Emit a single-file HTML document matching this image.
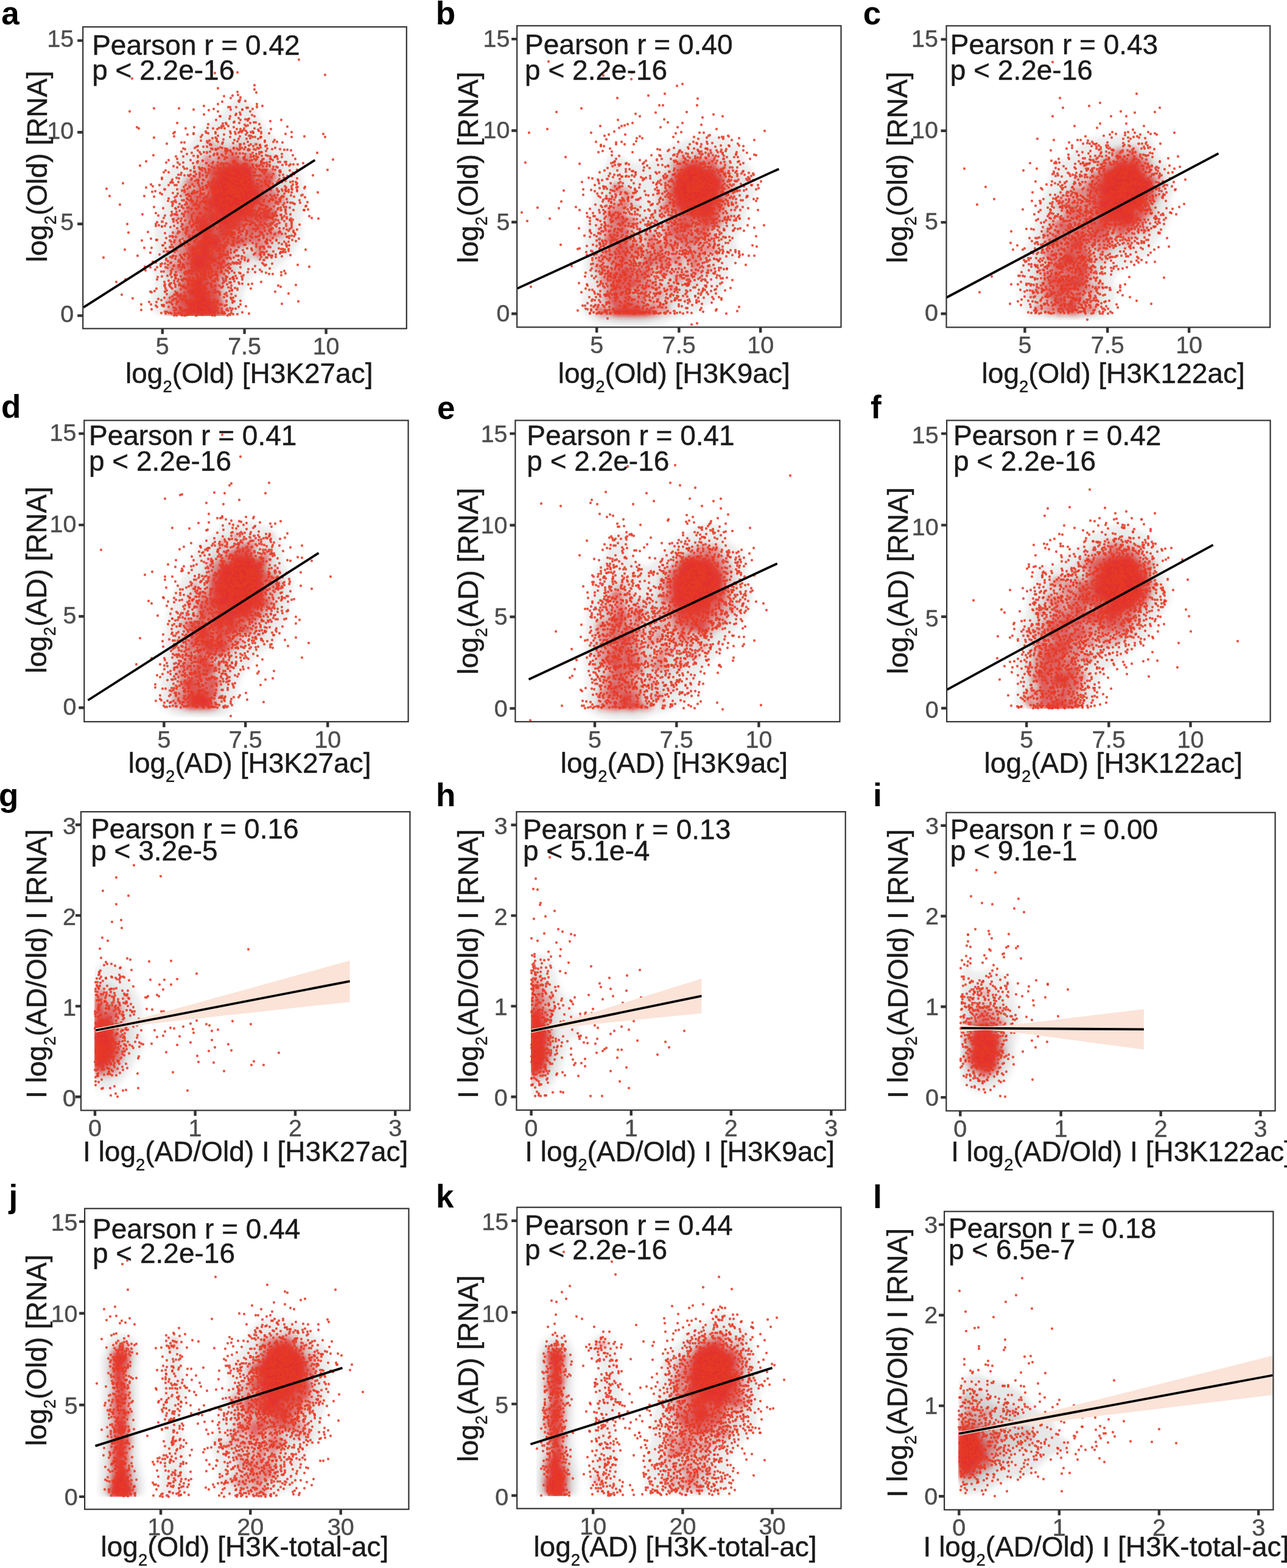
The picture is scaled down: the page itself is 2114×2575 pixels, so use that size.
<!DOCTYPE html><html><head><meta charset="utf-8"><title>Figure</title><style>html,body{margin:0;padding:0;background:#fff;}svg{display:block;}text{font-family:'Liberation Sans', Arial, Helvetica, sans-serif;stroke-width:0.45px;}</style></head><body>
<svg xmlns="http://www.w3.org/2000/svg" width="2114" height="2575" viewBox="0 0 2114 2575">
<rect width="2114" height="2575" fill="#fff"/>
<defs><filter id="bl2" x="-5%" y="-5%" width="110%" height="110%"><feGaussianBlur stdDeviation="2"/></filter><filter id="bl3" x="-10%" y="-10%" width="120%" height="120%"><feGaussianBlur stdDeviation="3.5"/></filter><filter id="bl4" x="-10%" y="-10%" width="120%" height="120%"><feGaussianBlur stdDeviation="4"/></filter></defs>
<g id="pa">
<clipPath id="ca"><rect x="136.2" y="44.2" width="531.6" height="495.4"/></clipPath>
<g clip-path="url(#ca)">
<g clip-path="url(#ga)"><g fill="#707070" fill-opacity="0.13" filter="url(#bl4)"><path d="M397 161l-12 0l-21 24l-41 35l-10 15l-28 30l-25 43l0 6l7 12l0 13l-13 27l1 52l-6 21l6 19l0 10l-7 25l1 11l10 14l135 0l5-9l1-27l14-27l8-5l14 0l14-6l29-24l13-23l4-18l-1-21l9-19l0-14l-13-52l-17-25l-31-30l-17-24l-6-17z"/><path d="M409 220l-5 0l-21 12l-31-2l-9 4l-48 67l-12 49l-1 23l-13 58l3 37l-6 33l8 17l104 0l5-9l1-33l9-31l7-13l10-7l15 4l17-3l27-26l7-11l3-10l0-74l-24-43l-34-34z"/><path d="M412 257l-19-5l-15 0l-22 9l-20 18l-26 40l-13 90l-6 23l1 33l-9 25l0 15l9 13l69 0l7-13l-4-39l20-52l20-16l28-4l12-11l7-13l5-16l0-15l-8-49l-13-18z"/><path d="M402 269l-23-2l-14 6l-9 8l-11 22l-8 46l-12 24l-2 22l-8 26l0 31l-12 41l0 12l10 9l22 2l14-7l2-7l-9-43l16-35l7-30l29-26l25-11l8-10l0-47l-9-19z"/><path d="M384 277l-14 6l-8 10l-5 13l-1 16l10 18l11 6l15 1l10-4l10-11l4-22l-8-23l-10-8z"/></g></g><g clip-path="url(#ga)"><g fill="#e8231f" fill-opacity="0.2" filter="url(#bl3)"><path d="M373 481l-1 5l5 1l1-5zM389 428l-1 5l5 1l1-5zM408 419l-4 0l-4 3l-1 4l2 3l4 1l4-2l2-5zM443 415l-1 5l5 1l1-5zM471 370l1 5l6 4l5-1l-1-5l-6-4zM472 356l-1 5l5 1l1-5zM475 310l-13 0l-1 5l13 0zM421 234l-4 3l0 4l5 3l4-3l0-4zM446 256l-4 0l-1 5l-5 4l-13-7l-7 2l-2-2l2-11l-5-1l-9 4l-1 7l-4 2l-2-4l1-6l7-5l0-5l-3-2l-10 3l-6-1l-11 7l-4-4l-9-4l-9 2l0-7l-3-4l-5 0l-4 4l0 5l3 3l7 1l-1 7l4 7l-3 3l-5-6l-5 0l-5 6l-2 6l-5-2l-4 3l0 5l3 4l-1 6l-3 2l-4-2l-5 1l2 7l-12 7l-2 11l-4 3l2 14l5 4l1 5l-5 6l0 7l-8 6l-6 1l-3 4l1 7l5 0l7-3l3 5l-4 5l1 6l-8 0l-8 13l2 4l-2 11l6 11l-10 7l-3 7l-1 11l4 11l4 0l4-5l11 5l1 4l-2 2l-9 1l0 4l6 3l1 6l-7 1l0 8l-10 6l-3 5l0 6l4 7l-5 4l-1 4l4 5l6 0l7 5l10-1l4 2l51 0l4-2l12 2l6-2l2-2l0-4l-6-8l3-6l0-6l-7-4l2-15l-3-3l6-8l4 1l4-3l0-4l-5-6l0-6l8-3l2-3l-7-12l8-4l1-10l8-8l10-1l6-5l4 0l2 7l-1 10l7 6l9 0l4-3l3-7l0-8l6-5l1-5l10-6l8 0l4-3l-1-8l-16-4l2-5l7 0l2-2l0-5l-4-5l1-12l-4-5l0-3l3-3l2 8l6 0l6-14l0-5l-5-4l-6 0l-3-7l-7-5l1-9l2-2l6 1l1-5l-4-4l-2-11l-7-5l-6-1l1-8l5-4zM362 459l5-2l3 5l-2 2l-4-1zM294 394l2-3l3 0l4 5l-4 3zM311 309l4-1l2 2l-5 1zM402 201l-1 5l5 1l1-5z"/><path d="M373 460l2 3l1-2zM284 423l-3 0l-2 3l4 0zM406 421l-4 3l1 3l5-2zM290 355l-4 2l0 4l5-2zM326 267l0 4l4 2l0-5zM400 241l-10 3l-7-2l-3 4l-6 3l-13-8l-9 2l-2 3l2 4l3 0l3-4l2 0l3 3l1 5l-9 2l-1 5l3 3l-5 4l-4 0l-2-2l-1-9l-5-2l-4 5l0 4l4 5l0 6l-3 3l-7 1l-6 8l4 6l4 1l7-9l3 7l-5 7l-6 4l-4-6l-9-4l-10 1l-3 3l0 9l10-1l8 1l2 2l-7 6l-6 0l-5-4l-7 2l2 9l9 2l3 3l-7 1l0 9l-5 4l1 15l-2 2l-2-1l-1 2l5 3l1 5l-6 4l2 10l-2 2l-8-2l-7 9l3 6l-3 10l1 3l7 6l0 4l-5 4l7-1l6 6l-6 6l-7-4l-3 7l-6-1l-2 2l0 5l3 3l6-1l9 5l6 0l1 5l-2 8l-4 4l1 10l-8 8l-10 5l-3 5l2 6l7 2l-1 3l-9 5l0 4l2 2l6-1l4 5l12 0l6 3l10-2l8 2l28 0l7-3l9 2l7-2l1-4l-9-10l5-3l1-5l-6-4l0-10l-5-8l1-4l6-5l-6-3l-1-5l4-4l8-2l-1-10l10-1l0-3l-6-7l2-7l2-2l5 0l-1-3l-5 1l0-12l3-3l8 3l9-6l7 1l3-3l9-3l2 2l1 10l-1 9l5 4l7 0l6-9l0-4l-3-5l6-1l5-10l11-5l7-1l3-3l-2-4l-6-2l-5 0l-3 2l-8-1l4-2l3-5l-1-5l-5 1l-2-2l2-2l10-2l3 5l3 0l-4-6l2-13l-4-5l-2-7l5-4l8 1l5-5l-1-4l-9-2l-3-7l-5-2l-3-4l1-10l6-10l-2-9l-5-4l-9 0l-2-5l-6-4l-2-5l-4 0l3 6l-2 2l-6-2l-8-9l0-10l-7 2l-1 8l-8 2l-3-16l2-2l4 0zM300 405l2 3l-1 4l-3-2zM429 390l3-2l5 3l1 3l-6 2l-3-3zM297 387l3 1l5 6l0 4l-5 5l-9-8zM404 380l-2 3l-6-1l5-4zM385 248l3 2l-1 3l-4-1zM421 237l-1 3l2 1l1-3zM346 231l-5 3l0 3l3 2l4-2l0-4z"/><path d="M439 397l-5 1l0 4l5 0zM292 385l-7 5l2 3l3 0l2-3zM306 298l0 4l2 2l19 0l1-2l-2-4l-7-1l-2-2l-8 0zM334 280l-4 1l-3 7l3 4l3-1l3-8zM357 257l0 2l4-1zM407 252l-2 3l1 3l3 0l1-5zM450 281l-12-1l-7-8l-8 1l-8-2l-2-2l1-3l-3-3l-10-1l-7 4l-3-12l-9 1l-2-6l-10 3l-6-7l1 4l4 2l1 4l8 7l-1 3l-5-3l-7 7l-2-5l-3 0l-4 4l-8 2l-4-3l0-9l-4-1l-2 2l0 5l5 4l-2 18l3 5l-6 8l-2 7l-7 1l-7 8l-9 1l-5-4l-6 1l3 7l7 1l5 5l-2 3l-7 1l2 7l-7 4l3 21l2 2l5 0l3 4l-3 6l-7-5l-6 1l2 9l-2 7l8 11l-5 5l2 14l-3 2l-4-3l-3-5l1-5l-6-6l-4 4l1 2l4 1l5 14l4 1l5-2l1 5l-14 13l-5-1l-4 3l-6-1l0 4l6-1l4 4l9 2l5-6l5 0l-4 5l-1 19l-5 2l2 10l-10 9l-8 4l-4 5l1 3l4 0l4-7l3 1l2 7l-4 5l3 6l-4 2l-5-4l-6 4l1 2l7-2l5 7l10 0l6 3l10-2l7 2l29 0l7-3l6 0l3 2l6-2l0-4l-11-9l3-4l3 0l1-3l-5-6l1-7l-5-8l1-13l-2-7l7-7l4-1l-2-6l7-6l-2-9l3-3l2-19l3-3l12 1l5-4l7 1l13-6l5 9l-1 14l7 3l4-3l4-7l-6-5l-1-12l-8-5l-2-5l3-1l4 6l9-5l8 7l7-1l13-6l-2-3l-5-2l-15 5l-2-2l0-5l8-5l-1-2l-6-1l-1-3l4-4l7-2l5-8l-2-7l-8-6l2-7l7-2l8 1l4-3l-1-2l-7-2l-4-8l-4 0l-8 5l-4-2l0-2l8-6l1-11l6-10zM425 408l4 1l0 8l-2 0l-4-5zM316 382l2 2l-1 5l-3-2zM406 378l-1 7l-9 1l-4-3l-8-1l3-3l10-1l5-3zM318 346l1 1l-4 3l-1-2zM341 315l3 1l0 5l-5-2zM334 310l2 6l-6 6l-5-3l4-2zM421 278l2 0l5 7l0 3l-5 7l-4-3l0-12zM346 233l-3 1l1 3l3-2z"/><path d="M422 415l-1 2l4 2zM458 383l-6-1l-2 2l-4 0l-4 3l0 2l6 1l9-4zM329 310l-3 1l0 4l4-1zM307 299l2 3l17 0l-1-3l-7 1l-5-4l-4 0zM340 259l0 4l2 0l1-3zM449 283l-8 1l-11-9l-3 0l3 13l-7 10l-3 0l-2-3l0-16l3-5l-7-1l-3-3l-1-5l-11-1l-6 4l-2-2l1-8l-2-3l-9 2l-3-5l-2 0l-2 3l6 7l0 4l-2 2l-6-3l-6 6l-6-4l-8 5l-8 0l-2 14l3 6l-6 8l1 4l-3 5l1 5l5-1l3 4l0 3l-3 3l-5-3l-11 3l-7-7l-5 0l-3 2l-5-5l-3 1l2 5l5-1l9 8l4 0l3 4l-3 4l-5 0l0-4l-7 1l-1 2l5 6l-3 2l-8 0l-1 2l3 14l3 2l1-1l3 5l6 3l-2 7l4 3l0 2l-3 3l1 8l-5 2l-4-6l4-5l-1-3l-9-7l-4 2l2 14l7 10l3-2l2 2l0 3l-2 2l-6-1l-3 2l0 7l6 8l-4 10l-9 6l-5 6l-6 1l0 2l5 3l4 0l7-7l6 0l2 3l-7 7l0 18l-5 3l1 3l5 2l-1 7l2 4l-3 1l-3-5l-4 0l-6 6l0 5l4 7l-5 4l3 8l-4 6l10 1l5 3l48 0l6-3l6 0l3 2l5-2l-1-4l-6-3l-4-5l0-2l6-5l-4-6l0-7l-4-6l0-17l-2-3l-6-1l-1-7l2-1l5 7l5-4l3-10l8-6l0-4l-3-5l3-2l3-7l0-17l2-2l14 2l4-3l10 0l2-2l-4-7l1-3l-3 3l-3 0l-6-6l-10-2l0-2l4-3l13-2l7-4l0-3l-7-4l1-2l10 4l-2 14l6 5l-4 4l3 4l6 1l4 8l3 1l1-6l-12-12l4-4l-2-7l2-2l4 2l2 10l3 2l0-7l2-2l6 0l5-5l-4-6l7-6l6-2l3-6l-2-7l-7-3l-4-4l4-2l2-9l6 0l2-2l0-5l-5-2l-5 4l-8-1l1-5l9-9l0-8l6-10zM340 471l2-1l2 2l-3 1zM348 437l1-3l4 2l-3 3zM348 410l2-1l1 2l-2 1zM365 391l3-1l2 3l-3 2zM355 380l1 3l-2 1l-1-2zM412 364l5-2l5 4l-5 1l-4-1zM318 342l3 5l-8 6l-2-4zM430 333l2 3l-4 7l-7 5l-2-4l4-4l0-3l4-4zM436 327l4 3l-2 3l-3-1zM431 313l1-3l2 2l-2 2z"/><path d="M308 387l-1 3l4 3l1-5zM456 384l-3-1l-8 5l4 0zM304 371l-2 3l3 7l6 1l2-3l-6-7zM412 368l-2 2l-2 10l2 3l5 0l0-10l2-3zM306 343l1 11l3 2l1-3l-2-4l3-5zM447 321l-2 3l5 2l2-4zM314 319l1 2l6 2l0-4l-2-2zM306 314l-1 2l3 1zM309 298l1 3l3-1l-1-3zM447 284l-5 2l-6-5l-7-2l1 6l9 8l-4 2l-4-4l-2 1l-3 9l-6-1l-3-6l-1-14l2-5l-6-2l-3-6l-10-1l-6 4l-3-3l0-11l-3 0l-6 4l0 7l-2 2l-8-1l-4 4l-12-1l-3 7l-4-6l-3 1l0 5l-3 5l5 8l-6 8l-1 11l5 3l2 7l-4 4l-8-3l-3 3l-5 1l1 8l-7 4l-1 4l2 7l-6 6l-1 7l5 2l3 4l-3 3l3 5l-3 10l6 3l2 5l-4 3l-2-4l-3-1l-3 3l2 6l-3 3l-10 0l0 6l6 7l0 4l-5 10l-8 4l-4 7l-5 1l5 1l3-4l7-3l5 0l2 2l0 6l-5 2l-2 3l-1 10l3 13l-2 9l3 6l-5 1l-6-6l-6 6l0 5l4 4l8 1l4 8l-2 2l-4-5l-10-1l0 4l4 2l-4 6l1 3l6 0l7 4l7-2l10 2l30-1l6-3l5 0l2 2l5-1l-1-4l-6-2l-4-6l0-3l5-4l-4-8l0-4l-3-3l0-21l-6-1l-3-3l0-8l4-2l3 6l3 0l2-2l0-8l10-7l1-3l-5-7l5-3l3-6l0-8l-6-6l6-6l18 2l4-3l9 0l-3-5l-6-1l-3-4l-6 0l-6-3l0-4l3-3l15-3l5-4l-7-7l2-3l12 3l4-4l8 2l6 5l-3 4l-2 0l2 8l9-4l1-3l-2-4l16-11l0-10l-2-2l-4 0l-9-7l-10 11l-4 0l-3-4l1-4l8-9l7-1l1-15l-3 1l-2-5l3-5l5 6l7-5l0-8l6-11zM340 458l4 2l-1 7l4 5l-2 3l-4 0l-2-2l-2-11zM313 455l4-2l3 2l-2 2zM350 432l4 3l-1 4l-3 2l-4-5zM348 408l5 2l-2 4l-5-2zM364 390l4-1l4 3l0 2l-2 2l-4 0l-2-2zM356 378l2 5l-5 3l-1-5zM357 367l1 1l-3 5l-5-3zM330 345l2 1l-1 5l-3-1zM333 333l3-1l3 5l-5 2z"/><path d="M291 503l0 2l4 0l-1-2zM345 462l0 5l3 2l3-3l4 0l0-2l-5 0l-3-3zM304 373l0 4l7 3l-3-6zM431 371l-2 0l-3 4l4 0l2-2zM412 370l-3 9l2 3l3 0l0-12zM431 281l0 3l11 9l-8 5l-4-4l-1 3l5 4l1 7l2 2l4 0l3-4l0-9l5-9l-1-2l-8 1l-4-5zM389 257l-6 2l0 8l-3 3l-7-1l-5 4l-11 0l-6 8l-4-3l-4 4l0 3l3 3l4 0l5 4l-2 3l-7-1l-4 5l5 22l-4 4l-8-3l-5 4l1 6l4-2l5 4l0 5l-7 4l1 6l-3 6l-5-4l4-17l-3 4l-5 2l2 8l-4 6l2 3l-1 4l3 5l-2 4l2 9l-3 3l0 3l6 1l2 7l-3 5l-3 0l-1-4l-3-2l-2 3l3 6l-6 4l-8-2l0 7l6 6l-4 16l4 1l1 9l-8 8l2 5l-2 7l3 5l0 7l-3 6l5 7l4 0l5 3l-6 2l-3-2l-9-1l-4-5l-3 0l-3 4l0 5l2 2l9 2l5 6l0 6l-2 2l-7-5l-6 7l1 3l10 4l10-2l6 2l31 0l10-5l4 3l4-1l-2-3l-4 0l-4-6l-1-6l4-3l-1-5l-3-3l-7 3l-3-4l2-3l6 0l0-15l-4-2l-2 4l-5 3l-6-3l-1-5l-3-3l6-11l5 3l0-7l4-4l4 1l2 5l2 0l1-5l-2-4l12-8l-6-7l0-2l6-4l0-3l-9 0l-1 4l-3-1l0-3l4-5l7 2l5-3l0-4l-8-4l-2-3l7-1l3-3l-1-2l-5 0l-2-2l0-6l2-2l5 2l4 4l0 3l6 3l10 1l4-3l6 1l2-1l-2-3l-4 0l-5-4l-10 4l-4-2l1-9l3-5l10-4l6 0l4-3l-6-7l2-4l7 0l6 3l4-4l4 0l17 6l13-9l-1-9l-4 1l-7-7l-3 0l-7 9l-4 1l-5-3l-1-7l10-10l6-2l-1-10l-3-2l2-11l-3-3l-7-1l-2-2l-3-24l-8-8l-6 0l-8 3l-4-4zM329 451l-1 4l-5-1l-4 4l-9 2l-2-3l4-5l11 0l2-2zM333 443l3 0l6 6l0 4l-2 2l-4-7l-4-3zM351 431l4 3l0 4l-6 5l-4-9zM323 411l3-1l2 3l-4 2zM347 407l5 0l3 4l0 4l-7 1l-4-5zM357 364l3 3l-2 5l1 11l-3 4l-4 1l-2-5l4-8l-6-5l0-2zM406 352l2 3l-4 3l-1-4zM429 351l2 4l-3 3l-1-4zM339 345l2-1l2 4l-2 1zM350 343l4 3l-1 3l-5-3z"/><path d="M351 473l-3 5l0 6l5 2l0-13zM364 400l3 1l2-2l-4-1zM393 395l-4-3l-8 4l5 3l4 0zM412 377l-1 3l2 1l1-1zM434 343l-4 4l2 4l-1 11l6 1l6-5l1-4l-5-9zM327 340l-4 1l2 5l3-3zM442 296l-6 2l-1 6l3 5l5-2zM447 287l-4 2l1 2l3-1zM345 281l-1 4l4 2l2-3l-2-3zM389 258l-3 0l-3 3l0 9l-10 1l-7 4l-1 4l-5-4l-6 4l-2 8l6 6l-4 3l-8 0l-3 3l5 21l-5 6l-5-3l-3 0l-3 3l0 3l5 1l4 4l1 7l4 6l-3 4l-2 0l-4-3l0-5l-2 0l-1 10l8 7l3 0l1 3l-9 1l-4-7l-10-4l0 10l3 5l-2 3l1 9l-3 4l2 1l3-2l3 3l0 7l-2 5l-5 2l-5 5l-12 0l1 5l6 5l-3 14l4 3l-1 13l-6 5l11 1l11-5l2 7l-3 3l-15 4l-1 3l5 5l-11 10l0 3l5 5l10 3l-2 3l-6 1l-7-3l-5 0l-4-5l-4 1l-2 4l2 4l9 2l6 7l0 7l-2 2l-9-3l-4 5l12 6l6-2l10 2l30-1l8-5l0-4l-3-5l3-10l-3-1l-5 2l-4-3l-2-5l-6-1l0-2l7-6l-7-3l-7-10l5-7l0-6l-3-5l-5-2l3-4l4 0l8 7l4-4l-6-13l1-2l10 1l4 4l-1 5l4 0l4-5l0-2l-10-8l-2-5l-7-4l-1-8l7-2l8 8l11-2l-12-10l4-4l0-10l3-3l10 6l2-3l0-5l4-6l9-4l7 0l2-3l-6-9l3-2l5 0l0-5l3-3l5 2l-3 7l2 2l7-5l6 1l4-4l-10-7l0-7l4-2l6-8l6-1l-1-7l-4-3l3-12l-2-3l-5 0l-2 6l-3-2l1-7l-4-24l-9-8l-8 3l-6-1l-3-3l2-7zM350 503l1 2l-3 2l-1-2zM326 408l3 6l-5 2l-2-5zM358 363l6 6l-4 3l0 12l-8 6l-3-3l0-5l4-6l-7-6l0-2zM346 345l4-3l3 1l6 10l-2 1l-9-5z"/><path d="M334 450l-2 0l0 3l-4 4l-14 4l5 8l-6 7l-6 2l0 3l4 4l10 2l2 2l-2 3l-8 2l-7-3l-6 0l-4-5l-4 3l1 4l8 1l8 10l0 6l-3 3l-3 0l-3-3l-5 2l1 3l7 4l9-2l7 2l31 0l8-5l0-5l-4-5l-4 4l-4-1l0-3l3-3l5 1l2-4l-7-1l-4-7l-7-2l0-4l5-5l-6-3l-6-10l5-7l0-6zM319 472l1-1l2 3l-2 1zM385 396l2 2l4-1l-1-3zM326 357l-2 2l0 4l3 4l-1 12l7 9l-3 9l-13 10l-10-2l1 5l7 7l-4 10l4 3l-1 20l6-2l-1-8l2-2l5 6l10-3l7 6l3-2l-1-7l-3-3l-4-10l1-2l2 0l5 7l7-1l5 3l0-2l-5-4l-1-4l-8-4l-1-10l2-2l8 0l6 7l8-1l-10-9l1-4l3-2l0-10l-10 4l-4-5l4-11l-6-4l0-6l-5 0l-3 2l-4-9zM325 407l2 0l3 4l0 4l-2 2l-5 0l-2-2l0-5zM334 401l2 2l-2 3zM338 384l3-4l5 3l-1 2zM434 345l-2 2l1 14l4 1l4-3l1-6l-4-7zM325 341l-1 2l2 1l1-2zM441 297l-5 4l2 7l3 0l2-3zM345 282l0 3l2 1l1-3zM406 271l-6 0l-3 2l-9-3l-9 3l-4-1l-11 10l-4-5l-3 0l-3 6l1 5l4 2l0 3l-7 5l-5-1l-3 2l3 6l0 8l2 4l-1 5l-4 5l-6-3l-3 0l-2 3l10 7l1 8l9 0l7 9l6 3l-1 2l-9 1l-6-7l-4 0l-2 2l-8-2l0 3l12 8l0 4l5 0l4-4l11 11l6 1l1 3l-6 6l-6-7l-3 3l1 6l6 0l5 5l3 0l2-8l4-5l8-4l8 0l0-3l-5-5l-4 3l-3-5l1-3l4-2l9 1l0-4l5-4l4 0l3 3l-3 8l2 0l3-5l7-1l-5-6l-3-10l7-2l6-8l5-1l-1-5l-5-4l4-13l-5-1l-2 6l-6-4l2-3l-2-21l-2-6zM379 364l2 3l-5 4l-2-3zM380 347l1 2l-4 4l-2-4zM351 300l5 5l-2 2l-6-2zM388 258l-4 3l1 4l4-4z"/><path d="M295 487l-2 4l4 2l1-3zM334 453l-6 5l-13 4l7 7l1 6l-2 2l-12 1l-1 3l5 4l10 2l1 4l-6 3l-8 0l-3-2l-5 1l8 11l0 5l-4 5l-9-3l-1 3l9 5l7-3l8 3l28 0l10-6l-3-7l-7 4l-3-2l0-5l4-4l3 0l-3 0l-6-9l-5 0l-2-3l2-6l3-2l-5-2l-6-11l0-3l5-4zM336 499l4-1l1 2l-3 1zM316 441l-2 6l3 2l1-6zM340 386l-3 1l-6 8l0 3l4 0l3 4l-4 6l-3 0l0 10l-8 0l-3-2l0-7l10-4l0-4l-8 3l-3 4l-6 0l-5-2l0 2l10 10l-6 8l5 3l0 7l6 1l4 5l7-2l10 5l0-7l-3-3l-5-12l7-3l3 9l4 0l2-4l-3-4l-6-1l-1-12l3-3l8 0l5 6l7 0l-9-7l0-4l4-4l0-6l-2-1l-6 4l-6-6zM363 377l-2 4l4 1l1-3zM382 371l-5 2l1 3l-6 4l-2 7l5 0l2-10l6-3zM392 366l-1 4l5 1l0-2zM325 360l0 3l4 5l-2 10l5 7l4 0l5-7l6 2l3-3l-6-5l-1-6l-4 2l-1 6l-4-1l-3-3l3-5l-1-5l-2-2l-4 0zM346 351l-3 5l6 4l0 4l2 1l3-3l-1-8l-3-3zM434 347l0 13l3 1l3-2l1-6l-5-6zM335 325l0 3l6 2l-2-5zM440 298l-3 3l1 6l4-1zM359 278l-3 2l0 3l4 0l1-2zM405 272l-7 2l-15-2l-5 4l-8 1l-7 7l-3 10l-6 4l3 8l-2 2l-7 1l1 11l-3 6l-1 14l13 4l2 5l8 5l-1 3l-8 1l0 3l12 11l2-5l5-5l14-7l5 2l0-3l5-4l8-1l2 5l4 1l1-2l-4-4l0-7l-6-5l0-2l3-1l4 3l4 0l5-8l6-1l0-3l-7-6l5-8l0-4l-3-1l-3 7l-6-4l1-13l-2-5l0-10l-3-4l-4-1zM381 346l0 5l-5 3l-2-6z"/><path d="M334 455l-6 4l-10 3l5 6l1 7l-3 3l-12 2l6 5l9 1l1 5l-3 3l-5 1l-13-2l7 12l-1 8l-8 2l2 3l4 0l4-3l3 0l6 4l29-1l7-5l0-4l-2-2l-7 4l-3-1l-2-8l3-3l-2-7l-7-1l-2-2l0-13l-7-12l6-5zM326 497l3 3l-1 3l-3-2zM334 499l3-3l3 0l3 5l-3 2l-4-1zM318 432l1 3l5 1l4 5l4-2l10 4l2-2l-9-17l-7 4l-6 0zM347 422l-2 2l1 3l3 1l1-5zM322 419l2 4l6-1l-1-2zM310 408l8 5l-1-3zM359 391l-8 3l-6-6l-5-1l-7 8l6 4l0 6l-6 5l0 4l4 6l4-1l1-3l-1-9l4-3l10 0l0-4l5-6zM376 380l-2 0l-3 4l1 3l2-1zM330 371l-3 3l1 5l4 5l3 0l3-7zM341 368l-1 3l2 1l1-3zM327 359l-1 4l5 4l2-6l-2-2zM347 352l-3 3l7 4l0 5l1-10zM436 350l-2 7l3 3l3-7zM336 326l1 2l3 0l-1-2zM426 307l-2 0l0 6l2-2zM439 300l-1 6l3 0l0-5zM403 273l-3 3l-8-3l-9 0l-5 5l-9 1l-6 7l-2 8l-6 4l3 9l-2 2l-7 1l1 9l-3 9l1 2l6 0l3 3l-2 2l-7 0l-2 4l13 3l1 5l10 8l-3 3l-7 1l1 4l8 6l2 0l10-12l5 0l7-5l19-5l0-5l-7-5l3-5l10 4l5-8l5-1l-1-3l-6-4l-1-6l-6-5l2-10l-3-10l0-8l-2-2l-5 0zM369 342l5 4l7-1l2 2l-4 9l-3 0l-4-8l-4-2l-1-2z"/><path d="M304 517l2 1l3-3l-4 0zM332 457l-5 4l-6 1l4 10l-1 5l-13 4l6 4l8 0l2 2l-1 6l-2 2l-17 1l5 9l0 7l6 5l30 1l8-4l1-3l-2-3l-10 4l-3-7l-4-2l-4 0l0 5l-5 3l-6-5l0-8l2-3l5 4l2 0l4-5l7 2l-1-4l-7 1l-2-2l1-16l-7-10l0-2l6-4zM337 509l2-1l3 3l-2 2zM320 431l1 3l3 0l4 4l14 3l-4-12l-3-3l-4 2l0 7l-4-2l-1-4zM338 407l-3 2l-1 5l3 4l3 0l1-9zM339 389l-2 5l6 2l-3 5l1 3l12 0l1-6l5-4l-2-2l-3 5l-3 1l-6-9zM329 373l-1 4l3 5l3 1l3-5l-5-5zM327 360l0 3l4 2l1-4zM346 354l1 2l4-1l-1-2zM436 352l-1 5l3 1l1-5zM411 280l-10 0l-8-6l-10 0l-4 5l-10 1l-6 8l-1 7l-6 4l4 7l-4 4l-6 1l1 7l-3 8l4 3l6-6l3 4l-5 9l-8 2l6 3l4 0l2-2l4 2l-3 4l1 3l9 6l-1 4l-9 2l5 6l4 1l5-5l-3-12l-6-5l1-3l4 0l4 3l6-1l2 2l-2 8l5 2l7-6l7 0l10-3l1-5l-7-6l2-4l5-2l4 5l2 0l2-5l6-4l0-2l-6-5l-1-6l-5-4l2-14z"/></g></g><g fill="none" stroke="#e63a26" stroke-opacity="0.85" stroke-width="4.3" stroke-linecap="round"><path d="M382 118h0m-3 43h0m-44 13h0m53 2h0m-37 3h0m64 0h0m-17 1h0m13 3h0m-17 2h0m-59 3h0m60 0h0m23 3h0m-9 4h0m-25 6h0m-93 1h0m80 0h0m55 2h0m-62 3h0m-139 2h0m203 1h0m-3 5h0m-71 2h0m43 0h0m15 0h0m67 0h0m-140 1h0m67 0h0m10 0h0m-131 1h0m33 0h0m61 0h0m-11 2h0m36 0h0m-46 2h0m51 0h0m-123 1h0m214 0h0m-122 1h0m-24 1h0m57 1h0m-44 2h0m-37 2h0m14 0h0m46 1h0m45 1h0m20 0h0m-157 1h0m5 0h0m38 0h0m-67 2h0m91 0h0m-18 2h0m80 0h0m-102 2h0m-24 4h0m46 0h0m37 0h0m-80 1h0m45 0h0m5 0h0m40 0h0m7 0h0m-76 2h0m153 0h0m-99 2h0m-44 1h0m5 0h0m0 1h0m42 1h0m6 0h0m11 0h0m-69 1h0m22 0h0m111 0h0m-106 1h0m-6 1h0m66 1h0m23 0h0m-95 1h0m67 1h0m-11 1h0m-42 1h0m-68 1h0m131 0h0m-17 2h0m9 0h0m34 0h0m-115 1h0m77 0h0m1 0h0m-171 1h0m145 0h0m44 0h0m41 1h0m-112 1h0m80 0h0m-36 2h0m-40 1h0m14 0h0m39 0h0m74 0h0m-98 1h0m84 1h0m-79 1h0m47 0h0m-142 1h0m66 0h0m82 0h0m5 0h0m-38 1h0m0 0h0m-73 3h0m31 1h0m59 0h0m5 0h0m14 0h0m-180 1h0m158 0h0m-33 1h0m62 0h0m-131 3h0m14 0h0m23 0h0m116 0h0m-117 1h0m13 1h0m9 0h0m-93 1h0m185 0h0m-169 1h0m24 0h0m85 0h0m-100 1h0m21 0h0m55 0h0m31 0h0m3 0h0m51 0h0m-140 2h0m-24 2h0m86 0h0m-40 1h0m64 1h0m11 1h0m-86 1h0m57 0h0m50 0h0m-175 1h0m60 1h0m53 0h0m2 0h0m38 0h0m8 0h0m13 0h0m30 0h0m-161 1h0m130 0h0m-123 1h0m75 1h0m41 0h0m33 1h0m6 0h0m-200 1h0m127 1h0m-67 1h0m32 0h0m28 0h0m13 0h0m-43 1h0m36 0h0m11 0h0m77 0h0m-193 3h0m39 0h0m132 0h0m-188 1h0m42 0h0m45 0h0m-75 1h0m61 0h0m22 0h0m15 0h0m7 0h0m66 0h0m-175 1h0m30 0h0m55 0h0m-129 1h0m98 0h0m22 0h0m82 1h0m-81 1h0m23 0h0m-82 1h0m73 0h0m43 0h0m-79 1h0m14 1h0m56 0h0m-113 2h0m167 0h0m-241 1h0m53 0h0m20 0h0m106 0h0m50 1h0m-49 1h0m-44 1h0m2 0h0m78 0h0m-118 1h0m31 1h0m-52 1h0m64 0h0m-54 1h0m83 0h0m53 0h0m-97 1h0m79 0h0m-110 1h0m6 0h0m95 0h0m-144 1h0m34 0h0m27 0h0m106 0h0m-49 1h0m20 2h0m-88 1h0m-16 1h0m74 0h0m20 0h0m12 0h0m-130 1h0m73 0h0m131 0h0m-94 4h0m48 0h0m-102 1h0m30 0h0m41 0h0m-112 1h0m24 0h0m106 0h0m17 1h0m1 0h0m37 0h0m-204 1h0m76 0h0m41 0h0m2 0h0m55 0h0m-99 1h0m53 0h0m-141 1h0m128 0h0m59 0h0m-47 1h0m-94 1h0m2 0h0m26 0h0m72 0h0m24 0h0m-153 1h0m149 0h0m22 0h0m-183 1h0m121 0h0m-71 1h0m66 0h0m59 0h0m-202 1h0m11 0h0m10 0h0m146 0h0m-125 1h0m206 0h0m-184 2h0m11 0h0m58 0h0m70 0h0m-84 2h0m92 0h0m52 0h0m-239 1h0m73 0h0m32 0h0m8 0h0m-46 2h0m22 0h0m94 1h0m-201 1h0m1 0h0m18 0h0m40 1h0m90 0h0m31 1h0m13 0h0m-121 2h0m67 0h0m38 0h0m-143 1h0m18 0h0m54 1h0m14 0h0m34 0h0m25 0h0m-179 2h0m86 0h0m10 0h0m39 0h0m-93 1h0m7 0h0m9 0h0m11 0h0m42 0h0m-37 1h0m3 0h0m50 0h0m86 0h0m-98 1h0m85 0h0m-50 1h0m-79 2h0m26 1h0m79 0h0m-149 1h0m106 0h0m-104 1h0m165 0h0m-249 1h0m121 0h0m44 0h0m6 0h0m11 0h0m12 0h0m25 0h0m-159 1h0m35 1h0m28 0h0m105 0h0m24 0h0m-117 1h0m28 0h0m111 0h0m-119 1h0m61 0h0m-75 1h0m-69 1h0m98 0h0m30 0h0m14 0h0m-107 1h0m5 0h0m148 0h0m-87 1h0m7 1h0m42 0h0m-185 1h0m9 2h0m182 0h0m-160 1h0m69 0h0m106 0h0m-123 1h0m10 0h0m20 0h0m22 0h0m103 0h0m-205 1h0m53 0h0m102 0h0m38 0h0m-84 1h0m-20 1h0m-62 1h0m-26 2h0m119 0h0m-98 1h0m60 0h0m20 0h0m-86 1h0m57 1h0m-20 2h0m33 0h0m46 1h0m-64 2h0m30 0h0m123 0h0m-172 1h0m7 0h0m77 0h0m-71 1h0m-69 1h0m81 0h0m30 1h0m76 0h0m8 0h0m-146 2h0m137 0h0m-142 1h0m-16 1h0m64 0h0m76 1h0m-78 1h0m28 0h0m-81 1h0m86 0h0m1 0h0m-118 1h0m62 1h0m18 0h0m0 0h0m17 0h0m-4 1h0m-27 2h0m81 0h0m-78 2h0m46 2h0m-139 1h0m69 0h0m-45 1h0m64 0h0m-73 1h0m90 0h0m0 0h0m-61 1h0m-24 1h0m19 0h0m6 0h0m51 0h0m85 0h0m-66 1h0m-77 2h0m42 0h0m-89 1h0m52 0h0m4 1h0m55 0h0m85 1h0m-28 1h0m-160 1h0m42 0h0m30 0h0m100 0h0m-98 1h0m-13 1h0m20 0h0m28 0h0m10 0h0m-25 1h0m58 1h0m-126 1h0m62 0h0m33 0h0m17 0h0m-63 1h0m16 0h0m-31 1h0m41 1h0m-66 1h0m52 0h0m-67 1h0m13 0h0m99 0h0m-121 1h0m31 0h0m40 0h0m34 0h0m26 0h0m1 2h0m-109 1h0m68 0h0m-55 1h0m26 1h0m23 2h0m-34 1h0m36 0h0m-83 1h0m159 0h0m-88 1h0m36 0h0m-91 1h0m34 1h0m-4 1h0m12 3h0m19 0h0m-10 1h0m124 0h0m-154 2h0m79 0h0m-103 1h0m107 0h0m-70 2h0m5 0h0m65 0h0m-136 2h0m-7 1h0m24 0h0m17 0h0m25 0h0m40 1h0m1 0h0m-64 1h0m13 0h0m-12 1h0m28 0h0m155 0h0m-94 1h0m-180 1h0m129 1h0m44 1h0m14 0h0m-104 1h0m43 2h0m-26 2h0m80 0h0m-52 1h0m-23 1h0m37 0h0m15 1h0m-36 1h0m64 0h0m-140 1h0m137 1h0m-32 2h0m-118 1h0m37 1h0m43 0h0m-45 1h0m88 0h0m49 1h0m-127 1h0m76 0h0m-16 1h0m-39 1h0m19 0h0m4 0h0m16 0h0m2 0h0m17 4h0m9 1h0m-35 1h0m8 1h0m-58 1h0m61 0h0m-32 1h0m5 0h0m53 0h0m42 0h0m-120 1h0m88 0h0m6 0h0m-51 1h0m46 0h0m-88 1h0"/><path d="M491 98h0m-101 21h0m-37 1h0m65 20h0m-60 5h0m63 7h0m-26 8h0m-37 11h0m64 0h0m-47 5h0m32 1h0m-154 1h0m41 0h0m85 2h0m-166 3h0m149 8h0m15 4h0m30 1h0m55 1h0m-18 2h0m-51 3h0m-27 1h0m36 2h0m-35 2h0m8 0h0m-25 4h0m51 0h0m44 1h0m-21 1h0m-20 2h0m-66 1h0m56 0h0m-76 4h0m69 0h0m-55 2h0m80 1h0m-82 2h0m99 0h0m-1 1h0m23 4h0m-95 1h0m79 0h0m-95 1h0m109 1h0m-48 3h0m-56 1h0m49 0h0m33 2h0m9 1h0m-42 1h0m34 1h0m-5 1h0m-65 1h0m81 0h0m-68 1h0m76 0h0m13 0h0m-105 1h0m65 0h0m-12 1h0m29 1h0m-64 1h0m42 2h0m-12 2h0m23 0h0m-44 1h0m-130 1h0m185 0h0m-119 1h0m48 0h0m50 1h0m-91 1h0m45 0h0m21 0h0m33 0h0m27 0h0m12 0h0m-90 1h0m27 0h0m1 1h0m17 1h0m38 0h0m29 0h0m-208 2h0m36 0h0m20 1h0m51 3h0m45 0h0m-112 1h0m70 0h0m-19 1h0m-73 1h0m144 0h0m-18 1h0m-64 1h0m65 1h0m10 0h0m-21 3h0m-83 1h0m42 1h0m9 1h0m-47 1h0m41 0h0m26 0h0m61 0h0m-140 2h0m141 0h0m-123 1h0m79 0h0m1 0h0m-64 1h0m3 0h0m25 0h0m17 1h0m-77 1h0m46 2h0m36 0h0m23 0h0m87 0h0m-203 1h0m60 0h0m47 0h0m20 2h0m8 0h0m-69 1h0m6 0h0m-117 2h0m17 1h0m41 0h0m11 1h0m87 0h0m-69 1h0m116 0h0m-84 1h0m12 0h0m1 0h0m31 0h0m-136 1h0m91 0h0m14 0h0m79 0h0m-103 2h0m24 2h0m-121 1h0m13 0h0m15 0h0m135 0h0m-113 1h0m11 0h0m-19 1h0m-7 1h0m28 0h0m-100 1h0m72 0h0m131 0h0m27 0h0m-141 1h0m22 0h0m6 0h0m143 0h0m-122 1h0m23 0h0m14 0h0m-81 1h0m30 0h0m39 0h0m77 0h0m-92 1h0m50 0h0m-119 1h0m57 0h0m-28 1h0m38 0h0m72 0h0m-208 1h0m67 0h0m26 1h0m10 0h0m-69 1h0m32 0h0m3 0h0m38 0h0m24 0h0m7 0h0m-96 1h0m43 0h0m-6 1h0m3 0h0m10 1h0m114 0h0m-5 1h0m0 0h0m-198 2h0m60 0h0m15 0h0m10 0h0m46 0h0m99 0h0m-159 1h0m69 0h0m9 1h0m-30 1h0m21 0h0m-85 1h0m137 0h0m26 0h0m-89 1h0m52 0h0m14 0h0m-149 1h0m15 0h0m90 1h0m10 0h0m19 0h0m-148 1h0m-3 1h0m33 0h0m64 0h0m-36 1h0m82 0h0m52 0h0m-105 1h0m27 0h0m68 0h0m-183 1h0m173 0h0m27 0h0m-180 1h0m49 1h0m56 0h0m24 0h0m32 0h0m-28 2h0m13 0h0m-123 1h0m-59 2h0m105 0h0m-84 1h0m156 0h0m11 1h0m50 0h0m-165 1h0m5 0h0m0 0h0m68 2h0m27 0h0m-49 1h0m-22 2h0m35 0h0m-29 1h0m-93 1h0m134 0h0m60 0h0m-186 1h0m24 0h0m146 0h0m-10 1h0m3 0h0m-33 1h0m27 0h0m19 0h0m-95 2h0m68 0h0m1 0h0m30 0h0m-147 1h0m104 0h0m-40 1h0m90 0h0m-163 1h0m25 0h0m23 0h0m41 0h0m49 1h0m28 0h0m-104 1h0m16 0h0m64 0h0m20 0h0m-150 1h0m81 0h0m-26 1h0m-124 1h0m34 1h0m27 0h0m44 0h0m-41 1h0m38 0h0m58 0h0m17 0h0m-226 1h0m142 2h0m48 0h0m32 0h0m-175 1h0m30 0h0m28 0h0m165 0h0m-157 1h0m27 0h0m-69 1h0m50 0h0m47 0h0m-45 1h0m127 1h0m-35 1h0m-34 1h0m56 0h0m25 0h0m17 0h0m-146 1h0m51 0h0m27 1h0m-42 1h0m81 0h0m-175 2h0m8 1h0m90 1h0m4 0h0m45 0h0m-50 1h0m-70 2h0m15 0h0m29 1h0m128 0h0m-194 1h0m22 0h0m10 0h0m99 0h0m71 3h0m-157 2h0m92 0h0m28 0h0m26 0h0m-161 1h0m125 0h0m-149 1h0m8 0h0m96 0h0m-71 1h0m20 0h0m25 0h0m20 0h0m-107 1h0m39 0h0m-54 1h0m77 0h0m27 0h0m62 0h0m-127 2h0m153 0h0m-83 1h0m23 0h0m-62 1h0m23 0h0m20 0h0m91 0h0m-177 1h0m135 1h0m38 0h0m-187 1h0m43 0h0m117 0h0m-75 1h0m-17 1h0m10 0h0m44 0h0m52 0h0m16 1h0m-269 1h0m112 0h0m151 0h0m-69 1h0m-32 1h0m-84 1h0m91 0h0m64 0h0m-106 1h0m133 0h0m-64 1h0m-93 1h0m-46 2h0m70 0h0m29 0h0m8 0h0m59 0h0m6 0h0m-60 1h0m103 0h0m-193 1h0m61 0h0m102 0h0m-106 2h0m112 0h0m-283 1h0m128 0h0m104 0h0m0 0h0m35 0h0m-93 2h0m10 0h0m38 2h0m10 0h0m-35 1h0m40 1h0m-126 2h0m15 0h0m52 0h0m34 0h0m9 1h0m40 0h0m-165 1h0m42 0h0m68 0h0m18 0h0m-20 1h0m-32 1h0m-56 1h0m32 1h0m-80 1h0m20 1h0m57 0h0m80 0h0m-50 1h0m18 1h0m45 1h0m-99 3h0m72 0h0m86 0h0m-198 1h0m36 0h0m125 0h0m-92 1h0m26 0h0m-61 1h0m65 2h0m-32 1h0m-49 1h0m49 0h0m21 1h0m-33 1h0m20 1h0m29 0h0m-62 1h0m36 0h0m-59 1h0m47 0h0m48 1h0m15 1h0m-80 1h0m40 0h0m-81 1h0m9 0h0m46 0h0m17 0h0m-31 1h0m67 0h0m-194 1h0m175 2h0m-21 1h0m69 0h0m-143 1h0m102 0h0m-19 2h0m-56 1h0m55 0h0m-52 2h0m64 0h0m-61 1h0m-47 1h0m155 0h0m-115 1h0m26 1h0m13 1h0m-26 1h0m23 1h0m26 0h0m-16 1h0m-23 1h0m52 0h0m-3 2h0m2 0h0m-74 1h0m64 0h0m-66 1h0m7 1h0m0 1h0m2 1h0m-25 1h0m100 0h0m4 0h0m-123 2h0m65 1h0m27 0h0m-69 1h0m1 0h0m34 0h0m54 1h0m10 0h0m-10 1h0m-115 1h0m35 0h0m-11 1h0m9 2h0m46 0h0m-26 1h0m51 0h0m3 0h0m8 1h0m-49 1h0m0 0h0m-28 2h0m39 0h0m-25 5h0m14 0h0m52 1h0m5 0h0m-106 2h0m13 2h0m72 0h0m5 0h0m16 0h0m-98 1h0m26 0h0m4 0h0m-26 3h0m13 0h0m4 0h0m2 0h0m17 0h0m52 0h0"/><path d="M348 110h0m186 13h0m-317 6h0m201 18h0m-28 4h0m-8 6h0m-14 1h0m26 6h0m9 2h0m-38 1h0m28 0h0m38 7h0m-113 6h0m80 0h0m-55 1h0m15 2h0m29 6h0m-26 2h0m17 0h0m14 3h0m11 2h0m-48 1h0m40 0h0m12 1h0m13 3h0m-9 1h0m-69 2h0m65 2h0m65 2h0m-153 1h0m65 0h0m-24 1h0m-132 1h0m129 1h0m43 2h0m-113 3h0m142 0h0m0 2h0m13 0h0m89 1h0m-223 1h0m107 4h0m4 0h0m9 0h0m51 0h0m55 0h0m-178 3h0m36 0h0m13 0h0m19 0h0m-39 2h0m22 3h0m57 1h0m-81 1h0m29 2h0m8 0h0m1 0h0m-5 3h0m-82 1h0m6 0h0m63 1h0m-83 1h0m77 0h0m55 0h0m-82 1h0m38 1h0m9 0h0m-25 1h0m15 0h0m60 0h0m5 0h0m-98 1h0m4 0h0m-80 2h0m128 1h0m4 0h0m91 1h0m-164 1h0m55 2h0m-87 2h0m105 0h0m-141 1h0m12 0h0m120 0h0m23 0h0m10 0h0m-54 3h0m-31 1h0m75 0h0m-13 1h0m116 0h0m-222 3h0m105 0h0m-91 3h0m10 0h0m84 0h0m-33 2h0m29 0h0m48 0h0m5 0h0m-115 1h0m76 0h0m-100 1h0m83 0h0m-141 1h0m137 0h0m16 0h0m63 0h0m-182 1h0m29 0h0m45 0h0m-102 1h0m165 0h0m-137 1h0m-12 1h0m74 0h0m44 0h0m-96 1h0m42 0h0m65 1h0m52 0h0m50 0h0m-62 1h0m-102 1h0m-55 1h0m60 0h0m-110 1h0m8 0h0m142 0h0m64 3h0m-170 1h0m15 0h0m137 0h0m-162 1h0m119 0h0m-62 2h0m14 1h0m-108 1h0m142 0h0m59 0h0m-88 1h0m92 0h0m-82 1h0m16 0h0m54 0h0m-145 1h0m19 0h0m66 0h0m-73 1h0m72 0h0m3 0h0m-80 1h0m58 0h0m84 0h0m18 1h0m-65 1h0m-214 2h0m165 0h0m24 0h0m-65 1h0m51 0h0m10 0h0m-71 1h0m37 0h0m84 0h0m-62 2h0m8 0h0m-36 1h0m-45 1h0m76 0h0m-7 1h0m23 0h0m93 0h0m-148 1h0m63 0h0m-227 1h0m280 0h0m-185 1h0m1 0h0m135 0h0m63 0h0m-24 1h0m10 0h0m-48 1h0m-43 1h0m10 0h0m15 0h0m3 0h0m78 0h0m18 0h0m-106 1h0m48 0h0m-45 1h0m94 0h0m-216 1h0m67 0h0m42 0h0m5 0h0m-25 1h0m41 0h0m-23 1h0m30 0h0m-94 1h0m82 0h0m56 0h0m53 0h0m-109 1h0m20 0h0m87 0h0m-315 1h0m117 0h0m97 0h0m0 0h0m44 0h0m-98 1h0m45 0h0m6 0h0m10 0h0m-40 1h0m101 0h0m39 0h0m-82 1h0m-142 1h0m184 0h0m-147 1h0m36 0h0m58 0h0m51 0h0m-87 1h0m42 0h0m34 0h0m-160 1h0m23 0h0m100 0h0m81 0h0m-143 1h0m104 1h0m7 0h0m-154 1h0m105 0h0m61 0h0m-143 1h0m69 0h0m82 0h0m13 0h0m-11 1h0m-187 1h0m26 0h0m108 0h0m-30 1h0m31 1h0m-147 1h0m102 0h0m-39 1h0m42 0h0m-95 1h0m100 0h0m21 0h0m25 0h0m28 0h0m-157 1h0m64 0h0m8 0h0m26 0h0m18 0h0m-138 1h0m13 0h0m35 0h0m5 0h0m42 0h0m17 0h0m-85 1h0m7 0h0m32 0h0m72 0h0m-70 1h0m78 0h0m35 0h0m0 1h0m31 0h0m-98 1h0m39 0h0m-96 1h0m93 0h0m15 1h0m-93 2h0m45 0h0m-171 2h0m156 0h0m-9 1h0m44 1h0m30 0h0m-99 1h0m57 0h0m-98 1h0m41 0h0m86 1h0m6 1h0m-28 1h0m-135 1h0m94 0h0m42 0h0m27 0h0m-82 1h0m-76 1h0m33 0h0m12 0h0m70 0h0m-108 1h0m15 1h0m11 0h0m127 0h0m-84 1h0m113 0h0m-122 1h0m-46 1h0m-55 1h0m214 0h0m9 0h0m-69 1h0m1 0h0m-150 1h0m160 0h0m-150 1h0m112 0h0m87 0h0m-204 1h0m32 0h0m8 3h0m66 0h0m73 0h0m3 0h0m-148 1h0m57 0h0m60 0h0m59 0h0m-175 1h0m142 0h0m-136 2h0m22 0h0m106 0h0m39 0h0m8 0h0m-239 2h0m201 0h0m-114 1h0m51 0h0m4 0h0m0 0h0m73 0h0m-122 1h0m148 0h0m-79 1h0m-35 1h0m-49 1h0m21 0h0m62 0h0m-52 1h0m19 0h0m8 0h0m54 0h0m-108 1h0m10 0h0m98 0h0m-149 1h0m27 0h0m161 0h0m-58 1h0m-141 1h0m94 0h0m2 0h0m15 0h0m20 1h0m-81 1h0m21 0h0m30 0h0m-78 1h0m101 0h0m-164 1h0m80 0h0m98 0h0m-63 1h0m90 0h0m-118 1h0m16 0h0m1 2h0m78 0h0m32 0h0m-138 1h0m74 0h0m56 0h0m-18 1h0m-110 1h0m-44 1h0m105 0h0m49 2h0m-141 1h0m112 0h0m-155 1h0m12 0h0m77 0h0m42 0h0m-39 1h0m30 0h0m-39 1h0m142 0h0m3 0h0m-104 2h0m113 1h0m-205 1h0m57 1h0m105 0h0m-52 1h0m55 0h0m-84 1h0m24 0h0m-49 2h0m102 0h0m14 0h0m0 0h0m-145 1h0m15 0h0m19 0h0m16 0h0m-61 1h0m103 0h0m2 0h0m-101 1h0m174 0h0m-165 1h0m131 0h0m10 1h0m-140 1h0m20 0h0m41 0h0m-72 1h0m14 1h0m-29 1h0m77 0h0m58 0h0m-89 1h0m29 1h0m-97 1h0m137 1h0m-2 1h0m-44 1h0m22 0h0m25 0h0m58 0h0m-183 1h0m50 0h0m65 0h0m54 0h0m-140 2h0m142 0h0m-171 1h0m21 0h0m17 0h0m41 0h0m33 1h0m132 0h0m-177 1h0m36 0h0m8 1h0m3 1h0m-95 1h0m-44 2h0m74 0h0m0 1h0m15 0h0m6 0h0m21 2h0m8 0h0m74 1h0m-129 1h0m87 0h0m-91 1h0m144 0h0m-161 1h0m45 0h0m68 1h0m-141 3h0m124 0h0m-58 1h0m-8 1h0m49 0h0m23 0h0m-87 1h0m3 0h0m34 0h0m15 0h0m17 0h0m-165 1h0m52 0h0m35 0h0m5 0h0m31 0h0m-16 1h0m58 1h0m-79 1h0m76 1h0m11 1h0m13 0h0m6 2h0m-119 1h0m61 0h0m68 0h0m-130 1h0m16 0h0m26 0h0m3 0h0m-53 1h0m39 0h0m71 0h0m77 0h0m-135 1h0m12 0h0m13 0h0m19 0h0m-95 1h0m17 0h0m48 1h0m12 0h0m0 0h0m15 0h0m12 0h0m-54 1h0m10 0h0m48 0h0m0 0h0m-107 1h0m109 3h0m-4 1h0m75 1h0m-161 2h0m70 0h0m-21 1h0m-50 1h0m-4 1h0m1 0h0m56 2h0m-125 4h0m68 1h0m3 0h0m33 1h0m-9 1h0m28 0h0m2 0h0m-2 1h0m54 0h0m-104 1h0m199 0h0m-183 1h0m45 0h0m-17 1h0m-87 3h0m35 0h0m46 0h0m-63 1h0m-10 1h0m113 0h0m-100 1h0m-11 1h0m72 0h0m15 0h0m47 0h0m-14 2h0m-62 1h0m66 0h0m5 0h0m-91 1h0m-64 1h0m57 0h0m-3 1h0m20 0h0m3 1h0m0 0h0m-38 1h0m63 0h0m-69 2h0m12 0h0m-5 1h0m97 0h0m-71 1h0m0 0h0m35 0h0m19 0h0m-3 2h0m4 0h0"/><path d="M391 156h0m1 10h0m30 9h0m-44 1h0m44 0h0m-17 1h0m-17 10h0m26 2h0m-29 11h0m32 1h0m-45 3h0m32 3h0m-63 3h0m23 0h0m-59 1h0m64 0h0m49 0h0m-29 1h0m6 0h0m2 3h0m-19 1h0m37 0h0m-29 1h0m6 1h0m24 0h0m-74 1h0m12 0h0m115 1h0m-75 4h0m-141 2h0m96 1h0m9 6h0m8 1h0m-21 3h0m50 0h0m14 2h0m29 0h0m-115 2h0m39 1h0m3 1h0m19 0h0m5 1h0m36 0h0m-52 1h0m37 1h0m-40 2h0m-25 1h0m-17 1h0m101 0h0m-114 1h0m56 1h0m23 0h0m-87 1h0m114 0h0m-57 1h0m117 1h0m-28 1h0m-51 1h0m53 0h0m-95 2h0m73 2h0m12 0h0m-43 1h0m18 1h0m-37 2h0m2 0h0m-61 1h0m26 0h0m93 0h0m14 0h0m3 0h0m8 0h0m-195 1h0m19 0h0m9 0h0m23 0h0m15 1h0m25 0h0m8 0h0m62 0h0m64 0h0m-109 2h0m16 0h0m65 0h0m-6 1h0m-234 1h0m175 0h0m10 0h0m-37 1h0m-51 2h0m5 1h0m20 0h0m6 0h0m4 0h0m-59 1h0m33 0h0m24 0h0m60 1h0m28 0h0m-111 1h0m90 0h0m-114 1h0m31 0h0m87 2h0m5 0h0m24 1h0m-162 1h0m85 0h0m3 0h0m-8 1h0m26 0h0m30 0h0m-30 1h0m45 0h0m-152 1h0m86 0h0m-43 1h0m119 0h0m13 1h0m-152 1h0m72 0h0m-64 1h0m-38 1h0m90 0h0m18 0h0m68 0h0m-172 1h0m57 0h0m31 0h0m106 0h0m-101 1h0m-61 3h0m69 0h0m41 0h0m-41 1h0m66 0h0m-92 1h0m2 0h0m38 0h0m54 0h0m-183 1h0m4 0h0m64 0h0m140 1h0m-145 1h0m80 0h0m-175 1h0m114 0h0m17 0h0m-117 1h0m139 0h0m-60 1h0m21 0h0m41 0h0m-152 1h0m60 0h0m38 0h0m26 0h0m5 0h0m50 0h0m11 0h0m27 0h0m11 0h0m-146 1h0m22 0h0m134 0h0m-99 1h0m5 0h0m-14 2h0m5 0h0m33 1h0m44 0h0m-81 1h0m14 0h0m13 0h0m79 0h0m-129 1h0m72 0h0m33 0h0m5 0h0m-112 1h0m40 0h0m-94 1h0m22 0h0m149 0h0m-152 1h0m50 0h0m16 0h0m134 0h0m-207 2h0m34 0h0m32 0h0m48 0h0m38 0h0m-201 1h0m43 0h0m82 2h0m73 1h0m-17 1h0m16 0h0m-176 1h0m86 0h0m41 0h0m8 0h0m-115 2h0m71 0h0m18 1h0m-35 1h0m-59 1h0m47 0h0m-73 1h0m41 0h0m18 1h0m107 0h0m63 1h0m-168 1h0m14 0h0m7 1h0m4 0h0m33 0h0m17 0h0m9 0h0m32 0h0m-146 1h0m12 0h0m-122 1h0m216 0h0m-95 1h0m9 0h0m40 0h0m135 2h0m-249 1h0m45 0h0m172 0h0m-162 1h0m28 0h0m23 0h0m78 0h0m24 0h0m15 0h0m-152 2h0m106 0h0m-17 2h0m12 0h0m57 0h0m-64 1h0m-128 2h0m14 0h0m5 0h0m49 1h0m76 0h0m-178 1h0m62 0h0m32 0h0m35 0h0m-56 1h0m-40 1h0m13 0h0m119 0h0m-68 1h0m56 0h0m-54 1h0m32 1h0m14 0h0m-67 1h0m69 0h0m-134 2h0m176 0h0m19 0h0m48 0h0m-219 1h0m5 0h0m90 0h0m75 1h0m-81 1h0m19 0h0m75 0h0m-172 1h0m43 0h0m14 0h0m63 0h0m-107 1h0m20 0h0m75 0h0m16 2h0m51 0h0m-123 1h0m58 0h0m-141 1h0m175 0h0m-149 1h0m40 0h0m73 0h0m43 0h0m-138 1h0m86 0h0m24 0h0m11 0h0m54 0h0m-40 1h0m-136 1h0m24 0h0m101 1h0m13 0h0m-93 1h0m63 0h0m-38 1h0m48 0h0m-143 1h0m110 1h0m20 0h0m-97 1h0m-5 1h0m26 1h0m53 0h0m7 0h0m-9 1h0m10 0h0m-88 1h0m109 0h0m55 0h0m-177 1h0m12 0h0m23 0h0m52 0h0m-12 1h0m26 0h0m39 0h0m-31 1h0m38 0h0m17 0h0m-87 1h0m14 0h0m55 0h0m-135 2h0m5 0h0m18 0h0m140 0h0m-200 1h0m113 0h0m83 0h0m-53 1h0m26 2h0m27 0h0m-175 1h0m46 1h0m92 0h0m-181 1h0m1 0h0m109 0h0m58 0h0m-138 1h0m64 0h0m-48 1h0m35 1h0m129 0h0m-163 1h0m-7 1h0m141 0h0m20 0h0m12 1h0m-129 1h0m-45 1h0m174 0h0m-202 1h0m100 0h0m103 0h0m-141 1h0m100 1h0m11 0h0m-162 1h0m37 0h0m9 0h0m3 0h0m17 0h0m82 0h0m-77 1h0m-78 1h0m162 0h0m-21 1h0m14 0h0m-106 1h0m-31 1h0m68 0h0m29 0h0m2 0h0m-112 2h0m70 0h0m102 0h0m16 0h0m-178 1h0m54 0h0m44 0h0m43 0h0m-181 1h0m83 0h0m131 0h0m-139 1h0m19 0h0m21 0h0m57 0h0m-115 1h0m12 1h0m101 0h0m36 0h0m-83 1h0m-144 1h0m78 0h0m141 0h0m-81 2h0m-81 1h0m78 0h0m23 0h0m62 0h0m-137 1h0m64 0h0m-100 1h0m106 0h0m18 0h0m-66 1h0m-37 1h0m40 0h0m99 0h0m1 0h0m-139 1h0m21 0h0m4 0h0m-44 1h0m17 0h0m60 0h0m-17 1h0m30 0h0m2 0h0m0 1h0m-50 1h0m40 0h0m26 0h0m0 1h0m105 2h0m-188 1h0m45 1h0m17 0h0m56 0h0m-147 2h0m52 0h0m-49 1h0m69 1h0m34 0h0m-31 1h0m-27 1h0m2 0h0m49 1h0m-90 1h0m-16 1h0m24 1h0m22 0h0m23 0h0m85 0h0m43 0h0m-77 1h0m84 1h0m-146 1h0m14 0h0m105 0h0m-162 1h0m74 0h0m-30 1h0m26 0h0m112 0h0m-115 2h0m-65 1h0m100 1h0m-53 1h0m16 0h0m33 1h0m6 0h0m-77 1h0m31 0h0m-30 1h0m1 0h0m58 0h0m-67 1h0m24 0h0m-14 2h0m-29 2h0m28 0h0m-30 1h0m16 0h0m52 0h0m46 0h0m-83 1h0m27 0h0m-49 1h0m8 0h0m18 0h0m172 0h0m-185 1h0m15 0h0m44 0h0m-81 1h0m24 0h0m-22 2h0m58 2h0m14 2h0m28 0h0m-107 1h0m-3 2h0m41 0h0m45 0h0m0 0h0m-108 1h0m94 1h0m-69 2h0m16 0h0m41 0h0m0 1h0m6 1h0m-45 1h0m13 0h0m-9 1h0m72 1h0m-98 1h0m52 2h0m0 0h0m-23 1h0m-34 1h0m48 2h0m-35 1h0m61 0h0m-65 1h0m83 0h0m-22 1h0m128 1h0m-68 1h0m-79 2h0m-31 3h0m3 1h0m9 0h0m61 0h0m-24 1h0m30 0h0m9 0h0m-124 1h0m54 1h0m37 0h0m32 0h0m-73 2h0m24 1h0m18 1h0m10 0h0m17 0h0m30 0h0m-106 1h0m3 0h0m46 0h0m5 0h0m-51 1h0m95 1h0m-82 1h0m15 1h0"/></g>
<line x1="137" y1="504.8" x2="517.3" y2="262.9" stroke="#000" stroke-width="3.8"/>
</g>
<rect x="136.2" y="44.2" width="531.6" height="495.4" fill="none" stroke="#333" stroke-width="2.2"/>
<path d="M127.2 518.4H136.2M127.2 367.8H136.2M127.2 217.2H136.2M127.2 66.6H136.2M266.8 539.6V548.6M401.6 539.6V548.6M535.6 539.6V548.6" stroke="#333" stroke-width="4.4" fill="none"/>
<text x="121.3" y="528.9" font-size="39.5" fill="#4d4d4d" stroke="#4d4d4d" text-anchor="end">0</text>
<text x="121.3" y="378.3" font-size="39.5" fill="#4d4d4d" stroke="#4d4d4d" text-anchor="end">5</text>
<text x="121.3" y="227.7" font-size="39.5" fill="#4d4d4d" stroke="#4d4d4d" text-anchor="end">10</text>
<text x="121.3" y="77.1" font-size="39.5" fill="#4d4d4d" stroke="#4d4d4d" text-anchor="end">15</text>
<text x="266.8" y="582.1" font-size="39.5" fill="#4d4d4d" stroke="#4d4d4d" text-anchor="middle">5</text>
<text x="401.6" y="582.1" font-size="39.5" fill="#4d4d4d" stroke="#4d4d4d" text-anchor="middle">7.5</text>
<text x="535.6" y="582.1" font-size="39.5" fill="#4d4d4d" stroke="#4d4d4d" text-anchor="middle">10</text>
<text x="151.2" y="89.5" font-size="46" fill="#1a1a1a" stroke="#1a1a1a">Pearson r = 0.42</text>
<text x="151.2" y="131.0" font-size="46" fill="#1a1a1a" stroke="#1a1a1a">p &lt; 2.2e-16</text>
<text x="2.3" y="40" font-size="53" font-weight="bold" fill="#000">a</text>
<text x="206.0" y="628.6" font-size="46" fill="#1a1a1a" stroke="#1a1a1a">log<tspan font-size="27.5" dy="15">2</tspan><tspan dy="-15">(Old) [H3K27ac]</tspan></text>
<text transform="translate(77.4,430.5) rotate(-90)" x="0" y="0" font-size="46" fill="#1a1a1a" stroke="#1a1a1a">log<tspan font-size="27.5" dy="15">2</tspan><tspan dy="-15">(Old) [RNA]</tspan></text>
</g>
<g id="pb">
<clipPath id="cb"><rect x="849.2" y="42.3" width="532.3" height="495.0"/></clipPath>
<g clip-path="url(#cb)">
<g clip-path="url(#gb)"><g fill="#707070" fill-opacity="0.13" filter="url(#bl4)"><path d="M1204 232l-13-7l-38-4l-42 15l-41 28l-15 4l-19-2l-24-14l-11 3l-10 25l-17 19l0 32l-10 23l-5 54l3 57l-6 33l0 11l7 11l19 12l104 0l61-22l35-22l12-28l5-24l17-17l-7-19l0-9l14-23l5-26l18-37l0-13l-18-23l-12-26z"/><path d="M1189 255l-13-8l-21-5l-32 6l-13 6l-8 8l-19 31l-8 49l-3 8l-8 7l-12-6l-9-34l-15-17l-7-4l-8 0l-13 10l-15 45l-12 75l1 19l6 23l0 12l-7 19l0 10l8 10l22 9l20 4l31 0l15-4l24-12l19-21l38-28l19-19l17-31l3-28l16-30l11-42l-1-27z"/><path d="M1013 350l-6 6l-1 13l-8 25l0 33l-4 15l4 28l-1 36l7 9l11 5l36 2l14-5l7-8l-1-8l-12-17l5-28l10-17l18-10l1-12l-7-7l-11 0l-10 4l-10-2l-19-21l-12-36l-6-5zM1165 262l-11-3l-30 3l-14 11l-12 20l-4 31l6 30l-2 40l6 9l30 3l15-6l25-26l12-19l10-29l-1-31l-11-20z"/><path d="M1136 270l-15 7l-10 12l-5 13l0 18l6 15l13 14l14 7l16 2l13-7l12-20l4-17l-1-14l-5-12l-10-10l-12-6z"/><path d="M1136 280l-10 5l-7 8l-4 9l0 12l5 11l9 9l22 5l12-6l7-9l3-22l-12-17l-12-5z"/></g></g><g clip-path="url(#gb)"><g fill="#e8231f" fill-opacity="0.2" filter="url(#bl3)"><path d="M1125 485l-3 2l0 6l5 2l3-2l0-6zM1152 475l-1 5l5 1l1-5zM1186 388l-1 5l5 1l1-5zM1072 365l1 5l8 0l3-2l-1-5l-8 0zM1072 350l-1 5l5 1l1-5zM1045 336l-4 2l0 5l5 3l4-3l0-4zM1224 293l-2 3l1 4l7 1l2-3l-1-4zM1018 289l-1 5l5 1l1-5zM1210 283l-2 2l0 6l2 2l4 0l2-2l0-6l-2-2zM1009 268l-2 2l0 4l3 3l4 0l2-2l0-4l-3-3zM1183 248l-1 5l5 1l1-5zM1193 264l-4 0l-2 5l-6 5l-2-2l2-7l-1-3l-11-7l2-7l-6-4l-5 1l-2 12l-2 2l-4-1l-5-5l2-2l-1-5l-5 1l2 7l-11 6l-7-2l-5-7l-5 0l-2 2l1 8l-3 3l-6-1l-4 3l0 15l-4 3l-1 5l-3 2l-3-4l-5 1l0 4l2 2l-1 5l5 12l-1 3l-3 2l-7-1l-2 2l0 4l3 3l5 0l4 4l-8 10l1 14l2 2l4 0l2-2l3 1l-1 10l-6 8l-1 16l3 5l-3 3l-6 1l-6-13l-3-2l-15-2l-3 13l5 3l-1 14l-8-7l1-9l-6-5l-6 0l-1-7l10-9l-5-16l-2-2l-8 0l-6-3l5-9l5-4l0-4l-4-5l1-5l4-5l7 2l1-5l-5-1l-3 2l-3-4l-15-6l-4-6l-8-1l-5 4l0 5l7 10l8 0l5 6l-6 7l-4 0l-7-3l-5-6l-5 1l0 4l4 4l2 6l-10 14l3 16l-3 4l-5 0l-7 10l1 5l4 0l5-3l2 4l-5 7l-3-2l-5 1l0 4l7 7l-3 13l-2 2l-6 0l-1 5l8 6l-9 1l-3 3l0 4l14 10l-2 13l7 6l-3 4l0 5l5 4l-5 4l0 4l7 7l2 8l-2 2l-6-5l-10 1l-3 3l0 5l5 7l8 3l14-1l8 2l24 1l45-2l8-2l3-3l4 3l4 0l3-4l0-7l-2-4l2-13l-4-3l-4 1l0 9l-2 2l-6 1l-6-3l11-8l6-11l6 3l6-1l3-3l0-5l-5-5l-8 0l-4 3l-1 5l-4 1l-2-2l0-6l-17-12l4-6l5-3l3 11l7-2l6 1l4-6l3-1l7 16l4 1l14-9l4 4l4 0l5-7l7 0l3-3l0-5l2-2l6 2l5-3l5 6l5-1l0-6l-3-4l-7-3l-12 2l2-6l10-6l0-7l2-2l6 4l5 0l5-6l0-5l-7-6l0-12l3-3l0-4l-6-1l-4-4l4-3l15-3l1-7l12-8l9 0l-1-5l-6 1l-5-6l-5-2l5-15l5 0l3 2l-1 5l3 4l4 0l3-3l-1-4l-6-4l0-5l-5-5l2-3l5-1l3-6l-5-6l-1-5l-7 1l-2-2l-2-11l6-4l0-4l-5-4l1-8zM1074 479l1 4l-4 6l-7-4l2-5zM1050 477l-6 5l-3-1l0-3l3-3zM1101 438l6-5l3 8l5 4l-11 0l-3-3zM1126 426l5 5l0 5l3 6l-2 2l-6 0l-3-2l-2-12zM1052 422l2 10l-6 3l-3-5l0-4zM1118 413l5 3l-1 4l-6-2zM998 402l1 5l-6 1l0-3z"/><path d="M1096 490l-1 4l3 0l0-3zM1126 488l-2 2l2 2l2-2zM1097 471l0 3l5 5l7-3l0-4l-4-3l-5 0zM1127 448l-8-2l0 3l4 3l-2 3l-12-6l-1 8l2 5l3 2l5-3l9-9zM1161 439l-4 0l-2 4l5 0zM989 376l-1 3l3 0zM1045 339l-1 3l2 1l1-3zM1207 337l0 3l2 0l0-3zM1084 318l-1 2l3 1zM1227 295l-2 2l2 2l2-2zM1011 271l-1 2l2 1l1-2zM1192 269l-2 0l-6 9l-7-5l0-10l-9-5l-6 0l-8 5l-6-6l-4 0l-5 5l-5 2l-13-4l-8 7l-7 0l0 10l5 5l-4 4l-6 1l3 5l0 6l-2 3l-4-6l-5 0l-2 3l5 13l-1 4l-4 4l4 10l-7 7l-2 5l0 6l2 3l5-2l4 0l2 2l-1 14l-6 7l-1 16l2 2l0 6l-12 6l-4-5l0-7l-3-5l-7-1l-3 2l2 6l-4 9l2 9l-4 7l-4 3l1 13l-5 4l-2 5l-5-4l-6-13l10-4l5-6l1-4l-7-9l1-7l-3-3l-4 1l0 5l-2 2l-5-2l-2-4l4-7l0-4l-8-6l1-3l6-5l8 1l1-6l-3-5l-9-1l-11-6l8-7l0-3l4-5l-2-4l0-8l4-7l-2-3l-5 0l-9-4l-5-7l-8 0l-1 6l6 8l10 0l5 8l-10 11l-5-3l-7 0l2 7l-5 3l-6 8l3 13l-3 14l-2 2l3 7l-4 4l-1 4l10 8l0 4l-3 3l-11 2l0 10l-5 2l0 2l7 5l3 0l2-2l0-5l3-1l2 2l0 7l7 6l1 4l-2 2l-10-2l-7-8l-15 2l16 13l-1 6l-4 5l10 9l-5 4l0 2l6 1l3 5l-2 5l-6 0l-1 2l10 11l4 1l3 5l-6 3l-8 0l-7-5l-6 1l-3 4l6 8l5 2l14-1l10 3l50 0l18-3l2-2l-2-4l2-3l9 2l3 5l4-1l0-7l-7-5l-12 0l-5-5l-4 1l-1 8l-5 0l-7-4l0-4l5-7l4 3l2-1l-2-3l-3 0l-2-4l4-9l5 0l3-3l3 1l4 5l0 3l-4 4l2 5l8-3l3-8l-7-3l0-8l-7-8l-10-1l-1-5l12-12l-1-2l-7-1l-2-2l12-5l5 3l-1 7l2 2l0 8l4-2l6 2l5-9l-2-5l8-10l8 4l0 6l6 1l2-4l-2-3l-3 0l-1-3l7-7l-11-6l3-6l-3-4l0-6l6-4l4 4l-2 7l5 2l2 4l5 3l-1 8l4 4l0 8l6 4l1 7l5 3l2-2l-1-15l7-10l5 1l2-2l-1-5l2-5l5-2l6 6l5-4l0-3l-6-5l-2-19l-4-2l-3-5l8-6l12-2l1-8l13-7l-2-5l-2 0l-2 4l-6 4l-5-5l2-5l6-2l4-16l8-5l-3-6l-5 0l-5-5l3-1l8 3l9-4l0-2l-5 2l-2-1l-10-14l2-6zM1052 475l1 5l-8 6l-8-1l0-6l6-6l6 0zM999 465l3 2l-2 5l-4-2zM1143 419l10-1l2 2l-1 4l-2 1zM1037 417l2-1l1 3l-1 1zM1087 412l2-2l12 1l4 4l-1 6l-2 2l-6 0l-2-6l-7-1zM1069 409l2 0l4 5l-2 5l-5 0l-2-2zM1144 399l3 4l-4 4l-1 6l-3 1l-2-2l0-8l3-5zM1149 403l2-10l2-2l3 0l3 6l7-4l3 2l-1 5l-4 4l-4-4l-2 0l-5 6zM1104 390l5 3l0 8l-2 0l-5-6zM1142 374l4 4l-1 4l-5-2zM1143 367l3-1l1 3l-3 2zM1101 342l3-1l3 3l-2 1zM1118 254l2 3l1-3z"/><path d="M1101 470l-2 2l1 4l6 1l2-2l-1-3zM988 459l6 4l-2-5zM1112 453l-1 7l4 1l2-4zM1116 436l-1 2l3 1l1-2zM985 436l0 6l3 3l5 0l-1-7zM990 425l-1 2l3 1zM1111 421l-4 5l1 3l4 2l3-2l1-5zM1146 406l-2 7l3 3l3 0l0-9zM1168 403l-2 5l5 3l0-5zM1159 403l-3 2l2 11l3-4zM1025 316l4 6l5-2l-1-5zM1008 304l-1 4l4 6l6 1l2-2l-3-7l-4-3zM1095 297l-1 3l2 1l1-3zM1175 264l-6-4l-8 0l-7 8l-5-9l-4-1l-9 8l-5 0l-3-3l-7-1l-8 9l-4 0l0 6l5 3l-8 11l-1 14l-4 3l-4-2l3 5l-6 8l1 2l2-3l3 0l5 8l-8 1l-2 8l-7 5l-1 5l1 2l11-1l-1-5l2-3l7 2l5 7l0 9l-4 2l-5-10l-3 5l0 12l3 4l-8 8l-2 5l0 5l4 10l-1 3l-7-1l-6 5l-3 0l-7-9l2-3l0-5l-4-3l-5 2l3 6l-5 5l0 6l2 3l12 2l-1 10l-3 3l-15 2l-1 12l-9 10l-2-1l-5-11l-13 3l-3-3l9-4l1-2l-2-6l0-7l6-4l5 10l8-7l0-4l-8-9l-3 3l-5-1l-3 3l-2-1l1-7l-3-5l5-5l0-5l-6-3l-2-5l9-8l6 1l1-4l-4-4l-8 0l-11-6l0-5l8-5l3-7l-2-8l-6 3l-5 7l-5-3l-4 0l0 3l2 2l5 0l2 4l-5 3l-9-3l-7 8l0 3l3 3l7 1l-6 5l-2 8l1 3l6-1l1 4l-8 6l-1 4l-4 4l0 3l10 8l-1 8l-7 0l-7 4l3 5l8 1l3-3l-1-6l4-1l3-6l3 1l-6 11l2 6l-6 2l1 4l5 1l2 12l-4 4l-5-3l-4 1l-2 7l4 11l5 3l0 4l-4 8l4 6l-6 5l0 3l3 6l7 5l0 4l-6 3l-10 0l-5-4l-4 0l-2 5l3 5l4 2l11-2l12 4l51 0l17-3l0-4l-2-2l2-4l14 2l-4-5l-11 1l-4-5l-2 0l0 5l-2 3l-13-1l-2-2l-1-7l6-8l3-15l5-5l8 0l0-2l-5-4l-5 5l-11 2l-5-3l0-3l3-3l8 2l1-4l-2-2l12-10l0-3l-8-3l-1-2l3-4l4 0l4-4l5 2l7-5l4 3l-2 11l5 2l9-12l1-4l-2-2l-4 0l-5-6l-7-2l-1-8l12-9l4 7l7 3l1-7l-10-9l1-6l6-7l8 14l5 0l4 4l2 7l9 8l1 4l-2 7l6 3l-2 8l7 3l-1 6l3 3l2-6l-3-4l1-6l4-4l0-3l-9-6l0-3l-5-4l1-13l3-2l9 1l1-6l4-5l9 2l5-1l-6-5l1-6l9-6l9-1l2-2l0-7l-4-10l2-3l5-1l3-3l2-8l-1-6l2-3l4 0l2-2l-1-2l-6 1l-6-8l4-5l4 2l4-1l-8-12l2-7l-1-9l-6-1l-1-5l-6-6zM1044 494l2-1l2 4l-2 1zM1053 473l2 7l-6 8l-4 1l-10-2l-1-7l5-6l10-3zM1047 446l1 2l-3 7l-4 3l-1-3zM1021 387l4-1l3 4l-4 1zM1119 381l4-1l3 4l-3 1zM1006 369l3 2l-1 4l-4-4zM1013 364l5 4l-2 5l-2 0l-3-5zM1147 364l2 2l-3 7l2 9l-2 2l-6-1l-2 6l-4 3l-4-9l7-1l4-11l-2-8l2-1zM1163 267l4 1l0 4l-2 2l-3 0l-2-3z"/><path d="M1061 472l-4 0l-2 2l1 11l-1 3l-6 4l2 4l7-7zM1101 472l1 4l4 0l-1-4zM988 437l-2 1l0 3l4 3l1-5zM1110 423l-1 5l4 1l2-4zM1073 423l-4-1l-9 4l-1 8l2 4l10-7zM1136 418l-3 6l7 4l1 4l-3 5l4 0l1-6l3-4l-5-2l-3-7zM1079 413l0 6l-4 5l2 5l3 1l3-4l8 2l2 5l-3 7l2 1l9-12l-7-2l-5-6l-6 1l0-9zM994 413l-2 5l7 2l3-4l-3-4zM1045 406l-2 3l0 5l4 3l5-4l0-4zM1100 401l0 4l5 2l0-3zM1066 396l-1 4l3 5l8-1l-2-5l-4-3zM1020 392l-2 3l2 8l-6 4l-5 8l0 4l4 7l-3 7l2 10l-5 4l-7-3l-3 3l0 6l4 5l4-3l11 0l-10 10l-2 6l0 6l5 7l-2 5l-5 4l0 3l8 7l0 2l-8 5l-10 0l-7-4l-2 2l0 4l5 4l12-2l10 4l23 1l43-3l2-2l-4-12l-3 6l-16-1l-1-5l-3-3l-5 1l-5-5l2-3l-1-2l-5 1l-5-6l1-8l10-6l5-1l0-7l22-17l-8-4l-4 4l-5-2l-6 8l-1 5l-6 3l-2-5l7-10l-4-10l-10 3l-8-3l-3 2l0 6l-2 2l-3-1l1-5l-3-3l1-2l5-1l3-4l5 1l7-3l-3-6l0-7l8-7l0-2l-2 0l-5 5l-2-2l1-12zM1038 494l1 2l-2 4l-3 1l0-4zM1020 483l5 6l0 4l-7 2l-2-2l0-4zM1022 461l1-3l3 2l-2 2zM1016 420l3 3l0 5l-5-2l0-4zM1068 387l2 4l4 0l-2-5zM1144 386l-3-1l-1 4l-4 4l1 4l11-2zM1012 380l-9 2l-8 10l0 3l12 9l6-2l0-7l6-8l0-2zM1033 361l0 4l8-1l-3-4zM1003 346l-5 7l1 3l10 0l2 2l-7 8l5 0l1-3l4-2l6 8l-3 7l1 3l4 1l5 6l5 2l2-3l-1-3l-8-4l3-7l-1-7l2-5l-4-3l-5 0l-3-8l-4 1l-2 3zM1097 340l-7 0l-1 5l6 0zM1028 332l-5 1l-3 10l2 1l3-2l4-6zM1028 317l1 3l4-1l-1-3zM1010 304l-2 4l5 6l2 0l0-7zM1168 261l-6 0l-3 3l1 3l4-2l5 1l-2 10l-13-3l-3-3l-4-11l-13 9l-14-4l-3 6l2 4l-12 18l0 12l-6 7l0 6l3 3l3 9l-3 1l-5-2l-2 6l15 9l2 10l3 5l-11 5l6 5l-12 11l-4 1l-2 5l4 3l3-3l0-5l3-1l4 4l3 8l9 5l7 9l2-4l-3-5l5-7l-2-3l-5 2l-8-6l1-4l2-1l6 3l10 0l4-9l-3-10l4-1l8 3l3 4l-3 6l2 5l-1 10l9-3l2-3l0-8l7 0l5-5l7 0l1-7l-3-11l11-9l0-5l-4-4l3-10l-4-5l0-3l6-5l3 1l-5-9l2-12l-2-2l-5 1l-2-2l1-7l-6-6l0-8l-5-2zM1128 357l3 0l2 3l-4 2z"/><path d="M984 510l4 5l5 0l4-3l-3 0l-6-4l-3 0zM1058 474l-1 4l2 1l1-3zM999 446l-1 7l2 2l10-1l6-4l3 7l-1 2l-5 1l-8 11l0 4l6 6l0 3l-7 12l7 6l0 4l-12 6l13 6l11-1l14 2l25-1l14-4l-3-6l-19 0l-3-2l1-4l-5 0l-5-4l-3 1l-1 6l-3 0l-3-3l2-12l-3-3l0-10l3-3l13-5l0-7l8-8l4-1l8-7l-5-1l-3 5l-6-4l-6 12l-5 3l-3 0l-3-3l3-9l5-6l-4-6l-6 2l3-1l2 2l-3 10l-12-13l-2 1l0 6l-6 5l-4-2l-8 1zM1029 465l3 2l-2 5l-7 3l0 8l4 9l-5 11l-4 3l-3-8l0-12l2-6l-5-3l0-3l2-3l9 2l1-5zM1019 458l8-1l1 4l-3 4l-6-5zM1111 424l-1 3l2 1l1-3zM1071 424l-10 3l0 6l8-1l2-3zM1086 423l0 2l4 0l-1-2zM1025 413l-4 3l-1 7l2 4l5 1l3-2l-1-10zM995 413l-2 4l2 2l4 0l2-3l-1-2zM1045 408l0 7l5-1l1-4l-2-2zM1067 398l1 5l4 1l2-2l-4-4zM1029 396l-8-2l0 10l-9 8l0 7l3-1l6-8l5 1l2-2l2-9zM1145 392l-4-2l-4 3l0 2l8 0zM1028 382l1 3l3 0zM1100 382l-4 0l0 4l2 0zM1010 381l-6 2l-8 10l11 9l4-1l-3-5l9-8l0-3zM1025 357l-8 3l5 9l-3 7l1 1l3-1l3-6l-1-5l2-6zM1005 348l-5 2l0 5l3 1l4-2l0-4zM1091 343l3 0l1-2l-3 0zM1027 334l-2 0l-1 3zM1010 305l-1 3l5 3l0-4zM1172 266l-3 11l-4 1l-8-4l-4 0l-4-5l-1-7l-3-1l-6 6l-9 3l-5 5l-4 0l-13 17l1 10l-7 12l7 16l-2 3l-4 0l-3-3l-1 2l14 11l3 8l3 2l0 10l-1 1l-4-3l-2 1l4 4l0 6l-8 1l-3 3l1 4l6 7l1 5l9 3l2-3l-5-6l-5-2l3-9l8 4l11-2l1-9l-4-4l-5 0l-2-2l0-5l-5-5l4-4l9 10l15 4l2 2l0 21l7-3l0-3l-3-3l2-3l11-1l1-5l-3-3l1-4l3 0l4 7l4 0l1-2l-3-15l4-4l7-3l0-5l-5-4l3-9l-3-10l6-7l-2-5l2-11l-1-2l-11-1l4-8l-6-7zM1176 338l2 2l-1 3l-2-1z"/><path d="M986 510l3 4l4-1zM1013 484l-8 11l5 5l2-1l2-6zM1002 512l8 5l49 1l15-4l-2-5l-23-1l-6-8l-2 0l2 5l-2 2l-8-1l-2-4l2-11l-6-9l-1 3l2 7l-4 11l-4 4l-7-2zM1018 461l-4 0l-2 5l-6 5l1 5l3 0l4-7l7 2l2-4zM1053 449l-3 4l0 4l2-1zM999 452l2 2l4-3l4 2l3-4l-3-1l-5 3l-3-3zM1020 447l0 8l9 1l1 7l4 2l-2 8l14-5l-1-7l-5 2l-6-4l-1-9l-3-5l-6-1zM1042 443l-3 2l2 1zM1070 425l-8 3l0 3l6 0l2-2zM1024 416l-3 6l2 3l3 0l1-8zM994 415l1 3l4 0l1-2l-1-2zM1045 410l1 4l4-1l-1-4zM1024 396l-2 11l5 1l2-10zM1139 393l1 2l3-1l-1-2zM1115 387l-1 4l6 2l0-5zM1016 385l-3-2l-8 1l-3 4l1 9l3-1l1-9l6 3l3-2zM1156 381l-3-1l-1 3zM1109 374l-3 4l6 6l3-7l-1-2zM1118 369l0 4l7 5l6 0l3-3l-3-9l-8-1zM1026 359l-5 0l-2 4l4 2l3-3zM1121 356l0 4l2 2l2-3zM1004 349l-4 3l2 3l4-2zM1145 262l-7 7l-8 2l-3 4l-6 2l-5 5l-2 5l-5 5l1 10l-7 11l7 15l-2 8l9 11l10 0l3 6l5 4l16 4l4 10l11 1l2-4l-3-3l0-4l3-3l7 7l2-1l-3-12l2-6l-3-3l0-5l6-4l1 10l6-1l0-4l-7-5l4-6l0-5l-3-5l6-10l-1-9l2-7l-12-2l0-3l4-6l-7-7l-4 6l-12-5l-5 0zM1153 360l2-2l3 1l-1 3z"/><path d="M1004 511l1 3l6 3l12-1l20 2l19-1l11-3l-1-4l-40-3l-2-6l2-7l-1-3l-2 0l-7 16l-10 0zM1013 488l-2 0l-4 6l0 3l4 1zM1010 469l-3 3l1 2l3-2zM1045 464l-8 0l-2 7l9-3zM1015 463l-1 2l6 5l1-4l-3-3zM1021 449l1 6l9-1l-1-7l-6-1zM1069 426l-5 3l4 1zM998 414l-3 1l0 2l2 1l2-2zM1027 399l-2 0l-2 4l1 4l3-2zM1116 388l-1 2l4 2l0-3zM1011 385l1 3l3-1l-1-2zM1109 375l-2 4l3 3l3 0l1-5zM1121 368l-2 4l5 5l4 1l4-3l-2-8l-4-1zM1021 362l1 1l3-3l-3 0zM1004 350l-3 2l1 2l3-2zM1182 338l-1 3l3 2l1-4zM1144 265l-6 6l-8 1l-20 19l0 13l-6 8l7 16l-1 9l8 9l9 0l4 7l12 6l6 0l8-3l3 4l-5 8l3 3l7 0l2-2l-3-4l1-6l3-3l5 4l2-1l-4-20l11-11l-3-10l4-7l3-19l-10 0l-2-2l0-4l4-4l-4-6l-4 2l-2 5l-4-4l-15-3l-2-3l0-5zM1148 347l1 3l-5 3l-1-4z"/><path d="M1005 512l7 5l18-1l8 2l13-2l10 1l11-4l0-2l-9-2l-12 1l-5-2l-34 0zM1029 496l-3 4l1 6l3-2zM1044 465l-6 1l-1 3l6-2zM1030 450l-4-3l-4 3l0 3l5 1zM1109 376l-1 3l3 3l2-5zM1121 371l1 3l7 3l2-3l-1-5l-3-2zM1143 267l-4 5l-9 1l-20 19l1 12l-6 8l3 3l0 6l5 7l-2 9l7 7l9 1l8 10l8 3l16-3l2 7l-4 6l2 2l5 0l1-2l-3-5l3-5l-1-6l3-3l5 9l2-1l-6-9l3-12l4-5l6-3l-4-9l4-5l-1-7l6-13l-2-2l-8 1l-3-3l0-4l4-4l-3-5l-3 1l-3 7l-4-5l-17-3l-2-3l1-6zM1152 347l-5 7l-6-1l1-5l3-3zM1120 335l3 1l0 4l-2 2l-4-3z"/><path d="M1006 512l5 4l12-1l11 2l29-1l8-3l-1-2l-9-2l-36 1l-9-2zM1027 500l1 4l1-3zM1028 450l-2-1l-3 3l4 1zM1110 376l-1 4l2 1l2-3zM1127 368l-3 2l0 4l5 2l1-3zM1163 367l-2-2l-2 4l4 0zM1131 273l-8 8l-2 6l-10 5l1 11l-5 7l0 3l3 3l0 8l7 4l-6 7l2 3l3 0l3-4l3 0l2 2l-1 7l6 1l3 7l4 3l3-1l4-10l12 3l-5 6l0 3l10-1l3 5l-1-5l6-9l0-7l3-4l-1-4l2-2l8 0l-5-9l5-5l-1-8l6-12l-10 0l-2-2l-2-6l5-5l-2-3l-3 2l0 5l-3 1l-6-6l-12 0l-9-6zM1158 343l3 1l-2 3l-3-2z"/><path d="M1008 512l4 4l17-1l6 2l27-1l7-3l-6-3l-12 1l-6-2l-12 0l-4 2l-17-2zM1110 377l-1 2l2 1l1-2zM1126 370l-1 3l3 2l0-5zM1162 347l-8 2l-2 5l9-1zM1174 279l-2 1l1 3l2-2zM1133 273l-8 7l-2 7l-4 4l-5-1l-3 3l2 9l-5 8l0 3l4 4l-1 7l7 3l0 3l-4 1l-2 5l4 1l3-4l3 0l3 3l1 7l4-3l2 1l-1 6l5 5l3-3l1-6l8-4l5 5l9-2l2 4l2-1l2-14l4-4l6 1l-5-9l7-6l-3-6l2-7l5-4l0-2l-3-1l-5 3l-4-4l-1-4l-9-7l-11 1l-10-7z"/><path d="M1009 512l3 4l13-2l12 3l13-2l11 1l4-3l-3-3l-14 1l-5-2l-11 1l-3 2l-16-3zM1161 349l-5 0l-2 4l7-1zM1114 332l-1 4l3 0l1-4zM1183 294l-2 0l-1 3l2 0zM1132 274l-7 8l-1 5l-5 6l-4-2l-3 2l2 7l-5 13l4 4l-1 6l7 4l1 5l6 4l0 4l7 0l-1 6l3 2l8-9l7-1l4 5l10-3l3-4l0-5l7-6l-2-7l6-3l1-3l-3-4l1-8l-5-4l0-4l-4-5l-7-5l-10 1l-14-9z"/></g></g><g fill="none" stroke="#e63a26" stroke-opacity="0.85" stroke-width="4.3" stroke-linecap="round"><path d="M901 101h0m136 29h0m75 11h0m-29 32h0m-32 18h0m-20 13h0m-45 3h0m127 2h0m143 6h0m-107 3h0m-9 7h0m46 0h0m2 0h0m-133 2h0m59 6h0m47 0h0m-17 2h0m-132 2h0m14 0h0m15 0h0m173 2h0m-227 1h0m5 0h0m206 0h0m-68 2h0m10 2h0m81 3h0m-29 1h0m-40 1h0m-22 4h0m79 0h0m-101 1h0m-25 1h0m159 0h0m-112 2h0m76 1h0m-60 1h0m-59 2h0m39 1h0m4 2h0m48 0h0m-66 2h0m12 0h0m13 0h0m-12 1h0m-96 1h0m122 0h0m70 0h0m-108 1h0m45 0h0m-30 1h0m-118 1h0m83 3h0m48 0h0m24 1h0m-27 1h0m15 0h0m-26 2h0m-134 2h0m21 0h0m196 1h0m-182 1h0m71 0h0m38 1h0m20 1h0m-34 1h0m16 0h0m50 0h0m29 0h0m-53 1h0m-58 1h0m44 0h0m87 0h0m-223 1h0m142 0h0m-44 1h0m-71 1h0m48 0h0m112 1h0m-146 2h0m12 0h0m58 0h0m47 0h0m58 0h0m-213 1h0m111 0h0m-73 2h0m94 0h0m87 0h0m-254 1h0m121 0h0m20 0h0m64 0h0m-83 1h0m34 0h0m56 0h0m3 0h0m52 0h0m-294 1h0m117 1h0m79 0h0m-136 1h0m118 0h0m22 0h0m-39 1h0m38 0h0m3 0h0m32 0h0m-46 1h0m-24 1h0m10 0h0m19 0h0m5 1h0m-136 1h0m95 0h0m18 0h0m23 0h0m-162 1h0m26 0h0m112 0h0m2 0h0m29 0h0m-125 1h0m14 0h0m29 0h0m50 0h0m81 1h0m-213 1h0m46 0h0m-30 1h0m229 0h0m-271 1h0m149 0h0m-194 1h0m169 0h0m35 0h0m16 0h0m76 0h0m-213 1h0m124 1h0m19 0h0m33 0h0m-165 1h0m7 0h0m92 0h0m-117 1h0m40 0h0m151 0h0m-19 1h0m-155 1h0m166 0h0m-112 1h0m31 0h0m25 0h0m-124 2h0m161 0h0m62 0h0m-135 1h0m40 0h0m-35 1h0m37 0h0m28 0h0m-131 1h0m118 0h0m6 0h0m4 0h0m-165 1h0m145 0h0m-12 1h0m-23 1h0m115 1h0m-220 1h0m173 0h0m-183 1h0m111 2h0m48 0h0m60 0h0m-67 1h0m-105 1h0m76 0h0m10 0h0m11 1h0m11 0h0m35 0h0m-184 2h0m42 0h0m58 0h0m101 0h0m-203 1h0m58 1h0m115 1h0m-167 1h0m1 0h0m24 0h0m66 0h0m36 0h0m23 0h0m3 0h0m19 0h0m-203 1h0m79 2h0m11 1h0m17 0h0m8 0h0m51 1h0m57 0h0m-198 1h0m7 0h0m92 1h0m-65 1h0m144 1h0m7 0h0m-132 1h0m87 0h0m31 0h0m-161 2h0m47 0h0m104 0h0m59 0h0m-130 1h0m122 0h0m-96 1h0m86 0h0m-181 1h0m125 1h0m-128 1h0m203 0h0m15 0h0m-189 1h0m5 0h0m72 1h0m30 1h0m24 0h0m-203 1h0m132 0h0m81 0h0m-117 1h0m-61 1h0m67 1h0m26 0h0m1 0h0m-104 1h0m39 0h0m87 0h0m18 0h0m-97 1h0m23 0h0m44 0h0m53 0h0m-101 1h0m21 1h0m123 0h0m24 0h0m27 0h0m-223 1h0m142 0h0m20 0h0m-201 1h0m178 0h0m-73 1h0m83 0h0m-230 2h0m43 0h0m179 0h0m-163 1h0m5 0h0m7 0h0m25 0h0m109 0h0m-139 1h0m81 0h0m-129 1h0m50 0h0m49 0h0m111 0h0m11 0h0m15 0h0m-87 1h0m7 0h0m22 0h0m75 0h0m-234 1h0m134 0h0m-10 1h0m40 0h0m-138 1h0m-43 1h0m166 0h0m20 0h0m-54 2h0m19 1h0m-162 1h0m114 0h0m54 0h0m-88 1h0m70 1h0m78 0h0m-97 1h0m33 0h0m67 0h0m-140 1h0m-26 2h0m35 0h0m11 0h0m114 0h0m-172 1h0m66 0h0m79 0h0m6 0h0m-184 1h0m201 0h0m-96 1h0m-71 1h0m12 0h0m118 0h0m-116 2h0m101 0h0m22 0h0m-160 1h0m12 1h0m138 0h0m-28 2h0m66 0h0m-215 1h0m16 0h0m24 0h0m-17 1h0m200 0h0m-151 1h0m57 0h0m38 0h0m41 0h0m-151 1h0m65 0h0m47 0h0m-79 1h0m52 0h0m42 0h0m39 2h0m-64 1h0m29 0h0m-151 1h0m30 0h0m23 1h0m40 1h0m4 0h0m97 0h0m-37 1h0m-59 1h0m88 0h0m-77 1h0m16 0h0m23 0h0m-147 1h0m52 0h0m44 0h0m-93 1h0m23 0h0m41 0h0m134 0h0m-78 2h0m-131 1h0m22 0h0m-32 1h0m27 0h0m57 0h0m59 0h0m-148 1h0m23 0h0m21 0h0m73 0h0m-19 1h0m-53 1h0m153 0h0m-44 1h0m-99 1h0m1 0h0m95 0h0m33 1h0m-120 1h0m67 0h0m0 0h0m51 0h0m-4 1h0m-131 1h0m2 0h0m24 0h0m26 0h0m-140 1h0m113 1h0m18 0h0m61 0h0m-141 1h0m30 0h0m26 1h0m-33 1h0m29 0h0m44 2h0m2 0h0m38 1h0m56 0h0m3 0h0m-167 1h0m12 0h0m7 0h0m43 0h0m36 0h0m-73 1h0m29 0h0m39 0h0m79 0h0m-199 1h0m76 0h0m38 0h0m-134 1h0m211 0h0m-157 1h0m23 0h0m16 0h0m33 0h0m-112 1h0m15 0h0m130 0h0m-106 1h0m3 0h0m33 1h0m104 0h0m-150 1h0m-27 1h0m2 0h0m72 0h0m-21 1h0m8 0h0m8 0h0m62 1h0m61 0h0m-48 1h0m6 0h0m25 0h0m-200 1h0m130 0h0m47 1h0m-121 1h0m75 0h0m58 0h0m-174 1h0m34 0h0m37 0h0m12 0h0m125 0h0m3 0h0m-103 3h0m16 0h0m-87 1h0m38 1h0m83 0h0m52 2h0m-235 1h0m36 0h0m3 1h0m95 0h0m29 0h0m12 0h0m3 0h0m3 0h0m51 0h0m-179 2h0m73 0h0m10 0h0m34 0h0m57 2h0m-131 3h0m-37 1h0m69 0h0m-2 1h0m-104 1h0m60 0h0m115 0h0m7 0h0m-111 1h0m5 0h0m85 0h0m-40 1h0m-118 1h0m52 0h0m-73 1h0m65 1h0m2 0h0m12 0h0m6 0h0m112 0h0m-100 1h0m75 0h0m-118 1h0m117 0h0m-141 1h0m8 0h0m12 0h0m96 1h0m-101 1h0m61 0h0m61 0h0m7 1h0m-116 1h0m1 0h0m-12 1h0m154 0h0m-144 1h0m2 0h0m171 0h0m-212 2h0m159 0h0m-17 1h0m15 0h0m-61 1h0m-51 1h0m61 0h0m46 0h0m8 0h0m15 0h0m-18 3h0m-99 1h0m122 0h0m-115 1h0m25 0h0m26 0h0m-5 1h0m-23 1h0m-69 1h0m55 0h0m-65 1h0m11 0h0m92 0h0m129 0h0m-151 3h0m-83 1h0m-31 2h0m62 2h0m51 0h0m15 0h0m-24 1h0m41 0h0m-82 1h0m18 0h0m19 0h0m9 0h0m9 0h0m11 0h0m7 0h0m-105 1h0m94 0h0m8 0h0m11 0h0m29 0h0m14 18h0"/><path d="M991 124h0m137 60h0m-51 1h0m-33 2h0m128 1h0m-18 5h0m-139 4h0m70 12h0m92 3h0m-168 4h0m110 1h0m47 5h0m-173 1h0m171 0h0m24 5h0m-167 5h0m149 2h0m42 1h0m-15 3h0m-22 2h0m-68 2h0m24 1h0m28 0h0m3 1h0m31 0h0m-109 1h0m33 1h0m50 0h0m-20 1h0m-142 1h0m182 2h0m40 0h0m-100 1h0m-14 1h0m41 0h0m85 1h0m-68 1h0m-86 1h0m79 0h0m-52 1h0m68 0h0m-6 2h0m-162 2h0m176 0h0m-78 3h0m60 1h0m29 0h0m-43 1h0m34 0h0m-327 1h0m260 0h0m77 0h0m-36 1h0m1 0h0m-109 1h0m41 3h0m71 2h0m-110 1h0m73 0h0m2 0h0m66 0h0m4 0h0m8 0h0m-61 3h0m16 1h0m-109 1h0m50 0h0m-67 1h0m103 0h0m2 0h0m17 0h0m20 0h0m3 1h0m-200 1h0m177 0h0m-16 1h0m34 0h0m50 0h0m-151 1h0m75 0h0m37 0h0m7 0h0m39 0h0m-144 1h0m-84 1h0m214 0h0m-185 1h0m-38 1h0m199 0h0m-178 1h0m7 0h0m5 0h0m77 0h0m15 1h0m-31 1h0m78 0h0m-199 1h0m118 0h0m54 0h0m17 0h0m-104 1h0m45 0h0m23 0h0m-144 1h0m231 0h0m-224 1h0m96 0h0m38 0h0m44 0h0m61 0h0m-128 1h0m107 0h0m4 0h0m-130 1h0m18 0h0m-16 2h0m29 0h0m-89 1h0m70 0h0m21 1h0m103 0h0m-139 1h0m64 0h0m38 0h0m-203 1h0m170 0h0m-54 1h0m59 0h0m-142 1h0m23 0h0m115 0h0m-48 1h0m15 0h0m29 0h0m0 0h0m2 0h0m23 0h0m-152 1h0m180 0h0m-86 1h0m38 0h0m18 0h0m15 0h0m-224 2h0m118 0h0m66 0h0m-139 1h0m40 0h0m-37 1h0m74 0h0m67 0h0m40 0h0m-210 1h0m164 0h0m62 0h0m8 0h0m-119 1h0m115 0h0m-98 1h0m58 0h0m-178 1h0m93 0h0m28 0h0m67 0h0m10 0h0m-86 2h0m58 0h0m-98 1h0m103 0h0m29 1h0m-210 1h0m125 1h0m-102 1h0m26 0h0m6 0h0m-16 1h0m63 0h0m-81 2h0m45 0h0m97 0h0m92 0h0m-229 1h0m147 0h0m17 0h0m19 0h0m-174 1h0m135 1h0m25 0h0m2 0h0m15 0h0m-273 1h0m219 0h0m2 0h0m24 0h0m21 0h0m-184 1h0m79 0h0m17 1h0m35 1h0m19 1h0m27 0h0m15 1h0m6 0h0m1 0h0m-134 1h0m39 1h0m-106 1h0m92 0h0m-148 1h0m43 0h0m194 0h0m37 0h0m-337 1h0m125 0h0m19 0h0m110 0h0m-219 1h0m169 0h0m142 0h0m-132 1h0m26 0h0m2 0h0m9 0h0m54 0h0m-58 1h0m-178 1h0m39 0h0m105 0h0m105 0h0m6 0h0m38 0h0m-178 1h0m74 0h0m-147 2h0m39 0h0m-176 1h0m128 0h0m40 0h0m130 0h0m-154 1h0m109 0h0m84 0h0m-175 1h0m68 0h0m24 0h0m51 0h0m14 0h0m-133 1h0m86 0h0m19 0h0m-140 1h0m90 0h0m24 0h0m-32 1h0m12 0h0m57 0h0m-68 1h0m-69 1h0m51 1h0m14 0h0m-118 1h0m92 0h0m135 0h0m-92 1h0m86 0h0m-160 1h0m145 0h0m20 0h0m-213 1h0m74 0h0m99 0h0m16 0h0m28 0h0m-142 1h0m79 0h0m-150 1h0m19 1h0m105 1h0m-1 1h0m-86 1h0m46 0h0m6 0h0m12 0h0m-118 1h0m70 0h0m28 1h0m61 0h0m18 0h0m-127 1h0m49 0h0m-5 1h0m25 0h0m43 0h0m47 0h0m-141 1h0m82 2h0m120 0h0m-159 1h0m33 0h0m76 1h0m23 0h0m-103 1h0m15 0h0m39 0h0m7 0h0m-111 1h0m30 0h0m2 0h0m72 0h0m-112 1h0m91 0h0m-142 1h0m38 0h0m23 0h0m7 0h0m77 1h0m37 0h0m-82 1h0m-117 1h0m96 0h0m52 0h0m54 0h0m-139 1h0m15 0h0m105 0h0m-117 1h0m50 0h0m77 0h0m6 0h0m-173 1h0m77 0h0m51 0h0m-56 1h0m82 0h0m-133 1h0m-61 1h0m35 0h0m138 1h0m35 0h0m3 0h0m-174 1h0m25 0h0m5 0h0m76 0h0m32 0h0m-17 1h0m46 0h0m-163 1h0m25 0h0m18 0h0m39 0h0m26 0h0m-110 1h0m34 0h0m25 0h0m-73 1h0m36 1h0m14 0h0m-54 1h0m14 0h0m78 0h0m61 1h0m-34 2h0m4 0h0m-128 1h0m24 0h0m8 0h0m148 0h0m-191 1h0m0 0h0m72 0h0m9 0h0m119 0h0m7 0h0m-26 1h0m11 0h0m70 0h0m-245 1h0m66 0h0m8 0h0m89 0h0m19 0h0m-69 1h0m-31 2h0m39 0h0m-127 1h0m44 0h0m-80 1h0m52 0h0m133 2h0m-80 1h0m-30 1h0m33 0h0m83 0h0m74 0h0m-204 1h0m58 0h0m44 0h0m-78 1h0m147 0h0m-57 1h0m2 0h0m-147 1h0m1 0h0m31 0h0m1 0h0m126 3h0m92 0h0m9 0h0m-247 2h0m29 0h0m26 1h0m91 0h0m-53 1h0m29 0h0m46 0h0m13 1h0m-72 1h0m-28 1h0m88 0h0m-120 1h0m53 0h0m87 0h0m-174 2h0m55 0h0m-12 2h0m8 0h0m4 0h0m8 0h0m-65 1h0m36 0h0m95 0h0m-49 1h0m29 0h0m-135 1h0m34 0h0m19 0h0m67 0h0m45 0h0m26 0h0m-7 1h0m-100 1h0m100 0h0m-167 1h0m56 0h0m26 0h0m-83 1h0m14 0h0m139 0h0m-62 1h0m-22 1h0m108 0h0m-169 1h0m85 0h0m104 0h0m-177 1h0m130 1h0m21 0h0m-82 1h0m68 0h0m-27 1h0m-26 1h0m-139 1h0m27 0h0m89 0h0m1 0h0m82 0h0m-158 1h0m100 0h0m39 0h0m30 0h0m-178 1h0m148 0h0m-72 1h0m24 0h0m42 0h0m-134 1h0m24 0h0m38 1h0m48 0h0m41 0h0m-74 1h0m32 0h0m-90 1h0m15 0h0m54 0h0m-9 1h0m96 0h0m17 0h0m-165 1h0m92 0h0m3 0h0m-98 2h0m75 0h0m67 0h0m-165 1h0m24 1h0m8 0h0m-48 1h0m-6 1h0m33 0h0m3 0h0m60 0h0m54 0h0m-58 1h0m34 0h0m-100 1h0m-11 1h0m89 1h0m40 0h0m-160 2h0m163 0h0m-130 1h0m102 0h0m-228 1h0m141 1h0m5 0h0m53 0h0m-52 1h0m54 0h0m127 0h0m-168 1h0m25 0h0m2 0h0m32 0h0m-80 1h0m18 0h0m73 0h0m10 0h0m-144 1h0m36 1h0m42 1h0m108 0h0m14 0h0m-39 1h0m-94 1h0m26 0h0m7 0h0m17 0h0m-44 1h0m40 0h0m-3 1h0m-96 1h0m47 0h0m66 0h0m68 0h0m-143 1h0m46 0h0m-71 2h0m68 0h0m-14 1h0m52 0h0m-133 1h0m42 1h0m25 0h0m59 0h0m3 1h0m15 0h0m-70 2h0m-65 1h0m61 0h0m22 0h0m48 0h0m-81 2h0m-41 1h0m14 0h0m48 0h0m-28 1h0m64 0h0m11 0h0m-130 1h0m31 2h0m40 0h0m54 0h0m25 0h0m-137 1h0m5 0h0m82 0h0m-108 1h0m14 0h0m47 0h0m8 0h0m-25 2h0m42 1h0m6 0h0m21 1h0m82 0h0m-145 1h0m170 1h0m-206 2h0m96 0h0m30 1h0m-104 1h0m3 0h0m35 0h0m42 0h0m82 0h0m-145 1h0m119 0h0m-140 1h0m36 0h0m12 0h0m22 0h0m77 0h0m-167 1h0m33 0h0m0 0h0m191 0h0"/><path d="M1076 110h0m16 44h0m-137 24h0m136 18h0m6 5h0m-58 1h0m-13 4h0m-5 1h0m-4 3h0m-148 8h0m102 0h0m225 5h0m1 1h0m-91 1h0m55 1h0m20 0h0m33 1h0m-67 1h0m-151 1h0m-17 4h0m160 0h0m-127 1h0m133 2h0m17 0h0m-160 8h0m78 1h0m19 1h0m47 0h0m39 0h0m-88 2h0m19 0h0m33 1h0m-29 1h0m59 0h0m8 3h0m22 1h0m-87 2h0m54 0h0m-34 1h0m9 1h0m61 0h0m-89 1h0m36 0h0m-34 1h0m17 0h0m8 0h0m39 1h0m43 0h0m-153 1h0m-28 1h0m28 0h0m28 1h0m31 0h0m-128 1h0m134 0h0m68 1h0m-205 1h0m51 0h0m126 0h0m-180 1h0m172 0h0m8 0h0m-232 1h0m163 0h0m2 0h0m36 0h0m-137 1h0m17 0h0m158 1h0m-174 1h0m-11 1h0m92 0h0m37 0h0m23 0h0m-1 1h0m-159 2h0m152 0h0m-42 1h0m79 0h0m-153 1h0m150 0h0m-63 1h0m57 0h0m-65 1h0m31 1h0m27 0h0m16 0h0m10 0h0m24 0h0m-177 2h0m33 0h0m58 0h0m73 0h0m-81 3h0m84 0h0m-193 1h0m50 2h0m143 0h0m-189 1h0m73 0h0m26 0h0m29 0h0m-97 1h0m63 0h0m113 0h0m-168 1h0m86 1h0m6 1h0m14 0h0m59 0h0m-189 2h0m164 0h0m-53 2h0m1 1h0m-5 1h0m12 0h0m22 0h0m-194 1h0m95 0h0m84 0h0m-8 2h0m10 0h0m40 0h0m-108 1h0m66 0h0m71 0h0m11 0h0m-75 1h0m17 0h0m-196 1h0m31 0h0m79 1h0m39 0h0m-1 1h0m15 0h0m31 0h0m-92 1h0m39 0h0m14 0h0m41 0h0m-47 1h0m16 0h0m-112 6h0m87 0h0m-33 1h0m106 0h0m-124 1h0m8 0h0m-77 1h0m108 0h0m-23 1h0m33 0h0m67 0h0m-57 1h0m-143 1h0m126 0h0m17 0h0m13 0h0m75 0h0m-188 1h0m62 0h0m126 0h0m-241 1h0m240 0h0m-174 1h0m68 0h0m49 0h0m10 0h0m-182 1h0m116 0h0m131 0h0m-243 1h0m23 0h0m7 0h0m178 0h0m-218 1h0m54 0h0m82 0h0m56 2h0m59 0h0m-177 1h0m44 0h0m20 2h0m73 0h0m-64 1h0m38 0h0m-96 1h0m26 0h0m85 0h0m12 0h0m-186 1h0m54 0h0m133 0h0m-188 1h0m116 0h0m-145 1h0m17 1h0m102 0h0m105 0h0m-125 1h0m123 1h0m-170 1h0m144 0h0m-63 1h0m23 0h0m30 0h0m-126 1h0m18 0h0m81 0h0m24 0h0m-186 1h0m124 0h0m108 0h0m-110 1h0m3 0h0m1 0h0m58 0h0m-125 2h0m55 0h0m42 0h0m-125 1h0m89 0h0m56 0h0m10 0h0m-206 1h0m224 0h0m-196 1h0m156 0h0m2 0h0m1 0h0m-113 1h0m34 0h0m12 1h0m-109 2h0m135 0h0m71 0h0m20 0h0m-236 1h0m201 0h0m46 0h0m-207 1h0m11 0h0m131 0h0m44 0h0m-123 1h0m43 0h0m-118 1h0m31 0h0m154 0h0m31 0h0m-180 1h0m96 0h0m43 0h0m-165 1h0m112 0h0m76 0h0m3 1h0m12 0h0m-340 1h0m141 0h0m88 2h0m9 1h0m68 0h0m21 0h0m-20 1h0m-66 1h0m-119 1h0m78 0h0m52 0h0m-139 1h0m20 1h0m104 0h0m29 0h0m-96 1h0m10 0h0m37 0h0m59 0h0m-55 1h0m-100 1h0m229 1h0m-165 2h0m93 1h0m-142 1h0m7 0h0m67 0h0m128 0h0m-213 1h0m30 0h0m62 3h0m65 1h0m-85 1h0m-69 1h0m8 0h0m93 0h0m79 0h0m-160 1h0m148 0h0m-87 1h0m83 0h0m18 0h0m-155 1h0m7 0h0m55 0h0m11 0h0m58 1h0m6 1h0m45 0h0m-89 1h0m34 0h0m-72 1h0m18 0h0m53 1h0m-94 1h0m49 0h0m0 0h0m97 0h0m-203 2h0m113 0h0m25 0h0m3 0h0m-54 1h0m26 0h0m0 1h0m48 0h0m35 0h0m4 0h0m-131 1h0m-79 1h0m33 0h0m-98 1h0m227 0h0m-40 1h0m-105 1h0m67 0h0m-51 1h0m19 0h0m47 0h0m78 1h0m-92 1h0m48 0h0m-70 1h0m132 0h0m-196 1h0m68 0h0m-15 1h0m24 1h0m26 0h0m18 0h0m77 0h0m17 0h0m8 0h0m-91 1h0m-144 1h0m155 0h0m7 0h0m53 0h0m-225 1h0m27 0h0m55 0h0m2 0h0m85 0h0m44 0h0m-112 1h0m58 0h0m20 0h0m55 0h0m-179 1h0m160 0h0m-90 1h0m28 0h0m7 0h0m27 0h0m8 0h0m-156 1h0m168 0h0m-200 1h0m6 0h0m62 0h0m11 0h0m35 0h0m-44 2h0m109 0h0m-108 1h0m12 0h0m35 0h0m126 0h0m-224 3h0m7 0h0m80 0h0m22 0h0m74 0h0m-183 1h0m11 0h0m40 0h0m26 0h0m-44 1h0m108 0h0m35 0h0m13 0h0m-195 1h0m16 0h0m-13 1h0m99 0h0m44 0h0m-122 1h0m13 0h0m16 1h0m25 0h0m48 0h0m-60 1h0m104 0h0m32 0h0m-212 1h0m38 0h0m45 1h0m61 0h0m30 0h0m-132 1h0m-77 2h0m47 0h0m63 0h0m88 0h0m26 0h0m-170 1h0m101 1h0m-105 1h0m15 0h0m94 0h0m96 1h0m-144 1h0m54 0h0m16 1h0m-127 1h0m-14 1h0m94 2h0m9 0h0m38 0h0m-75 1h0m40 0h0m-87 1h0m14 0h0m13 0h0m149 0h0m-161 1h0m78 0h0m-82 2h0m79 0h0m2 0h0m29 0h0m-117 1h0m45 0h0m80 0h0m55 0h0m-183 1h0m11 0h0m65 0h0m-82 1h0m0 0h0m66 1h0m-51 1h0m-10 1h0m79 0h0m52 1h0m-112 1h0m84 0h0m27 0h0m75 0h0m-135 1h0m43 0h0m48 0h0m-151 1h0m16 3h0m48 0h0m40 0h0m-80 1h0m-68 1h0m165 0h0m-144 1h0m146 0h0m-123 1h0m48 0h0m102 0h0m2 0h0m-169 1h0m74 0h0m-72 2h0m62 0h0m28 0h0m59 0h0m-180 2h0m193 0h0m21 1h0m-133 1h0m35 0h0m80 0h0m16 0h0m-47 1h0m-35 1h0m-69 2h0m21 0h0m69 0h0m48 0h0m-108 1h0m-21 1h0m42 0h0m10 0h0m-88 1h0m17 0h0m46 0h0m17 0h0m2 0h0m73 1h0m-157 1h0m112 0h0m-30 1h0m36 0h0m-126 1h0m47 0h0m109 0h0m28 1h0m11 0h0m-153 1h0m44 0h0m75 0h0m-38 1h0m63 1h0m-140 1h0m48 0h0m1 0h0m104 0h0m-201 1h0m83 0h0m42 0h0m-137 1h0m121 0h0m-19 2h0m-78 1h0m148 0h0m-143 1h0m84 1h0m52 2h0m-161 2h0m81 0h0m58 0h0m-140 1h0m99 1h0m-50 1h0m32 0h0m71 0h0m23 3h0m-118 1h0m144 0h0m-69 1h0m1 0h0m103 0h0m-216 1h0m20 0h0m11 0h0m13 0h0m36 0h0m-100 1h0m79 0h0m12 0h0m-97 1h0m14 0h0m93 0h0m25 0h0m-104 1h0m44 0h0m0 0h0m67 0h0m-110 8h0m147 8h0"/><path d="M996 116h0m42 3h0m83 19h0m-56 19h0m-51 4h0m132 1h0m-57 11h0m56 0h0m-231 11h0m273 7h0m-66 11h0m31 3h0m-253 7h0m257 6h0m-46 1h0m-110 2h0m27 0h0m24 3h0m-5 3h0m156 3h0m37 0h0m-194 2h0m88 5h0m19 0h0m-165 1h0m197 1h0m37 1h0m-70 1h0m10 3h0m16 3h0m-187 1h0m194 1h0m-201 1h0m56 0h0m76 0h0m95 0h0m-73 1h0m22 0h0m9 0h0m-19 1h0m15 1h0m-12 1h0m-147 1h0m65 0h0m36 0h0m-89 1h0m172 0h0m-260 2h0m265 0h0m-61 1h0m27 1h0m-58 1h0m71 1h0m-112 2h0m153 1h0m-205 1h0m99 0h0m-80 3h0m127 0h0m-136 1h0m131 0h0m66 0h0m-135 1h0m7 0h0m-25 1h0m87 1h0m12 1h0m28 1h0m-123 1h0m122 0h0m-161 2h0m90 1h0m86 1h0m-166 1h0m100 0h0m-38 1h0m120 0h0m-137 1h0m-39 1h0m72 0h0m1 0h0m20 0h0m59 0h0m-194 1h0m107 0h0m6 1h0m-71 1h0m61 0h0m85 0h0m68 0h0m-139 1h0m28 0h0m36 0h0m8 0h0m-162 1h0m61 0h0m6 0h0m138 0h0m-105 1h0m45 0h0m18 0h0m6 0h0m-191 1h0m133 0h0m4 0h0m-177 1h0m153 0h0m-1 1h0m8 0h0m-130 1h0m1 0h0m144 0h0m55 1h0m34 0h0m0 0h0m-54 2h0m-73 1h0m54 0h0m51 0h0m-190 1h0m111 0h0m10 0h0m-1 1h0m-136 1h0m38 0h0m66 1h0m48 0h0m17 0h0m-121 1h0m35 0h0m51 0h0m62 0h0m-32 1h0m68 0h0m-97 1h0m56 0h0m8 0h0m-50 1h0m70 0h0m-227 1h0m154 0h0m24 0h0m-188 2h0m124 0h0m137 0h0m-254 1h0m22 0h0m176 0h0m-58 1h0m5 0h0m71 0h0m18 0h0m-95 1h0m13 0h0m57 0h0m-119 1h0m57 0h0m38 0h0m29 0h0m5 0h0m4 0h0m-169 1h0m13 0h0m75 1h0m2 0h0m24 0h0m-6 1h0m34 0h0m-160 1h0m12 0h0m-59 1h0m49 0h0m136 0h0m22 1h0m8 0h0m-238 1h0m54 1h0m53 0h0m150 0h0m-14 2h0m5 0h0m-195 1h0m21 1h0m128 0h0m39 0h0m-114 1h0m119 0h0m-103 1h0m23 0h0m1 0h0m46 0h0m-123 1h0m35 0h0m6 0h0m65 0h0m-132 1h0m163 0h0m32 0h0m-192 1h0m7 0h0m88 0h0m52 0h0m15 1h0m-167 1h0m47 0h0m0 0h0m39 0h0m-102 1h0m118 0h0m74 0h0m-52 1h0m-135 1h0m12 0h0m51 0h0m-94 1h0m207 1h0m-5 2h0m-144 2h0m7 1h0m97 0h0m-109 2h0m6 0h0m67 0h0m47 1h0m5 1h0m11 0h0m15 0h0m-171 3h0m65 0h0m-102 1h0m167 0h0m-106 1h0m89 0h0m-116 1h0m136 0h0m-143 1h0m15 0h0m54 0h0m67 0h0m12 0h0m-79 1h0m47 0h0m-140 1h0m128 0h0m35 0h0m-145 1h0m28 1h0m-120 2h0m201 0h0m111 0h0m-235 1h0m181 1h0m-85 1h0m32 0h0m101 0h0m-182 1h0m131 0h0m29 0h0m-108 1h0m72 0h0m-158 1h0m30 0h0m29 0h0m87 0h0m18 0h0m-14 1h0m2 0h0m24 0h0m8 0h0m-130 1h0m-32 1h0m3 0h0m26 0h0m99 0h0m6 0h0m-36 1h0m-118 1h0m32 1h0m109 0h0m-143 1h0m11 0h0m36 0h0m85 0h0m-44 1h0m39 0h0m-79 1h0m166 1h0m-223 1h0m67 0h0m95 0h0m-151 2h0m67 0h0m127 0h0m-112 1h0m58 0h0m-166 1h0m62 0h0m-1 2h0m20 0h0m-66 1h0m57 0h0m8 0h0m45 0h0m-108 1h0m170 0h0m4 0h0m-25 1h0m-159 1h0m47 0h0m14 0h0m15 1h0m-72 1h0m262 0h0m-44 1h0m-145 1h0m139 0h0m-151 1h0m-56 1h0m51 0h0m16 0h0m96 0h0m7 0h0m14 0h0m-185 1h0m108 0h0m-103 2h0m15 0h0m123 0h0m39 0h0m-147 1h0m21 0h0m55 0h0m78 0h0m-121 1h0m68 0h0m41 1h0m-176 1h0m95 0h0m12 0h0m58 0h0m-54 1h0m78 0h0m-179 1h0m45 0h0m34 0h0m27 1h0m-7 1h0m9 0h0m24 0h0m-135 1h0m48 0h0m-2 1h0m205 0h0m-226 1h0m35 0h0m21 0h0m79 1h0m20 0h0m-220 1h0m153 0h0m-92 1h0m62 2h0m51 0h0m-155 1h0m45 0h0m105 0h0m-126 1h0m1 0h0m89 0h0m92 0h0m-182 1h0m35 0h0m14 0h0m11 0h0m140 0h0m13 0h0m-180 1h0m47 0h0m83 0h0m23 0h0m-154 1h0m21 0h0m28 0h0m5 0h0m12 0h0m43 0h0m19 0h0m12 0h0m47 0h0m-110 1h0m2 0h0m24 0h0m-59 1h0m10 0h0m39 0h0m100 0h0m-256 1h0m92 0h0m159 0h0m-227 1h0m176 0h0m-73 1h0m56 0h0m46 0h0m-156 1h0m8 0h0m33 0h0m38 1h0m-143 1h0m74 0h0m12 0h0m1 0h0m-49 1h0m140 0h0m32 0h0m-32 1h0m-178 1h0m111 0h0m-65 1h0m3 1h0m121 0h0m37 0h0m-159 2h0m78 0h0m12 0h0m-120 1h0m39 0h0m178 0h0m-163 1h0m-74 1h0m125 0h0m21 0h0m-104 1h0m9 0h0m15 0h0m188 0h0m-209 1h0m71 0h0m12 0h0m-119 1h0m173 0h0m-132 1h0m-23 1h0m64 0h0m93 0h0m-183 2h0m38 1h0m133 1h0m-112 1h0m105 0h0m27 0h0m-164 1h0m40 1h0m13 0h0m55 0h0m68 0h0m-186 1h0m124 0h0m39 0h0m-164 1h0m151 0h0m-112 3h0m96 0h0m-104 1h0m-47 1h0m7 1h0m32 0h0m24 0h0m28 0h0m3 0h0m52 0h0m22 0h0m-136 1h0m107 3h0m36 0h0m-15 1h0m22 0h0m4 0h0m-70 1h0m53 0h0m-142 1h0m20 0h0m25 0h0m20 0h0m88 0h0m-104 1h0m114 2h0m-100 1h0m36 0h0m16 1h0m-81 1h0m18 1h0m94 0h0m-131 1h0m47 0h0m69 0h0m-148 1h0m23 0h0m30 0h0m31 0h0m37 0h0m66 0h0m-160 1h0m18 0h0m21 0h0m112 0h0m-99 1h0m50 0h0m28 0h0m-132 3h0m102 0h0m-74 1h0m61 0h0m15 0h0m5 0h0m75 1h0m-205 1h0m12 1h0m110 0h0m-106 2h0m53 0h0m-78 1h0m34 0h0m37 0h0m35 0h0m64 0h0m29 0h0m-176 1h0m103 0h0m-93 1h0m2 0h0m-16 1h0m1 0h0m145 1h0m-28 1h0m-135 1h0m70 0h0m18 0h0m-9 1h0m-19 3h0m79 1h0m26 0h0m-133 1h0m69 1h0m23 0h0m41 0h0m-89 1h0m-57 1h0m171 0h0m-111 1h0m36 0h0m-63 1h0m3 1h0m-44 1h0m42 0h0m-71 1h0m64 1h0m95 0h0m-74 1h0m35 0h0m-53 1h0m60 0h0m6 0h0m35 1h0m-167 1h0m3 1h0m6 0h0m23 1h0m7 0h0m7 0h0m-11 1h0m49 0h0m-62 3h0m32 0h0m4 0h0m97 0h0m-114 1h0m27 0h0m3 0h0m20 0h0m3 0h0m35 0h0m21 0h0m-125 1h0m30 0h0m26 0h0"/></g>
<line x1="849.5" y1="473.8" x2="1279.4" y2="277.4" stroke="#000" stroke-width="3.8"/>
</g>
<rect x="849.2" y="42.3" width="532.3" height="495.0" fill="none" stroke="#333" stroke-width="2.2"/>
<path d="M840.2 515.2H849.2M840.2 364.8H849.2M840.2 214.5H849.2M840.2 64.1H849.2M980.2 537.3V546.3M1115.3 537.3V546.3M1249.2 537.3V546.3" stroke="#333" stroke-width="4.4" fill="none"/>
<text x="837.4" y="527.9" font-size="39.5" fill="#4d4d4d" stroke="#4d4d4d" text-anchor="end">0</text>
<text x="837.4" y="377.5" font-size="39.5" fill="#4d4d4d" stroke="#4d4d4d" text-anchor="end">5</text>
<text x="837.4" y="227.2" font-size="39.5" fill="#4d4d4d" stroke="#4d4d4d" text-anchor="end">10</text>
<text x="837.4" y="76.8" font-size="39.5" fill="#4d4d4d" stroke="#4d4d4d" text-anchor="end">15</text>
<text x="980.2" y="579.8" font-size="39.5" fill="#4d4d4d" stroke="#4d4d4d" text-anchor="middle">5</text>
<text x="1115.3" y="579.8" font-size="39.5" fill="#4d4d4d" stroke="#4d4d4d" text-anchor="middle">7.5</text>
<text x="1249.2" y="579.8" font-size="39.5" fill="#4d4d4d" stroke="#4d4d4d" text-anchor="middle">10</text>
<text x="862.1" y="88.7" font-size="46" fill="#1a1a1a" stroke="#1a1a1a">Pearson r = 0.40</text>
<text x="862.1" y="131.0" font-size="46" fill="#1a1a1a" stroke="#1a1a1a">p &lt; 2.2e-16</text>
<text x="715.7" y="40" font-size="53" font-weight="bold" fill="#000">b</text>
<text x="916.8" y="628.6" font-size="46" fill="#1a1a1a" stroke="#1a1a1a">log<tspan font-size="27.5" dy="15">2</tspan><tspan dy="-15">(Old) [H3K9ac]</tspan></text>
<text transform="translate(784.9,432) rotate(-90)" x="0" y="0" font-size="46" fill="#1a1a1a" stroke="#1a1a1a">log<tspan font-size="27.5" dy="15">2</tspan><tspan dy="-15">(Old) [RNA]</tspan></text>
</g>
<g id="pc">
<clipPath id="cc"><rect x="1554.5" y="42.4" width="531.7" height="495.1"/></clipPath>
<g clip-path="url(#cc)">
<g clip-path="url(#gc)"><g fill="#707070" fill-opacity="0.13" filter="url(#bl4)"><path d="M1883 220l-26-6l-26 9l-44 4l-9 5l-26 28l-17 4l-6 6l-9 40l-16 28l-4 29l-20 53l-7 38l3 35l8 19l9 10l118 2l7-3l9-8l6-34l-4-16l2-11l18-15l25-9l14-14l26-37l9-23l-1-22l7-20l0-15l-6-20l-19-23l-12-26z"/><path d="M1876 242l-24-6l-32 6l-15 6l-26 20l-11 19l-35 36l-26 70l-8 38l-1 24l-6 18l3 25l8 14l34 10l27 2l25-5l16-8l5-8l-1-54l5-14l20-20l21-8l19-12l26-29l6-31l8-19l1-14l-9-24l-18-25z"/><path d="M1864 254l-25-1l-26 14l-13 14l-24 39l-22 19l-5 20l-22 41l-11 69l3 20l14 17l22 7l23-7l6-9l11-88l39-22l30-8l12-11l10-15l15-36l0-19l-22-34z"/><path d="M1855 266l-13 0l-17 8l-13 14l-7 17l0 38l5 12l14 10l25 2l11-5l22-27l8-19l1-9l-5-14l-16-19z"/><path d="M1844 277l-11 4l-9 8l-7 22l3 18l7 12l10 7l11 1l22-16l8-13l2-13l-6-13l-11-11l-9-5z"/></g></g><g clip-path="url(#gc)"><g fill="#e8231f" fill-opacity="0.2" filter="url(#bl3)"><path d="M1705 431l-1 5l5 1l1-5zM1898 353l-1 5l5 1l1-5zM1775 263l-1 5l6 7l4 0l1-5l-6-7zM1796 262l-1 5l5 1l1-5zM1864 240l-4 0l-4 5l-4 1l-8-6l-6 3l-7 0l-4 7l3 8l-2 2l-6-3l-15 2l-1 6l2 6l-4 10l-2 1l-5-5l-4 1l-5 8l0 8l-10 3l-3-7l-6 0l-3 3l1 5l7 2l3 5l-1 3l-7-5l-6 1l-1 6l-8 8l-1 9l-5-2l-3-7l-5 1l-5 16l3 6l6 5l2 7l-5 6l-6 1l-7-9l-5 1l0 4l4 5l-3 7l1 6l-2 2l-5-1l-5 5l3 18l7 6l0 2l-9 0l-3 3l0 9l8 10l-2 10l-11 7l0 5l6 7l-5 5l-3 10l-6 2l-2 5l-6 5l0 4l2 2l8 1l10-9l1 7l-4 4l0 6l-9 4l-2 3l2 9l4 0l8-4l4 0l6 7l12-3l6 4l7 0l4-2l8 2l15 0l3-2l11 1l3-2l10-1l4-4l0-5l-5-5l2-8l-2-13l3-5l8 0l3-3l0-3l-5-6l-3 0l-5 4l-7-2l3-6l-1-4l6-6l1-7l-3-3l-7-2l-1-3l5-4l8 1l5-2l6 2l3-2l0-4l-6-5l6-6l7-1l7-11l1-7l-5-6l1-6l5 9l5 1l7-2l3 6l1 8l9 3l3-2l0-4l-7-6l1-5l8 1l3-4l0-5l3-3l13 5l7-4l0-4l-9-6l0-4l7-10l8-5l2-11l-9-6l8-1l10-10l0-4l-6-5l0-3l10 0l3-6l-6-18l-17-3l4-3l1-6l-4-5l-2-9l-20-11l0-6zM1773 502l2-2l3 1l-2 2zM1786 482l2 1l3 10l-3 3l-5-3zM1797 408l8 6l-1 9l-2 2l-4 0l-7-13z"/><path d="M1779 506l4 9l14-2l4-3l0-3l-10-7l-5 0zM1713 493l-3 1l0 3l3 0zM1706 478l-5-2l-7 11l6 1l6-7zM1803 466l-1 5l5 2l2-2l-1-5zM1851 401l1 3l5 0l-2-4zM1882 376l-2 1l0 3l3 2l3-4zM1875 372l-4 2l2 3l3-2zM1908 303l-3 3l1 3l3-1zM1864 244l-5 3l-7 1l-1 4l3 4l-6 3l-5-7l1-3l4-1l-3-5l-2 0l-3 4l-8-1l-3 5l3 6l-1 6l-3 1l-8-3l-2 3l-8-2l0 12l-5 11l-4 2l-5-7l-3 1l-2 4l1 10l-9 4l-1 7l-3 4l-7 1l-3-5l-4 0l-1 8l-6 5l1 6l-2 6l-5 5l-7-10l-2-1l-4 3l-1 6l4 8l11-1l-6 6l2 7l-7 7l-9 5l-6 1l0 4l7 2l2 4l-20 2l3 18l6 5l1 5l-3 3l-9-1l-1 4l3 8l8 8l-4 6l0 7l7-2l2 5l-5 6l-8-1l-3-5l-3 1l-1 2l6 6l2 10l-1 1l-5-3l-4 5l0 4l9 7l-3 8l1 4l11 0l3 3l0 3l-2 3l-10 4l-13 0l-3 2l0 6l14-3l7 7l12-2l5 4l6 0l6-3l7 3l15-1l1-5l-3-11l10-5l1-12l2-3l5-2l3 4l2 9l2 2l2-2l-2-10l3-10l-3-2l-5 1l-4-5l0-3l6-3l-2-8l6-1l3-5l-2-4l-7-1l-2-2l0-5l6-6l0-4l-7-14l2-2l5 0l7-10l7 0l2 2l-8 5l0 4l7 6l4 0l3-3l6 0l7-11l-1-5l-5-5l0-4l-3-3l2-4l8 1l3 3l0 5l3 2l12-3l14 2l1-2l-11-10l6-1l6 2l4-5l-1-3l2-2l6 2l10-16l9-6l0-7l-7-2l-2-2l0-4l2-3l9 2l7-9l-6-6l0-12l5-9l-6-6l-8-2l-3-3l2-7l3 2l2-1l-3-4l-2 3l-2-2l3-4l-1-8l-2-2l-5 0l-6-6l-5-1l-2-2l0-6zM1743 414l1 2l-3 2l-1-2zM1814 402l3-1l2 3l-3 1zM1747 384l2-1l1 2l-2 1zM1727 380l4 3l0 2l-4 5l-3 0l-1-5zM1785 348l2-1l2 3l-2 1zM1781 319l2 5l-3 2l-1 4l-2 2l-5 0l-3-7l3-3zM1761 319l2-1l3 5l-2 1z"/><path d="M1702 507l1 2l5 0l4-3l-2-2l-5 0zM1782 506l3 6l14-2l0-3l-9-4l-5 0zM1795 472l-5 3l2 3l3-2zM1805 467l-1 3l3 1l0-3zM1710 466l-1 3l3 1l0-3zM1805 403l-2 4l4 4l5 1l2-3l-1-5l-2-2zM1826 398l-4 1l1 5l4-3zM1719 379l-2 4l3 2l2-3zM1744 336l-2 2l1 2l3 0l2-2zM1742 329l-1 2l2 1l1-2zM1767 318l1 2l4 1l5-2l4-5l-12-1zM1864 247l-10 2l-1 2l5 7l-2 2l-8 1l-10-12l-6-1l-1 5l3 4l-1 9l-4 4l-6-7l-2 1l-2 6l-6-4l-2 2l1 8l-4 4l-2 7l-2 2l-4 0l-4-4l-2 1l0 9l5 4l0 2l-9 1l-4-2l0 13l-2 3l1 9l-2 3l0 6l4 4l5 12l-1 4l-5-1l-3-3l0-6l-3-3l0-7l-15-1l-4-5l-5 9l8 5l8-2l7 3l-3 3l-6-1l-7 4l-4-1l-2-3l-7 2l-1 2l8 7l0 7l-3 4l-4-2l3-6l-5-2l-13 10l-6 1l0 2l5 1l6 5l-5 4l-7 12l-5 0l-2 2l8 12l-1 4l-5 2l-8 0l6 13l7 2l4-3l2 2l0 5l-2 2l-9 1l1 3l3 0l4 4l0 4l-6 7l-8 0l0 6l3 7l-5 8l3 4l-3 11l9 0l6 6l-1 8l-5 1l-3 3l1 7l12-2l5 5l4 0l6-4l9 4l8 0l5-2l-2-15l8-4l2-13l9-8l-4-8l0-8l3-2l0-8l2-2l7 2l1-2l-2-4l-6 0l-3-3l0-6l6-7l0-4l-11-18l2-3l5 0l2-6l5 2l-4 6l1 1l4-2l0-3l3-3l12 0l4 3l5-1l1-4l-3-12l3-4l12 1l1 7l2 2l19-3l-5-9l2-2l12 1l2-8l10 0l2-2l0-6l9-9l5-2l1-5l-3-2l-5 0l-2-2l0-5l2-3l-1-7l2-2l4 1l-1 5l3 3l3 0l3-3l1-5l-6-3l3-5l1-20l-3-4l-10-4l-1-14l3-3l0-5l-7-1l-6-7l-5 0zM1728 503l5-2l2 2l0 4l-2 1zM1752 487l5 2l-3 8l-2-1l-2-6zM1762 474l4 1l0 7l-4-3zM1743 446l5 5l-1 4l-6-5zM1745 411l1 5l-3 6l-4 2l-2-2l0-8zM1729 411l3-1l2 3l-3 2zM1734 402l1 3l-2 2l-1-4zM1752 394l3 4l-5 4l-2-5zM1747 380l6 3l-4 6l-4-2l0-5zM1786 379l5 1l1 4l-2 2l-4 0l-2-2zM1754 372l9 0l1 3l-8 0zM1777 362l4 0l2 2l-4 6l-4-5zM1768 362l1 3l-3 3l-2-3z"/><path d="M1789 505l-4 0l-1 3l3 2zM1725 505l-2 5l6 1l2-2zM1708 505l-3 2l2 1l2-2zM1720 417l0 3l4 5l3 0l4-5l5 0l-1-3l-6 2l-3-5l-4 0zM1805 404l-1 3l2 2l6 0l0-4l-2-2zM1740 402l-4 5l1 4l4 0l3-4l0-2zM1742 380l-6 2l0 4l-8 9l-4 0l4 6l11-1l9-6l1-3l-6-3zM1738 388l3 2l-1 3l-4-2zM1773 366l-5 4l1 2l5-3zM1760 363l-3 5l4 2l1-4zM1737 366l-1 5l10 7l6 1l3 3l5-1l-1-4l-7-2l0-5l-4-4l2-8zM1765 338l2 1l4-2l7 2l1-3l-4-1l-5 2l-3-2zM1892 324l-1 5l4 1l2-5zM1777 315l-6 0l-1 4l6-1zM1823 265l-1 3l3 1l0-3zM1863 250l-7 0l-1 1l4 4l0 4l-6 4l-7-1l-4-7l-5-5l-4-1l-1 4l3 4l-1 10l-10 8l-5-1l-3-5l-3-1l-1 4l4 5l-8 5l-1 5l3 4l-3 1l-3-2l-8 0l0 5l5 4l0 2l-5 3l-9 1l2 11l-2 2l-1 16l6 10l5 14l4 4l-1 2l-3 0l-3-3l-6 1l-1-2l2-3l-9-8l0-2l-11 0l-5 3l-9-2l5 11l4-3l6-1l6 5l9 0l2 2l-3 4l2 7l-2 1l-2-2l-4 0l-6 5l-5 0l0 6l-7 6l-6-3l-3 3l0 3l5 4l-1 9l-6 4l-1 7l-6 10l-5 0l-1 5l-6 4l3 10l-7 8l-8 1l0 3l4 5l0 10l-2 2l1 4l-5 8l2 2l7-1l5 4l2 6l5 5l-1 9l3 4l5-1l2-4l5 0l7 5l10-1l1-10l-2-5l9-5l0-11l9-9l-3-5l1-13l3-4l-1-20l5-7l0-3l-10-16l-1-5l2-2l5 0l4-6l7 2l14-1l3 3l3 0l2-2l-3-6l2-10l4-3l11 0l2-5l2 2l-1 13l8-1l5-3l-1-6l3-3l12 1l1-9l11 1l2-2l-1-7l15-11l-1-3l-6 0l-4-7l4-5l-1-7l10-6l2-4l1-17l-4-6l-7-1l-3-4l1-5l-4-11l4-1l1-3l-16 0l-2-2l0-6zM1749 486l8 0l2 2l-1 5l-5 7l-3-1l0-7l-2-3zM1724 474l5-1l3 3l0 5l-2 1zM1761 472l5 1l3 3l1 6l-2 3l-6 0l-3-10zM1779 470l2 2l-1 4l-5 2l-2-4zM1758 446l3 1l0 4l-2 2l-4-2zM1739 441l6 0l6 13l-1 4l-4 0l-8-8l-2-6zM1761 433l3 1l-2 6l-5-4zM1768 412l3 4l-5 3l-3-4zM1804 386l4-2l3 2l1 4l-1 1zM1785 376l6 0l2 2l1 8l-2 2l-8 0l-2-2l0-5zM1800 339l3 2l-2 3l-3-2zM1791 329l4 0l2 2l0 4l-2 2l-6-6zM1805 320l0 5l-5 2l-1-1z"/><path d="M1739 505l-1 8l3 1l1-8zM1773 485l-11 3l-8 13l-7 0l-2 6l7 2l6 5l9-1l1-9l-3-5l10-6zM1724 417l-1 4l2 1zM1740 405l-2 4l3 0zM1807 404l-2 2l1 2l4 1l1-4zM1814 393l-1 1l3 2l1-2zM1730 397l5 2l3-3l-5-3zM1739 382l-1 3l3 1l1-3zM1756 378l-1 2l2 1l1-2zM1781 374l-3 0l-3 5l-6 4l-4 5l1 4l-2 2l-4-1l-4-5l-3 0l0 3l5 6l-1 6l3 7l-3 1l-2-2l-4 0l-7 19l-2 2l-4-1l-6 8l2 4l13-4l6 20l-2 2l-7 0l-3 2l-1-2l2-3l-8-8l-2 0l-6 7l-6 0l0 2l6 3l4 5l7 0l1 3l-4 5l1 2l4-2l4 4l-2 2l-5-1l-6 8l-4-6l-3-1l-5 4l0 3l10 0l3 3l1 5l7 8l10-6l0-4l-9-5l4-6l5 3l10 1l2-4l-5-8l1-2l14 2l7-4l4-5l0-9l2-3l-1-20l4-13l-9-11l0-9l3-3l4 1l7-7l4 3l12 0l0-3l-2-1l-20 0l-4 2l-2-3l2-10zM1770 451l2 2l0 4l-3 2l-1-5zM1772 427l2 2l0 4l-7 1l-2 2l-1 4l2 7l-5 7l-6 0l-2-2l1-5l5-4l-3-8zM1761 414l2-2l9-1l7 9l1 4l-6 1l-2-6l-6 1l-5-4zM1738 367l0 4l5 1l3 4l4 0l0-4l-5-7l-5 0zM1760 353l7 1l5-2l6 7l7-1l-2-5l-11-4zM1895 325l-3 1l0 3l3-1zM1862 252l-3 0l2 6l-9 9l-10-6l0-4l-5-6l-4 0l3 5l0 9l-2 4l-7 7l-9 0l-3 5l-4 0l-3 4l3 4l-2 5l-6-3l-6 2l6 6l-4 6l-11 1l0 5l5 6l-5 5l1 5l7 0l8-10l3 2l0 5l-9 7l0 4l6 5l0 4l-5 2l-4-3l0-3l-2 0l1 8l9 16l-2 2l-12-2l-3 3l4 5l6 0l0 12l13-2l5 3l2-5l5-5l9-1l5-6l4 3l-1 12l2 0l6-4l1-5l3-2l12 1l-1-7l3-3l4 2l7-1l-3-10l-9-6l1-4l8 7l8 1l6-6l-6-4l-2-6l5-5l0-9l8-4l3-4l0-19l-2-3l-8-1l-5-6l1-4l-1 2l-2-2l-3-8l1-5l-10-3zM1827 364l0 6l-5 1l-2-2z"/><path d="M1772 489l-7-1l-4 2l-7 13l-6-1l-2 3l1 2l6 1l5 5l8-1l2-5l-5-9l10-4zM1736 481l-3 6l0 6l5 7l3 0l7-5l0-3l-3-2l-6 1l-2-4l3-6zM1725 482l-2-1l-4 4l4 0zM1732 450l-4 10l4 4l3 0l2-3l0-5zM1756 439l-4 0l-2 2l2 4l5-3zM1782 437l-6 1l-5-3l-4 0l-2 3l3 8l6 6l0 5l-2 3l-4 1l-2-7l-11 1l-4 5l-8 2l-4 8l5 4l6 9l8 1l2-2l-1-4l-6-6l1-3l2-1l5 3l9 1l9-5l2-4zM1776 427l0 4l4 1l1-3zM1778 414l1 5l3 4l2 0l0-7l-2-2zM1769 422l-5-2l-12-10l-2 2l1 6l-5 5l-1 8l-6 0l-5 5l0 3l6 0l5-4l8 1l13-7l3-3zM1808 405l-1 2l2 1l1-2zM1801 391l1 2l5 0l-1-3zM1778 385l-8 0l-2 3l0 5l-2 2l-7 1l0 8l4 7l11-2l3-3l0-8l3-3zM1779 375l-2 2l1 2l2-1zM1743 367l-2-1l-2 3l3 0zM1778 355l2 3l4-2l-2-2zM1798 320l-7 1l-2 3l1 2l5 0zM1862 259l-6 5l1 5l-2 2l-9-6l-6 0l1-6l-5-6l2 5l-1 9l-11 11l-6 0l-3 4l-7 1l2 10l-3 3l-8-3l4 7l-6 7l-10 0l0 4l3 3l5 0l3 3l6-1l3 4l-2 6l-8 6l0 2l6 5l0 5l-4 5l-4-1l8 17l-3 3l-4 0l-5-3l-5 2l2 3l6-1l2 2l-2 7l1 5l8-3l8 2l8-9l-3-5l7-6l3 0l4 6l6-3l3 4l0 8l8-6l10 2l2-1l-1-7l3-3l9 0l-3-8l-7-5l0-5l3-1l8 6l5-4l-1-10l5-4l0-8l11-8l0-21l-11-3l-7-9l-3-13l-6-2z"/><path d="M1734 491l4 8l3 0l6-4l0-3l-2-1l-6 3l-4-4zM1772 491l-3-2l-6 1l-6 11l-3 3l-6-1l0 3l6 0l5 6l5 0l2-2l0-6l-5-7l2-2l8-1zM1732 457l-2 3l4 2l1-4zM1780 439l-5 1l-5-4l-4 2l2 6l7 7l0 8l-2 2l-6 1l-4-6l-6 0l-4 4l-9 3l-2 6l4 8l5 5l7 1l1-2l-9-11l7-8l2 1l0 6l5 2l6 0l8-5l2-4l0-7l-2-4l2-3zM1743 434l-3-2l-5 5l2 2l3-1zM1780 416l3 5l0-4zM1754 412l-2 0l0 2l3 1l1 3l-8 3l-2 4l0 7l2 2l6 0l11-6l2-3l-1-3l-9-5zM1773 387l-3 1l0 4l4 3l-2 2l-12 0l0 7l3 5l11-2l2-2l-1-7l3-3l0-3zM1807 376l-2-2l-5 2l-2 5l3 0zM1792 322l-1 3l3 0l1-2zM1862 261l-4 2l2 6l-3 3l-3 0l-7-5l-9 1l-12 11l-5 1l-3 3l-6 0l-1 3l2 7l-2 4l2 3l-4 4l-5 0l-4 5l-10-2l1 5l7 0l3 3l5-1l4 5l-2 7l-8 7l6 5l-3 19l4 7l0 4l5 3l1 7l6-5l-11-13l1-2l5 3l2 5l6-1l5-5l5 5l7-2l4 8l16 1l1-9l2-2l7 1l-1-7l-8-6l1-6l3-2l6 5l4 1l3-5l-1-7l6-6l-1-6l11-8l0-21l-8 0l-8-8l-6-11l0-5l-7-4zM1818 345l3 2l-4 4l-3-3zM1815 327l2-2l3 1l-1 3l-3 0z"/><path d="M1760 499l-4 4l0 4l2 3l5 1l2-2l0-4zM1763 492l7 1l-1-2zM1747 471l-1 3l2 4l5 4l4 0l0-3zM1754 461l-7 1l-2 5l7 0l2-2zM1778 455l-2 6l-4 2l-5 0l-7-6l-4 2l4 3l0 6l2 2l8 0l6-3l3-7zM1768 437l1 7l3 3l5 1l-3-7zM1738 434l-1 3l3 0l1-3zM1764 421l-3-2l-11 2l-3 3l1 9l3 1l12-6l2-3zM1761 398l1 7l13 0l0-4l-3-3zM1816 371l-2 0l1 5l2-2zM1791 308l1 3l3 0l0-3zM1868 269l-4-1l-8 6l-6-5l-12 0l-5 3l-4 6l-10 6l-6 1l0 11l2 4l-6 7l-8 3l0 3l5-1l5 7l-1 5l-8 8l0 2l5 4l-1 7l2 8l7 6l2 6l4 0l5-6l6 5l7-3l7 0l2 4l-3 4l13 2l1-8l3-3l5 0l1-2l-9-8l2-9l3-1l9 6l3-5l-1-6l6-5l0-8l10-7l1-19l-1-2l-7 2l-10-11l-1-4l-5-3zM1822 343l2 2l-3 5l1 4l-5 2l-6-7l4-5zM1819 324l2 4l-5 3l-2-5z"/><path d="M1759 501l-2 2l1 6l4 1l1-7zM1748 473l0 3l6 4l-2-5zM1753 463l-2-1l-4 3l4 1zM1761 459l1 10l8 0l5-3l-1-2l-8 0zM1769 439l2 6l3 1l-1-4zM1764 423l-3-3l-4 2l-7 0l-3 7l3 4l5-1l6-4zM1762 399l1 4l3-1l4 3l4-1l0-3l-3-2zM1824 357l-6 0l-2 2l0 4l3 2l2-1zM1838 270l-4 2l-5 7l-14 7l-1 8l2 7l-4 3l-3 7l4 11l-9 11l4 4l0 9l3 0l3-3l8-1l3 2l-2 8l10 11l7-4l4 0l6 4l-2 4l1 2l8 1l1-7l4-4l4-1l0-2l-8-6l2-9l3-2l9 6l2-2l0-8l6-5l0-8l10-7l2-11l-1-8l-4-1l-1 3l-3 1l-3-7l-6-5l-2-5l-5 3l-1-1l1-14l-4 0l-6 5l-7-5zM1813 324l5-1l4 3l0 2l-7 4l-2-2z"/><path d="M1759 502l-1 5l3 1l1-5zM1762 464l0 4l2 1l8-2l0-2zM1750 423l-2 7l5 2l4-4l-4-5zM1759 422l0 4l2 0l1-4zM1770 400l-1 2l4 2zM1822 358l-5 1l1 5l4-2zM1837 271l-4 3l-2 5l-8 3l-8 8l2 11l-4 3l-2 9l4 7l7 5l0 4l-3 3l-5 1l-4-6l-4 6l4 4l-2 4l1 4l4-3l11 0l2 2l-1 6l6 11l2 1l10-5l8 6l-1 5l4 1l2-1l2-7l6-4l-7-7l3-11l3-1l6 5l4 0l0-8l6-6l0-6l11-10l1-11l-2-6l-5 5l-5-9l-4-2l-4-6l-3 3l-3-1l0-15l-8 5l-2 0l-4-5z"/><path d="M1759 503l1 4l1-3zM1763 465l1 3l3-1zM1750 424l-1 6l4 1l1-4zM1822 360l-3-1l-1 4zM1839 271l-5 3l-2 7l-6 0l-9 7l-1 4l2 8l-5 5l-1 6l4 5l1 5l6 4l0 3l-8 7l-2 0l-3-5l-2 1l0 2l4 2l-3 8l4-3l13 2l1 9l6 10l10-5l9 6l1 5l7-11l-4-6l3-11l4-2l6 5l4-1l-1-7l6-5l0-5l3-5l8-6l1-10l-1-2l-6 1l-4-8l-8-6l-6 0l-2-14l-7 4l-7-7zM1836 347l3 3l-2 3l-3-2z"/></g></g><g fill="none" stroke="#e63a26" stroke-opacity="0.85" stroke-width="4.3" stroke-linecap="round"><path d="M1729 102h0m138 52h0m-26 29h0m9 8h0m-85 16h0m114 0h0m7 10h0m-22 1h0m36 3h0m-52 1h0m33 5h0m-106 3h0m79 2h0m-64 4h0m11 0h0m-40 3h0m40 2h0m0 3h0m74 0h0m5 0h0m-52 2h0m32 0h0m-91 3h0m120 2h0m-35 4h0m-48 1h0m11 0h0m17 1h0m-13 3h0m1 0h0m14 0h0m83 0h0m-102 2h0m4 0h0m23 0h0m18 0h0m21 0h0m-23 3h0m-63 1h0m7 0h0m-64 1h0m83 0h0m24 0h0m-68 1h0m11 0h0m26 0h0m-50 1h0m9 0h0m51 1h0m32 0h0m-77 2h0m94 0h0m46 0h0m-174 1h0m145 0h0m-36 1h0m82 0h0m-130 1h0m34 0h0m-7 1h0m63 0h0m-195 1h0m84 0h0m52 0h0m39 1h0m21 1h0m-114 1h0m61 0h0m-33 1h0m-82 1h0m45 0h0m58 0h0m9 1h0m39 0h0m5 0h0m-54 1h0m18 1h0m1 0h0m18 0h0m-55 2h0m32 0h0m48 0h0m13 1h0m-131 1h0m49 0h0m78 0h0m1 0h0m-119 2h0m30 2h0m1 0h0m28 0h0m27 0h0m-101 2h0m34 1h0m-104 2h0m128 0h0m-64 1h0m18 0h0m116 0h0m29 0h0m-179 1h0m0 1h0m98 0h0m13 0h0m15 0h0m-100 2h0m-1 1h0m75 0h0m64 0h0m-62 1h0m-12 1h0m53 1h0m7 0h0m-138 1h0m-17 1h0m160 0h0m-62 1h0m57 0h0m1 0h0m14 0h0m-202 1h0m52 0h0m85 0h0m1 0h0m22 0h0m27 0h0m-97 1h0m24 1h0m-67 1h0m33 0h0m50 0h0m35 0h0m-42 1h0m11 0h0m0 0h0m31 0h0m-37 1h0m19 0h0m-68 1h0m49 1h0m-80 1h0m65 0h0m1 0h0m85 0h0m-186 1h0m8 0h0m138 0h0m-112 1h0m28 0h0m106 0h0m-123 1h0m52 0h0m88 0h0m-141 2h0m65 0h0m5 0h0m15 0h0m35 0h0m-146 1h0m-13 1h0m99 0h0m55 0h0m-113 2h0m3 0h0m12 1h0m50 0h0m-128 1h0m69 0h0m12 0h0m88 0h0m13 0h0m-181 1h0m37 0h0m107 0h0m23 1h0m7 0h0m-143 1h0m4 0h0m101 1h0m26 0h0m-119 1h0m56 0h0m42 0h0m95 0h0m-113 2h0m27 0h0m24 0h0m-182 1h0m44 0h0m4 0h0m37 0h0m-58 1h0m17 1h0m30 0h0m10 0h0m152 0h0m-206 1h0m26 0h0m39 0h0m3 0h0m5 0h0m62 0h0m-121 1h0m17 0h0m12 1h0m56 0h0m-150 1h0m203 1h0m7 0h0m-146 1h0m20 0h0m7 0h0m31 0h0m-12 2h0m64 0h0m0 0h0m20 0h0m-149 1h0m31 0h0m28 0h0m8 0h0m130 0h0m-195 1h0m60 0h0m105 0h0m-53 1h0m-101 1h0m84 0h0m-43 1h0m128 0h0m-87 1h0m3 1h0m-33 1h0m33 0h0m76 1h0m-175 1h0m174 2h0m-113 1h0m53 0h0m14 0h0m-60 1h0m32 0h0m15 0h0m-91 1h0m3 0h0m81 1h0m-117 1h0m65 0h0m5 0h0m81 0h0m32 0h0m0 0h0m-188 1h0m108 0h0m23 1h0m21 0h0m-31 1h0m11 0h0m-99 2h0m23 0h0m65 0h0m-77 1h0m93 0h0m-88 1h0m108 0h0m11 1h0m18 0h0m-118 2h0m0 0h0m81 0h0m32 0h0m-167 1h0m115 0h0m-9 1h0m-1 1h0m46 0h0m-21 1h0m-133 1h0m18 0h0m90 1h0m41 1h0m9 0h0m-154 1h0m41 0h0m94 0h0m-69 1h0m72 0h0m-22 1h0m-29 2h0m-78 1h0m59 1h0m14 0h0m-100 1h0m127 0h0m31 0h0m-103 1h0m92 0h0m-88 1h0m26 0h0m-68 2h0m35 0h0m28 0h0m11 0h0m23 0h0m-16 1h0m16 0h0m-126 1h0m118 0h0m-77 1h0m63 0h0m-95 1h0m-44 1h0m208 0h0m-147 1h0m75 0h0m-91 1h0m93 0h0m-61 1h0m38 1h0m-46 1h0m8 0h0m24 0h0m126 0h0m33 1h0m-199 1h0m33 0h0m149 0h0m-129 1h0m-74 1h0m89 0h0m27 0h0m2 0h0m30 0h0m-88 5h0m106 1h0m-151 1h0m54 0h0m28 0h0m-100 1h0m46 1h0m0 1h0m65 0h0m3 0h0m46 0h0m29 1h0m-135 1h0m84 0h0m-63 1h0m17 0h0m9 0h0m18 0h0m37 0h0m-72 2h0m26 0h0m0 0h0m-105 1h0m20 0h0m20 1h0m28 0h0m30 1h0m-110 1h0m97 0h0m88 0h0m-163 1h0m28 0h0m27 1h0m23 0h0m-106 1h0m74 0h0m25 0h0m-66 1h0m153 0h0m-147 1h0m48 0h0m58 0h0m-135 2h0m49 0h0m42 1h0m78 0h0m-182 1h0m42 0h0m18 1h0m-47 1h0m24 0h0m3 0h0m25 0h0m63 0h0m-66 1h0m43 0h0m-48 1h0m1 0h0m32 0h0m19 1h0m39 0h0m-73 3h0m11 1h0m-63 1h0m17 1h0m21 0h0m68 0h0m-13 1h0m-42 5h0m-126 1h0m54 0h0m65 0h0m36 0h0m-88 1h0m55 0h0m4 0h0m100 0h0m-134 1h0m49 1h0m30 1h0m-100 1h0m16 0h0m7 1h0m22 0h0m-6 1h0m8 0h0m-17 1h0m12 0h0m65 1h0m-69 1h0m44 0h0m-68 1h0m-24 1h0m87 0h0m-83 1h0m9 0h0m56 0h0m20 0h0m-93 1h0m66 0h0m3 0h0m-18 1h0m7 0h0m72 3h0m-4 1h0m-69 1h0m14 0h0m7 1h0m-62 1h0m42 0h0m27 0h0m-57 1h0m66 1h0m-53 1h0m19 0h0m46 0h0m-81 1h0m125 0h0m-139 1h0m8 0h0m23 0h0m25 2h0m46 3h0m-116 1h0m17 0h0m156 1h0m-97 1h0m3 0h0m12 1h0m11 2h0m-52 2h0m134 0h0m-86 1h0m-46 1h0m2 1h0m46 0h0m-26 2h0m134 0h0m-57 1h0m-57 1h0m24 0h0m-35 2h0m-17 1h0m51 0h0m-9 1h0m-80 2h0m33 0h0m36 0h0m-50 1h0m9 0h0m26 0h0m2 1h0m31 0h0m-36 1h0m-45 2h0m25 1h0m29 0h0m-70 1h0m23 0h0m24 0h0m79 0h0m-7 1h0"/><path d="M1741 161h0m164 16h0m-8 7h0m-72 7h0m36 22h0m-8 4h0m76 1h0m-96 2h0m40 1h0m-47 5h0m-95 4h0m25 4h0m127 0h0m-1 2h0m-77 3h0m15 0h0m59 2h0m-61 1h0m71 0h0m-27 2h0m34 1h0m-91 1h0m-79 1h0m118 0h0m-27 2h0m24 0h0m3 0h0m-4 2h0m-52 1h0m20 0h0m19 0h0m-72 2h0m72 1h0m56 1h0m-92 1h0m47 1h0m-17 1h0m55 1h0m-120 1h0m95 0h0m-61 1h0m-18 3h0m78 1h0m-37 1h0m44 2h0m28 0h0m-75 1h0m14 0h0m12 0h0m-52 1h0m108 1h0m-78 1h0m-49 2h0m80 1h0m58 0h0m-119 1h0m26 0h0m119 0h0m-38 2h0m-210 1h0m155 0h0m-30 1h0m40 0h0m-41 1h0m-51 2h0m1 0h0m-24 1h0m6 0h0m69 0h0m91 0h0m3 0h0m-171 1h0m28 0h0m136 0h0m-131 1h0m20 0h0m110 0h0m-73 1h0m8 0h0m-69 1h0m36 0h0m69 0h0m-119 1h0m24 0h0m36 0h0m46 0h0m8 0h0m-92 2h0m35 0h0m121 1h0m-98 3h0m-29 1h0m-67 1h0m182 0h0m-169 1h0m37 0h0m86 0h0m39 1h0m-137 1h0m70 0h0m8 0h0m2 0h0m45 0h0m-64 1h0m20 0h0m4 0h0m-113 1h0m52 0h0m55 0h0m12 0h0m13 0h0m-143 1h0m93 0h0m26 0h0m71 0h0m-41 1h0m-134 1h0m51 1h0m52 0h0m9 1h0m-108 1h0m51 0h0m37 0h0m26 0h0m38 0h0m-153 2h0m101 0h0m85 0h0m-70 2h0m-69 1h0m34 0h0m22 0h0m60 0h0m-100 4h0m34 1h0m35 0h0m27 0h0m-152 2h0m23 0h0m23 1h0m-60 1h0m40 0h0m30 0h0m-45 1h0m57 0h0m58 0h0m-67 1h0m-178 2h0m81 0h0m20 0h0m22 0h0m43 0h0m94 0h0m-142 1h0m33 0h0m70 1h0m25 0h0m15 0h0m-199 1h0m41 0h0m4 0h0m175 0h0m-130 1h0m13 0h0m-69 1h0m36 0h0m11 1h0m-67 1h0m16 0h0m155 0h0m6 0h0m-158 1h0m165 0h0m-123 3h0m13 0h0m45 0h0m39 1h0m15 0h0m-131 1h0m48 1h0m78 0h0m-70 2h0m7 0h0m46 0h0m10 0h0m56 0h0m-201 1h0m92 0h0m11 0h0m20 0h0m28 0h0m10 0h0m-133 2h0m30 1h0m63 1h0m-45 1h0m102 0h0m-13 1h0m34 0h0m-166 1h0m124 0h0m28 0h0m-66 1h0m24 0h0m64 0h0m-99 1h0m28 1h0m-90 1h0m127 0h0m-144 1h0m19 0h0m19 0h0m47 0h0m-47 1h0m36 0h0m-59 2h0m26 0h0m-52 1h0m47 0h0m35 0h0m79 0h0m-37 1h0m13 0h0m-133 2h0m8 0h0m61 0h0m-32 1h0m78 0h0m41 0h0m-138 2h0m1 1h0m32 0h0m23 1h0m16 0h0m75 0h0m-153 1h0m18 0h0m38 0h0m46 1h0m-74 1h0m27 0h0m-88 1h0m9 0h0m160 0h0m3 0h0m-185 1h0m13 0h0m1 1h0m51 0h0m86 0h0m-109 1h0m38 0h0m30 0h0m-102 1h0m143 0h0m-166 1h0m35 1h0m154 0h0m-100 1h0m83 0h0m-159 1h0m43 0h0m41 0h0m74 0h0m-80 1h0m-19 1h0m29 1h0m28 0h0m23 0h0m-57 2h0m27 0h0m68 1h0m-107 1h0m16 0h0m-36 1h0m3 2h0m-73 1h0m64 1h0m19 0h0m52 0h0m22 1h0m-117 2h0m109 0h0m-36 1h0m60 0h0m11 0h0m-158 1h0m12 0h0m91 0h0m59 0h0m-163 1h0m36 0h0m-9 1h0m42 0h0m-55 1h0m-17 1h0m85 1h0m-77 1h0m106 0h0m30 0h0m-24 1h0m-38 1h0m28 0h0m33 0h0m-126 1h0m37 1h0m-84 1h0m65 1h0m-35 1h0m33 0h0m-34 1h0m27 0h0m65 0h0m-83 1h0m28 0h0m25 2h0m116 1h0m-187 2h0m30 0h0m90 0h0m-80 1h0m49 0h0m-60 1h0m2 0h0m86 0h0m30 2h0m-115 2h0m45 0h0m43 0h0m-130 1h0m29 1h0m3 0h0m68 1h0m8 0h0m9 0h0m-83 1h0m49 1h0m91 0h0m-181 1h0m22 1h0m85 0h0m104 0h0m-148 3h0m16 0h0m-52 2h0m-9 1h0m75 0h0m17 1h0m-80 2h0m99 0h0m-57 1h0m33 0h0m34 0h0m-105 1h0m89 0h0m2 0h0m-38 1h0m10 0h0m10 1h0m-78 1h0m13 0h0m-3 1h0m-20 1h0m70 0h0m25 0h0m-96 1h0m57 0h0m23 0h0m-49 1h0m-14 1h0m19 0h0m67 0h0m4 1h0m-33 1h0m-23 2h0m-11 1h0m53 2h0m115 0h0m-202 1h0m50 2h0m-4 2h0m30 1h0m-46 1h0m-27 2h0m92 0h0m6 1h0m-139 1h0m176 0h0m-150 1h0m-5 1h0m80 0h0m-7 1h0m18 2h0m27 0h0m-105 1h0m58 0h0m59 0h0m-112 1h0m36 0h0m52 0h0m3 1h0m-87 1h0m27 0h0m81 0h0m1 0h0m16 1h0m-144 1h0m59 0h0m-52 1h0m42 2h0m44 0h0m14 0h0m-76 2h0m16 0h0m72 1h0m-89 1h0m-2 1h0m11 0h0m54 0h0m-96 2h0m19 1h0m22 2h0m14 0h0m15 0h0m-85 1h0m32 0h0m76 1h0m-66 1h0m53 0h0m20 0h0m-121 1h0m88 0h0m44 0h0m-13 1h0m-19 2h0m-113 1h0m89 0h0m27 1h0m-98 1h0m45 0h0m33 0h0m28 0h0m21 0h0m-75 1h0m55 1h0m-91 1h0m116 0h0m-37 1h0m64 0h0m-135 1h0m40 1h0m39 0h0m2 0h0m29 0h0m2 0h0m7 0h0m-5 2h0m-19 1h0m-57 1h0m16 1h0m-53 1h0m20 0h0m60 0h0m-88 1h0m16 0h0m21 0h0m-24 1h0m20 0h0m66 0h0m14 0h0"/><path d="M1789 174h0m-43 3h0m-17 14h0m78 12h0m43 0h0m-48 7h0m88 10h0m-67 1h0m-40 3h0m85 0h0m-6 1h0m-17 3h0m12 0h0m-70 3h0m-8 5h0m17 0h0m80 0h0m30 0h0m-21 3h0m-40 1h0m11 0h0m-48 2h0m78 1h0m-134 1h0m56 1h0m-17 3h0m18 2h0m52 0h0m4 0h0m-5 2h0m33 0h0m-20 2h0m5 0h0m-106 1h0m91 2h0m10 0h0m-26 1h0m46 0h0m-92 3h0m62 0h0m3 0h0m-74 2h0m4 0h0m-69 1h0m69 0h0m18 0h0m32 0h0m59 1h0m-171 1h0m45 1h0m52 0h0m36 0h0m-175 1h0m40 0h0m149 0h0m-94 1h0m2 0h0m41 1h0m36 1h0m20 0h0m-24 1h0m-8 1h0m24 0h0m-67 1h0m89 0h0m-16 1h0m-150 1h0m98 0h0m52 0h0m-300 1h0m167 0h0m16 0h0m89 0h0m-42 1h0m99 0h0m-121 2h0m2 0h0m37 2h0m36 0h0m22 0h0m-7 1h0m44 0h0m-7 1h0m-145 3h0m57 0h0m29 0h0m6 0h0m-128 1h0m132 0h0m-74 2h0m26 0h0m46 0h0m-86 1h0m61 0h0m0 0h0m2 1h0m0 0h0m1 0h0m3 0h0m55 0h0m-18 1h0m-61 1h0m122 1h0m-153 3h0m74 1h0m-95 2h0m77 0h0m13 0h0m-99 1h0m108 0h0m18 0h0m-171 1h0m161 0h0m-87 1h0m72 0h0m-60 1h0m49 0h0m1 0h0m-39 1h0m78 0h0m17 0h0m-161 1h0m-40 2h0m181 2h0m-34 1h0m73 0h0m-81 2h0m44 0h0m-140 1h0m85 0h0m-96 1h0m13 0h0m161 0h0m-164 1h0m14 0h0m2 2h0m55 0h0m23 1h0m-77 1h0m-15 1h0m87 0h0m-16 1h0m7 0h0m15 0h0m47 0h0m15 1h0m-174 1h0m56 0h0m4 0h0m25 0h0m26 0h0m18 0h0m5 0h0m-88 1h0m67 1h0m27 0h0m-17 1h0m-102 1h0m61 0h0m-52 1h0m102 0h0m-42 2h0m-55 1h0m99 0h0m-69 1h0m-3 1h0m84 2h0m-59 1h0m65 0h0m-65 1h0m36 0h0m8 0h0m-124 1h0m1 0h0m105 0h0m-127 1h0m41 1h0m51 0h0m9 0h0m94 0h0m-132 1h0m69 0h0m7 0h0m-68 1h0m81 1h0m-104 1h0m17 0h0m8 0h0m52 0h0m38 0h0m-131 1h0m7 0h0m3 1h0m94 0h0m-66 1h0m59 0h0m-75 2h0m37 0h0m2 0h0m-91 1h0m107 2h0m-93 1h0m6 0h0m-10 1h0m-1 2h0m28 0h0m136 0h0m19 0h0m-169 1h0m23 0h0m23 0h0m108 0h0m-195 1h0m78 0h0m3 0h0m26 0h0m17 1h0m83 0h0m-194 1h0m40 0h0m102 0h0m-51 2h0m-18 1h0m91 0h0m-84 1h0m46 0h0m26 1h0m19 0h0m12 1h0m-130 1h0m55 0h0m14 0h0m-66 2h0m58 1h0m41 0h0m-102 1h0m11 1h0m35 0h0m-123 2h0m57 2h0m53 0h0m-2 1h0m1 1h0m17 0h0m-82 2h0m63 0h0m102 0h0m-126 1h0m42 0h0m9 0h0m77 0h0m-121 2h0m-28 1h0m15 0h0m46 0h0m-101 1h0m64 0h0m8 0h0m11 0h0m-1 1h0m40 0h0m-3 1h0m-84 1h0m-50 1h0m3 0h0m114 0h0m6 0h0m35 0h0m58 0h0m-155 1h0m-13 2h0m31 0h0m3 0h0m103 0h0m-152 3h0m41 1h0m-20 1h0m-11 1h0m79 0h0m30 0h0m-122 1h0m19 0h0m4 0h0m60 1h0m25 0h0m-115 1h0m95 0h0m-37 2h0m73 0h0m-73 1h0m31 1h0m16 0h0m45 0h0m-150 1h0m19 0h0m-24 1h0m158 0h0m-213 1h0m16 0h0m104 1h0m7 1h0m-63 1h0m112 0h0m6 0h0m-35 1h0m-106 1h0m66 0h0m18 0h0m-54 2h0m-7 2h0m49 1h0m-28 1h0m6 1h0m73 0h0m40 0h0m-92 1h0m-62 1h0m103 0h0m-108 1h0m36 0h0m12 0h0m33 0h0m29 0h0m-87 1h0m48 0h0m-98 1h0m107 0h0m36 1h0m33 2h0m25 1h0m-160 1h0m51 0h0m0 0h0m-40 1h0m24 0h0m23 0h0m-91 1h0m60 0h0m-50 1h0m32 0h0m31 0h0m-42 1h0m49 0h0m12 1h0m52 0h0m-132 1h0m56 2h0m-16 1h0m25 1h0m70 0h0m-129 2h0m118 1h0m-148 2h0m67 0h0m47 0h0m-83 2h0m7 0h0m11 0h0m12 2h0m86 0h0m-109 1h0m8 2h0m42 1h0m-4 1h0m16 2h0m14 0h0m-8 3h0m16 0h0m7 0h0m-146 6h0m53 0h0m-4 2h0m16 0h0m63 0h0m51 0h0m-122 2h0m77 0h0m5 1h0m5 0h0m35 0h0m-110 2h0m20 1h0m-74 1h0m36 0h0m0 2h0m-103 2h0m89 0h0m34 0h0m6 0h0m22 1h0m22 0h0m-51 1h0m-11 1h0m49 0h0m37 0h0m1 0h0m-67 1h0m23 0h0m27 0h0m22 1h0m-95 2h0m38 0h0m1 0h0m-58 1h0m23 0h0m33 0h0m37 1h0m-48 3h0m23 1h0m-77 1h0m20 0h0m64 0h0m27 0h0m16 1h0m-112 2h0m82 0h0m-66 1h0m-5 1h0m2 0h0m-25 1h0m41 0h0m17 0h0m52 0h0m-13 1h0m2 1h0m-80 1h0m106 0h0m-39 2h0m-9 4h0m-70 1h0m57 1h0m24 0h0m-19 1h0m13 0h0m32 0h0m6 0h0m12 0h0m-135 1h0m107 1h0m-10 11h0"/><path d="M1807 169h0m57 16h0m-37 32h0m21 1h0m49 1h0m-84 4h0m40 3h0m18 0h0m-167 2h0m66 2h0m24 3h0m25 1h0m-33 1h0m59 0h0m25 1h0m1 0h0m-72 1h0m48 1h0m-30 1h0m37 0h0m-61 1h0m-32 3h0m62 0h0m-2 1h0m5 2h0m1 1h0m2 0h0m23 0h0m4 2h0m-78 1h0m44 1h0m30 4h0m29 0h0m5 0h0m-87 1h0m37 0h0m-26 1h0m37 0h0m88 0h0m-95 1h0m-85 1h0m48 0h0m-24 1h0m3 0h0m-43 1h0m131 2h0m-41 2h0m-29 1h0m34 0h0m38 0h0m33 0h0m-170 2h0m133 0h0m-83 1h0m-2 1h0m25 0h0m-5 1h0m50 3h0m35 0h0m-24 1h0m24 0h0m-91 1h0m-3 1h0m12 0h0m-67 1h0m48 0h0m15 0h0m48 1h0m3 0h0m36 0h0m13 2h0m-108 1h0m73 0h0m-16 1h0m-83 1h0m74 0h0m-14 1h0m77 0h0m-58 1h0m-63 1h0m56 0h0m39 0h0m-113 1h0m43 0h0m-75 1h0m40 1h0m116 0h0m-52 1h0m-47 1h0m66 2h0m20 3h0m-125 1h0m105 0h0m7 0h0m24 0h0m-42 1h0m65 0h0m-117 1h0m48 0h0m-109 1h0m68 0h0m40 0h0m29 1h0m20 0h0m-92 1h0m-53 1h0m65 0h0m17 0h0m98 2h0m-306 1h0m143 0h0m81 1h0m-63 1h0m0 0h0m-2 2h0m62 0h0m-53 1h0m67 1h0m50 0h0m-104 1h0m38 0h0m-6 1h0m-136 1h0m66 0h0m66 0h0m30 1h0m-89 1h0m33 0h0m71 0h0m7 0h0m-16 1h0m-17 1h0m66 0h0m-167 1h0m1 0h0m43 0h0m26 0h0m22 0h0m46 0h0m15 0h0m-51 1h0m7 0h0m-50 1h0m4 0h0m-30 1h0m36 0h0m32 0h0m63 1h0m-35 2h0m-4 1h0m11 0h0m-52 1h0m58 0h0m-109 2h0m11 0h0m5 0h0m101 0h0m-141 1h0m7 1h0m64 0h0m48 0h0m-135 1h0m152 0h0m-101 1h0m33 0h0m-218 1h0m270 0h0m-119 2h0m-2 1h0m-13 1h0m59 0h0m-49 1h0m16 0h0m131 0h0m-138 1h0m128 0h0m-78 1h0m38 0h0m-139 2h0m17 0h0m33 0h0m17 0h0m104 0h0m-63 1h0m11 0h0m33 0h0m-155 2h0m67 0h0m9 0h0m34 0h0m-63 1h0m49 0h0m58 0h0m-57 1h0m-73 1h0m161 0h0m-192 1h0m95 0h0m1 0h0m116 1h0m-127 1h0m53 0h0m-116 1h0m13 0h0m7 2h0m27 0h0m101 1h0m-143 1h0m37 0h0m61 0h0m26 0h0m-108 1h0m129 0h0m-33 1h0m17 0h0m31 0h0m-184 1h0m72 0h0m19 0h0m80 0h0m-143 1h0m118 0h0m7 0h0m-58 3h0m80 0h0m28 0h0m-132 1h0m-16 1h0m24 0h0m12 0h0m-69 1h0m6 0h0m85 0h0m7 0h0m11 0h0m36 0h0m8 0h0m-119 4h0m4 1h0m122 0h0m-95 1h0m64 0h0m-167 1h0m173 0h0m11 0h0m-112 1h0m9 0h0m85 0h0m5 0h0m50 0h0m-96 1h0m68 0h0m7 0h0m-5 1h0m-220 1h0m76 0h0m117 0h0m-107 2h0m32 0h0m-10 1h0m134 0h0m-174 2h0m-15 1h0m16 0h0m87 0h0m-96 1h0m92 0h0m-36 2h0m64 0h0m-127 1h0m131 0h0m35 0h0m-130 1h0m-15 1h0m12 0h0m121 0h0m-130 1h0m79 0h0m15 0h0m12 1h0m39 0h0m-116 1h0m67 0h0m17 0h0m4 0h0m-66 2h0m38 0h0m-125 1h0m134 1h0m10 0h0m13 0h0m16 0h0m4 0h0m-179 1h0m144 0h0m26 0h0m-93 1h0m-67 1h0m18 0h0m8 0h0m70 0h0m26 0h0m0 0h0m-161 1h0m123 0h0m93 0h0m-56 1h0m31 3h0m-56 1h0m51 0h0m-82 1h0m24 0h0m-39 1h0m1 0h0m135 0h0m-184 1h0m-18 3h0m17 1h0m85 1h0m-55 1h0m108 0h0m-118 2h0m111 1h0m-65 1h0m56 0h0m-8 1h0m7 0h0m-111 1h0m26 0h0m26 0h0m9 0h0m-93 1h0m181 0h0m-148 1h0m57 1h0m21 0h0m-40 1h0m-54 1h0m142 1h0m-95 1h0m8 0h0m1 0h0m36 0h0m17 1h0m-88 1h0m14 1h0m-31 3h0m27 0h0m14 0h0m44 0h0m-94 1h0m35 1h0m10 0h0m18 0h0m29 0h0m4 0h0m33 0h0m-31 1h0m52 0h0m-146 1h0m56 1h0m83 0h0m-90 1h0m-41 1h0m32 0h0m-55 1h0m76 4h0m-32 1h0m67 0h0m14 0h0m-38 1h0m-42 1h0m53 0h0m-15 1h0m-100 1h0m2 0h0m5 0h0m46 0h0m-33 2h0m42 1h0m8 0h0m43 0h0m16 0h0m-102 1h0m16 0h0m-12 1h0m42 0h0m45 0h0m-51 1h0m12 0h0m-18 2h0m-57 2h0m49 0h0m-2 2h0m-38 1h0m68 2h0m0 1h0m30 0h0m-81 2h0m27 0h0m14 0h0m22 0h0m52 1h0m-58 2h0m10 0h0m-51 1h0m48 0h0m-43 1h0m-37 1h0m5 0h0m109 1h0m-118 1h0m91 3h0m-1 1h0m6 1h0m65 1h0m-125 1h0m72 0h0m-42 2h0m51 1h0m-36 1h0m33 0h0m-63 1h0m34 0h0m6 0h0m-5 1h0m20 0h0m8 1h0m5 0h0m-53 1h0m73 0h0m-126 1h0m63 0h0m-58 1h0m113 0h0m-87 1h0m53 0h0m0 0h0m29 1h0m-49 1h0m-44 1h0m15 0h0m13 1h0m-34 1h0m32 0h0m34 3h0m-75 2h0m52 1h0m-52 1h0m2 1h0m43 0h0m0 1h0m36 0h0m-6 1h0m-59 1h0m38 1h0m28 1h0m28 0h0"/></g>
<line x1="1554.5" y1="488.7" x2="2001.5" y2="252.0" stroke="#000" stroke-width="3.8"/>
</g>
<rect x="1554.5" y="42.4" width="531.7" height="495.1" fill="none" stroke="#333" stroke-width="2.2"/>
<path d="M1545.5 515.3H1554.5M1545.5 365.1H1554.5M1545.5 214.8H1554.5M1545.5 64.6H1554.5M1683.4 537.5V546.5M1819.2 537.5V546.5M1953.1 537.5V546.5" stroke="#333" stroke-width="4.4" fill="none"/>
<text x="1541.0" y="527.4" font-size="39.5" fill="#4d4d4d" stroke="#4d4d4d" text-anchor="end">0</text>
<text x="1541.0" y="377.2" font-size="39.5" fill="#4d4d4d" stroke="#4d4d4d" text-anchor="end">5</text>
<text x="1541.0" y="226.9" font-size="39.5" fill="#4d4d4d" stroke="#4d4d4d" text-anchor="end">10</text>
<text x="1541.0" y="76.7" font-size="39.5" fill="#4d4d4d" stroke="#4d4d4d" text-anchor="end">15</text>
<text x="1683.4" y="580.0" font-size="39.5" fill="#4d4d4d" stroke="#4d4d4d" text-anchor="middle">5</text>
<text x="1819.2" y="580.0" font-size="39.5" fill="#4d4d4d" stroke="#4d4d4d" text-anchor="middle">7.5</text>
<text x="1953.1" y="580.0" font-size="39.5" fill="#4d4d4d" stroke="#4d4d4d" text-anchor="middle">10</text>
<text x="1560.8" y="88.7" font-size="46" fill="#1a1a1a" stroke="#1a1a1a">Pearson r = 0.43</text>
<text x="1560.8" y="131.0" font-size="46" fill="#1a1a1a" stroke="#1a1a1a">p &lt; 2.2e-16</text>
<text x="1417.8" y="40" font-size="53" font-weight="bold" fill="#000">c</text>
<text x="1612.6" y="628.6" font-size="46" fill="#1a1a1a" stroke="#1a1a1a">log<tspan font-size="27.5" dy="15">2</tspan><tspan dy="-15">(Old) [H3K122ac]</tspan></text>
<text transform="translate(1490,432) rotate(-90)" x="0" y="0" font-size="46" fill="#1a1a1a" stroke="#1a1a1a">log<tspan font-size="27.5" dy="15">2</tspan><tspan dy="-15">(Old) [RNA]</tspan></text>
</g>
<g id="pd">
<clipPath id="cd"><rect x="138.3" y="690.4" width="532.3" height="494.8"/></clipPath>
<g clip-path="url(#cd)">
<g clip-path="url(#gd)"><g fill="#707070" fill-opacity="0.13" filter="url(#bl4)"><path d="M446 868l-38-13l-32 0l-7 3l-11 13l-33 26l-9 26l-31 50l-11 41l-13 135l4 11l10 9l17 7l73 0l10-5l12-15l4-29l8-21l26-32l21-13l8-9l21-45l7-46l-3-13l-13-26l-7-38z"/><path d="M419 880l-28-5l-32 17l-18 22l-12 31l-20 28l-8 29l-11 24l-12 114l4 17l20 13l35 5l15-4l12-8l6-11l1-20l19-52l15-17l28-21l22-37l11-36l0-15l-13-26l-8-29l-9-10z"/><path d="M405 896l-10 0l-15 6l-26 23l-24 60l-5 21l-15 22l-1 48l-11 46l-1 24l10 14l12 5l20 0l12-8l3-8l-1-44l5-19l27-33l48-45l9-16l6-39l-13-35l-9-9z"/><path d="M412 916l-8-3l-16 1l-15 9l-14 18l-5 24l0 22l4 17l-1 15l6 8l10-1l31-16l20-17l5-9l5-20l-1-21l-8-17z"/><path d="M400 925l-21 7l-8 9l-5 17l5 20l8 8l12 5l10-1l9-5l9-10l6-17l-5-22l-6-6z"/></g></g><g clip-path="url(#gd)"><g fill="#e8231f" fill-opacity="0.2" filter="url(#bl3)"><path d="M371 1117l-1 5l5 1l1-5zM368 1084l0 4l2 2l5 1l3-2l0-4l-2-2l-6-1zM428 1039l-1 5l5 1l1-5zM426 887l-4 0l-2 2l-8-1l-6 3l-8-2l-6 6l-6 1l-6 6l-4-2l-6 2l-1-4l4-9l-3-5l-6 0l-6 14l3 5l7-1l1 6l-4 3l-6 1l-2 5l-4 3l-7-1l-5 4l2 15l-4 9l1 20l-4 4l-9-2l-1-6l-5-7l-3-1l-4 2l-1 8l5 6l0 6l8 6l0 3l-4 2l-8-9l-4 0l0 9l-5 4l0 4l5 1l8-3l3 4l2 9l-3 4l1 6l-4 1l-7-2l-4-9l-3-3l-4 0l-1 5l7 9l-6 6l-3-4l-5 1l0 4l7 0l2 7l7 4l1 3l-3 3l-8 0l0 7l-3 4l0 6l-4 5l0 4l-5 4l1 5l12 3l0 7l-8 11l-1 11l5 7l0 7l-3 7l-12 1l0 5l7 6l-4 7l0 12l2 2l10-2l5 4l10 2l38 0l12-2l2-13l-6-1l-1-2l6-8l-1-14l6-5l1-3l-13-12l4-4l6-1l10 2l1-5l-5-2l-10-9l-6 1l-3-5l16-3l4-4l7-3l13-13l9 2l1-5l-4-3l0-10l3-2l12 1l6-2l10-12l0-4l-3-5l4-4l15-7l1-4l-5-5l3-3l5 1l5-3l0-6l-2-2l2-6l-1-4l7-9l5-2l-2-15l-7-19l-4 0l-5 8l-5-7l0-6l4-8l-1-10l3-3l0-4l-10 0l-10 10l-7-4l-1-8l9-9zM318 1071l1 3l-4 3l-1-1zM442 972l1 4l-2 2l-2-3zM448 877l-5-1l-6 5l0 4l5 1l6-5zM392 872l-6 1l-5 5l0 5l3 3l6 1l3-2l1-9z"/><path d="M302 1051l-5 2l1 5l4-2zM447 978l-1 3l2 1zM451 967l-4 3l1 4l5-2zM317 958l-2 2l0 4l6 4l2-5l-4-5zM415 891l-5 0l-3 2l-9-1l-5 6l-6 1l-8 8l-5-4l-2 2l-1 7l-10 2l-2 7l-8 3l-5-2l-3 3l3 8l0 5l-4 7l0 15l2 6l-6 9l-5-3l-4 0l-3 3l3 7l0 5l-6 6l3 10l-2 8l2 9l-4 2l-6-3l-8 0l-6 6l0 6l7 3l3 4l-4 5l2 7l-2 3l-1 10l-8 9l5 5l-4 5l0 7l-6 8l-3 12l6 6l-3 15l2 2l6-1l3 5l-5 2l-7-4l-10 0l7 9l-5 7l0 9l10-1l3 4l15 4l34-1l8-2l2-2l-6-8l0-4l6-9l0-14l5-5l0-3l-5-6l-9 1l-2-2l10-10l9-2l0-3l-6-5l-7 0l-5-5l0-4l7-3l2-3l5 3l4 0l4-4l6-2l3-5l7-5l-1-7l2-1l4 2l4-5l0-4l-6-4l2-4l13 2l12-2l0-5l-3-6l-7-4l4-1l4 3l7-4l5-7l7-5l0-10l9-5l9-1l0-4l-9-7l-5-9l7-10l6-1l3-4l5 5l3 0l-3-6l0-11l-5-7l-2 0l-3 4l-3 0l-7-11l1-8l3-5l-1-15l-3 0l-10 9l-7-1l-4-7l0-9l3-4zM295 1151l3-1l2 3l-3 2zM308 1103l1 6l-6 6l-3 0l0-3zM320 1065l3 5l-1 4l-7 9l-4-5l0-4zM380 1044l5-1l1 4l-4 2zM353 931l2-1l1 2l-2 1zM369 886l-4 0l-4 9l0 4l2 2l4-3l3-6zM385 877l-2 3l1 3l6 1l1-6l-2-2z"/><path d="M289 1149l-1 6l5 1l0-5zM291 1136l-2 2l1 2l4 1l0-4zM388 1048l0 4l3 1l1-4zM318 960l-1 4l3 1l1-1zM346 926l0 3l3 3l0-3zM413 892l-8 3l-7-1l-3 6l-6 0l-7 8l-6 1l-1 4l4 5l-3 5l-2 0l-7-8l-4 0l-4 17l-4 5l-1 9l-4 1l-3-5l-4 6l3 19l-4 3l-1 6l3 4l-2 2l-4 0l-5-8l-4 1l0 4l4 7l-8 7l0 5l4 4l-3 5l2 13l-4 4l-5-3l-9-1l-7 6l0 4l8 3l2 3l-2 7l2 7l-3 6l0 5l-7 11l3 2l6-2l8-9l4 4l0 5l-5 9l0 6l4 4l-6 4l-4-4l-1-8l-4-6l-6 6l1 6l-10 16l0 6l5 1l4-10l3-2l12-1l-3 7l1 4l-13 7l-3 0l-2 3l-1 9l6 0l5 3l-1 5l-8 6l0 5l5 4l-4 5l1 4l17 4l30-1l7-4l-5-8l0-3l6-9l0-13l5-6l0-3l-5-5l-9 2l-2-3l1-3l11-10l6 0l1-3l-4-3l-6 1l-7-7l-2-6l7-3l5-5l8 4l3-3l7-2l3-5l6-4l0-3l-5-6l2-4l-2-5l1-2l11-5l15 3l8-2l-2-7l-6-4l-3-5l2-2l10 1l5-2l5-4l6-16l5-1l5-4l7 0l2-2l-8-6l-6-9l2-15l2-2l7 2l3-2l1-4l-2-8l-7-5l-6-9l4-15l-1-9l-4 0l-5 5l-11-1l-4-11l1-11zM337 1071l3 1l-1 8l-5-4zM342 1017l2 2l-1 6l-5-3l-1-2zM393 1016l3-1l2 3l-4 1zM346 1012l2-2l2 1l-1 2zM367 887l-4 11l6-8zM386 879l-1 2l3 2l1-3z"/><path d="M296 1104l-2 2l1 5l3-1zM309 1088l-7 6l-2 6l5-2l6 1l2-2l0-3zM332 975l-2 2l3 4l1-4zM413 894l-6 1l-3 6l-5-6l-2 7l-6-1l-6 7l-7 2l-1 3l3 4l0 4l-3 4l-11-6l-3 3l-3 11l-4 5l-1 9l-4 3l-4-3l-2 1l3 18l-6 8l5 5l-1 2l-20 13l0 3l4 4l-3 6l3 10l-1 4l-5 5l-5-4l-11 0l-4 5l2 4l5 0l3 4l1 4l-2 4l3 4l0 3l-4 5l-1 7l-5 8l5 1l10-13l5 4l-1 11l-5 8l0 4l7 7l-8 5l-3 9l2 4l-1 3l-7 0l-12 7l0 7l11 4l-2 7l-8 6l0 3l7 5l-5 5l0 3l11 4l32 0l8-4l-6-11l8-10l1-7l-2-5l5-5l1-4l-4-4l-14 4l-4-1l-2-3l3-4l5 1l12-14l6 0l-2-2l-6 2l-11-14l-9-5l0-6l7-3l3 8l7 0l5-5l17 0l8-11l-4-4l-3 1l-3-3l-2-6l1-3l8 5l0-7l12-7l9 0l7 3l6-2l-1-5l-7-4l-3-6l-7-3l-2-3l3-3l3 0l4 6l12 0l3-4l4 1l4-3l-1-12l2-2l22-7l-12-11l-1-4l2-7l-1-10l2-2l5 2l6-1l-1-10l-5-2l-3-6l-7-6l4-7l-1-9l2-5l-3-1l-4 3l-13 0l-3-6zM340 1129l4-1l2 4l-3 2zM330 1116l5 3l3 5l-1 2l-5 0l-4-7zM348 1043l4-2l5 6l-7 0zM367 1034l2-1l1 2l-2 1zM350 1008l2 4l-7 4l0 10l-3 1l-9-8l2-2l7-1l2-5l3-3zM416 1003l2 2l-3 4l-3-3zM338 994l4 2l-3 5l-4-3z"/><path d="M358 1118l-4-3l-7 4l-9 1l5 3l1 4l4 1l6-3zM305 1095l2 2l4 0l-2-4zM421 1006l-5 5l3 4l4-2l0-5zM443 950l-3 3l0 5l6 2l1-8zM412 895l-5 2l1 5l-2 2l-4-2l-5 2l-7-1l-5 7l-5 1l-1 2l2 7l-3 6l-4 0l-4-4l-4-1l-3 3l0 5l-6 10l0 7l-6 6l-4-1l2 16l-5 7l4 4l0 3l-4 4l-17 9l0 3l5 4l-4 6l0 3l4 6l8 0l4-8l7-2l0-6l2-2l4 2l-1 4l-3 2l0 7l-7 5l0 11l-2 1l-12-9l-2 0l-5 6l-9-5l-8 1l-3 4l2 3l6 0l3 7l0 6l3 3l-1 4l-5 6l-1 7l-4 4l0 3l5-2l6-12l8 3l4-1l2 2l0 2l-7 5l0 6l-5 8l1 5l5 2l2 3l-1 4l-4 0l-4 3l-3 8l5 7l-11 1l-12 6l1 7l9 1l2 3l-3 7l-8 6l2 4l6 3l0 3l-4 4l7 5l34 0l5-3l0-4l-6-9l8-7l2-5l-1-3l-4-1l-5 4l-3 0l-4-7l-7 1l0-6l-2-2l-3 0l-3 4l-3-2l3-5l10-4l4-6l6 1l8-8l-2-9l-7-8l-9-5l-1-9l9-2l6 8l9-5l7 0l4-5l6 4l4-9l-6-4l-4-9l1-3l4 0l5 4l0-5l4-4l9-4l10-1l6 4l5-2l-3-5l-3-1l-3 2l-2-2l-1-8l-7-2l-1-5l3-3l5 0l4 6l8 0l4-6l-3-5l0-3l3-3l7-3l12-1l10-6l-4-5l-5-2l-1-6l2-10l-5-16l9-4l0-5l-9-6l5-9l0-6l-3-5l-13 1l-5-4zM331 1096l3 2l-1 11l-4-2zM321 1044l2-2l3 3l-3 1zM347 1031l8 1l-3 7l7 8l-2 4l-3 0l-7-5zM371 1030l1 4l-4 5l-3-4l4-5zM336 993l5 0l2 2l0 3l-4 5l0 6l-4-2l1-6l-2-2l0-4z"/><path d="M352 1133l-4 0l-3 4l4 3l2-1zM357 1118l-3-2l-9 9l4 1l6-3zM300 1120l-1 4l2 2l9 1l2 2l0 5l-5 7l-6 4l3 3l7 0l0 4l-3 5l2 5l6 1l11-2l6 2l13-1l3-2l-1-6l-5-5l-1-11l-5-8l-13 3l-3 6l-4-2l0-4l5-2l2-3l3 0l2-5l-2-1l-4 4l-4 0l0-10l-8-1zM331 1137l3-1l2 2l-3 1zM322 1097l-4 9l6 5l1 3l3 0l2-3l-2-2l-1-11zM328 1073l-6 10l8 7l2 4l4 2l-1 8l3 3l4 0l6-5l-1-9l-8-9l-8-4l0-4zM403 1035l3 3l2-1l-1-3zM420 1009l-1 3l2 1l1-3zM332 1004l-3 3l1 5l5 0l2 3l3 0l1-4l-5 1l-2-2l0-5zM330 993l-2 3l4 1l1-3zM444 952l-3 4l2 3l3 0l0-5zM410 904l-4 2l-5-3l-4 3l-6-2l-5 7l-5 1l0 12l-4 3l-4 0l-3-4l-4-1l-2 2l0 6l-6 9l0 7l-5 7l-5 3l3 10l-5 8l4 5l-12 12l3 0l6 4l-6 8l2 4l6-2l0-5l2-3l5 0l2 2l0 6l-4 3l0 6l-7 4l0 10l2 2l7 0l-2 10l7 8l-7 6l1 9l-2 1l-3-3l2-8l-6-5l-1-14l-7-9l-6-3l-3 1l0 9l-13-9l-7 1l-2 2l0 2l8 0l0 6l3 3l0 4l5-1l4 3l0 5l-7 0l-2 6l9 3l1-2l-2-5l3 0l6 9l-3 8l8 0l6 7l3 0l5-4l8 0l3-5l8 1l0-4l-9-15l3-4l7 2l3-4l10-4l3-3l6-1l1-9l-2-2l-7-1l0-4l4-4l6-1l4 6l5 0l5-5l-2-8l4-4l7-4l12 0l7-5l-2-4l-5 1l-2-2l3-18l-5-18l9-5l-3-4l-6-2l0-5l6-9l-4-7l-10 3l-6-4zM336 1047l2-1l1 2l-2 1zM372 1026l4 4l-3 3l-1 5l-4 3l-4-7l5-7zM387 1023l5 7l-2 2l-5-4zM367 998l2 1l-1 4l-2-1zM356 977l3 2l-2 2l-3-2zM411 896l-3 2l2 3z"/><path d="M309 1138l-1 5l5 3l0 6l-4 6l1 3l8 1l7-2l5 2l15 0l3-2l0-5l-6-6l0-5l-3-5l-8 1l-3-5l-3 0l-1 4l-3 2l-7-5zM350 1134l-3 1l0 2l2 1l2-2zM335 1131l-2 1l1 2l2 0zM356 1119l-2-2l-2 1l-3 5l5-1zM320 1129l-4-2l2-7l-1-4l-4-1l-13 7l3 4l9 0zM323 1098l-4 8l8 5l0-8zM345 1093l-9 8l0 2l4 3l6-4zM328 1075l-4 6l0 3l3 1l6 8l7 0l1-6l-5-4l-7 0l-1-3l2-3zM323 1049l-3 2l1 2l3-1zM316 1025l0 8l12 10l1 5l5 3l-1 3l4 6l-2 6l7 1l5 6l6-5l6 2l5-6l6-1l-2-10l-5-4l-7 5l-1 3l2 6l-4 5l-5-10l1-5l-5-4l1-11l-6-11l-4-3l-5 0l-1 2l2 6l-4 2l-4-4l-3 0l-2-5zM342 1047l-3 4l-6-1l4-6zM392 1023l-1 3l3 1l1-4zM331 1006l-1 4l2 1l1-4zM347 999l-4 3l0 3l5-1zM410 907l-5 1l-3-3l-2 1l5 4l-2 5l-10-1l-1-6l-5 4l-3 0l-2 2l0 9l-3 4l-7 0l-6-4l0 6l-7 9l0 9l-4 4l-1 4l-4 1l-1 2l6 8l-7 5l0 4l3 2l7-1l3 4l-2 2l-7-2l-7 7l0 3l12 6l3 4l0 6l-6 4l1 4l-8 5l0 5l2 5l8 0l-2 10l7 7l3-4l-2-8l5-7l-3-5l2-3l3 0l2 5l6 5l-5 6l-1 6l3 1l13-7l-4-6l0-6l5-9l7-3l4 1l3 5l4 0l3-3l-2-7l5-7l6-4l15 0l4-4l-1-3l-6 1l-2-2l3-11l0-11l-4-12l3-10l-4-6l7-12l-2-4l-4-2l-8 7l-1-5l-6-5zM371 995l0 6l-5 4l-2-2l0-4z"/><path d="M310 1138l0 4l5 3l0 7l-5 6l1 3l4 1l6-3l11 3l5-2l10 0l1-3l-7-8l-1-7l-11-1l-3-2l-3 3l-5 0l-5-5zM317 1118l-4-2l-10 4l-2 3l5 3l8-2zM324 1100l-3 2l1 5l3-1zM344 1098l-4 0l-2 5l4 1l2-2zM330 1085l4 7l5 0l1-5l-7-4zM366 1051l-4 0l-6 5l2 6l-1 6l2 1l4-6l6-1zM336 1052l-1 4l4 3l-2 6l5 1l5 5l2-1l1-5l-6-13zM331 1025l1 8l-7 3l5 11l2 1l5-6l6 3l1-6l-7-13zM409 912l-6 5l-18-4l-2 2l-1 10l-4 3l-8 1l-1-4l-2-1l-1 2l3 3l-9 9l0 10l-4 3l0 5l-5 3l6 8l-2 2l-4 0l-2 5l9 1l5 5l-3 3l-10 0l-3 5l4 1l10 10l8-6l4 1l-2 9l-3 3l-12 3l0 6l-8 4l1 9l7-1l2 2l-1 11l5 4l0-10l5-7l-2-4l-6-4l1-2l5 2l5-3l2 2l1 6l6 5l-6 8l1 3l3 0l9-4l1-2l-4-5l0-17l7 1l3-2l9 0l1 5l3 0l3-3l-3-5l8-10l6-4l9 2l7-4l-5 0l-3-3l0-5l3-6l0-14l-4-11l2-9l-3-6l2-6l5-6l-4-4l-7 6l-4 0l0-6zM382 992l3-1l1 3l-3 2zM416 982l4-1l1 3l-4 2zM358 957l4-1l1 4l-3 1z"/><path d="M311 1158l0 2l5 1l6-5l8 5l15 0l2-5l-6-5l-1-7l-2-2l-12 0l-9 2l-1 9zM316 1118l-3-1l-4 3l-6 1l-1 2l5 2l7-3zM343 1100l-1-1l-3 3l3 0zM333 1084l-2 3l6 5l2-5zM343 1058l-4 5l8 6l2-5l-2-4zM336 1054l1 2l5 0l-1-3zM366 1052l-4 0l-5 4l2 11l2-4l7-2zM340 1039l3 4l0-3zM335 1026l-2 1l1 6l-7 4l1 4l4 4l4-4l-2-6l5-2l0-3zM350 1018l-2 2l1 6l5 1l3-2l3 10l6-7l-1-4l-6-1l-2-5zM356 1010l2 5l4 0l2 2l3-1l-5-6zM409 914l-5 4l-10 0l-5-4l-3 0l-3 3l0 7l-2 3l-9 2l-8 5l-4 6l2 8l-5 4l0 2l5 0l2 2l0 5l-2 2l-5-2l2 6l-9 5l10 3l7 5l-7 4l-8 0l-3 3l4 1l2 4l5 3l6-1l4-3l4 2l0 6l-6 8l0 3l6 3l-1 9l8 7l0 2l-7 5l1 3l8-2l3-3l-5-5l2-12l-2-2l1-4l2-1l6 2l3-2l10-1l15-16l12 0l-4-4l0-7l4-4l1-6l-4-17l1-11l-3-6l2-8l4-4l-4-1l-4 4l-9-2l3-5zM379 1004l1 4l-4 3l0-4zM383 989l4 2l-3 7l-3-1l-1-5zM417 980l3 0l3 3l-3 4l-5-2z"/><path d="M346 1155l-7-5l0-5l-2-2l-7-1l-13 4l0 8l-4 2l-1 3l5 1l1-4l3-2l11 7l4-2l7 2l3-2zM331 1151l2-3l5 1l-3 3zM304 1122l0 2l5-1l0-2zM334 1085l-2 2l3 4l2 0l1-4zM344 1060l-2 4l5 3l1-3zM365 1053l-7 3l2 6l7-2zM328 1037l1 4l5 0l-1-5zM384 1033l-1-1l-7 3l-1 3l8-2zM335 1028l0 4l2 0l0-3zM363 1024l-4 2l1 7l5-5zM354 1018l-5 2l0 5l2 2l6-4l0-3zM377 1013l-3 3l0 7l7 3l1-9l-3-4zM357 1011l0 2l4 0l-2-3zM378 991l-3 0l0 8l-6 9l1 2l4-1l6-12l0-4zM424 986l-3 3l3 0zM409 915l-5 5l-3-2l-7 2l-4-4l-4-1l-3 5l0 5l-5 4l-6 1l-11 10l4 22l-9 10l15 7l1 2l-17 4l-1 2l3 4l7 2l10-4l1-6l7 6l4-1l2 2l-1 7l-5 4l0 8l6 2l6-3l5 1l5-2l5-5l1-4l9-8l-5-5l0-3l3-3l9 1l4-5l-1-14l-3-8l1-9l-3-5l2-6l-3-3l-12-2l5-4l0-2zM385 1006l1-3l4 2l-2 2zM401 989l1-1l5 5l-3 1z"/><path d="M316 1156l-3 2l1 2l3-2zM317 1148l2 5l5 1l6 6l6-2l8 2l2-2l0-2l-6-4l-9 1l-2-2l3-4l5-1l0-2l-7-1zM334 1086l0 3l3 1l0-3zM364 1053l-5 3l2 5l5-1l0-5zM329 1037l1 3l3-1l-1-2zM363 1025l-3 1l0 5l4-2zM351 1019l-2 4l4 3l3-3l0-3zM378 1014l-3 2l-1 5l2 3l4 1l2-6zM375 1002l-4 7l2-1zM377 992l-1 5l3-1zM372 985l-7-2l-4 3l-4 0l0 2l3 0l5 4l6-3zM386 916l-2 2l0 6l-4 5l-7 1l-5 7l-4 0l-2 2l5 28l-2 3l-4-1l-3 3l14 6l10 10l5-1l0 14l5 4l10 2l6-5l1-5l-6-2l-4-7l3-2l6 6l7 1l2-2l-4-6l2-6l10 0l4-3l-1-16l-2-4l1-10l-4-7l1-7l-4-2l-9 0l-3-3l1-3l6-1l-5-6l-3 2l2 5l-3 1l-4-5l-3 0l-4 4l-3-2l-2-5z"/></g></g><g fill="none" stroke="#e63a26" stroke-opacity="0.85" stroke-width="4.3" stroke-linecap="round"><path d="M380 794h0m-109 25h0m68 7h0m26 22h0m-3 3h0m31 5h0m-16 4h0m75 0h0m-169 7h0m99 0h0m-71 1h0m28 3h0m18 4h0m23 0h0m92 1h0m-61 1h0m32 2h0m-26 1h0m1 0h0m50 3h0m-23 2h0m-58 1h0m9 2h0m49 2h0m-72 1h0m35 2h0m40 2h0m-100 1h0m5 0h0m85 1h0m-136 1h0m112 0h0m-1 1h0m-73 2h0m59 0h0m-41 2h0m88 0h0m-105 1h0m68 0h0m-36 1h0m17 0h0m28 0h0m24 0h0m23 0h0m-138 1h0m7 1h0m53 0h0m46 0h0m13 0h0m-42 3h0m26 0h0m17 0h0m-118 3h0m83 0h0m-54 1h0m71 1h0m-52 1h0m5 1h0m-27 1h0m40 0h0m-1 1h0m78 1h0m-109 1h0m114 0h0m-60 1h0m15 0h0m6 0h0m-89 2h0m30 0h0m10 1h0m70 0h0m-94 1h0m50 0h0m-139 1h0m47 0h0m104 0h0m-66 1h0m19 0h0m-62 1h0m48 0h0m18 1h0m-34 1h0m78 1h0m28 1h0m-53 1h0m-15 1h0m1 0h0m22 0h0m1 1h0m-6 1h0m-46 1h0m81 1h0m-131 2h0m43 0h0m62 0h0m56 0h0m-76 1h0m2 2h0m26 0h0m-44 1h0m-24 1h0m19 0h0m33 0h0m-136 1h0m12 0h0m53 0h0m69 0h0m41 0h0m-48 1h0m2 0h0m1 0h0m40 0h0m-26 1h0m9 0h0m23 0h0m2 0h0m-107 1h0m25 0h0m46 0h0m-142 2h0m51 0h0m90 0h0m-36 1h0m-34 1h0m22 1h0m45 0h0m67 0h0m-163 1h0m163 0h0m-136 1h0m15 0h0m51 0h0m8 0h0m15 0h0m-114 1h0m109 0h0m18 1h0m33 0h0m-18 1h0m-62 1h0m2 0h0m0 0h0m20 0h0m2 0h0m19 0h0m-47 1h0m10 0h0m-91 1h0m11 1h0m-15 1h0m71 0h0m5 0h0m-56 1h0m46 0h0m63 0h0m-106 1h0m8 0h0m9 0h0m3 0h0m8 0h0m-1 1h0m101 0h0m-72 1h0m33 0h0m-20 1h0m33 0h0m-42 2h0m40 0h0m-100 1h0m107 0h0m27 0h0m-174 1h0m93 0h0m12 1h0m53 2h0m-84 1h0m68 0h0m-122 1h0m14 1h0m10 0h0m-65 1h0m180 0h0m10 1h0m-58 1h0m83 1h0m-194 1h0m27 0h0m64 0h0m28 0h0m25 0h0m-14 1h0m-96 1h0m2 1h0m56 0h0m-95 1h0m46 0h0m27 0h0m35 0h0m-54 2h0m49 0h0m39 0h0m-67 1h0m16 0h0m38 0h0m-52 1h0m64 1h0m-18 1h0m11 1h0m-89 1h0m93 1h0m-142 2h0m86 0h0m-52 1h0m61 1h0m53 0h0m-49 1h0m-91 2h0m66 0h0m7 0h0m93 0h0m-138 2h0m42 0h0m35 1h0m25 1h0m-87 1h0m79 0h0m10 0h0m-103 1h0m96 0h0m10 0h0m-47 2h0m11 0h0m4 0h0m-59 2h0m115 0h0m-166 1h0m60 0h0m72 0h0m55 0h0m-62 1h0m48 0h0m-101 1h0m22 0h0m-99 2h0m96 0h0m26 0h0m-68 1h0m-9 1h0m70 0h0m17 0h0m-73 2h0m26 0h0m17 0h0m40 0h0m6 0h0m-140 1h0m124 0h0m-69 1h0m-58 1h0m91 0h0m0 0h0m14 0h0m-92 1h0m33 2h0m6 1h0m12 0h0m65 1h0m-130 1h0m93 0h0m39 0h0m-102 1h0m4 1h0m10 0h0m104 0h0m23 0h0m-130 1h0m98 0h0m14 0h0m-133 1h0m152 0h0m-145 1h0m-26 1h0m91 0h0m-84 1h0m142 0h0m27 0h0m-96 2h0m-1 1h0m27 0h0m60 0h0m-164 1h0m50 0h0m51 0h0m-38 1h0m-21 1h0m36 0h0m21 0h0m-7 1h0m-19 1h0m25 0h0m-81 1h0m119 0h0m-115 1h0m16 0h0m-30 2h0m4 0h0m35 0h0m19 0h0m89 1h0m-137 2h0m20 0h0m93 1h0m-92 2h0m9 0h0m17 1h0m38 0h0m-25 2h0m111 0h0m-205 1h0m37 1h0m94 0h0m45 0h0m-151 1h0m17 2h0m-29 3h0m17 0h0m28 0h0m29 1h0m32 2h0m15 1h0m-118 1h0m111 0h0m-105 1h0m3 0h0m1 0h0m-7 1h0m83 0h0m28 0h0m25 1h0m-94 1h0m8 0h0m-23 2h0m34 0h0m29 0h0m-128 1h0m63 1h0m55 0h0m-33 1h0m-63 1h0m82 0h0m23 0h0m-16 3h0m11 0h0m-42 1h0m-55 1h0m87 0h0m20 0h0m-87 1h0m-31 1h0m97 1h0m11 0h0m7 1h0m9 0h0m35 0h0m-109 1h0m12 0h0m-12 1h0m-25 1h0m3 0h0m63 1h0m30 0h0m-58 1h0m34 1h0m-46 1h0m26 2h0m12 0h0m-32 1h0m-1 3h0m-30 1h0m46 0h0m35 0h0m-31 1h0m-53 3h0m42 0h0m19 2h0m-59 2h0m58 0h0m20 0h0m-21 1h0m-70 1h0m102 1h0m-80 2h0m75 0h0m0 0h0m-74 3h0m65 1h0m12 0h0m-86 2h0m39 2h0m-43 5h0m89 0h0m-92 2h0m45 1h0m10 1h0m17 1h0m-60 1h0m22 1h0m36 1h0m-89 1h0m40 1h0m29 1h0m-22 1h0m38 1h0m15 0h0m-70 1h0m9 0h0m78 1h0m26 1h0m-141 1h0m28 0h0m48 0h0m28 1h0m10 1h0m-79 1h0m16 0h0m-37 1h0m100 1h0m-25 1h0m-55 1h0m18 0h0m-7 1h0m-41 1h0m49 0h0m15 0h0m-54 1h0m10 0h0m13 0h0m6 0h0m-37 1h0m51 0h0m31 0h0m14 0h0m-24 1h0m36 14h0"/><path d="M442 793h0m-65 4h0m16 24h0m-50 23h0m118 12h0m-65 1h0m9 2h0m39 1h0m-61 2h0m17 0h0m12 12h0m12 5h0m-44 1h0m-14 1h0m76 0h0m-5 2h0m-17 1h0m-39 1h0m23 0h0m-4 1h0m25 1h0m-86 1h0m74 0h0m-52 2h0m34 0h0m13 2h0m-58 1h0m35 0h0m8 0h0m-6 1h0m-22 1h0m27 0h0m30 1h0m37 0h0m-130 1h0m44 1h0m18 1h0m-49 1h0m19 0h0m43 0h0m-67 3h0m57 0h0m5 2h0m-42 1h0m82 0h0m-79 4h0m-24 2h0m43 0h0m2 0h0m67 1h0m41 2h0m-62 1h0m69 0h0m-120 1h0m56 0h0m24 0h0m-40 2h0m28 0h0m-30 1h0m-67 1h0m2 0h0m163 0h0m-144 1h0m16 4h0m8 0h0m34 2h0m-54 2h0m-34 3h0m75 1h0m29 0h0m-33 2h0m-109 1h0m94 1h0m14 0h0m0 0h0m6 0h0m-9 1h0m54 0h0m-98 1h0m50 0h0m-3 2h0m6 0h0m29 0h0m-46 1h0m15 0h0m-15 2h0m-77 1h0m101 0h0m21 0h0m-14 1h0m115 0h0m-79 1h0m-50 1h0m3 0h0m37 0h0m-102 1h0m23 0h0m2 0h0m17 0h0m-75 2h0m32 1h0m87 0h0m-64 1h0m2 0h0m10 0h0m58 1h0m-115 1h0m54 0h0m47 0h0m-15 1h0m-79 1h0m51 0h0m-51 2h0m30 0h0m25 0h0m1 0h0m-21 1h0m-79 1h0m109 0h0m57 0h0m-57 1h0m62 0h0m-48 1h0m-89 1h0m14 0h0m55 0h0m39 0h0m23 1h0m-137 1h0m36 0h0m49 1h0m-13 2h0m57 0h0m2 2h0m-55 1h0m-50 1h0m63 0h0m52 0h0m-25 1h0m-44 1h0m45 0h0m-135 1h0m43 0h0m18 0h0m-7 1h0m33 0h0m82 1h0m-134 1h0m25 0h0m101 0h0m-64 1h0m-59 2h0m90 0h0m-131 2h0m76 0h0m-80 1h0m21 0h0m24 0h0m19 0h0m45 0h0m34 0h0m-194 1h0m104 0h0m44 0h0m1 1h0m61 0h0m-74 1h0m28 0h0m-159 2h0m76 0h0m121 0h0m-134 1h0m63 0h0m43 0h0m10 0h0m-67 1h0m71 0h0m-47 1h0m16 1h0m-81 1h0m-9 1h0m47 1h0m44 0h0m17 0h0m29 0h0m-103 1h0m106 0h0m-148 1h0m57 0h0m5 0h0m80 0h0m-71 1h0m36 0h0m-62 1h0m37 0h0m16 0h0m72 0h0m-27 1h0m27 0h0m-164 1h0m82 0h0m24 0h0m-16 1h0m-37 1h0m48 0h0m-103 1h0m37 0h0m120 0h0m-133 1h0m114 0h0m-128 1h0m120 0h0m1 0h0m14 1h0m-102 2h0m44 0h0m-31 1h0m65 0h0m58 0h0m-193 1h0m43 0h0m-32 2h0m25 0h0m24 0h0m14 1h0m-75 1h0m138 0h0m-142 1h0m152 0h0m-76 1h0m69 0h0m-109 1h0m3 0h0m18 1h0m-30 1h0m11 1h0m8 0h0m4 0h0m32 0h0m116 0h0m-167 1h0m109 2h0m-133 1h0m7 0h0m46 0h0m68 0h0m-126 1h0m174 0h0m-143 1h0m28 0h0m15 0h0m71 0h0m8 0h0m-47 1h0m11 0h0m-100 3h0m44 0h0m15 2h0m60 0h0m-133 2h0m63 1h0m-9 1h0m-25 1h0m72 0h0m9 1h0m23 0h0m-115 1h0m30 0h0m-25 1h0m79 0h0m9 0h0m-72 1h0m42 1h0m-80 1h0m21 0h0m18 0h0m1 0h0m152 0h0m-256 1h0m94 0h0m33 1h0m-57 1h0m78 0h0m-91 2h0m59 0h0m9 0h0m9 0h0m11 0h0m-51 1h0m8 0h0m55 1h0m-86 1h0m36 0h0m5 0h0m-27 1h0m32 0h0m43 0h0m0 1h0m-52 1h0m-11 1h0m-37 1h0m113 1h0m-103 1h0m87 2h0m-103 2h0m46 1h0m5 0h0m86 0h0m-127 1h0m35 0h0m36 0h0m3 1h0m-49 2h0m22 0h0m35 1h0m-22 2h0m62 0h0m-54 2h0m2 0h0m13 2h0m11 1h0m-88 1h0m196 0h0m-175 1h0m26 0h0m1 0h0m-44 2h0m35 0h0m92 0h0m-134 3h0m33 0h0m37 0h0m-49 1h0m3 0h0m4 0h0m24 0h0m39 0h0m-20 1h0m-65 1h0m70 0h0m15 0h0m-102 1h0m73 0h0m-15 3h0m5 0h0m33 3h0m-74 2h0m45 0h0m-50 2h0m52 1h0m12 1h0m11 0h0m72 0h0m-149 1h0m-25 1h0m51 0h0m-23 2h0m-14 1h0m22 0h0m3 1h0m14 0h0m-71 1h0m49 0h0m66 1h0m-25 1h0m15 0h0m11 2h0m-59 1h0m28 0h0m13 0h0m92 0h0m-119 1h0m-47 1h0m154 0h0m-106 1h0m-17 1h0m14 4h0m59 0h0m-31 1h0m-69 7h0m25 0h0m63 0h0m-19 3h0m9 0h0m-38 1h0m-24 1h0m14 2h0m-27 1h0m-9 3h0m45 0h0m0 1h0m2 0h0m5 0h0m-54 1h0m11 0h0m73 1h0m8 0h0m-107 4h0m53 0h0m26 0h0m-37 1h0m41 2h0m-17 4h0m-45 4h0m40 2h0m-27 1h0m71 0h0"/><path d="M395 750h0m-43 59h0m-53 3h0m105 37h0m-39 1h0m6 3h0m9 2h0m47 3h0m-101 1h0m40 4h0m25 1h0m27 1h0m28 0h0m-30 2h0m-28 1h0m37 5h0m-29 1h0m1 1h0m5 0h0m-8 1h0m4 1h0m3 5h0m9 0h0m1 1h0m22 1h0m-56 2h0m52 0h0m-40 1h0m55 0h0m-74 2h0m41 0h0m18 1h0m-31 1h0m-7 1h0m35 1h0m-35 1h0m39 0h0m4 1h0m-105 2h0m55 0h0m-2 1h0m-3 1h0m98 0h0m-182 3h0m132 0h0m-261 1h0m192 0h0m74 0h0m10 0h0m-43 1h0m-41 2h0m10 0h0m25 0h0m-23 1h0m35 0h0m13 0h0m-46 1h0m55 1h0m8 0h0m9 1h0m-65 1h0m9 0h0m-24 1h0m41 0h0m-33 1h0m11 0h0m-18 4h0m-23 1h0m88 0h0m-26 1h0m39 0h0m-154 1h0m110 1h0m-50 1h0m-1 1h0m1 2h0m77 0h0m-60 2h0m36 0h0m28 0h0m-84 1h0m97 0h0m-97 1h0m0 0h0m-44 1h0m12 0h0m27 1h0m40 1h0m-39 1h0m24 0h0m31 0h0m-98 1h0m103 0h0m-23 2h0m-9 1h0m36 0h0m13 1h0m32 0h0m-201 1h0m136 2h0m32 0h0m-91 3h0m28 0h0m9 0h0m52 0h0m-65 1h0m16 0h0m28 0h0m-63 1h0m48 1h0m76 0h0m-113 1h0m22 0h0m35 0h0m-33 1h0m30 0h0m4 0h0m6 0h0m-23 1h0m25 0h0m10 0h0m-5 1h0m61 0h0m-99 1h0m-11 1h0m-34 1h0m105 0h0m-97 1h0m63 1h0m2 0h0m63 0h0m-78 1h0m12 1h0m1 0h0m4 0h0m-27 2h0m53 0h0m-41 1h0m11 0h0m65 0h0m-73 1h0m22 0h0m-4 1h0m43 0h0m-32 1h0m-150 1h0m95 0h0m3 0h0m39 0h0m54 0h0m-9 1h0m6 0h0m-28 1h0m-133 1h0m59 1h0m81 0h0m-116 1h0m22 0h0m70 0h0m-40 1h0m-43 1h0m56 1h0m16 0h0m-109 1h0m27 0h0m-10 1h0m13 0h0m86 0h0m8 0h0m-124 2h0m85 0h0m39 0h0m-41 1h0m-68 3h0m51 0h0m-93 1h0m17 0h0m91 0h0m65 0h0m22 0h0m4 0h0m-89 1h0m18 0h0m25 0h0m-71 2h0m4 0h0m37 0h0m87 0h0m-17 1h0m-35 1h0m-33 1h0m27 0h0m-16 2h0m-31 1h0m76 1h0m-140 1h0m-6 1h0m26 0h0m33 0h0m-89 1h0m156 1h0m-107 1h0m14 0h0m16 0h0m40 0h0m46 0h0m-120 1h0m0 0h0m41 1h0m81 0h0m-31 1h0m-69 1h0m37 0h0m-6 3h0m17 0h0m82 0h0m-59 1h0m-60 1h0m20 0h0m30 0h0m-110 1h0m6 0h0m2 0h0m30 0h0m94 0h0m-76 1h0m18 0h0m-56 1h0m117 0h0m18 0h0m-149 1h0m11 0h0m93 0h0m-69 2h0m31 1h0m78 0h0m-140 1h0m10 2h0m56 1h0m53 0h0m-77 1h0m56 0h0m12 0h0m82 0h0m-98 1h0m36 1h0m-110 1h0m94 0h0m32 0h0m-133 1h0m53 0h0m48 0h0m23 1h0m-141 2h0m1 0h0m68 2h0m38 1h0m-77 1h0m102 1h0m10 1h0m-38 1h0m54 0h0m-120 2h0m37 2h0m23 0h0m4 0h0m22 1h0m15 0h0m-113 1h0m66 0h0m-53 1h0m48 0h0m64 0h0m-97 1h0m21 1h0m20 0h0m-62 1h0m121 1h0m-41 1h0m-94 1h0m44 0h0m24 0h0m16 0h0m-70 1h0m91 0h0m-70 1h0m59 3h0m21 0h0m38 1h0m-158 1h0m69 1h0m53 0h0m-127 1h0m29 0h0m6 0h0m18 1h0m5 1h0m56 0h0m-133 2h0m55 0h0m41 0h0m64 0h0m-90 1h0m88 0h0m-91 1h0m0 0h0m-55 1h0m20 0h0m-30 2h0m132 0h0m-39 1h0m67 0h0m-57 1h0m-85 2h0m19 1h0m4 0h0m-7 1h0m0 0h0m-19 1h0m104 0h0m-101 4h0m9 2h0m47 0h0m18 1h0m23 0h0m-107 1h0m24 0h0m50 0h0m-28 1h0m-59 1h0m66 0h0m46 0h0m10 0h0m-135 1h0m49 0h0m-5 3h0m-20 1h0m1 1h0m20 3h0m-14 1h0m-77 1h0m69 0h0m94 0h0m-117 2h0m101 0h0m-96 1h0m16 1h0m108 0h0m-71 1h0m-42 1h0m88 1h0m1 0h0m-105 1h0m130 0h0m-65 2h0m-55 1h0m15 1h0m20 2h0m51 1h0m57 0h0m-156 1h0m13 0h0m54 0h0m5 0h0m32 0h0m-72 2h0m5 2h0m86 0h0m-27 1h0m14 0h0m-24 3h0m19 0h0m-68 3h0m21 0h0m-33 1h0m11 0h0m59 0h0m13 0h0m-65 2h0m-25 2h0m40 0h0m-70 1h0m66 0h0m-26 2h0m39 0h0m49 0h0m-73 1h0m-19 1h0m-9 2h0m27 0h0m30 0h0m-5 3h0m32 0h0m-87 1h0m50 0h0m2 1h0m10 3h0m63 0h0m-115 3h0m23 1h0m41 0h0m41 0h0m-10 3h0m-19 1h0m-13 1h0m-27 2h0m43 0h0m-23 2h0m-50 1h0m69 0h0m-83 1h0m21 0h0m131 0h0m-163 1h0m26 0h0m58 0h0m-66 1h0m45 0h0m14 0h0m34 3h0m-39 1h0m28 0h0m-80 1h0m15 0h0m63 0h0m6 0h0m-100 1h0m72 0h0m4 0h0m22 0h0m1 0h0m-16 1h0"/><path d="M365 714h0m4 96h0m67 0h0m-140 3h0m71 15h0m50 21h0m-60 2h0m59 0h0m-73 7h0m76 6h0m-14 5h0m-64 1h0m26 0h0m15 4h0m8 3h0m47 0h0m6 0h0m-49 3h0m32 2h0m-74 2h0m87 0h0m-63 1h0m84 0h0m-91 1h0m47 2h0m-63 2h0m97 1h0m-136 1h0m46 1h0m13 1h0m47 0h0m-59 1h0m135 1h0m-126 1h0m36 1h0m41 0h0m-117 1h0m14 1h0m46 0h0m46 3h0m-61 1h0m32 0h0m-75 4h0m92 0h0m-11 1h0m33 0h0m4 0h0m-106 2h0m107 1h0m-74 1h0m43 0h0m-105 1h0m47 0h0m44 0h0m-9 1h0m-8 2h0m-42 1h0m68 0h0m-34 1h0m26 0h0m-89 1h0m13 1h0m34 1h0m21 0h0m30 0h0m-81 1h0m62 1h0m-58 1h0m59 1h0m16 0h0m-25 1h0m17 0h0m5 1h0m-39 1h0m80 0h0m-164 2h0m76 0h0m0 0h0m10 0h0m53 0h0m-31 2h0m50 0h0m-65 2h0m6 0h0m-72 1h0m79 0h0m-46 1h0m29 0h0m39 0h0m36 0h0m-154 1h0m62 0h0m71 0h0m-88 1h0m40 0h0m70 0h0m-113 1h0m79 0h0m23 0h0m52 0h0m-112 1h0m70 0h0m8 0h0m-103 1h0m39 0h0m11 0h0m34 1h0m-203 1h0m126 0h0m-25 2h0m90 0h0m-34 1h0m0 0h0m-68 1h0m-1 1h0m62 0h0m-54 2h0m62 1h0m11 0h0m-119 3h0m42 0h0m125 0h0m-40 2h0m-60 1h0m63 0h0m40 0h0m7 0h0m-11 1h0m-140 2h0m72 0h0m11 0h0m-37 1h0m27 0h0m15 0h0m92 0h0m-130 1h0m18 0h0m67 1h0m-82 1h0m28 1h0m20 0h0m-97 1h0m45 0h0m80 0h0m10 0h0m59 0h0m-216 1h0m80 0h0m2 0h0m2 1h0m58 0h0m-58 1h0m-59 1h0m156 0h0m-93 1h0m15 0h0m-64 1h0m33 0h0m-31 1h0m23 0h0m19 0h0m37 1h0m28 0h0m-116 1h0m72 0h0m29 0h0m-46 1h0m33 0h0m-47 1h0m41 1h0m63 0h0m-152 1h0m6 0h0m88 0h0m-19 1h0m-84 1h0m34 1h0m47 0h0m-75 1h0m131 0h0m14 0h0m-136 2h0m24 0h0m-40 1h0m104 0h0m-139 1h0m62 0h0m135 0h0m-165 1h0m15 0h0m101 0h0m-67 1h0m22 0h0m-31 1h0m77 0h0m-115 1h0m57 1h0m-17 2h0m100 0h0m-149 1h0m122 0h0m-46 1h0m86 0h0m-132 1h0m44 0h0m67 0h0m0 1h0m-19 1h0m6 0h0m27 0h0m-18 2h0m-53 1h0m78 0h0m-129 1h0m-5 1h0m36 1h0m7 0h0m23 0h0m24 1h0m5 0h0m-144 1h0m-21 3h0m59 0h0m132 0h0m-126 1h0m81 0h0m1 0h0m20 0h0m7 0h0m-72 1h0m-66 1h0m-12 2h0m31 0h0m54 0h0m85 1h0m14 0h0m-109 1h0m36 0h0m3 0h0m33 0h0m14 0h0m-98 1h0m11 0h0m40 0h0m-36 2h0m80 0h0m-51 1h0m-84 1h0m21 1h0m-51 1h0m95 0h0m-25 1h0m34 0h0m-27 1h0m-37 1h0m87 0h0m18 2h0m-117 1h0m40 0h0m76 0h0m-60 1h0m-16 1h0m-12 1h0m62 1h0m-85 1h0m76 0h0m52 1h0m-1 1h0m-25 2h0m7 0h0m-136 1h0m121 0h0m-135 1h0m32 0h0m6 0h0m118 0h0m-109 1h0m-27 1h0m16 0h0m42 1h0m16 0h0m-56 1h0m109 1h0m4 1h0m-37 1h0m47 0h0m-151 1h0m71 0h0m46 0h0m34 1h0m18 0h0m-163 1h0m42 0h0m82 0h0m6 0h0m3 0h0m-150 1h0m132 0h0m-39 2h0m10 0h0m21 0h0m11 0h0m105 1h0m-136 1h0m-65 1h0m14 0h0m114 0h0m-25 1h0m-119 1h0m93 0h0m13 2h0m28 0h0m-78 1h0m44 0h0m22 0h0m-126 1h0m38 0h0m77 0h0m-45 1h0m54 0h0m-75 1h0m40 0h0m-49 5h0m-12 1h0m25 1h0m5 0h0m3 1h0m18 0h0m-13 1h0m23 0h0m-83 1h0m8 0h0m5 0h0m38 0h0m17 0h0m-51 1h0m2 0h0m4 1h0m47 0h0m-71 1h0m64 2h0m46 0h0m-64 1h0m71 0h0m-104 1h0m29 0h0m-2 1h0m65 1h0m-31 1h0m-1 1h0m17 1h0m-92 1h0m46 3h0m2 1h0m10 0h0m26 0h0m-76 1h0m4 0h0m9 0h0m9 0h0m55 0h0m-72 1h0m77 0h0m29 2h0m-122 3h0m109 0h0m-25 2h0m55 1h0m-65 1h0m-48 1h0m9 0h0m43 2h0m28 0h0m-90 2h0m84 0h0m-63 2h0m-60 1h0m30 0h0m59 0h0m-42 1h0m40 0h0m-11 2h0m-55 1h0m56 0h0m2 0h0m-11 2h0m36 1h0m-29 3h0m-32 1h0m20 0h0m56 0h0m-56 2h0m6 0h0m96 0h0m-72 1h0m-8 1h0m-93 2h0m129 0h0m-83 1h0m-34 1h0m5 0h0m18 0h0m14 1h0m5 3h0m-6 1h0m1 0h0m10 0h0m-27 2h0m52 0h0m-12 1h0m38 4h0m-34 1h0m-13 1h0m74 0h0m-32 1h0m9 0h0m-60 1h0m37 0h0m-90 4h0m19 0h0m10 0h0m40 0h0m-16 2h0m47 4h0m4 1h0m-36 2h0m10 0h0m14 0h0m-14 2h0"/></g>
<line x1="144.4" y1="1150.0" x2="523.4" y2="908.1" stroke="#000" stroke-width="3.8"/>
</g>
<rect x="138.3" y="690.4" width="532.3" height="494.8" fill="none" stroke="#333" stroke-width="2.2"/>
<path d="M129.3 1162.2H138.3M129.3 1012.2H138.3M129.3 862.1H138.3M129.3 712.1H138.3M269.4 1185.2V1194.2M403.2 1185.2V1194.2M538.3 1185.2V1194.2" stroke="#333" stroke-width="4.4" fill="none"/>
<text x="125.5" y="1173.8" font-size="39.5" fill="#4d4d4d" stroke="#4d4d4d" text-anchor="end">0</text>
<text x="125.5" y="1023.8" font-size="39.5" fill="#4d4d4d" stroke="#4d4d4d" text-anchor="end">5</text>
<text x="125.5" y="873.7" font-size="39.5" fill="#4d4d4d" stroke="#4d4d4d" text-anchor="end">10</text>
<text x="125.5" y="723.7" font-size="39.5" fill="#4d4d4d" stroke="#4d4d4d" text-anchor="end">15</text>
<text x="269.4" y="1227.7" font-size="39.5" fill="#4d4d4d" stroke="#4d4d4d" text-anchor="middle">5</text>
<text x="403.2" y="1227.7" font-size="39.5" fill="#4d4d4d" stroke="#4d4d4d" text-anchor="middle">7.5</text>
<text x="538.3" y="1227.7" font-size="39.5" fill="#4d4d4d" stroke="#4d4d4d" text-anchor="middle">10</text>
<text x="146.0" y="730.7" font-size="46" fill="#1a1a1a" stroke="#1a1a1a">Pearson r = 0.41</text>
<text x="146.0" y="773.0" font-size="46" fill="#1a1a1a" stroke="#1a1a1a">p &lt; 2.2e-16</text>
<text x="2" y="686.4" font-size="53" font-weight="bold" fill="#000">d</text>
<text x="210.7" y="1269" font-size="46" fill="#1a1a1a" stroke="#1a1a1a">log<tspan font-size="27.5" dy="15">2</tspan><tspan dy="-15">(AD) [H3K27ac]</tspan></text>
<text transform="translate(76,1105.7) rotate(-90)" x="0" y="0" font-size="46" fill="#1a1a1a" stroke="#1a1a1a">log<tspan font-size="27.5" dy="15">2</tspan><tspan dy="-15">(AD) [RNA]</tspan></text>
</g>
<g id="pe">
<clipPath id="ce"><rect x="846.4" y="690.4" width="533.0" height="494.8"/></clipPath>
<g clip-path="url(#ce)">
<g clip-path="url(#ge)"><g fill="#707070" fill-opacity="0.13" filter="url(#bl4)"><path d="M1179 862l-19-4l-18 6l-11 11l-25 14l-40 40l-10-1l-17-10l-5-12l0-24l-4-6l-16-1l-13 11l-3 19l-25 41l-3 32l-7 21l-3 93l4 20l0 24l-4 21l7 11l15 8l22 6l47 0l28-11l20-4l40-22l5-14l2-24l36-34l13-22l32-40l9-23l-1-20l-8-21l0-30l-10-13l-23-17l-7-16z"/><path d="M1181 897l-15-7l-15-1l-37 14l-29 35l-9 40l-6 9l-11 0l-13-5l-7-8l-5-14l-9-5l-19 2l-9 8l-11 24l-11 58l0 43l5 20l-1 43l6 10l27 9l27 1l16-4l23-14l11-11l7-25l66-57l13-19l17-16l16-21l6-14l0-19l-7-41l-7-17z"/><path d="M1014 1007l-10 14l-5 25l-2 39l9 22l-5 22l0 15l3 6l11 8l20 2l10-8l-8-31l0-11l8-18l-4-46l-16-36zM1157 906l-24 2l-13 6l-13 15l-12 25l-1 30l4 17l15 26l10 9l11 3l15 0l9-4l28-35l8-20l1-24l-5-21l-14-21z"/><path d="M1152 918l-14 0l-15 7l-15 28l-1 19l3 14l12 17l14 7l8 0l16-8l15-16l8-18l0-17l-6-16l-10-11z"/><path d="M1140 928l-11 5l-7 9l-4 12l0 16l11 18l8 4l9 0l12-6l11-12l4-10l0-14l-11-17l-8-4z"/></g></g><g clip-path="url(#ge)"><g fill="#e8231f" fill-opacity="0.2" filter="url(#bl3)"><path d="M1074 1139l-3 4l1 5l4 2l6-2l6 4l-2 10l5 1l3-3l0-6l-3-3l0-7l-3-6l-3-2l-5 0zM1114 1119l-3-2l-7 1l-1 5l2 3l-5 2l-9-1l-1 5l15 4l3-1l1-5l-3-3l7-3zM1067 1110l-3 3l0 16l2 2l13 0l2-4l-1-7l-7-1l0-8zM975 1089l-2 3l1 4l3 2l5 0l3-7l-3-3zM1120 1083l-4 1l-4 7l1 6l4 3l5-4l1-11zM1149 1075l-2-3l-5-1l-11 5l-1 5l11 3l7-5zM1145 1056l1 6l8 6l4 1l5-4l-1-7l-6 0l-4-4l-5 0zM1219 990l-1 5l5 1l1-5zM1053 985l1 5l4 0l2-2l4 3l5-1l-1-5l-4 0l-2 2l-4-3zM1222 974l-1 5l5 1l1-5zM1203 956l-1 6l4 4l4 0l1-6l-4-4zM1039 953l-7 3l1 6l3 1l5-3l0-5zM1006 953l-1 5l5 1l1-5zM1039 943l-1 5l5 1l1-5zM1176 893l-4 0l-3 5l-18-5l-4 1l-19 17l-13 5l-12 14l-13 5l0 4l5 4l1 4l-3 3l-4-4l-5 1l2 15l3 7l-5 5l-1 8l5 14l-9 7l-2 5l-11 1l0 4l7 6l10 0l0 4l-5 7l-5-3l-7 1l0 4l4 8l5 3l-2 4l-5-2l-7 1l-1-9l-7-5l0-3l5-5l-1-12l3-4l-2-11l-7-1l-5-5l-4 0l-4 5l1 5l-3 3l-5-2l-1-10l-6-8l14-3l1-5l-5-1l-6 2l-3-2l-2-8l3-13l-5-1l-2 8l-6 6l-5 0l-5 3l-3 13l-5 2l-6 8l3 11l5 5l0 6l-3 2l-7 0l-5 4l-5 8l3 8l-5 3l0 4l5 1l8 8l0 3l-3 2l-5-2l-6 1l1 9l4 5l-2 9l9 6l1 6l9 8l-8 15l2 15l-10 9l3 10l6 3l-2 2l-6 0l-4 3l0 4l7 6l26 2l14-2l18 2l6-3l12 2l10-2l4-3l0-4l-2-2l-14-3l-3-6l3-11l5-6l-2-2l-6 0l0-9l-7-2l4-10l7-7l-4-12l4-4l6 1l7 16l8 2l8-2l5 3l5 0l1-7l-4-6l-1-16l2-2l8 1l4-4l-5-8l-7-1l-3-4l-5-1l-3 4l0 5l-6 9l-6 3l-5-2l-10 2l-5-3l6-5l0-4l-5-4l1-5l-7-6l0-5l12 0l1 16l2 2l5 0l9-8l12-2l3-6l-3-11l5-4l3 7l9-1l5 2l-8 5l0 4l3 4l0 6l6 1l4-3l1-4l3-1l8 7l-4 4l0 4l7 3l3-2l-2-8l7-5l0-5l-5-4l-2-4l1-2l5 0l13 7l5 0l5-5l6 2l3-2l1-8l13-1l5-9l5-4l1-5l-5-5l7-5l7 1l4-3l0-5l-4-6l-1-7l-5-5l1-11l-6-6l0-3l6-6l-2-7l5-6l0-7l-6-9l-1-10l-8-1l-2-2l1-7zM1091 1021l3-1l2 3l-2 1zM1035 1017l2-1l2 3l-3 1zM1091 1013l1-2l3 1l-2 2zM1194 988l2 4l-3 5l-1-7zM1008 988l2 3l-9 6l-2-2l1-6l2-2z"/><path d="M1088 1143l-2-4l-5-1l-6 3l-2 4l1 2l13-1zM978 1090l-2 4l4 2l2-4zM1120 1087l-4 2l0 7l3-1zM1065 1078l-3 4l4 2l3-3zM1145 1074l-4 0l-3 3l0 3l6 0l2-2zM1103 1066l-9-1l-4-5l-2 2l1 4l-4 4l0 3l-7 6l4 6l0 3l-8 1l-3 3l2 7l7 2l6-3l7 4l3-1l0-4l-4-4l-1-17l4-5l9 1l1-3zM1148 1058l7 7l3 1l2-2l0-3l-7 0l-3-4zM1115 1044l-3 1l-3 13l5-2l-1-6l4-4zM1086 1039l-4 1l-8 12l-9-4l-2 12l3 2l4-2l5-7l12-1l2-4zM1070 1031l3 5l3 1l0-2zM1082 1031l4 3l8-6l-9-2zM1074 1011l-2 2l1 3l5 1l1-4zM1199 993l-3 5l1 4l8 2l1-3l-5-8zM1007 970l-2 2l-2 12l8 2l3 3l0 3l-7 4l-6 7l-5-5l-1-6l-3 2l3 8l6 3l-1 13l-14 2l-6 8l0 4l4 4l7-3l2 1l-1 4l-8 6l1 4l7 6l0 2l-6 5l-8-1l0 6l4 2l7-3l3 4l1 8l-3 1l-4-5l-4 0l-3 3l0 3l9 4l0 4l4 6l7 4l3-1l4 4l-1 4l-8 1l0 5l-7 5l0 7l4 7l-6 6l-3 8l1 2l6 1l2 2l0 4l-5 5l-7 0l-2 2l5 6l8-1l4 2l19 1l3-2l24 2l5-3l9 2l11-2l3-2l-1-3l-12-2l-3-3l-2-5l2-11l-5-5l0-5l-6-5l0-9l-5-2l1-6l7 4l10-10l-6-8l6-11l-8-4l1-4l5-5l-7-4l4-6l-8-9l2-6l11 2l2-3l-1-5l-8-3l0-5l5-6l-1-10l3-8l-3-5l-11-6l0 9l-5 5l-8-1l-2-2l1-5l-2-8l-7-7l2-8l-1-6l-2-2l-5 2zM1042 1060l1 1l-6 8l-5-2l3-5zM1000 1022l4 3l-2 5l-4-2zM1041 1014l2 7l-2 5l-5-2l-5 0l-3 2l-3-1l6-5l1-5l3-3l4 0zM1177 899l-7 4l-9-5l-13-2l-2 3l2 5l-1 2l-4 0l-3 3l-7 0l-10 7l-7 2l-12 17l-5-1l-3 3l3 12l-11 10l1 4l8 7l-3 4l-7 0l-1 12l5 6l6-4l3 3l1 5l-4 4l-9 0l-6 5l0 2l4 5l5-5l8 2l4-2l3 2l-1 3l-7 2l-1 4l5 0l3 2l1 4l-3 3l2 6l6 0l7 10l3 8l9 6l5-1l1-3l-4-4l-5-10l2-3l12 2l10 7l4 0l6-9l2 5l4 1l-1-8l7-10l0-3l-4-3l1-5l11 4l4 5l-5 2l-4 7l7 0l2-3l-1-5l8-4l-2-5l-4 0l-4-4l-2-7l2-2l6 5l6-1l0-2l-6-5l2-11l5-4l2-9l-1-5l-6-6l1-4l5-4l0-4l-5-5l2-3l5 0l2-6l-5-7l-7-1l0-3l4-3l0-4l-6 0l-3-2l0-12zM1190 932l4 3l-2 4l-4-2zM1155 906l3 2l-2 2l-3-2z"/><path d="M1085 1141l-5-1l-4 2l-1 3l3 1l7-2zM1088 1093l0 4l5 2l0-2zM1075 1091l-1 6l5 2l2-2l0-4l-2-2zM986 1075l-3-1l-2 5l5 0zM1093 1068l-3 0l-3 3l0 4l-6 4l3 7l4 4l2-2l0-9l-2-3l5-5zM1098 1067l1 3l3 0l-1-3zM1069 1056l-4 3l2 1zM1078 1047l0 4l8-1l0-2l-4-3zM1051 1038l-1 3l6 3l2-3l-1-3zM989 1021l-7 8l2 5l6-3l-1-6l2-3zM1185 1017l5 2l0-3zM1199 996l-1 4l5 2l-1-5zM1019 991l-6 5l-5 1l-3 4l4 3l4-4l3 2l-5 5l1 6l-9 6l3 10l-11 9l1 2l6 0l-2 8l-3 1l-5-8l-6 2l0 4l11 8l0 2l-5 2l-2 3l6 12l0 4l-7 6l3 7l12 4l5 9l-2 2l-5-1l-3 2l3 9l-1 2l-2 0l-3-4l-3 0l-2 3l0 3l4 5l7-1l1 2l-14 11l0 6l5 2l4 7l-8 7l-5 1l0 3l2 1l5-2l6 3l18 1l4-3l12 3l11 0l5-3l10 2l7-4l-11-6l-3-6l2-10l-2-2l-9 1l-5-6l1-5l4 0l3 5l3-2l-5-2l-2-4l-3 0l-6-8l4-5l0-5l-2-2l2-4l9 6l4 0l5-3l1-6l-6-4l0-3l6-6l0-3l-8 0l-2-2l5-9l-4-5l-4 0l-3 7l-8-4l0-4l8-6l8 0l-5-9l2-6l-2-8l6-3l1-6l4-3l0-13l2-4l-4-5l-4 0l-2 2l-2 15l3 7l-3 3l-19 1l-3 3l0 3l-5 3l-2-7l16-14l2-7l-5-2l-2-15zM999 1153l3-1l6 5l-2 2l-4 0l-3-3zM1015 1144l2 4l-3 4l-2 0l0-6zM996 1135l1-1l2 3l-1 1zM1014 1117l4 2l-2 3l-4-2zM1026 1091l2-3l5 2l-3 3zM1019 1073l4-1l2 5l-4 1zM1010 1056l3 4l-9 8l-4 1l-1-8zM1009 972l-5 9l1 2l12 3l4-11l-1-2zM1198 937l-2 0l0 4l2-1zM1176 902l-2 4l6 3l1-4zM1153 897l-3 0l-2 4l3 3l8 0l-1 8l-4 1l-8-5l-3 0l-3 3l-6 0l-12 7l-5 1l-4 8l-5 4l0 5l-2 2l-7 0l0 5l6 8l0 3l-2 1l-2-3l-4 0l-7 6l1 4l8 5l0 4l-6 8l-4-2l-2 5l1 5l4 3l6-4l5 8l-6 9l-5-2l-2 3l3 2l11-1l4 3l-2 11l3 4l1 6l6 5l0 4l4 4l3 9l3 2l5 0l0-6l-6-8l4-6l5 3l13-2l2 2l-1 5l2 2l5 0l3-9l7-4l4-6l-2-2l0-9l4-3l6 5l5-1l-6-9l0-3l10-4l2-4l0-7l5-5l0-6l2-2l0-3l-6-6l0-5l5-5l0-3l-5-4l1-6l-4-5l-1-11l2-4l-7-6l-6 1l-3-4l-1-7l-3-3z"/><path d="M991 1137l-1 4l6 3l1-4l-3-3zM994 1116l-1 5l3 1l1-2zM1033 1106l-1 4l3-2zM1076 1093l-1 2l2 2l2-1l0-2zM1044 1066l-2 1l1 7l2 1l3-6zM993 1061l-1 2l3 4l2-5zM1039 1053l1 2l4 1l-1-4zM987 1044l2 4l4 0l-2-5zM1053 1039l0 3l4-1l-1-2zM1121 1038l2 11l5 3l2-4zM984 1029l0 3l2 0l1-3zM1048 1003l0 7l-4 4l2 7l4 2l2-2l0-15zM1017 995l-1 3l5 3l-7 6l1 6l-9 7l2 8l-4 7l4 7l-1 5l-7 5l0 5l3 1l5-4l4 2l7 0l1 2l-11 6l-6 7l-3 1l-2 7l-7 5l0 3l2 3l8-1l7 8l3 9l-2 2l-7-1l0 5l6 1l1 3l4-1l9 2l4 9l-4 2l-3-4l-6-1l-5-5l-3 9l-5 5l1 11l3 4l-1 3l3 3l3-1l1-12l3-4l4 1l2 11l-3 5l-10 8l-4 0l-6-5l-4 3l4 4l11 0l3 2l6 0l4-3l19 4l10-4l11 1l1-2l-5-2l-9-11l5-7l-1-2l-8 2l-8-5l-8 3l-5-1l3-5l8-2l2-3l-2-8l-9-4l3-3l-3-10l2-2l7 0l6-6l2 5l7 5l6-4l0-3l-10-8l2-5l4 1l3-4l-6 2l-5-1l-4-9l-8-6l0-5l7-6l-3-7l2-2l4 0l2-3l-3-13l-10-3l-5 2l-1 4l5 1l3 4l-12 1l-3 6l-5-6l2-4l0-8l11-7l4-5l-3-11l1-5l-4-2l-2-4zM1038 1148l7-2l2 3l-7 2zM1017 1090l3 1l0 5l4 5l-2 2l-7-8zM1024 1089l7-3l4 5l-7 4zM1020 1069l6 4l1 5l-3 2l-5-1l-2-3l0-4zM1009 975l-3 6l2 2l8 1l2-2l1-8zM1165 904l-4 1l-2 8l-8 4l-3-1l-2-6l-3 0l-4 3l-10 1l-13 8l-4 15l-3 3l-8 0l0 4l6 6l-1 6l-4 1l-2-3l-4 0l-4 3l0 4l9 5l-1 8l4 4l-2 2l-4-1l-8 2l-2 3l2 4l3 0l4-4l3 1l5 10l-4 7l5 2l3 4l-1 11l4 4l-1 4l6 4l3-4l7 3l3-3l5 8l6-2l9 1l1 7l3 0l2-6l8-7l-2-6l4-4l0-6l6-4l4 5l3 0l-1-4l-4-3l0-4l12-7l1-9l4-4l-1-6l3-3l-6-9l4-11l-3-5l1-5l-4-6l-2-11l-5 2l-2-2l0-5l-2 1l-5-3l1-5zM1114 1019l4 1l0 6l-6-3zM1133 1015l3-1l1 2l-2 2zM1168 992l3-1l1 2l-3 3zM1150 899l1 3l4-1l-1-2z"/><path d="M994 1159l1 2l4 1l-3-4zM1008 1161l5 4l5-2l2-3l5 3l12 2l14-4l7 1l-9-10l-10 1l-5-2l-1-3l7-5l-7-5l-11 3l-5 14zM1010 1122l-3 2l-1 5l-4 4l0 8l4 6l0 3l3-11l5-5l7 0l2-2l-7-7zM1027 1119l-1 4l2 5l4 1l0-7zM1023 1105l-5 6l-5-1l-1 3l8 2l4-6zM1043 1094l1 7l2 2l6-1l0-4zM1022 1092l0 3l6 5l4 0l3-3l-1-3l-8 2zM1124 1044l0 5l3 2l2-3zM1011 1044l-2 1l-2 6l-5 2l0 3l4-4l5 2l4-1zM1032 1031l-5 0l-2 2l12 8l-2 2l-15 0l-2 9l4 4l0 5l-2 2l-8 0l-5 7l6 6l-5 4l-2-2l-5 0l-9 7l1 3l4 0l2-3l3 0l2 2l0 5l5 4l1 5l3 2l3 0l1-2l-4-7l5-6l9-3l4 0l4 3l6 0l-5-15l-7-4l0-7l5-4l-4-5l5-8l4 1l2-3l-3-4l0-4zM1019 1067l8 5l3 7l-2 2l-8 0l-6-6zM1048 1012l-2 2l0 4l3 2l1-7zM1023 1004l-7 3l-1 9l-8 5l2 8l-3 6l2 2l3 0l0-8l4-6l5 0l6-5l0-7zM1095 982l-4 0l-1 4l4 0zM1011 976l-2 5l7 2l2-7zM1164 906l-2 1l0 6l-10 5l-4 0l-2-2l0-4l-2-1l-4 3l-11 1l-7 6l-3 0l-2 2l-5 18l-10 1l6 8l-1 6l-3 3l-2 0l-3-4l-3 0l-3 3l1 3l5 1l3 3l0 8l4 4l0 2l-5 4l0 4l8 10l-5 4l6 6l0 11l7-3l4 10l2 2l8-2l5 9l13-2l5 4l8-8l0-2l-5-3l-2-6l2-1l3 3l4-1l0-5l8-8l0-4l3-3l10-3l0-8l5-6l-3-4l3-6l-4-6l3-10l-2-6l1-6l-4-5l-1-7l-6 0l-3-7l-12-8l4-3l0-5zM1131 1014l6-2l2 5l-2 2l-4 0zM1172 989l3 3l-5 6l-2 0l-2-6zM1181 988l1 1l-3 2l-1-1zM1183 972l2 4l-4 3l-1-5z"/><path d="M1018 1158l-6 1l-2 4l5 1l3-3zM1022 1143l-2 14l5 5l17 2l11-4l-3-6l-15 0l-4-3l1-4l4-3l-3-5zM1013 1125l-3-1l-6 9l-1 8l2 3l5-8l7-5zM1046 1099l1 3l4-1l0-2zM1033 1096l-2 0l-1 3l3-1zM1000 1081l2 3l4-1l-1-3zM1014 1079l-2 1l-1 5l-6 5l0 2l6 4l0 4l2 1l2-1l-4-5l9-10l0-2zM1017 1064l-5 0l-2 2l0 4l4 1zM1024 1043l-3 2l0 7l3 3l-2 13l7 3l-1 3l4 5l-1 5l7 2l-3-13l-7-3l0-9l2-4l-3-4l5-4l1-5zM1029 1033l3 3l3 0l-1-3zM1010 1020l-1 5l3 0l1-4zM1019 1007l-2 2l-1 10l2 2l4 0l3-3l0-5l-2-6zM1184 993l-7 0l-3 3l7 0zM1012 977l-2 3l5 2l1-5zM1094 958l2 3l5-1l-2-4zM1143 913l-3 2l-12 1l-4 6l-4 0l-3 4l-3 16l-10 1l5 6l-2 9l-5 4l2 11l4 5l-6 5l0 5l10 9l-2 5l1 10l2 2l7 1l0 5l3 5l2 1l6-4l5 11l14-2l4 3l5-5l-4-9l-6 1l-6-6l2-2l4 3l5-2l2-3l8 0l6-7l0-3l-5-5l0-5l2-2l9-1l3-3l4 1l5-4l-1-3l-2 0l-5 5l-3-1l2-10l2-2l6 0l-2-4l2-8l0-16l-5-5l-4 1l-2-2l-2-11l-14-10l-13 3zM1129 1018l0-4l4-3l4 0l5 4l-5 6l-6 0z"/><path d="M1017 1160l-5 0l0 3l3 0zM1023 1143l-2 11l5 8l15 2l11-5l-3-4l-10 0l-5 2l-4-4l0-4l4-5l-1-4zM1011 1126l-6 9l0 6l9-10l0-3zM1016 1082l-2 0l-1 3l-7 5l2 3l3 0l6-7zM1030 1073l0 3l5 3l-2 4l3 2l-1-10zM1016 1066l-3-1l-2 3l3 1zM1026 1062l-3 3l1 3l3-1zM1032 1045l-3-2l-5 1l-2 2l1 5l7-1zM1152 1021l-1 9l3 3l3-3l-2-8zM1145 1019l-4 0l1 6l-2 2l-4-1l1 6l11-3l1-4zM1122 1017l0 5l3 2l2-5zM1149 1009l-2 3l4 2l2-3zM1020 1009l-3 9l5 2l2-2l-1-8zM1096 957l-1 1l3 2l1-2zM1130 916l-4 3l-2 5l-5 0l-1 8l-3 4l0 7l-3 2l-5-1l3 4l0 4l-3 8l-3 2l1 11l4 6l-6 4l0 5l11 10l-2 5l0 8l3 2l6 0l3-2l4 1l7-3l7 3l1-5l10-4l2-4l4 2l-2 3l1 5l5 1l2-2l-1-19l9-1l3-2l-1-5l3-7l6-6l0-5l2-3l0-16l-2-3l-5 0l-7-8l1-6l-6-6l-9-4l-6 3l-5 0l-4-4z"/><path d="M1023 1146l0 9l3 6l16 2l9-5l-12-2l-6 3l-4-5l0-5l4-5l-1-3l-6 1zM1012 1089l-4 0l-1 2l3 1zM1024 1045l-1 2l2 3l4 0l2-2l-1-4zM1156 1029l-2-1l-1 3zM1144 1021l0 7l2 0l1-2zM1020 1012l-2 6l4 1l1-5zM1159 1006l2 3l2-1l-1-3zM1167 922l-8-3l-10 2l-5-1l-3-3l-9-1l-5 3l0 4l-2 2l-3-1l-3 2l0 7l-3 3l1 6l-6 4l-3 14l-3 3l1 9l4 4l0 3l-7 6l1 4l7 4l8 8l-5 10l5 1l5-3l8 0l1-4l-5-3l1-2l3 0l8 5l8-1l6-6l4 0l5 3l1-7l-2-6l12-2l0-5l11-21l0-16l-7-2l-9-10l3-5zM1120 986l2 2l-1 6l-2-1z"/><path d="M1039 1157l-3 4l5 2l4-4zM1031 1141l-5 2l-2 3l0 8l3 6l4 0l-4-8l5-8zM1026 1045l-1 3l4 1l1-4zM1020 1014l-1 4l3 0l0-3zM1127 1006l1 2l3-1zM1123 1006l-4-1l-3 5l4 0zM1131 917l-3 2l0 4l-2 2l-6 1l1 7l-4 4l1 6l-6 4l-3 13l-3 4l0 5l5 6l0 4l-7 5l0 3l3 4l10 4l0-7l4-3l3 6l-2 7l10 1l9 5l7-1l5-6l5 0l4 3l1-7l-2-5l2-2l10-1l4-13l7-11l0-5l-2-2l2-10l-6-1l-5-7l-6-4l2-6l-3-4l-8-2l-8 2l-7-1l-7-4zM1112 968l2-2l2 1l-1 2zM1180 954l0 3l-3 2l-2-3z"/><path d="M1039 1158l-1 4l3 0l2-3zM1030 1142l-4 3l1 3l3-3zM1027 1045l-1 3l3 0zM1130 918l-1 6l-8 3l1 7l-3 3l0 6l-7 6l-4 20l6-5l4 4l-6 4l0 6l-7 6l0 4l3 3l7 2l2-7l4-2l5 8l-1 5l7 1l8 5l6 0l3-5l4-2l9 2l-2-11l2-2l10-1l11-23l0-4l-6 3l-3-4l8-5l2-4l-1-2l-5-1l-5-7l-6-3l-1-11l-24-1l-3-3z"/><path d="M1131 919l-1 5l-8 4l-2 16l-7 4l0 5l-3 9l2 2l3-1l4 6l-6 4l0 5l-8 8l3 4l6 2l3-8l4-1l3 3l4 11l4 0l11 6l3-1l3-6l10-1l2 2l-2-7l1-4l3-2l6 1l11-21l0-2l-5-2l-2-4l10-9l-4-1l-7-9l-6-3l0-9l-2-2l-21 1l-7-5z"/></g></g><g fill="none" stroke="#e63a26" stroke-opacity="0.85" stroke-width="4.3" stroke-linecap="round"><path d="M1062 810h0m12 13h0m-153 8h0m232 0h0m-26 26h0m40 2h0m-38 1h0m-77 2h0m111 2h0m-12 3h0m81 0h0m-86 8h0m-109 2h0m123 0h0m-10 1h0m8 5h0m-8 2h0m-35 2h0m4 3h0m30 0h0m-62 2h0m13 1h0m76 1h0m-173 1h0m152 0h0m37 1h0m-70 2h0m10 2h0m-4 1h0m19 0h0m-33 2h0m104 0h0m-126 1h0m39 0h0m6 0h0m76 2h0m-98 2h0m25 0h0m11 0h0m80 1h0m-119 1h0m62 1h0m-222 1h0m59 0h0m95 3h0m39 0h0m54 0h0m23 1h0m-220 1h0m-26 1h0m160 0h0m-126 2h0m96 0h0m16 0h0m66 0h0m-41 2h0m40 0h0m-143 1h0m41 0h0m51 0h0m76 0h0m5 0h0m-43 1h0m14 0h0m-47 1h0m-144 1h0m25 0h0m157 2h0m-69 1h0m101 0h0m-115 2h0m-88 1h0m206 0h0m-98 1h0m-118 1h0m51 0h0m92 0h0m33 0h0m-171 1h0m51 0h0m88 0h0m-24 1h0m39 1h0m-170 1h0m82 0h0m85 0h0m-54 1h0m54 0h0m25 0h0m22 0h0m-205 2h0m94 0h0m4 0h0m62 0h0m-169 1h0m66 0h0m76 1h0m-7 1h0m32 0h0m30 0h0m-141 2h0m97 0h0m-148 1h0m15 0h0m18 2h0m152 0h0m-182 1h0m138 0h0m-109 1h0m76 0h0m45 0h0m10 0h0m-169 1h0m44 1h0m9 0h0m62 0h0m23 0h0m36 0h0m-13 1h0m-137 1h0m93 0h0m70 0h0m-48 1h0m12 0h0m-125 1h0m78 0h0m43 0h0m74 0h0m-63 1h0m26 0h0m-57 1h0m56 0h0m40 0h0m-124 1h0m131 0h0m-94 1h0m25 0h0m0 0h0m77 0h0m-179 1h0m4 0h0m96 0h0m-187 1h0m213 0h0m20 0h0m11 0h0m-198 1h0m135 0h0m4 0h0m74 0h0m-56 1h0m-141 1h0m124 0h0m30 0h0m15 0h0m45 0h0m-211 1h0m2 0h0m58 0h0m38 0h0m19 0h0m-19 1h0m38 0h0m-144 1h0m110 0h0m-1 1h0m26 0h0m-116 1h0m144 1h0m-213 1h0m12 0h0m151 0h0m11 0h0m-95 2h0m19 0h0m161 0h0m-205 1h0m7 1h0m58 0h0m11 0h0m18 0h0m21 0h0m65 0h0m12 0h0m14 1h0m-104 1h0m34 0h0m-46 1h0m-73 1h0m126 0h0m1 0h0m-34 1h0m27 0h0m-151 1h0m140 0h0m-153 1h0m58 0h0m55 0h0m64 0h0m-174 1h0m3 0h0m218 0h0m-213 2h0m20 0h0m34 0h0m-20 1h0m20 0h0m48 0h0m109 0h0m-224 1h0m9 0h0m79 0h0m23 0h0m24 0h0m7 0h0m16 0h0m-175 1h0m10 0h0m46 0h0m61 1h0m2 0h0m-97 1h0m67 0h0m128 0h0m-27 1h0m-64 1h0m19 0h0m11 1h0m-134 2h0m66 0h0m28 0h0m38 0h0m-121 1h0m120 0h0m-130 1h0m42 0h0m41 0h0m102 0h0m19 0h0m-239 1h0m18 0h0m221 0h0m11 0h0m-191 1h0m80 0h0m-103 1h0m58 0h0m116 0h0m13 0h0m-146 2h0m15 0h0m-30 1h0m51 0h0m85 0h0m11 0h0m-107 1h0m1 0h0m-59 1h0m11 0h0m160 0h0m-115 1h0m15 0h0m57 0h0m42 0h0m-119 1h0m106 0h0m-61 1h0m34 0h0m14 0h0m47 1h0m14 0h0m-222 1h0m96 0h0m32 0h0m-146 1h0m88 0h0m30 1h0m13 0h0m26 0h0m27 0h0m-127 1h0m26 0h0m73 0h0m37 0h0m15 0h0m-34 1h0m-132 1h0m15 0h0m89 0h0m66 0h0m35 0h0m-167 1h0m80 0h0m-125 1h0m6 0h0m140 0h0m-65 1h0m36 1h0m42 0h0m-109 1h0m62 0h0m26 0h0m25 0h0m-178 1h0m85 0h0m-57 1h0m52 0h0m48 0h0m76 0h0m-66 1h0m-31 1h0m-83 1h0m86 0h0m45 0h0m25 0h0m-177 1h0m100 0h0m131 1h0m-254 1h0m60 0h0m49 1h0m4 1h0m81 0h0m7 0h0m20 0h0m-165 1h0m111 0h0m-144 1h0m48 0h0m54 0h0m14 1h0m39 0h0m-14 1h0m15 0h0m-58 1h0m-83 1h0m0 0h0m14 0h0m24 0h0m21 0h0m131 0h0m-229 1h0m34 0h0m70 0h0m-91 1h0m142 0h0m24 0h0m10 0h0m-152 1h0m100 0h0m62 0h0m-177 2h0m81 0h0m-31 1h0m6 0h0m47 0h0m57 0h0m-63 1h0m-104 1h0m85 0h0m99 0h0m1 0h0m53 0h0m-183 1h0m-16 1h0m108 0h0m-73 1h0m49 0h0m31 1h0m9 0h0m-3 1h0m20 0h0m-203 1h0m66 0h0m22 0h0m51 0h0m-101 2h0m72 0h0m50 0h0m6 0h0m-113 1h0m46 0h0m47 0h0m45 0h0m-181 1h0m30 0h0m3 0h0m125 0h0m-99 1h0m43 0h0m20 0h0m7 0h0m-64 1h0m17 0h0m41 0h0m26 0h0m30 0h0m-152 1h0m-29 1h0m143 0h0m-136 1h0m82 1h0m-35 1h0m41 0h0m88 1h0m-140 1h0m96 0h0m-128 1h0m202 0h0m-107 1h0m108 0h0m-139 1h0m93 0h0m5 0h0m-121 1h0m17 0h0m78 0h0m30 0h0m-59 1h0m40 1h0m4 0h0m-148 1h0m18 1h0m53 0h0m21 0h0m10 0h0m27 0h0m-142 1h0m51 0h0m95 0h0m33 2h0m-44 1h0m28 0h0m-136 3h0m16 0h0m20 0h0m45 0h0m64 0h0m-133 1h0m109 0h0m-69 1h0m77 0h0m-106 1h0m90 0h0m51 2h0m-169 1h0m103 0h0m-125 1h0m116 0h0m-93 1h0m71 1h0m79 0h0m-154 1h0m12 0h0m126 0h0m-159 1h0m74 0h0m4 0h0m64 0h0m19 0h0m-103 1h0m72 0h0m5 0h0m22 0h0m57 0h0m-162 1h0m108 0h0m-137 1h0m19 0h0m19 0h0m14 0h0m51 0h0m-83 2h0m-33 2h0m57 0h0m13 0h0m-53 1h0m-11 3h0m18 0h0m91 0h0m-60 2h0m6 0h0m-10 1h0m4 0h0m0 2h0m21 0h0m-85 2h0m39 1h0m-18 1h0m11 1h0m42 0h0m28 0h0m-99 3h0m45 0h0m37 2h0m0 2h0m-63 2h0m12 0h0m107 1h0m24 0h0m-115 4h0m46 0h0m-65 1h0m54 0h0m-68 1h0m26 0h0m23 0h0m6 0h0m30 0h0m-109 2h0m78 1h0m31 1h0m-44 2h0m-71 1h0m179 0h0m-18 2h0m2 1h0m10 1h0m-79 2h0m8 0h0m-57 2h0m14 0h0m121 0h0m-101 1h0m26 2h0m-54 1h0m56 0h0m7 0h0m-72 3h0m37 0h0m56 0h0m27 0h0m-28 1h0m-127 1h0m23 0h0m14 0h0m9 2h0m137 2h0m-15 2h0m-208 1h0m69 0h0m97 0h0m3 0h0m-109 2h0m29 0h0m35 0h0m-12 1h0m19 0h0m34 1h0m35 0h0"/><path d="M1109 764h0m-78 2h0m70 27h0m41 8h0m-170 20h0m-83 6h0m295 8h0m-46 14h0m-40 4h0m70 3h0m-28 2h0m-126 2h0m189 12h0m-169 6h0m4 1h0m3 1h0m-37 1h0m149 1h0m-84 1h0m-49 2h0m-13 2h0m2 0h0m-45 1h0m168 0h0m-6 1h0m61 1h0m-45 1h0m-38 1h0m21 1h0m-97 1h0m-17 2h0m135 0h0m-38 1h0m7 1h0m48 1h0m14 0h0m-180 1h0m33 0h0m142 0h0m-40 1h0m35 1h0m-177 1h0m156 0h0m40 0h0m-51 3h0m59 0h0m-84 2h0m9 0h0m-7 4h0m48 0h0m-8 1h0m10 0h0m34 0h0m-64 1h0m48 0h0m-153 1h0m95 0h0m48 0h0m39 1h0m-133 1h0m44 0h0m18 0h0m55 0h0m-187 1h0m152 0h0m50 1h0m7 0h0m-86 1h0m-42 1h0m-70 1h0m117 0h0m61 1h0m-54 1h0m67 0h0m-112 1h0m66 0h0m-73 3h0m-76 2h0m13 2h0m124 0h0m-147 1h0m48 2h0m84 0h0m33 1h0m-56 1h0m35 0h0m-57 1h0m121 0h0m-60 1h0m-77 1h0m54 0h0m20 0h0m-78 1h0m-30 1h0m40 0h0m131 0h0m-118 1h0m66 1h0m-148 1h0m99 0h0m48 1h0m-183 1h0m56 0h0m17 0h0m78 0h0m5 0h0m9 0h0m10 0h0m-120 1h0m91 0h0m69 0h0m-199 1h0m117 1h0m71 0h0m-173 1h0m81 0h0m64 0h0m-5 2h0m48 0h0m0 0h0m-135 1h0m133 0h0m-161 1h0m20 0h0m66 0h0m17 0h0m13 0h0m-125 1h0m88 1h0m30 0h0m35 0h0m-135 1h0m108 0h0m5 0h0m38 1h0m-202 2h0m59 0h0m123 0h0m-19 1h0m28 0h0m-179 1h0m130 0h0m-48 1h0m3 0h0m10 0h0m-47 1h0m28 0h0m24 0h0m-36 1h0m24 0h0m26 0h0m4 0h0m9 0h0m13 0h0m14 0h0m12 0h0m43 0h0m-159 1h0m113 0h0m-76 1h0m85 1h0m-191 1h0m22 0h0m154 0h0m78 0h0m-64 1h0m53 0h0m-226 1h0m132 1h0m55 0h0m-193 1h0m108 0h0m22 0h0m66 0h0m-80 1h0m108 0h0m-153 1h0m118 0h0m-38 1h0m40 0h0m-96 1h0m-6 1h0m8 0h0m-97 1h0m8 0h0m50 0h0m145 0h0m-190 1h0m106 0h0m-74 1h0m160 0h0m-189 1h0m168 0h0m-108 1h0m131 0h0m-180 1h0m136 0h0m-170 1h0m37 0h0m-10 3h0m146 0h0m-139 2h0m178 0h0m-44 1h0m66 0h0m-232 1h0m53 0h0m3 1h0m64 0h0m16 0h0m52 0h0m27 0h0m17 0h0m-249 2h0m86 0h0m15 0h0m-81 1h0m58 0h0m113 0h0m45 0h0m-229 1h0m173 0h0m-57 1h0m44 0h0m8 1h0m83 0h0m-253 1h0m42 0h0m-34 1h0m60 1h0m158 0h0m-82 1h0m13 0h0m82 0h0m-229 1h0m65 0h0m79 0h0m55 0h0m8 0h0m-39 1h0m-156 2h0m52 0h0m-68 1h0m4 0h0m17 0h0m40 0h0m89 0h0m52 0h0m-212 1h0m49 0h0m113 0h0m36 0h0m6 0h0m-28 1h0m-157 1h0m41 1h0m18 0h0m76 0h0m68 0h0m-217 1h0m162 0h0m-134 1h0m172 0h0m-171 1h0m131 0h0m-136 1h0m91 0h0m117 0h0m-125 1h0m61 0h0m36 0h0m6 0h0m-142 1h0m45 0h0m50 0h0m-160 1h0m149 0h0m10 0h0m16 1h0m-11 1h0m24 1h0m24 0h0m7 0h0m-208 1h0m197 0h0m-189 1h0m37 0h0m7 0h0m128 0h0m-158 1h0m-19 1h0m25 0h0m125 0h0m-157 1h0m23 2h0m67 0h0m99 0h0m-159 1h0m158 0h0m-137 1h0m-40 1h0m156 1h0m-145 1h0m-38 1h0m45 0h0m140 0h0m-99 2h0m63 0h0m-81 1h0m93 0h0m28 0h0m-63 1h0m-38 1h0m1 0h0m8 0h0m38 0h0m13 1h0m36 0h0m3 1h0m-185 1h0m81 1h0m35 0h0m8 0h0m20 0h0m25 0h0m19 0h0m-26 1h0m24 0h0m-43 2h0m44 0h0m-72 1h0m50 0h0m-120 1h0m62 0h0m44 0h0m66 0h0m-182 1h0m136 1h0m-60 1h0m20 0h0m77 1h0m-157 1h0m-44 1h0m9 0h0m121 0h0m-130 1h0m42 0h0m12 0h0m61 0h0m85 0h0m-193 1h0m129 0h0m71 0h0m35 0h0m-71 1h0m10 0h0m-147 1h0m51 0h0m63 0h0m92 1h0m-174 1h0m24 2h0m-75 1h0m56 0h0m45 1h0m71 0h0m-65 1h0m47 0h0m-132 1h0m15 1h0m-45 1h0m12 0h0m124 1h0m-132 1h0m8 0h0m30 0h0m129 0h0m-39 1h0m-72 1h0m52 1h0m-58 1h0m-65 1h0m7 0h0m76 0h0m-42 1h0m43 0h0m1 0h0m76 0h0m-127 1h0m-46 1h0m241 0h0m-156 1h0m63 0h0m-20 1h0m-60 1h0m62 0h0m-147 1h0m43 1h0m58 0h0m23 0h0m-66 1h0m28 0h0m4 0h0m49 0h0m32 0h0m-58 1h0m51 0h0m19 1h0m-144 1h0m131 0h0m-148 1h0m68 0h0m-60 1h0m56 0h0m-46 1h0m64 0h0m46 0h0m67 0h0m-61 1h0m-86 1h0m29 0h0m-27 1h0m79 0h0m34 0h0m21 0h0m31 0h0m-200 1h0m134 0h0m-108 3h0m71 0h0m-89 4h0m94 0h0m-94 1h0m-14 1h0m201 0h0m-79 2h0m35 1h0m-42 1h0m-153 1h0m106 0h0m-58 1h0m76 0h0m-35 1h0m40 0h0m19 0h0m11 0h0m-163 1h0m149 0h0m-62 1h0m26 0h0m90 0h0m-120 1h0m2 1h0m96 0h0m-141 1h0m50 0h0m86 0h0m-33 2h0m36 1h0m-142 1h0m72 0h0m58 0h0m-125 2h0m26 0h0m39 0h0m0 0h0m-21 1h0m49 0h0m-14 1h0m49 0h0m5 0h0m-108 1h0m62 0h0m27 0h0m-49 1h0m-49 1h0m62 0h0m-29 1h0m18 0h0m-5 1h0m26 0h0m-94 1h0m4 1h0m114 1h0m-38 1h0m11 1h0m79 0h0m-83 1h0m-51 1h0m-11 1h0m17 0h0m117 0h0m-151 2h0m136 0h0m-102 1h0m111 0h0m-116 1h0m36 0h0m32 0h0m-87 1h0m94 0h0m-38 1h0m52 0h0m-113 1h0m34 0h0m41 0h0m3 0h0m-50 2h0m13 1h0m55 0h0m-97 3h0m89 0h0m-7 1h0m-69 3h0m15 0h0m15 1h0m82 0h0m-136 1h0m101 0h0m-115 2h0m96 0h0m-72 1h0m8 0h0m32 0h0m112 0h0m-165 1h0m36 0h0m4 0h0m-22 1h0m13 0h0m16 0h0m7 0h0m66 1h0m97 2h0"/><path d="M1298 781h0m-114 38h0m-214 7h0m11 2h0m198 23h0m-155 2h0m108 2h0m60 5h0m-167 4h0m-10 1h0m2 0h0m136 1h0m0 4h0m18 3h0m21 0h0m-163 1h0m93 1h0m0 4h0m22 0h0m-128 1h0m140 2h0m-128 1h0m163 1h0m-180 1h0m154 3h0m-150 4h0m98 0h0m24 6h0m-115 1h0m216 1h0m-236 1h0m22 1h0m141 0h0m5 1h0m5 0h0m-130 1h0m-23 1h0m29 0h0m104 0h0m55 3h0m-88 1h0m59 2h0m-86 1h0m51 2h0m2 0h0m32 0h0m34 0h0m-14 1h0m-133 1h0m-38 1h0m98 1h0m-114 1h0m159 0h0m44 0h0m19 1h0m-105 1h0m-124 1h0m113 0h0m73 0h0m-81 2h0m33 0h0m7 0h0m11 0h0m-39 1h0m4 0h0m98 1h0m-73 3h0m63 0h0m-214 1h0m36 0h0m68 0h0m94 0h0m-189 1h0m73 0h0m96 0h0m-14 1h0m6 0h0m20 0h0m-99 1h0m-74 1h0m133 0h0m-127 1h0m110 0h0m-140 1h0m90 0h0m33 0h0m59 0h0m-16 1h0m-73 1h0m127 0h0m-140 1h0m57 0h0m-131 1h0m201 0h0m-160 1h0m106 0h0m4 0h0m66 0h0m-191 1h0m115 0h0m7 0h0m5 0h0m5 0h0m37 0h0m-212 1h0m174 0h0m-26 1h0m108 1h0m-217 1h0m18 0h0m26 0h0m32 0h0m36 0h0m-152 1h0m131 0h0m36 0h0m18 0h0m34 0h0m22 0h0m-59 1h0m-51 1h0m16 0h0m14 1h0m15 0h0m-61 1h0m102 1h0m-113 1h0m4 0h0m69 0h0m18 0h0m0 0h0m12 1h0m-151 1h0m104 0h0m8 0h0m-177 1h0m124 0h0m41 0h0m-11 1h0m79 1h0m-216 1h0m17 0h0m-33 1h0m255 0h0m-250 1h0m152 0h0m20 0h0m-112 1h0m82 0h0m-101 1h0m54 0h0m73 1h0m58 0h0m-211 1h0m88 0h0m66 0h0m28 0h0m-140 1h0m160 0h0m-159 1h0m-26 1h0m99 0h0m34 0h0m-117 1h0m109 0h0m69 0h0m-137 1h0m33 2h0m30 0h0m11 0h0m55 0h0m19 0h0m-14 1h0m-171 1h0m103 0h0m6 1h0m-106 1h0m37 1h0m-94 1h0m119 1h0m-83 1h0m195 0h0m12 1h0m-156 1h0m61 0h0m3 0h0m47 0h0m-140 1h0m94 0h0m33 0h0m-151 1h0m119 1h0m38 0h0m-133 1h0m113 0h0m33 0h0m5 0h0m-198 1h0m9 0h0m147 0h0m7 0h0m49 0h0m29 0h0m-221 1h0m129 0h0m105 0h0m-228 1h0m178 0h0m-60 1h0m5 0h0m21 0h0m-111 1h0m152 1h0m-188 1h0m154 0h0m16 0h0m-176 2h0m28 0h0m133 0h0m-65 2h0m25 0h0m21 0h0m34 0h0m45 0h0m-240 1h0m155 0h0m-69 1h0m14 0h0m-121 1h0m56 0h0m14 0h0m56 0h0m-46 1h0m-56 1h0m166 0h0m62 0h0m-184 1h0m18 0h0m24 0h0m31 0h0m9 0h0m72 0h0m38 0h0m-69 1h0m-109 1h0m35 0h0m-82 1h0m22 0h0m75 0h0m67 0h0m-192 1h0m101 0h0m7 0h0m12 0h0m13 0h0m-72 1h0m158 1h0m16 0h0m-197 1h0m11 1h0m15 1h0m40 0h0m-67 1h0m63 1h0m-85 1h0m63 0h0m86 0h0m-76 1h0m-54 1h0m-25 1h0m28 0h0m65 0h0m84 0h0m18 0h0m-58 1h0m-108 1h0m67 0h0m92 0h0m50 0h0m-141 1h0m33 0h0m-114 1h0m23 1h0m161 0h0m-144 1h0m22 0h0m78 0h0m-135 1h0m204 0h0m-251 1h0m45 0h0m67 0h0m52 0h0m-129 1h0m16 0h0m22 0h0m20 0h0m-60 1h0m194 0h0m-100 2h0m12 0h0m54 1h0m-77 1h0m3 0h0m76 0h0m27 0h0m-195 1h0m-2 1h0m29 0h0m48 0h0m40 0h0m25 0h0m0 0h0m48 0h0m-120 1h0m39 0h0m17 1h0m54 0h0m-69 1h0m62 1h0m-170 1h0m39 0h0m6 0h0m74 0h0m20 0h0m9 2h0m-133 1h0m90 0h0m17 0h0m-127 1h0m7 1h0m7 0h0m26 0h0m28 0h0m74 0h0m83 0h0m-138 2h0m-55 1h0m112 0h0m35 0h0m-123 1h0m33 1h0m34 0h0m-59 1h0m44 0h0m7 0h0m-107 1h0m25 0h0m22 0h0m65 0h0m8 0h0m30 0h0m-161 1h0m16 0h0m54 0h0m73 0h0m121 0h0m-242 1h0m47 0h0m59 0h0m-23 1h0m-69 1h0m44 0h0m92 0h0m-139 1h0m48 0h0m82 0h0m13 0h0m45 0h0m-86 2h0m61 0h0m-84 1h0m3 0h0m77 0h0m-164 1h0m92 0h0m25 0h0m14 0h0m2 0h0m-148 2h0m90 0h0m21 0h0m69 0h0m-158 1h0m44 0h0m1 0h0m111 1h0m29 0h0m-163 1h0m-93 1h0m195 0h0m-98 2h0m46 1h0m30 0h0m-83 1h0m50 0h0m85 0h0m-127 1h0m21 0h0m119 0h0m-43 2h0m48 0h0m-211 1h0m73 0h0m2 0h0m33 1h0m59 0h0m-122 1h0m85 0h0m-132 1h0m69 0h0m-32 1h0m137 0h0m16 0h0m-180 4h0m37 1h0m123 0h0m-149 1h0m118 0h0m-27 1h0m11 0h0m-8 1h0m-84 1h0m86 1h0m55 0h0m2 2h0m-117 1h0m93 0h0m-49 1h0m-5 1h0m116 0h0m-108 1h0m13 0h0m6 0h0m-95 1h0m97 0h0m-86 1h0m-6 1h0m13 0h0m-33 1h0m57 0h0m76 2h0m-43 1h0m6 1h0m-40 1h0m113 0h0m-176 1h0m31 0h0m124 0h0m-36 2h0m63 0h0m-137 1h0m6 0h0m31 0h0m-77 1h0m88 0h0m-12 1h0m23 0h0m43 0h0m19 0h0m-132 1h0m28 0h0m44 0h0m-99 2h0m11 0h0m6 2h0m77 0h0m-23 1h0m75 0h0m-149 1h0m81 0h0m-64 2h0m31 1h0m-26 1h0m73 0h0m28 0h0m47 0h0m-120 1h0m9 0h0m51 0h0m-8 1h0m-3 2h0m57 0h0m-76 1h0m35 0h0m9 0h0m1 0h0m22 0h0m-138 1h0m56 3h0m-35 1h0m68 0h0m52 0h0m-130 1h0m42 0h0m5 0h0m-59 1h0m-33 1h0m108 1h0m36 0h0m-89 2h0m20 1h0m92 0h0m-134 1h0m93 0h0m22 0h0m-90 1h0m84 1h0m-122 1h0m11 0h0m162 1h0m-146 1h0m19 0h0m-20 2h0m-9 1h0m40 1h0m-7 3h0m-67 1h0m38 1h0m25 0h0m27 0h0m31 0h0m46 0h0m27 0h0m27 2h0m-152 1h0m37 0h0m7 0h0m-1 1h0m-79 1h0m112 0h0m-29 1h0m177 0h0m-294 1h0m24 1h0m80 1h0m-94 1h0m22 0h0m36 0h0m-50 1h0"/><path d="M1117 797h0m-122 11h0m138 11h0m39 4h0m-132 5h0m-55 16h0m17 1h0m194 0h0m-68 1h0m-121 1h0m-10 2h0m100 6h0m68 6h0m17 4h0m-34 1h0m12 2h0m11 1h0m0 1h0m-4 1h0m13 1h0m-39 2h0m48 0h0m-15 1h0m-2 1h0m12 3h0m-154 2h0m-29 2h0m156 0h0m17 0h0m-168 1h0m123 0h0m49 1h0m-149 1h0m123 5h0m-159 3h0m70 0h0m66 0h0m30 0h0m-151 2h0m157 0h0m-107 3h0m71 2h0m26 0h0m22 0h0m-135 3h0m155 0h0m-51 1h0m-41 1h0m80 0h0m-19 1h0m32 0h0m6 0h0m-181 1h0m80 0h0m92 0h0m1 2h0m-1 2h0m-155 1h0m76 0h0m69 0h0m-67 1h0m55 1h0m-175 1h0m28 0h0m85 0h0m38 0h0m22 0h0m-83 2h0m39 0h0m28 0h0m-53 1h0m-118 1h0m181 0h0m6 0h0m-73 1h0m14 2h0m29 0h0m-17 2h0m55 0h0m32 0h0m-209 1h0m168 0h0m-162 2h0m42 0h0m38 0h0m-90 1h0m146 0h0m12 0h0m20 0h0m46 1h0m-176 1h0m84 0h0m-143 1h0m159 0h0m-1 1h0m11 0h0m30 0h0m8 0h0m-166 2h0m127 0h0m54 0h0m-161 2h0m52 1h0m8 0h0m18 0h0m49 0h0m-166 1h0m127 0h0m53 0h0m-185 1h0m104 0h0m29 0h0m55 0h0m21 0h0m-216 1h0m69 0h0m51 0h0m15 0h0m-125 1h0m125 0h0m1 0h0m6 0h0m54 0h0m-120 2h0m144 0h0m-244 1h0m78 0h0m103 1h0m-161 1h0m132 0h0m-31 2h0m60 0h0m-147 1h0m99 0h0m35 0h0m2 0h0m-23 1h0m46 0h0m49 1h0m-193 1h0m66 0h0m68 0h0m-69 1h0m21 0h0m35 0h0m-150 1h0m13 0h0m140 0h0m-171 1h0m125 0h0m35 0h0m47 0h0m-116 1h0m72 0h0m2 0h0m-154 1h0m233 0h0m-111 1h0m37 0h0m-112 1h0m111 0h0m-123 1h0m126 0h0m55 0h0m-102 1h0m33 0h0m-150 1h0m157 0h0m11 0h0m15 0h0m-140 1h0m105 0h0m-130 1h0m125 0h0m33 0h0m-22 1h0m44 0h0m-14 1h0m-165 1h0m-8 1h0m75 0h0m82 0h0m41 0h0m9 0h0m3 0h0m-39 1h0m23 0h0m-37 1h0m45 0h0m-99 1h0m27 0h0m79 0h0m30 0h0m-238 1h0m95 1h0m27 1h0m17 0h0m12 0h0m26 0h0m10 0h0m-155 1h0m134 0h0m8 0h0m-140 1h0m126 0h0m52 0h0m15 0h0m-226 1h0m46 0h0m44 1h0m40 0h0m11 0h0m-3 1h0m24 0h0m17 0h0m-176 1h0m-33 1h0m101 0h0m70 0h0m46 1h0m22 0h0m-142 1h0m121 0h0m40 0h0m-95 1h0m3 0h0m29 0h0m23 0h0m-155 1h0m20 0h0m88 0h0m47 0h0m-183 1h0m71 0h0m-99 1h0m57 0h0m106 0h0m52 0h0m15 0h0m7 0h0m-150 1h0m106 0h0m-99 1h0m21 0h0m2 0h0m63 0h0m10 1h0m18 0h0m40 0h0m33 0h0m-61 1h0m-150 1h0m156 0h0m-197 1h0m107 0h0m32 0h0m52 0h0m-94 1h0m120 0h0m-81 1h0m-124 1h0m120 0h0m-58 1h0m61 0h0m44 0h0m-153 1h0m42 0h0m76 0h0m17 0h0m13 1h0m27 0h0m-198 2h0m49 0h0m77 0h0m8 0h0m120 0h0m-290 1h0m115 0h0m15 0h0m6 0h0m-95 1h0m61 0h0m42 1h0m90 0h0m-165 1h0m110 0h0m13 0h0m62 0h0m-181 1h0m48 0h0m55 0h0m46 0h0m3 0h0m23 0h0m-80 1h0m7 0h0m42 0h0m-154 2h0m23 0h0m40 1h0m13 0h0m47 0h0m-90 1h0m37 0h0m31 1h0m-161 1h0m36 0h0m58 0h0m55 0h0m8 0h0m25 0h0m6 0h0m-63 1h0m-84 2h0m169 0h0m-161 1h0m40 0h0m3 0h0m28 0h0m-56 1h0m130 1h0m25 1h0m-92 2h0m14 0h0m59 0h0m-145 1h0m182 0h0m-67 1h0m41 0h0m-4 2h0m-111 1h0m-62 1h0m11 0h0m92 0h0m70 0h0m-145 1h0m26 0h0m77 1h0m-14 1h0m97 0h0m-191 1h0m82 0h0m24 0h0m52 0h0m-196 1h0m12 0h0m4 0h0m100 0h0m53 0h0m-83 2h0m14 0h0m68 0h0m3 0h0m-249 1h0m156 0h0m-24 1h0m53 1h0m6 0h0m10 1h0m-124 2h0m149 0h0m-137 2h0m53 0h0m150 0h0m-209 1h0m23 0h0m37 0h0m47 0h0m18 0h0m36 0h0m34 0h0m-237 1h0m68 0h0m75 0h0m47 0h0m70 0h0m-69 1h0m-168 1h0m68 1h0m-38 1h0m61 0h0m74 0h0m-177 1h0m28 0h0m4 0h0m12 2h0m45 0h0m81 0h0m-63 2h0m-32 1h0m-13 2h0m19 0h0m42 1h0m69 1h0m-48 1h0m96 0h0m-212 1h0m14 1h0m30 0h0m-57 1h0m29 0h0m10 0h0m148 0h0m-82 1h0m43 0h0m-110 1h0m-6 1h0m113 0h0m1 0h0m-146 1h0m39 0h0m75 0h0m11 0h0m-70 1h0m119 0h0m-155 1h0m76 0h0m-56 1h0m84 0h0m20 0h0m-115 1h0m49 0h0m85 0h0m18 1h0m2 0h0m-68 1h0m4 0h0m-65 1h0m25 0h0m70 0h0m-143 1h0m25 1h0m58 0h0m-69 1h0m130 0h0m-55 2h0m1 0h0m37 1h0m1 0h0m11 0h0m-128 1h0m168 1h0m-4 1h0m-186 1h0m24 0h0m206 0h0m-143 1h0m-7 4h0m5 0h0m17 0h0m-102 1h0m15 0h0m59 0h0m91 0h0m-82 1h0m-39 1h0m21 0h0m67 0h0m12 0h0m-92 1h0m8 0h0m79 0h0m10 0h0m-137 1h0m26 0h0m52 0h0m43 0h0m-58 1h0m11 0h0m47 0h0m-81 1h0m-26 1h0m-56 1h0m67 1h0m105 0h0m-19 1h0m-130 1h0m69 0h0m18 0h0m59 2h0m-36 1h0m35 0h0m9 1h0m-57 2h0m-51 1h0m103 0h0m-96 1h0m-38 1h0m124 1h0m-8 1h0m-90 1h0m-23 1h0m26 0h0m6 1h0m23 0h0m27 0h0m-75 1h0m32 0h0m14 0h0m78 0h0m-130 1h0m73 0h0m53 1h0m8 0h0m-93 1h0m19 0h0m-29 1h0m15 0h0m23 0h0m-74 2h0m96 0h0m78 0h0m-117 1h0m110 0h0m-83 1h0m28 0h0m-108 1h0m48 0h0m58 0h0m35 0h0m-109 1h0m45 0h0m-61 1h0m106 0h0m-74 1h0m-29 2h0m17 0h0m59 0h0m17 0h0m15 1h0m-6 2h0m-71 3h0m17 0h0m27 0h0m69 0h0m-28 1h0m-128 2h0m78 0h0m23 1h0m-24 2h0m19 0h0m-105 1h0m98 0h0m-33 3h0m30 2h0m-17 2h0m44 0h0m-135 2h0m41 0h0m-8 1h0m7 3h0m37 0h0m55 0h0m2 0h0m-60 1h0m26 0h0m-1 1h0m35 0h0m-128 2h0m51 0h0m25 0h0m49 0h0m-38 1h0m-102 1h0m58 0h0m122 0h0m-270 20h0"/></g>
<line x1="868.5" y1="1115.8" x2="1276.6" y2="925.5" stroke="#000" stroke-width="3.8"/>
</g>
<rect x="846.4" y="690.4" width="533.0" height="494.8" fill="none" stroke="#333" stroke-width="2.2"/>
<path d="M837.4 1163.4H846.4M837.4 1013.0H846.4M837.4 862.5H846.4M837.4 712.1H846.4M977.0 1185.2V1194.2M1111.3 1185.2V1194.2M1246.4 1185.2V1194.2" stroke="#333" stroke-width="4.4" fill="none"/>
<text x="833.6" y="1176.8" font-size="39.5" fill="#4d4d4d" stroke="#4d4d4d" text-anchor="end">0</text>
<text x="833.6" y="1026.4" font-size="39.5" fill="#4d4d4d" stroke="#4d4d4d" text-anchor="end">5</text>
<text x="833.6" y="875.9" font-size="39.5" fill="#4d4d4d" stroke="#4d4d4d" text-anchor="end">10</text>
<text x="833.6" y="725.5" font-size="39.5" fill="#4d4d4d" stroke="#4d4d4d" text-anchor="end">15</text>
<text x="977.0" y="1227.7" font-size="39.5" fill="#4d4d4d" stroke="#4d4d4d" text-anchor="middle">5</text>
<text x="1111.3" y="1227.7" font-size="39.5" fill="#4d4d4d" stroke="#4d4d4d" text-anchor="middle">7.5</text>
<text x="1246.4" y="1227.7" font-size="39.5" fill="#4d4d4d" stroke="#4d4d4d" text-anchor="middle">10</text>
<text x="865.3" y="730.7" font-size="46" fill="#1a1a1a" stroke="#1a1a1a">Pearson r = 0.41</text>
<text x="865.3" y="773.0" font-size="46" fill="#1a1a1a" stroke="#1a1a1a">p &lt; 2.2e-16</text>
<text x="718" y="688.4" font-size="53" font-weight="bold" fill="#000">e</text>
<text x="920.8" y="1269" font-size="46" fill="#1a1a1a" stroke="#1a1a1a">log<tspan font-size="27.5" dy="15">2</tspan><tspan dy="-15">(AD) [H3K9ac]</tspan></text>
<text transform="translate(784.9,1107.7) rotate(-90)" x="0" y="0" font-size="46" fill="#1a1a1a" stroke="#1a1a1a">log<tspan font-size="27.5" dy="15">2</tspan><tspan dy="-15">(AD) [RNA]</tspan></text>
</g>
<g id="pf">
<clipPath id="cf"><rect x="1555.1" y="690.4" width="531.5" height="494.8"/></clipPath>
<g clip-path="url(#cf)">
<g clip-path="url(#gf)"><g fill="#707070" fill-opacity="0.13" filter="url(#bl4)"><path d="M1892 881l-42-20l-11-1l-50 18l-21 22l-15 8l-18 20l-8 3l-17 0l-9 4l-3 20l-10 21l-3 31l-16 31l4 31l-6 19l5 31l-5 35l4 8l126 0l11-17l0-27l6-14l69-52l38-64l1-16l-11-31l-2-32l-7-16z"/><path d="M1877 895l-32-12l-15 0l-14 4l-28 17l-26 30l-33 19l-25 37l-4 26l-11 22l1 26l-5 27l2 36l-4 24l8 11l88 0l8-16l2-46l8-15l12-13l47-21l14-13l30-49l5-15l-8-50z"/><path d="M1863 906l-12-5l-17-1l-30 14l-11 11l-10 26l-16 17l-12 25l-21 15l-12 15l-12 38l-6 36l4 28l-1 24l10 12l32 1l14-10l7-34l-6-40l21-40l7-5l34 3l18-4l12-8l28-35l8-25l-4-28l-10-17z"/><path d="M1853 916l-18-1l-15 5l-10 8l-8 14l-5 20l1 14l13 23l10 8l13 1l22-8l16-14l7-13l2-18l-4-16l-14-18z"/><path d="M1847 926l-14 1l-10 5l-8 9l-5 15l1 13l7 12l9 7l10 3l20-6l8-8l5-11l1-10l-4-15l-7-9z"/></g></g><g clip-path="url(#gf)"><g fill="#e8231f" fill-opacity="0.2" filter="url(#bl3)"><path d="M1804 1071l-1 5l5 1l1-5zM1759 932l-1 5l5 1l1-5zM1873 898l-18-3l-1-8l-4 0l-3 3l-6 0l-4-4l-4 0l-5 5l-3 0l-5-5l-4 0l-2 3l1 8l-4 8l-6 3l-5 0l-2-2l1-6l-5-1l-1 5l4 3l-7 7l-8 0l-4 8l-8 1l0 4l9 5l5 17l-1 3l-4 1l-4-5l-6-1l-5 2l-4 6l-8 0l-4-4l-10-4l-7 2l-6 9l0 8l2 2l4 0l5-6l7-1l2 2l-1 6l-13 9l-9-1l-5 4l0 7l7 6l-1 1l-8 0l-10 7l-4-2l-5 1l0 4l6 1l5 6l7 0l4-8l4-2l4 4l-1 7l-8 1l-6 8l-9 5l-3 6l-8 0l-7 3l0 4l4 3l11-3l6 6l-1 2l-5 0l-4 3l0 4l3 3l-2 7l0 17l2 5l-2 3l-6 1l-4 5l3 6l8 1l-6 14l1 4l10 4l-2 5l-7 0l-4 3l-6 1l0 9l-3 9l7 7l3 6l6 2l27 0l4 2l28-1l8-3l8 0l8-16l0-6l-7-1l-2-2l8-9l1-9l6-5l-1-11l-10-11l-2-8l4-3l10 5l4 0l7-7l-1-6l-11-3l-5-7l1-3l4-1l3 3l8-1l4-5l0-5l-2-3l1-4l8 6l8 10l6-1l6-6l5 2l5-1l4-8l5-5l9-3l3 8l5-1l0-4l-3-3l-1-15l4-1l6 6l5-1l0-4l-3-4l1-9l-3-5l5-6l7-3l7-6l0-8l6-11l0-8l7-2l0-4l-4-3l0-6l-4-5l1-4l-4-6l0-2l6-4l2-5l-3-4l-11-5l-4 0l-2 2l-4-2l2-8zM1821 1043l7-1l2 2l-4 8l-6-4l-1-3zM1793 997l1 4l-5 3l-2-3l1-2zM1848 893l4 2l-3 4l-3-1z"/><path d="M1695 1093l-6 2l1 5l4 0l2-2zM1776 1079l2 4l11 2l5-4l0-3l-9-1l-4-3zM1688 1039l4 0l1-2l-4 0zM1714 1001l-7 2l-1 5l2 2l5 0l2-2zM1745 954l-7-5l-5 1l-2 7l-4 3l1 5l2 0l4-6l8 0zM1863 899l-9-1l-5 4l-5 1l-3-8l-7-3l-11 2l-5-4l0 4l5 6l0 4l-3 3l-8 0l-4 3l-10 1l-3 4l0 6l-10-5l-2 2l1 4l-4 5l3 11l4 2l-2 5l3 7l-2 2l-8 2l-4-6l-6 0l-2 5l3 12l-3 3l-4-2l1-6l-3-4l-10-1l-3 4l1 8l-2 5l-8 1l-6 8l-5-4l-4 0l-4 3l0 5l6 3l9 9l1 4l-7 4l-1 3l2 8l-2 3l-2 0l-4-5l-5 3l-3 7l8 4l-1 4l-4 4l-4 1l-5-9l-4 3l0 6l8 9l-6 4l-6 0l1 2l4 1l-5 13l4 4l6-1l2 5l-5 3l-4-5l-4 4l2 13l4 4l-7 13l-3 12l9 1l3 3l-2 11l4 5l-3 3l-7-10l-4 1l0 8l2 2l8 1l1 5l-2 3l-8-1l-6-7l-4 1l-2 6l5 4l4 7l4 1l5-3l7 4l25 2l22-1l15-4l3-4l0-6l3-5l-7-2l-1-7l9-10l-2-7l8-7l-2-7l-11-14l1-18l6-5l2-11l2-2l3 1l5 5l4 0l4-3l0-6l-4-5l7-12l4 3l1 9l6 4l3 6l5 1l4-3l0-4l-9-8l5-4l9-1l5-4l2 3l-2 3l0 6l-3 4l2 3l3 0l2-6l5-4l2-5l6 0l7-3l-3-14l3-2l10 1l2-6l-5-6l7-10l14-7l1-9l5-9l0-13l3-5l0-6l-4-3l1-7l-4-6l1-3l7-5l0-3l-3-2l-9 0l-4 2l-8-7l2-8l-3-2l-5 3l-3-3l2-6zM1748 1096l4-3l4 3l0 2l-6 1zM1757 1076l1 3l-3 3l-3 0l0-3zM1762 1055l13-1l1 2l-9 7zM1720 1052l4-4l3 0l2 7l-8 1zM1811 1029l-8 6l-8-1l-2-2l3-2l5 0l5-4zM1780 1026l5-2l2 4l-6 1zM1790 994l5 2l2 3l0 3l-5 4l-7-3l1-6zM1743 996l10-5l4 8l-2 2l-5 0zM1755 980l0 3l-4 3l-9-2l8-8z"/><path d="M1688 1147l-3 5l9 10l4-6zM1696 1138l0 4l4 0l0-3zM1692 1095l-1 3l3 0l0-3zM1778 1079l1 3l9 0l3-2l-10-3zM1776 1060l-5 1l-4 12l5-1l4-4zM1794 1053l-7 3l1 4l3 2l5-4zM1813 1049l1 7l3 2l3-1l1-3zM1839 1040l-4 2l0 3l3 1l2-2zM1708 1004l-1 3l5 2l2-3l-1-2zM1738 978l1 3l3 0l3-3l-1-2l-4 0zM1733 952l0 4l2 2l7-1l0-3l-6-4zM1888 925l1 2l4-1l-1-2zM1858 901l-4-1l-10 10l-7-6l3-3l0-4l-12-2l-3 2l-1 9l-3 3l-8 0l-2 2l0 4l-10-3l-2 2l0 5l-4 5l-5-4l-4 0l-2 15l2 1l1-5l3 0l2 3l0 3l-5 8l3 6l-4 5l-9 2l-3-5l-4-2l-2 10l3 7l-3 4l-12 0l-2-3l6-4l0-5l-3-2l-6 0l-2 2l0 3l4 5l-2 4l6 8l4 1l6-5l1 1l-2 6l-5 0l-7 4l5 12l-1 3l-16 0l-2-2l1-7l5-1l0-4l-5 0l-3-4l-7 1l-5-5l-5 2l-1 3l20 16l1 4l-2 2l-8 0l-2 2l2 8l-4 7l-2 0l-4-5l-3 1l-1 5l6 4l0 3l-4 6l-8 5l3 7l-7 4l2 5l-5 4l0 2l9 7l0 4l-6 6l-4-4l-3 1l2 10l6 4l0 3l-4 3l0 5l-5 3l-4 11l2 2l6-1l5 4l1 4l-3 6l6 4l0 3l-5 5l1 7l-4 5l0 4l2 2l15 0l5 3l17 0l16-2l12-6l0-9l-4-4l0-8l8-9l-2-9l8-6l-4-7l-5-4l-1-6l-4-5l2-10l-2-4l-5 0l-4 5l-6 3l-4-3l13-15l1-8l-4-4l1-3l3-1l3 2l7 0l5-2l1-4l5-5l4 3l6 0l2-2l1-5l-2-2l-6 0l-5-5l-7-3l4-5l6-2l7 7l8-3l9 0l8 6l-2 2l-7 0l-3 3l0 3l6 3l7-3l9 0l3-6l7 5l10-1l4-6l-1-7l7-6l6-1l-1-3l-6-5l10-6l0-5l6-3l-1-6l4-2l3 4l5 0l0-6l5-7l0-14l3-7l0-5l-5-3l2-8l-4-3l2-7l-1-4l-2-1l-5 2l-4-7l-7-3l1-5l-10-3l-2-3zM1752 1146l2-2l6 0l2 4l-7 4l-3-3zM1733 1147l3-5l4 2l-3 4zM1738 1129l1 5l-3 3l-3-5zM1759 1116l2 1l-1 3l-3-2zM1728 1107l2 2l-4 3l-2-2zM1769 1106l2 1l-1 6l-4-2zM1748 1093l4-2l7 6l-5 4l-6-1zM1724 1046l2 0l5 6l0 3l-3 3l-7 0l-4-2l1-5zM1743 1044l2-1l4 4l-2 2zM1756 1032l4-2l9 4l-3 4l-3 0zM1766 1016l3-1l1 4l-2 1zM1737 1016l2-2l2 1l-1 2zM1850 1007l1 3l-8 5l-1-1l5-6zM1742 1008l5-1l2 4l-5 2zM1789 993l5 1l5 5l0 3l-8 6l-7-4l0-7zM1833 902l2-1l2 2l-3 1z"/><path d="M1693 1155l-1 4l3 0l0-3zM1775 1062l-3 1l0 5l2-1zM1791 1056l-1 3l3 1l1-4zM1787 1040l2 3l4-1l0-3zM1720 1021l-1 3l3 1zM1732 1009l-1 4l2 2l3-4zM1709 1005l0 3l2 0l1-3zM1723 982l-1 3l5 1l11 12l0-11l-10 0l-2-5zM1763 973l-4 1l-1 4l4 0l2-2zM1750 961l2 4l6-1l0-4l-6-1zM1734 953l2 4l4 0l-1-5zM1853 904l-3 1l-3 6l-5 0l-12-8l0-6l-2 0l-3 11l-2 2l-7 0l0 4l-5 4l-9-4l-3 8l-5 5l-4-5l-2 0l-2 4l2 2l4 0l2 4l0 6l-5 6l2 8l-6 6l-8 2l-6-7l-1 9l3 3l0 4l3 2l0 3l-7 5l-1 7l6 2l6 8l-4 2l-14-11l-5 0l-1 3l2 5l7 6l-1 10l-2 2l-3-1l-2-7l-2 0l-4 8l-6 2l-3 5l-10-2l-2 5l-6 4l-1 9l-9 7l2 5l7-3l5 1l6 9l-4 4l-12 0l-10 4l0 3l6 5l0 5l-4 6l-5 3l0 2l5 1l7-3l1 4l-6 4l-1 8l-6 8l-5-1l-2 8l6 1l5 5l0 11l7 3l0 3l-8 7l4 8l-6 3l1 5l9 1l5-2l7 5l7-2l10 1l14-2l10-6l0-8l-2-2l-12 9l-5-7l0-4l3-3l12 2l0-7l7-9l-1-12l-6-2l0-6l5-10l-2-3l-3 0l-10 7l-8 0l-2-5l5-8l9 5l2-1l-1-9l-10 3l-4-6l11-10l2-4l-4-13l4-4l13 2l9-11l2-8l-8-1l-1-7l10-6l9 6l5-2l12 0l10 7l-2 5l-9 0l2 5l4 0l3-3l6 2l3-1l2-5l-3-5l5-4l5 2l-2 6l3 4l9-1l1-4l-5-2l-2-5l2-2l6 2l8-6l1-5l-5-2l-8 6l-4 0l-2-2l10-10l7 2l8-3l7-16l4-3l7 1l6-6l1-7l-2-2l-6 1l-2-2l0-5l3-3l3 2l1 4l3-2l0-5l3-7l-6-4l2-8l-4-3l2-8l-4-1l-5 2l-1-9l-2-2l-6 0l-1-7l-8-2zM1744 1125l5 5l-2 2l-5-1l-2 2l0 14l-5 4l-7-1l-7 3l-1-5l3-4l6 3l6-6l0-3l-4-6l3-3zM1721 1119l7 4l0 5l-2 3l-6-7l-1-3zM1762 1115l0 7l4 6l-5 7l-7 1l-4-4l2-2l5 0l3-5l-4-6l0-3zM1734 1106l-5 7l-4 1l-2-2l0-3l4-4zM1734 1091l3-1l2 4l-3 2zM1735 1076l2-2l2 2zM1717 1061l5 4l-1 3l-4 0l-2-2zM1740 1036l10 9l0 4l-2 2l-7-6l-2-7zM1756 1027l5 3l12 1l-7 11l-8 0l-6-3l3-4l-1-6zM1814 1012l1 5l-2 2l-2-5zM1768 1012l4 4l-1 6l-5-1l-2-3l1-4zM1788 992l5 0l7 7l0 4l-8 6l-6-2l-4-5l0-5zM1812 986l3 5l-5 2l-2-3zM1789 967l3 2l0 4l2 2l-1 3l-6-4l0-5zM1802 934l3 4l-6 3l-1-3z"/><path d="M1716 1159l-4-2l-4 1l-1 2l8 1zM1764 1138l-4-1l-6 2l-4-5l-7-1l-1 2l2 4l-2 7l-6 6l-9 0l-4 2l-1 7l4 4l10-2l11 1l15-3l2-5l-4-2l-3 4l-2 0l-6-7l-1-6l4-5l12 2zM1765 1117l-1 5l4 2l2-6zM1756 1085l-3 3l1 2l4 1l0-5zM1713 1063l-3 0l0 2l3 0zM1811 1036l0 2l4 0l-1-2zM1823 1031l-3 4l3 3l3 0l2-4l-1-2zM1836 1030l1 5l5 0l3-2l-2-3zM1856 1015l-3-3l-10 8l6 2l5-3zM1756 1012l-9 5l-4 6l-10-3l-2 5l-5 3l-3 11l-7 4l1 3l10-2l11 10l0 3l-7 4l-9-1l-1 1l3 6l-3 3l-4-1l-2 2l0 5l-4 6l0 2l7 0l2 3l-1 4l-6 6l0 5l-5 5l2 5l-3 3l0 3l4 5l0 8l7 1l0 7l-8 6l0 3l4 4l4-1l4-8l7 2l5-5l-2-4l-5-1l-7-7l-3-7l0-3l4-2l1-8l4-4l10 0l-3 7l-9 5l5 6l1 8l11-6l5 1l4 4l6 0l3-4l-4-6l0-4l3-2l4 1l2-2l0-5l4-7l-2-3l-5 4l-12 2l-3 6l-3-8l2-10l-4 0l0 5l-2 2l-4 0l-3-4l0-4l2-2l5 0l4-6l-1-2l-5 1l-5-6l6-3l9 5l7-5l3-6l-3-4l-2-9l9-6l5 4l7-1l8-15l-8 0l-3 3l-1 5l-3 2l-15-3l-1-5l3-3l0-9l3 0l5 4l6 0l3-2l-6-6l-1-5zM1730 1094l-8 6l-5-3l2-3l8-4zM1739 1033l6 5l1 3l5 2l-1 9l-3 0l-7-7l-3-7zM1759 989l0 5l3 3l4 0l1-4zM1732 988l4 4l1-3l-3-2zM1752 961l0 2l4 0l-1-3zM1735 953l1 3l3-1l-1-2zM1883 933l-5 3l3 0zM1873 922l-7 0l-2-2l1-4l-2-2l-5 0l-5-5l-6 3l-7 0l-5 3l-2-2l0-5l-4-3l-7 10l-11 5l-8-2l-6 9l0 7l5-2l4 4l0 3l-5 3l-16 18l-6 0l-2 2l0 13l-7 5l0 4l10 9l4 0l5-3l4 1l6 5l2 8l-6 5l-4 1l-5-2l-6-7l-4 1l-4-3l-3 1l-3 4l0 5l6 2l1 9l5 2l8-5l6 5l5-6l4 0l3 6l5 0l1-3l-2-4l6-5l3 3l-3 9l3 5l5 1l9-6l8 1l1-4l-5-3l14-13l13 0l8-17l13-3l4-5l0-4l-8-1l-2-2l0-7l3-3l6 0l3-7l-6-4l3-6l-1-2l-8 0l-3-3l-1-8l2-6zM1775 1007l5 3l-2 3l-5-2zM1806 989l5-6l5 6l3 0l3 3l-4 2l-9 0l-3-2zM1789 964l4 3l0 5l3 4l-2 3l-3 0l-5-4l0-8zM1799 959l2-4l5 2l-3 3zM1806 924l3-1l1 3l-3 1z"/><path d="M1763 1157l-2-1l-4 4l4 0zM1755 1160l-8-9l-1-9l-9 11l-10 0l-4 3l1 7l4 2l9-3l7 2zM1749 1135l-2 0l1 5l2-1zM1733 1139l-3-3l-4 0l-6-4l-1 8l-2 3l-5 2l0 3l3 2l6-8l3-1l7 2zM1768 1118l-2 0l-1 3l2 1zM1710 1115l-1 4l3 3l1 7l2 0l2-2l0-4l-3-7zM1726 1116l0 2l5 4l0 6l12-6l7 6l4 1l3-2l-3-13l2-2l5 1l2-2l0-9l-12 2l-1 4l-4 3l-3-2l-2-8l-2 0l-1 5l-5 6zM1734 1099l-5-1l-4 3l-9-1l-6 8l4 1l5 5l0-3l8-10l7 0zM1752 1045l1 5l6-3l-2-3zM1777 1037l-2-1l-3 2l0 5l-6 4l1 3l3 0l7-9zM1823 1033l-1 3l4 1l1-3zM1837 1031l1 3l5-1l-2-2zM1732 1028l-4 0l-2 2l-2 12l6 3l4 5l2-1l2 2l3 10l-7 0l-2 2l-5-2l-4 1l2 7l-2 2l-6 0l-4 10l4 1l4 4l0 5l5-3l4 1l6-3l-3-7l-6 0l-2-2l2-4l10-2l5 1l2-7l3 1l2 6l3 0l3-3l-4-13l-12-10l-1-5l-3-3l1-6zM1834 1019l0 2l4 0l0-2zM1804 1018l1 3l3-1l-1-2zM1761 1016l-6-1l-6 3l-4 5l0 5l-3 4l5 7l6-7l-3-6l2-2l4-1l5 5l6-1zM1854 1014l-3 0l-5 4l0 2l5 0l3-3zM1774 1003l-3-2l-4 5l5 1zM1874 924l-3-2l-6 1l-2-2l1-4l-11-6l-19 5l-3-2l-1-6l-6 8l-8 2l-7 11l-3 0l-3-6l-2 0l-2 6l8 6l1 4l-9 7l-2 8l8 0l2 3l-3 4l-5 2l-4-1l-2-6l-4 1l-1 2l1 3l5 2l0 8l4 6l-2 2l-9-2l-2-2l-1-11l-4-3l-2 14l-6 3l-1 3l10 10l3 0l2-4l-8-3l0-3l4-2l6 8l6 2l6 6l2 8l-8 7l-14-5l1 7l-7 2l0 4l6 1l4-4l8 3l10-7l6 1l5-4l3 0l2 2l-2 14l6 2l26-25l6-2l2 2l5 0l2-2l1-8l4-6l6-3l9-1l3-7l-7-1l-3-3l0-7l2-3l7-2l2-5l-6-4l3-6l-8-1l-5-7zM1797 986l3-5l3 0l3 5l2-1l0-3l3-1l5 7l5 1l2 3l-5 3l-8 1l-6-5l-1-3z"/><path d="M1751 1157l-5-4l-1-6l-2 0l-5 8l-12-1l-3 6l3 4l5 0l7-3l7 2l5-2zM1720 1135l0 5l11 2l0-4l-5 0l-4-4zM1713 1121l2 5l1-2zM1728 1116l0 2l5 3l-1 5l3 0l7-5l10 7l3 0l2-3l-4-6l0-7l-2-2l-6 2l-5-6l-10 10zM1754 1105l3 6l5 0l-1-7zM1716 1107l3 1l4-5l-7-1zM1730 1080l-2 2l0 4l4 1l2-5zM1718 1073l-2 8l5 2l2 5l1-11l-2-3zM1725 1063l2 8l15-2l-1-3l-5-3zM1740 1049l0 6l3 7l4 1l2 7l3 1l2-5l-4-6l0-3zM1754 1045l0 3l3-1zM1728 1029l-3 11l10 7l2-5l-4-4l0-7zM1750 1028l-3 0l-3 4l3 4l5-4zM1747 1023l1 2l5-3l4 0l4 5l5 0l-7-9l-9 1zM1853 1015l-2 0l-3 4l3 0zM1775 1018l4 1l4-5l9 2l7-5l-6 2l-4-3l-6-1l-1 6l-6 1zM1780 987l0 3l3 1l1-3zM1773 980l2 3l2-2zM1785 979l0 3l6 6l6-4l0-3zM1783 969l-4 3l1 6l4-2zM1853 912l-11 2l-5 3l-9-2l-4 3l-6 1l-1 4l-10 8l3 10l-6 1l-6 9l8 3l2 3l-4 5l-8 3l-1 7l9 8l6-1l6 8l5 1l3 3l-3 4l-12 2l-6-5l-1-3l-6 1l7 10l-2 10l7 2l7-5l5 3l-1 10l-2 3l2 3l5-3l0-4l5-1l18-17l6-2l7 2l2-2l2-13l2-2l16-2l3-4l0-3l-6 0l-4-4l1-9l7-3l3-4l-6-4l2-6l-6-1l-7-9l4-6l0-5l-10 0l-1-8l-6-1z"/><path d="M1749 1159l-5-4l0-6l-4 2l3 4l-2 3l-8-4l-5 0l-4 3l0 4l3 3l11-4l3 2l5 0zM1734 1112l-2 4l3 3l-1 5l11-6l6 9l4 0l1-2l-5-7l-1-5l-4 1l-6-6zM1757 1105l0 4l3 1l0-4zM1718 1103l-1 2l3 1l1-3zM1730 1082l0 3l2 0l1-2zM1718 1076l-1 3l5 2l0-4zM1752 1065l-2 0l1 5l2-1zM1728 1067l1 3l3 1l7-2l-2-4l-7 0zM1741 1051l2 9l4 2l2-2l-1-4zM1729 1031l-2 10l7 3l-4-8l1-4zM1747 1030l-1 4l3 0l2-3zM1785 1011l1 2l4 1l-2-3zM1798 990l6 10l-2 8l7 3l4-6l-5-3l0-4l-6-5l0-2zM1787 981l4 5l4-2l0-2zM1783 971l-3 1l1 4l2-1zM1852 913l-10 2l-4 3l-10-1l-7 3l-1 5l-5 1l-6 6l3 10l-8 1l-4 5l0 3l4 1l4 4l0 3l-12 8l0 5l5 1l4 5l6 1l6 8l7 3l1 2l-2 3l-9 3l3 6l9 0l3 2l-7 4l-2 7l2 1l7-1l9-10l4-1l7-7l5-2l7 2l2-16l2-2l3 2l11-1l5-4l0-2l-7-1l-2-3l0-10l3-3l3 0l3-4l-5-3l0-6l-3-1l-8-9l5-10l-1-2l-10 1l-1-8z"/><path d="M1741 1160l2 2l3-1l-1-3zM1724 1160l2 3l6 0l5-5l-3-3l-7 0zM1744 1150l-3 1l2 2zM1749 1121l2 5l4-1l-3-4zM1740 1109l-4 1l-2 3l0 3l4 4l6-4l0-3zM1730 1067l2 3l5-2l-1-2zM1743 1054l1 5l3 1l0-3zM1832 1009l-7 0l-4 6l7 2l3-3zM1806 1003l-3 5l2 2l4 0l2-4zM1860 917l-11-3l-3 3l-7 2l-8-1l-3 5l-4-1l-5 5l-4 0l-4 4l-1 5l3 5l-1 3l-6-1l-5 4l0 3l4 2l4 6l-4 5l-8 4l0 4l4 1l5 5l5 1l7 9l7 3l0 4l-9 5l3 3l10 2l8-2l5 2l4-5l9-4l5 3l2-15l3-3l4 2l11-1l3-3l-6-2l-3-4l0-10l3-4l5-2l-4-4l0-5l-7-5l-4-6l1-4l4-4l0-3l-10 1l-2-2z"/><path d="M1736 1158l-7-3l-3 1l-1 5l5 2zM1739 1109l-4 3l0 4l2 2l4 0l2-2l-1-5zM1826 1009l-3 3l0 3l6 1l2-6zM1804 1007l1 2l4 0l0-3l-2-1zM1850 915l-1 6l-8 3l-8-5l-4 5l-14 4l-4 5l4 10l-2 2l-8-1l-3 3l0 3l8 7l-12 11l0 2l12 7l7 9l5 1l4 4l0 4l-7 4l1 2l9 2l6-3l6 3l4-5l6-1l4-4l5 3l0-9l5-8l5 2l11-2l-7-6l0-13l4-3l-1-9l-9-8l-2-4l5-10l-2-1l-7 2l-4-4l1-5zM1828 995l3-1l2 4l-3 0z"/><path d="M1725 1160l4 3l6-5l-2-2l-6 0zM1738 1110l-3 4l2 3l4 0l1-5zM1829 1010l-3 0l-2 5l5 0zM1821 999l7 3l2-1l-4-4zM1852 916l-2 1l0 7l-7-1l-4 3l-4-5l-2 0l-3 4l-5 0l-10 4l-3 8l4 6l-3 3l-8-1l-2 2l0 2l7 7l0 3l-11 10l12 8l7 9l5 1l4 6l6 1l2 5l7 2l4-5l4 0l4-5l3 0l2 3l-1-4l5-11l15 0l-5-7l0-12l4-6l0-3l-11-13l0-5l4-7l-8 2l-5-4l1-5z"/></g></g><g fill="none" stroke="#e63a26" stroke-opacity="0.85" stroke-width="4.3" stroke-linecap="round"><path d="M1757 833h0m75 10h0m2 9h0m41 1h0m-31 9h0m-96 1h0m97 4h0m-25 1h0m70 1h0m-94 4h0m-10 2h0m57 6h0m14 3h0m29 0h0m-154 1h0m101 0h0m-108 2h0m70 2h0m62 1h0m35 0h0m-85 1h0m79 2h0m-166 1h0m121 1h0m-99 2h0m78 0h0m4 1h0m30 1h0m-43 1h0m-40 1h0m-14 1h0m59 0h0m8 0h0m50 0h0m34 0h0m-59 1h0m12 0h0m-18 2h0m2 0h0m26 0h0m-85 1h0m91 0h0m-64 3h0m26 0h0m51 0h0m-126 1h0m24 3h0m50 0h0m-72 1h0m63 0h0m-56 2h0m62 0h0m38 0h0m22 1h0m-121 1h0m12 0h0m27 1h0m102 0h0m-132 2h0m59 0h0m30 1h0m-31 2h0m-18 1h0m31 0h0m-69 1h0m93 0h0m-26 1h0m-31 1h0m14 0h0m3 0h0m-8 1h0m-129 1h0m11 0h0m-22 1h0m8 0h0m121 0h0m-36 1h0m113 0h0m-84 1h0m6 0h0m24 0h0m48 0h0m-89 1h0m55 0h0m-46 1h0m-65 2h0m27 0h0m18 0h0m91 0h0m-154 1h0m34 0h0m114 0h0m22 0h0m-99 1h0m-33 1h0m81 0h0m53 0h0m-171 1h0m155 0h0m-98 1h0m25 0h0m7 0h0m-72 1h0m9 0h0m37 0h0m5 0h0m-29 1h0m91 0h0m-146 1h0m67 0h0m49 0h0m10 0h0m51 0h0m-43 1h0m-151 1h0m29 0h0m25 0h0m55 0h0m32 0h0m-67 1h0m73 0h0m39 0h0m-49 1h0m-53 2h0m38 0h0m11 0h0m2 0h0m88 0h0m-182 1h0m17 0h0m58 0h0m33 0h0m74 0h0m-102 2h0m21 1h0m-121 2h0m106 0h0m22 0h0m41 0h0m-111 1h0m26 0h0m62 0h0m-136 2h0m115 0h0m6 0h0m28 0h0m22 0h0m-164 2h0m65 0h0m67 0h0m-114 1h0m-37 1h0m29 0h0m88 0h0m-13 1h0m77 0h0m15 0h0m-131 1h0m14 0h0m22 0h0m24 0h0m-59 1h0m34 0h0m69 0h0m13 0h0m-155 1h0m44 0h0m34 0h0m28 0h0m-154 1h0m187 0h0m29 0h0m-178 1h0m24 0h0m19 0h0m67 0h0m41 0h0m-136 2h0m91 0h0m8 1h0m38 0h0m30 0h0m-198 1h0m17 0h0m31 1h0m-61 1h0m87 0h0m23 0h0m16 0h0m-101 1h0m186 1h0m-146 1h0m75 0h0m-57 1h0m66 0h0m55 0h0m-168 1h0m20 0h0m69 0h0m30 0h0m-101 1h0m136 0h0m-211 1h0m75 0h0m-5 1h0m14 0h0m44 0h0m-107 1h0m19 0h0m87 0h0m-6 1h0m52 2h0m59 0h0m-214 1h0m119 0h0m22 1h0m58 1h0m-80 1h0m2 0h0m12 0h0m36 0h0m-169 1h0m29 0h0m-21 1h0m48 0h0m65 1h0m23 0h0m-119 2h0m86 0h0m97 0h0m-200 1h0m144 0h0m22 0h0m-141 1h0m29 0h0m8 0h0m103 0h0m-112 1h0m71 0h0m15 0h0m-201 1h0m83 0h0m2 0h0m153 0h0m-176 1h0m62 0h0m57 1h0m19 0h0m-170 1h0m116 1h0m83 0h0m-160 1h0m47 0h0m92 0h0m31 0h0m-179 1h0m114 0h0m10 0h0m12 2h0m-110 1h0m59 0h0m6 0h0m75 1h0m31 1h0m-197 2h0m83 0h0m16 1h0m85 0h0m-173 1h0m38 0h0m-47 2h0m164 0h0m-64 1h0m18 0h0m-45 1h0m22 0h0m55 0h0m-130 2h0m3 0h0m41 0h0m84 0h0m-135 1h0m127 0h0m-62 1h0m-120 1h0m38 0h0m21 0h0m71 0h0m46 0h0m-145 1h0m41 1h0m166 0h0m-58 1h0m45 0h0m-177 1h0m66 1h0m35 0h0m18 1h0m25 0h0m5 0h0m-72 1h0m82 0h0m-206 1h0m197 0h0m-147 1h0m112 0h0m30 0h0m-161 1h0m149 0h0m-94 1h0m-74 1h0m60 0h0m62 0h0m34 0h0m16 0h0m52 0h0m-204 1h0m107 1h0m-99 1h0m105 0h0m10 0h0m30 0h0m-4 1h0m-85 1h0m30 0h0m-91 1h0m20 0h0m-58 1h0m127 0h0m-151 1h0m100 0h0m32 1h0m37 0h0m34 0h0m-65 1h0m117 1h0m-20 1h0m-87 1h0m-103 1h0m91 1h0m26 0h0m-18 1h0m-98 1h0m188 0h0m-95 1h0m-74 1h0m76 1h0m54 0h0m-136 1h0m15 1h0m54 0h0m66 0h0m31 1h0m-158 1h0m12 0h0m56 1h0m-17 1h0m71 0h0m-120 1h0m9 0h0m79 0h0m-49 1h0m33 0h0m16 1h0m56 1h0m-158 1h0m114 0h0m-127 3h0m154 0h0m-125 1h0m12 1h0m45 2h0m19 0h0m-55 2h0m-24 1h0m100 0h0m-97 1h0m37 0h0m50 0h0m2 1h0m-161 1h0m34 1h0m108 1h0m5 0h0m-102 1h0m94 0h0m50 0h0m-89 1h0m-72 1h0m56 1h0m-2 2h0m-17 1h0m126 0h0m-137 1h0m90 0h0m48 1h0m-57 1h0m-123 1h0m95 0h0m9 0h0m-43 1h0m-9 1h0m73 0h0m159 0h0m-216 1h0m9 1h0m33 0h0m-23 1h0m98 0h0m-52 1h0m-59 1h0m-36 2h0m-26 1h0m145 0h0m-72 1h0m43 0h0m-71 1h0m15 0h0m69 0h0m-64 1h0m86 0h0m38 0h0m-84 5h0m10 0h0m-24 3h0m40 0h0m-151 1h0m76 2h0m47 0h0m-83 2h0m84 1h0m-45 1h0m-27 3h0m93 2h0m-58 1h0m8 1h0m-42 1h0m31 0h0m-32 1h0m131 0h0m-48 2h0m-82 1h0m14 0h0m89 0h0m-85 1h0m10 0h0m-22 2h0m45 0h0m-60 1h0m83 0h0m14 1h0m-52 1h0m8 2h0m5 0h0m27 0h0m47 3h0m-47 2h0m-2 2h0m12 1h0m14 0h0m-50 3h0m34 2h0m-34 1h0m62 1h0m-94 2h0m9 0h0m-51 1h0m7 0h0m52 0h0m7 0h0m-26 1h0m-38 1h0m24 1h0m8 0h0m18 0h0"/><path d="M1721 835h0m129 5h0m-20 13h0m49 8h0m-26 1h0m-88 5h0m82 0h0m16 2h0m-84 2h0m111 1h0m-62 4h0m-88 1h0m5 1h0m44 0h0m53 9h0m11 1h0m-23 1h0m52 2h0m-167 2h0m27 0h0m72 1h0m-116 1h0m108 0h0m38 0h0m42 0h0m-42 1h0m-40 1h0m-23 1h0m72 0h0m-55 1h0m-1 1h0m42 0h0m22 0h0m18 0h0m45 0h0m-125 1h0m63 0h0m52 0h0m-104 1h0m-11 1h0m-16 1h0m126 0h0m-60 1h0m-46 2h0m32 0h0m49 0h0m-79 3h0m11 1h0m63 1h0m14 2h0m-149 1h0m111 1h0m-59 3h0m146 0h0m-120 1h0m38 1h0m1 1h0m-67 1h0m46 1h0m7 0h0m11 2h0m6 0h0m-135 1h0m43 0h0m36 0h0m87 0h0m-21 2h0m-53 1h0m48 1h0m-70 1h0m-112 2h0m171 0h0m30 0h0m-122 1h0m62 0h0m53 0h0m-80 3h0m52 0h0m11 0h0m15 0h0m-36 1h0m23 1h0m-153 1h0m4 0h0m78 0h0m85 0h0m9 0h0m-56 1h0m-115 1h0m44 0h0m71 0h0m-77 1h0m32 0h0m27 0h0m28 0h0m-100 1h0m18 0h0m42 0h0m-18 1h0m40 0h0m20 0h0m-60 1h0m16 0h0m39 0h0m-128 1h0m104 0h0m-77 1h0m90 0h0m2 1h0m18 0h0m-27 1h0m-79 1h0m16 1h0m138 0h0m-55 1h0m32 0h0m-142 1h0m89 0h0m8 0h0m26 0h0m35 0h0m-85 2h0m5 0h0m-41 1h0m41 0h0m7 0h0m82 0h0m-105 1h0m48 0h0m-40 1h0m46 0h0m-85 1h0m136 0h0m-158 1h0m103 0h0m-86 1h0m82 1h0m-14 1h0m5 0h0m17 1h0m-29 2h0m-35 1h0m92 0h0m23 0h0m-181 1h0m119 0h0m0 1h0m52 0h0m23 0h0m-154 1h0m2 0h0m61 1h0m49 1h0m29 0h0m-65 1h0m77 0h0m-133 2h0m-55 3h0m51 0h0m88 0h0m-155 1h0m161 0h0m13 0h0m-168 1h0m19 0h0m11 0h0m59 0h0m-30 1h0m71 0h0m-56 1h0m45 0h0m1 0h0m36 0h0m-164 1h0m74 0h0m4 0h0m114 0h0m10 0h0m-308 1h0m267 0h0m6 1h0m-86 2h0m65 0h0m4 0h0m-102 1h0m16 0h0m109 0h0m-40 1h0m-47 1h0m66 0h0m-64 1h0m120 0h0m-142 1h0m-34 1h0m21 1h0m122 0h0m-132 1h0m35 0h0m17 0h0m-26 1h0m59 0h0m32 0h0m-162 2h0m47 1h0m32 0h0m-85 1h0m80 0h0m80 0h0m46 0h0m-162 2h0m80 0h0m-81 1h0m70 0h0m31 0h0m29 0h0m-220 1h0m90 0h0m29 0h0m47 0h0m36 0h0m-55 1h0m21 0h0m-116 1h0m77 1h0m14 0h0m45 0h0m16 1h0m-142 1h0m46 0h0m10 0h0m30 0h0m84 0h0m-141 1h0m7 0h0m69 1h0m-8 1h0m4 0h0m6 1h0m-11 2h0m2 0h0m62 0h0m-189 2h0m170 0h0m12 0h0m-65 1h0m97 0h0m-176 1h0m3 0h0m107 0h0m-81 1h0m10 0h0m15 1h0m32 0h0m-101 1h0m206 1h0m-70 1h0m-33 1h0m65 0h0m-180 1h0m31 0h0m37 0h0m59 1h0m56 0h0m-69 1h0m-96 1h0m44 0h0m-52 1h0m3 1h0m36 0h0m22 0h0m-75 2h0m45 1h0m9 0h0m0 0h0m-57 1h0m13 0h0m256 0h0m-263 3h0m33 2h0m11 0h0m128 0h0m-139 1h0m86 1h0m28 0h0m-143 1h0m54 0h0m39 0h0m66 0h0m37 1h0m-234 1h0m82 0h0m-31 1h0m5 1h0m117 0h0m-141 1h0m57 0h0m11 0h0m-37 1h0m20 0h0m25 0h0m32 0h0m-81 1h0m36 0h0m65 0h0m29 0h0m-125 1h0m93 0h0m-58 1h0m89 0h0m-68 1h0m-44 1h0m129 0h0m-100 1h0m110 0h0m-160 1h0m24 0h0m17 0h0m19 0h0m75 0h0m-55 1h0m60 0h0m-114 1h0m61 0h0m-93 1h0m141 0h0m-92 1h0m48 0h0m4 0h0m-49 1h0m61 1h0m-71 2h0m27 0h0m-77 2h0m22 0h0m19 1h0m18 1h0m-51 1h0m70 0h0m-14 1h0m44 0h0m20 0h0m-129 1h0m54 0h0m50 0h0m19 0h0m-87 1h0m47 0h0m-59 1h0m-30 1h0m56 1h0m-4 1h0m55 0h0m-113 2h0m78 2h0m121 1h0m-125 2h0m10 0h0m-37 1h0m15 0h0m37 0h0m-127 1h0m27 0h0m117 0h0m-111 1h0m48 0h0m50 0h0m-79 2h0m52 1h0m4 0h0m-63 2h0m12 0h0m-45 1h0m14 1h0m93 0h0m-89 1h0m6 0h0m155 0h0m-160 1h0m11 0h0m101 1h0m-59 1h0m-27 1h0m23 0h0m-32 1h0m66 0h0m-66 2h0m-3 2h0m52 1h0m-12 2h0m-72 1h0m26 0h0m63 0h0m-61 2h0m59 0h0m128 0h0m-134 2h0m10 0h0m14 1h0m-64 3h0m34 0h0m-20 1h0m16 0h0m43 0h0m4 0h0m-92 1h0m69 2h0m38 0h0m-85 1h0m-48 1h0m58 0h0m-37 2h0m51 0h0m33 1h0m-96 1h0m108 2h0m9 1h0m-23 1h0m8 0h0m-97 2h0m95 0h0m-43 2h0m64 2h0m-91 1h0m16 0h0m-27 1h0m18 0h0m37 1h0m8 0h0m49 0h0m-100 1h0m-56 1h0m68 1h0m74 0h0m-38 1h0m15 0h0m6 0h0m13 0h0m-110 1h0m9 0h0m17 0h0m92 0h0m-125 1h0m88 0h0m-61 1h0m34 2h0m22 1h0m-77 1h0m67 0h0m-21 1h0m38 0h0m-35 1h0m34 0h0m-55 1h0m106 0h0m-106 1h0m-7 1h0m18 0h0m-24 2h0m27 0h0m-64 1h0m112 0h0m5 1h0m-101 1h0m34 0h0m13 0h0m36 0h0m10 0h0m-36 1h0m53 0h0"/><path d="M1897 843h0m-91 8h0m-15 4h0m7 1h0m19 3h0m19 0h0m-20 3h0m31 1h0m-4 3h0m18 7h0m-45 5h0m70 3h0m-31 2h0m16 0h0m-40 2h0m7 0h0m-19 1h0m10 1h0m-33 2h0m34 0h0m19 0h0m-48 1h0m2 1h0m18 0h0m30 0h0m26 0h0m2 4h0m-47 1h0m-5 2h0m14 0h0m31 0h0m20 1h0m-169 3h0m124 0h0m-8 1h0m12 0h0m11 1h0m-127 2h0m46 0h0m43 0h0m47 0h0m30 0h0m-94 1h0m15 0h0m22 1h0m-29 1h0m61 0h0m-50 1h0m-43 1h0m46 0h0m-128 1h0m42 0h0m51 0h0m-37 1h0m94 0h0m31 3h0m-59 2h0m61 0h0m-96 1h0m-33 1h0m35 1h0m-46 1h0m44 0h0m26 2h0m47 1h0m1 3h0m39 0h0m-64 1h0m-65 1h0m107 1h0m-99 1h0m84 0h0m-104 1h0m48 0h0m8 0h0m40 0h0m-112 1h0m59 0h0m37 0h0m49 2h0m-109 1h0m52 0h0m13 0h0m-77 2h0m59 0h0m-131 1h0m138 0h0m8 0h0m14 0h0m13 0h0m-36 1h0m0 0h0m34 1h0m-108 3h0m50 0h0m-97 1h0m38 0h0m5 0h0m75 1h0m3 0h0m17 0h0m-20 1h0m17 0h0m3 1h0m-15 1h0m16 0h0m13 0h0m-2 1h0m-138 1h0m30 0h0m197 0h0m-235 1h0m50 0h0m35 0h0m37 0h0m2 0h0m-89 1h0m8 1h0m35 0h0m36 0h0m7 0h0m-32 1h0m24 0h0m-66 1h0m49 0h0m28 0h0m33 0h0m-72 1h0m21 0h0m1 0h0m8 0h0m3 0h0m42 0h0m11 1h0m-179 1h0m77 0h0m58 0h0m-101 1h0m132 0h0m10 0h0m-152 1h0m147 0h0m-100 1h0m24 0h0m-96 2h0m101 0h0m10 0h0m44 0h0m32 0h0m-214 1h0m208 0h0m-162 1h0m21 0h0m115 0h0m10 0h0m-52 1h0m30 0h0m60 0h0m-251 1h0m268 0h0m-105 1h0m6 0h0m25 0h0m-77 1h0m69 1h0m16 0h0m-153 1h0m80 0h0m3 0h0m80 0h0m-30 1h0m21 0h0m-25 1h0m4 0h0m-141 1h0m85 0h0m80 0h0m-6 1h0m-115 2h0m9 0h0m43 0h0m4 0h0m54 0h0m-47 1h0m34 1h0m48 0h0m-150 1h0m46 1h0m24 0h0m4 0h0m56 0h0m-97 1h0m129 1h0m-158 1h0m98 1h0m74 0h0m-177 1h0m125 1h0m9 0h0m-171 1h0m80 0h0m81 0h0m10 1h0m36 0h0m-180 1h0m127 0h0m-163 1h0m71 1h0m50 0h0m59 0h0m3 0h0m-67 1h0m55 0h0m39 0h0m-185 1h0m18 1h0m48 0h0m127 0h0m-154 1h0m-43 1h0m69 0h0m27 0h0m14 0h0m-106 1h0m3 0h0m82 0h0m-106 1h0m14 0h0m125 0h0m29 0h0m84 0h0m-75 1h0m-77 1h0m-24 1h0m91 0h0m1 0h0m-74 1h0m-87 2h0m13 0h0m70 2h0m-67 1h0m16 0h0m121 0h0m-53 2h0m150 0h0m-234 1h0m187 0h0m-125 1h0m23 0h0m-66 1h0m111 1h0m44 0h0m-55 1h0m15 0h0m30 0h0m15 0h0m-46 1h0m-160 1h0m42 0h0m111 0h0m34 0h0m-125 1h0m-13 1h0m46 0h0m-58 1h0m16 0h0m68 0h0m-147 1h0m165 1h0m-25 1h0m54 0h0m8 1h0m2 0h0m11 1h0m-158 1h0m51 0h0m36 2h0m-6 1h0m-25 1h0m13 0h0m20 0h0m-91 1h0m9 0h0m41 1h0m-50 1h0m9 1h0m123 0h0m-74 2h0m2 0h0m78 0h0m-143 2h0m77 0h0m-33 1h0m106 0h0m-155 1h0m88 0h0m17 0h0m28 0h0m-156 2h0m62 0h0m137 0h0m-176 1h0m35 0h0m-48 1h0m59 0h0m15 0h0m80 0h0m7 0h0m11 0h0m-42 1h0m34 0h0m-162 1h0m57 0h0m46 0h0m77 2h0m-186 1h0m11 1h0m57 0h0m22 0h0m-3 1h0m41 0h0m211 0h0m-279 1h0m52 0h0m16 0h0m-50 1h0m41 0h0m-63 2h0m18 0h0m-52 1h0m2 0h0m50 1h0m16 0h0m-60 2h0m86 0h0m28 2h0m-67 1h0m-60 2h0m-19 3h0m157 1h0m-58 1h0m102 0h0m-42 1h0m-162 1h0m44 0h0m-23 1h0m112 0h0m1 0h0m-144 1h0m126 0h0m-33 1h0m44 0h0m-124 2h0m118 2h0m-69 1h0m-27 1h0m31 0h0m16 1h0m-26 1h0m83 0h0m83 1h0m-173 2h0m60 0h0m57 0h0m-135 1h0m50 0h0m-43 1h0m-5 1h0m147 0h0m-119 1h0m46 0h0m-39 1h0m8 0h0m92 0h0m-155 1h0m47 0h0m-30 1h0m26 3h0m5 0h0m10 0h0m17 1h0m18 0h0m-96 1h0m66 0h0m56 0h0m-59 1h0m17 0h0m-14 1h0m-47 1h0m17 0h0m-33 1h0m19 2h0m89 1h0m-110 1h0m99 0h0m-97 2h0m15 1h0m27 2h0m59 0h0m-19 1h0m46 0h0m-58 1h0m-44 3h0m-16 1h0m47 0h0m21 3h0m12 1h0m16 2h0m-56 4h0m36 0h0m-69 1h0m78 0h0m-28 2h0m-12 2h0m-49 1h0m34 1h0m23 0h0m2 2h0m-75 1h0m21 2h0m-31 1h0m72 0h0m2 0h0m29 0h0m-93 2h0m14 0h0m17 1h0m15 2h0m-40 2h0m15 0h0m32 1h0m40 1h0m-39 1h0m21 4h0m-49 3h0m59 0h0m3 0h0m7 0h0m-79 1h0m88 0h0m-65 1h0m-48 1h0m82 0h0m1 0h0m-34 1h0m4 0h0m36 0h0m16 0h0m-51 1h0m2 0h0m20 0h0"/><path d="M1790 804h0m25 30h0m-99 13h0m143 4h0m16 2h0m-71 10h0m6 11h0m51 0h0m-29 3h0m8 5h0m-56 2h0m78 0h0m19 3h0m-98 1h0m32 1h0m-34 1h0m23 0h0m40 0h0m19 3h0m31 0h0m4 0h0m-65 1h0m32 1h0m12 0h0m-131 2h0m123 0h0m25 0h0m-140 1h0m123 0h0m-63 1h0m-97 1h0m118 2h0m19 0h0m-58 1h0m16 1h0m0 1h0m53 0h0m2 3h0m-62 1h0m40 1h0m7 0h0m8 0h0m10 0h0m-71 1h0m61 1h0m-86 2h0m54 1h0m14 0h0m-45 1h0m122 0h0m-41 2h0m15 0h0m-107 2h0m52 0h0m72 1h0m-22 1h0m-137 1h0m130 0h0m-110 1h0m22 0h0m94 0h0m-1 1h0m-70 1h0m-126 1h0m135 0h0m-18 1h0m17 0h0m56 0h0m-10 1h0m-95 1h0m6 0h0m-2 2h0m12 0h0m51 0h0m-134 1h0m56 0h0m87 1h0m17 0h0m18 0h0m-126 1h0m44 1h0m41 1h0m-93 1h0m19 0h0m31 0h0m25 0h0m12 0h0m-125 1h0m138 0h0m28 0h0m-65 1h0m-2 1h0m48 1h0m34 0h0m-62 1h0m23 0h0m18 0h0m-34 1h0m42 1h0m-41 1h0m0 0h0m-16 1h0m7 2h0m28 0h0m-20 2h0m35 0h0m-129 1h0m1 0h0m116 0h0m-66 1h0m20 0h0m11 0h0m9 0h0m-54 2h0m2 0h0m47 0h0m1 0h0m11 1h0m-76 1h0m52 0h0m13 1h0m47 0h0m-176 1h0m122 0h0m-97 1h0m135 0h0m4 0h0m33 0h0m6 0h0m-144 1h0m78 0h0m29 0h0m-102 3h0m45 0h0m30 0h0m-144 1h0m89 0h0m119 1h0m-134 1h0m67 1h0m45 2h0m-198 1h0m13 0h0m10 0h0m6 0h0m20 4h0m120 0h0m21 0h0m0 1h0m-110 1h0m67 0h0m-91 2h0m70 0h0m29 0h0m27 0h0m-124 1h0m34 0h0m16 0h0m68 0h0m-149 1h0m164 0h0m-26 1h0m11 0h0m-166 1h0m113 0h0m8 0h0m-85 1h0m77 0h0m83 0h0m-141 1h0m43 0h0m38 0h0m45 0h0m-151 1h0m90 0h0m96 0h0m-168 1h0m63 0h0m46 0h0m21 0h0m-129 2h0m69 0h0m9 0h0m-97 1h0m185 0h0m-215 1h0m20 0h0m17 0h0m33 0h0m30 0h0m85 0h0m-75 1h0m23 0h0m46 0h0m23 0h0m-183 1h0m126 0h0m-50 1h0m48 0h0m44 1h0m-167 1h0m-8 1h0m94 0h0m51 0h0m39 0h0m-75 1h0m64 0h0m-91 1h0m-71 2h0m137 0h0m9 1h0m-132 1h0m2 0h0m62 0h0m73 0h0m0 0h0m21 0h0m-156 1h0m80 0h0m72 0h0m-118 1h0m-45 1h0m89 0h0m-69 1h0m61 0h0m-91 1h0m80 0h0m54 0h0m-63 1h0m93 0h0m-174 1h0m41 0h0m8 0h0m57 0h0m-80 1h0m4 0h0m130 0h0m-139 1h0m30 0h0m85 1h0m21 0h0m-99 1h0m68 0h0m35 0h0m-113 1h0m20 0h0m89 0h0m-132 1h0m60 0h0m68 0h0m-99 2h0m-53 1h0m150 0h0m-178 1h0m120 0h0m74 0h0m-150 1h0m20 0h0m49 0h0m63 0h0m-46 1h0m-79 1h0m114 0h0m28 0h0m-103 1h0m-73 1h0m18 0h0m34 0h0m142 0h0m-183 1h0m8 0h0m83 0h0m30 0h0m-75 2h0m60 0h0m44 0h0m-173 1h0m173 0h0m2 0h0m-50 1h0m2 0h0m50 1h0m-170 1h0m38 1h0m-47 1h0m88 0h0m36 0h0m46 0h0m30 2h0m-165 1h0m50 0h0m92 0h0m-167 1h0m22 0h0m52 1h0m25 0h0m48 0h0m-4 2h0m-75 1h0m60 1h0m11 0h0m19 0h0m-168 1h0m102 0h0m-94 1h0m115 0h0m20 0h0m-42 1h0m67 1h0m-135 1h0m114 0h0m-98 1h0m65 0h0m-123 1h0m152 0h0m-82 1h0m63 0h0m-133 1h0m43 0h0m-9 2h0m-9 1h0m126 0h0m15 1h0m98 0h0m-210 2h0m2 1h0m-45 1h0m57 0h0m138 0h0m-96 1h0m7 0h0m-87 1h0m56 1h0m16 0h0m45 0h0m-59 1h0m-60 1h0m28 0h0m50 0h0m-47 1h0m128 0h0m-180 1h0m66 0h0m68 0h0m-95 1h0m17 1h0m50 0h0m-93 2h0m84 0h0m35 0h0m-64 1h0m-1 1h0m-39 1h0m11 0h0m51 0h0m13 0h0m9 0h0m3 0h0m47 0h0m-92 1h0m-64 1h0m13 0h0m8 0h0m82 0h0m47 0h0m-79 2h0m-32 1h0m39 1h0m5 0h0m-7 1h0m-58 2h0m123 1h0m-34 1h0m-115 1h0m104 0h0m97 0h0m-118 1h0m6 0h0m33 4h0m-73 2h0m26 1h0m-89 2h0m139 0h0m-88 1h0m57 0h0m35 0h0m-128 1h0m134 0h0m-84 1h0m30 0h0m-29 1h0m-27 2h0m7 0h0m-19 2h0m80 1h0m-49 1h0m-38 1h0m86 0h0m-46 1h0m14 1h0m-26 1h0m1 1h0m15 1h0m-47 1h0m36 0h0m33 0h0m27 4h0m-27 1h0m-46 1h0m-26 1h0m99 3h0m-28 1h0m17 0h0m-71 1h0m42 0h0m21 1h0m-7 1h0m-2 1h0m-23 1h0m81 0h0m-76 1h0m1 0h0m39 0h0m26 0h0m-88 4h0m-21 1h0m17 0h0m59 1h0m-34 1h0m4 0h0m-20 3h0m26 2h0m40 0h0m-66 1h0m21 2h0m-45 1h0m31 0h0m58 0h0m7 0h0m-87 1h0m-18 1h0m46 0h0m24 2h0m7 1h0m23 0h0m-19 3h0m6 0h0m7 0h0m19 0h0m-56 2h0m-44 2h0m29 0h0m28 1h0m27 0h0m21 0h0m-97 1h0m3 0h0m5 0h0m10 0h0m47 0h0m26 0h0m-44 1h0m-47 1h0m28 0h0m6 0h0m13 0h0m13 0h0m-23 1h0"/></g>
<line x1="1555.5" y1="1132.7" x2="1992.6" y2="894.8" stroke="#000" stroke-width="3.8"/>
</g>
<rect x="1555.1" y="690.4" width="531.5" height="494.8" fill="none" stroke="#333" stroke-width="2.2"/>
<path d="M1546.1 1163.0H1555.1M1546.1 1012.7H1555.1M1546.1 862.4H1555.1M1546.1 712.1H1555.1M1686.2 1185.2V1194.2M1821.3 1185.2V1194.2M1955.5 1185.2V1194.2" stroke="#333" stroke-width="4.4" fill="none"/>
<text x="1541.7" y="1179.1" font-size="39.5" fill="#4d4d4d" stroke="#4d4d4d" text-anchor="end">0</text>
<text x="1541.7" y="1028.8" font-size="39.5" fill="#4d4d4d" stroke="#4d4d4d" text-anchor="end">5</text>
<text x="1541.7" y="878.5" font-size="39.5" fill="#4d4d4d" stroke="#4d4d4d" text-anchor="end">10</text>
<text x="1541.7" y="728.2" font-size="39.5" fill="#4d4d4d" stroke="#4d4d4d" text-anchor="end">15</text>
<text x="1686.2" y="1227.7" font-size="39.5" fill="#4d4d4d" stroke="#4d4d4d" text-anchor="middle">5</text>
<text x="1821.3" y="1227.7" font-size="39.5" fill="#4d4d4d" stroke="#4d4d4d" text-anchor="middle">7.5</text>
<text x="1955.5" y="1227.7" font-size="39.5" fill="#4d4d4d" stroke="#4d4d4d" text-anchor="middle">10</text>
<text x="1566.0" y="730.7" font-size="46" fill="#1a1a1a" stroke="#1a1a1a">Pearson r = 0.42</text>
<text x="1566.0" y="773.0" font-size="46" fill="#1a1a1a" stroke="#1a1a1a">p &lt; 2.2e-16</text>
<text x="1430" y="687" font-size="53" font-weight="bold" fill="#000">f</text>
<text x="1616.6" y="1269" font-size="46" fill="#1a1a1a" stroke="#1a1a1a">log<tspan font-size="27.5" dy="15">2</tspan><tspan dy="-15">(AD) [H3K122ac]</tspan></text>
<text transform="translate(1491,1107) rotate(-90)" x="0" y="0" font-size="46" fill="#1a1a1a" stroke="#1a1a1a">log<tspan font-size="27.5" dy="15">2</tspan><tspan dy="-15">(AD) [RNA]</tspan></text>
</g>
<g id="pg">
<clipPath id="cg"><rect x="133.0" y="1333.1" width="540.4" height="490.4"/></clipPath>
<g clip-path="url(#cg)">
<g clip-path="url(#gg)"><g fill="#707070" fill-opacity="0.12" filter="url(#bl4)"><path d="M171 1580l-15 11l0 195l10 4l18 0l6-3l23-26l23-41l2-10l-5-18l2-34l-4-16l-16-28l-9-24l-12-6z"/><path d="M164 1608l-8 7l0 159l15 3l22-9l11-12l14-36l0-64l-6-19l-30-24z"/><path d="M169 1633l-9 6l-4 8l0 115l8 4l13-1l12-7l8-10l8-21l0-23l-7-50l-11-12z"/><path d="M173 1663l-8 2l-9 11l0 74l8 6l9 0l10-5l8-10l5-15l-1-22l-8-26l-6-10z"/><path d="M168 1682l-12 11l0 45l7 8l9 1l11-8l6-22l-8-25l-7-8z"/></g></g><g clip-path="url(#gg)"><g fill="#e8231f" fill-opacity="0.2" filter="url(#bl3)"><path d="M215 1659l-1 5l5 1l1-5zM207 1633l-3 3l0 4l2 2l4 0l3-3l0-4l-2-2zM157 1616l-1 5l4 4l0 3l-6 4l-2 12l2 22l-3 7l1 16l-2 5l1 60l6 15l11-2l11 2l16-9l-1-13l9-5l-1-9l4-10l6-3l-1-5l-4 0l-3 5l-5 0l-2-2l5-10l0-10l-4-3l-2-7l2-2l5 4l5 0l3-6l-7-8l-4-1l-5 3l-2-1l3-8l8-5l-2-14l-11-5l-12 0l0-5l2-2l5 0l3-3l-1-5l-2-2l-5 0l-5 6l-2-2l0-4l-12-12z"/><path d="M192 1753l-3-1l-4 3l-2 6l8 0l2-3zM199 1678l-1 4l8 5l1-4l-4-5zM208 1636l-1 2l2 1l1-2zM180 1632l2 4l4-1l0-4l-4-1zM167 1626l-2 0l-8 8l-3 11l2 22l-3 5l0 19l-2 5l0 40l2 6l0 13l4 5l1 6l11-1l13-14l6-2l6-6l6-1l1-4l-2-4l3-8l-9-8l5-7l0-10l-6-11l1-9l-3-3l0-5l10-11l-2-4l1-4l-9-6l-17 2l-5-6l3-7l0-8z"/><path d="M190 1755l-3 1l-1 3l3 1l2-2zM200 1680l2 3l1-2zM168 1629l-2 0l-9 9l-2 15l3 12l-4 7l0 18l-2 5l0 42l2 5l0 12l6 9l6 1l4-2l2-6l4-1l15-12l0-7l8-5l-1-5l-7-8l4-18l-8-7l4-8l-4-13l6-4l3-8l0-6l-8-4l-14 1l-2 3l3 7l-3 1l-3-4l0-8l-4-5l4-13z"/><path d="M175 1652l-1 3l4 2l2-4zM161 1635l-3 4l1 5l-3 8l2 15l-3 5l0 17l-3 10l1 39l3 18l11 6l3-8l2-2l6 0l8-9l3-1l1-8l7-3l0-3l-5-5l-3-7l4-17l-8-5l3-6l0-9l-4-6l1-5l3 2l3-1l0-7l3-6l-10-4l3 6l-1 6l-3 1l-3-4l-3 0l-3 4l-3 0l-3-5l0-9l-7-5l0-2l4-3l1-5z"/><path d="M159 1649l0 18l-3 4l0 17l-3 8l0 38l3 21l11 3l4-8l6 1l4-3l1-7l6 0l0-7l7-5l-3-3l-4-11l4-15l-8-5l3-7l0-9l-5-8l-1-6l-3-2l-5 5l-3 0l-2-2l-1-14l-4-3zM166 1673l2-3l1 2l-2 2zM163 1636l-3 2l1 4l4-3z"/><path d="M160 1651l0 17l-4 6l0 15l-3 9l0 26l3 29l3 3l6 1l6-8l5 1l4-3l0-6l2-2l6 0l-1-6l4-4l-3-10l2-18l-7-6l3-7l0-9l-5-7l-1-6l-2-1l-8 7l-2 4l-3 0l-1-5l3-9l0-8l-2-3zM176 1683l2 4l-3 2l-2-4z"/><path d="M178 1667l-11 11l-5-4l1-6l-2 0l-4 5l0 15l-3 7l0 39l4 21l8 0l5-7l7 0l1-8l2-2l6 0l-1-6l4-4l-3-8l0-16l-5-9l3-7l0-10zM175 1682l5 4l-3 5l-6-3l0-3zM164 1652l-4 1l-1 4l3 9l4-4l0-8z"/><path d="M179 1672l-7 1l-5 6l-6-4l0-4l-3 2l-1 16l-3 7l0 32l4 26l7 0l6-7l6 0l2-8l5-3l1-5l4-4l-3-7l0-13l-3-4l0-5l-2-3l0-4l3-3l0-10zM173 1682l5 0l3 3l-1 5l-3 3l-8-5l1-4zM164 1653l-3 1l-1 7l2 2l2 0l2-4z"/><path d="M177 1673l-5 1l-4 6l-9-5l-2 7l1 5l-4 11l0 27l5 28l6 0l5-6l6-1l4-10l8-9l0-3l-3-3l1-9l-4-6l0-8l-2-4l-7 0l-5-4l0-5l2-3l13 0l0-5zM164 1655l-3 2l1 5l3-2z"/><path d="M160 1678l-2 2l0 8l-3 7l0 37l3 7l1 13l4 0l6-5l8-3l0-3l5-10l5-4l0-3l-3-3l1-10l-4-4l0-10l-2-2l-9 0l-3-5l0-8zM170 1679l1 2l12-1l-2-4l-5-2l-4 1zM164 1657l-2 1l1 3z"/><path d="M161 1679l-2 1l-1 9l-3 7l1 39l3 4l-2 5l3 7l5-1l4-4l6-1l6-14l5-4l0-3l-4-4l3-6l-5-7l0-10l-9 0l-4-5l-1-10zM172 1677l1 3l9-1l-1-2l-6-2z"/></g></g><g fill="none" stroke="#e63a26" stroke-opacity="0.85" stroke-width="4.3" stroke-linecap="round"><path d="M199 1511h0m1 13h0m-36 34h0m117 20h0m-36 1h0m-69 4h0m-13 17h0m-1 1h0m34 0h0m74 8h0m-58 1h0m-41 14h0m16 0h0m-27 5h0m9 4h0m39 2h0m31 3h0m2 0h0m-54 2h0m15 0h0m-36 2h0m-7 1h0m4 0h0m9 2h0m22 0h0m-27 2h0m41 0h0m-32 1h0m20 0h0m-34 2h0m3 0h0m14 2h0m0 1h0m-4 3h0m4 1h0m62 0h0m-85 4h0m61 0h0m48 0h0m4 0h0m127 0h0m-222 3h0m-18 1h0m116 1h0m-106 1h0m27 3h0m1 2h0m34 1h0m-61 1h0m-4 2h0m98 0h0m-85 1h0m23 2h0m-42 1h0m9 0h0m32 3h0m-4 1h0m-19 1h0m33 0h0m-50 2h0m6 3h0m42 0h0m-46 1h0m50 0h0m148 0h0m-126 1h0m-50 1h0m166 0h0m-188 1h0m1 0h0m20 2h0m3 0h0m134 0h0m-150 1h0m24 0h0m13 0h0m0 0h0m-28 3h0m3 8h0m2 1h0m4 0h0m15 1h0m-22 2h0m11 0h0m-27 2h0m-4 2h0m5 0h0m34 2h0m19 0h0m-55 1h0m3 0h0m2 1h0m27 0h0m159 0h0m-193 2h0m6 0h0m20 1h0m9 0h0m13 0h0m172 2h0m-222 1h0m2 0h0m183 0h0m-174 1h0m4 0h0m28 0h0m-33 1h0m44 2h0m-8 3h0m120 1h0m-161 4h0m64 0h0m-69 1h0m2 2h0m9 2h0m248 0h0m-223 1h0m2 3h0m-36 1h0m22 0h0m-23 1h0m28 0h0m226 0h0m-204 5h0m-30 1h0m-19 1h0m11 0h0m-15 1h0m2 1h0m3 5h0m10 2h0m-9 12h0m-5 5h0m24 5h0m46 0h0m-25 4h0m-12 5h0m-8 3h0"/><path d="M220 1421h0m44 18h0m-73 2h0m-23 99h0m-2 33h0m48 3h0m-40 4h0m9 3h0m21 22h0m-30 1h0m22 3h0m-39 4h0m40 0h0m-32 1h0m-6 4h0m5 1h0m55 1h0m-57 2h0m29 1h0m19 4h0m-28 2h0m22 3h0m-45 2h0m99 0h0m-78 1h0m-6 1h0m69 0h0m-82 1h0m50 2h0m-8 8h0m-41 6h0m27 1h0m30 0h0m-45 2h0m76 2h0m-88 1h0m46 0h0m9 3h0m-58 1h0m124 2h0m-80 2h0m-39 1h0m38 1h0m-20 2h0m22 1h0m-37 3h0m156 1h0m-152 1h0m168 5h0m73 0h0m-237 2h0m2 0h0m48 0h0m-64 4h0m11 0h0m12 0h0m96 0h0m6 1h0m31 1h0m-139 1h0m30 0h0m-6 1h0m52 0h0m-86 1h0m16 2h0m9 3h0m33 2h0m69 2h0m-138 2h0m45 0h0m23 0h0m-46 1h0m3 1h0m47 6h0m84 0h0m-144 2h0m-9 2h0m131 0h0m-84 2h0m-29 1h0m-10 1h0m22 1h0m-17 1h0m30 0h0m-39 2h0m0 2h0m41 0h0m-1 1h0m-39 2h0m26 0h0m10 2h0m-14 4h0m-28 1h0m40 1h0m-13 1h0m12 0h0m-12 4h0m9 0h0m-39 2h0m24 0h0m146 0h0m25 1h0m-192 2h0m48 0h0m-38 4h0m-1 3h0m25 1h0m9 2h0m-5 5h0m-37 2h0m24 2h0m7 0h0m-31 1h0m-3 2h0m31 15h0m-19 3h0m38 3h0m101 1h0"/><path d="M184 1514h0m-7 31h0m231 14h0m-210 30h0m-33 5h0m-2 4h0m160 1h0m-157 5h0m17 0h0m15 0h0m-24 3h0m73 2h0m15 8h0m19 0h0m-105 2h0m-14 5h0m21 0h0m-3 1h0m88 0h0m-93 5h0m13 1h0m-22 2h0m9 0h0m9 4h0m28 3h0m-50 2h0m25 1h0m-15 1h0m2 1h0m33 0h0m1 0h0m-22 1h0m22 0h0m-24 1h0m22 1h0m-31 3h0m9 0h0m13 0h0m-7 1h0m20 0h0m-48 3h0m-1 2h0m53 2h0m-27 1h0m15 2h0m-11 4h0m11 1h0m-45 2h0m4 1h0m73 4h0m22 0h0m-65 2h0m35 1h0m-58 1h0m23 3h0m4 1h0m-29 1h0m42 0h0m93 3h0m-124 1h0m-16 1h0m-5 1h0m29 0h0m-24 1h0m25 0h0m-20 1h0m1 6h0m23 2h0m78 2h0m-70 1h0m60 1h0m-78 1h0m25 1h0m-20 1h0m37 5h0m-44 1h0m11 2h0m2 0h0m4 0h0m180 1h0m-204 1h0m35 0h0m-47 2h0m5 2h0m3 0h0m15 1h0m-21 1h0m-3 2h0m27 1h0m-7 2h0m95 1h0m-107 1h0m10 0h0m282 0h0m-230 6h0m-45 1h0m-17 1h0m0 3h0m27 2h0m-19 4h0m14 0h0m-12 2h0m-7 3h0m19 1h0m-12 2h0m7 3h0m-4 3h0m-1 3h0m48 0h0m-45 1h0m-20 3h0m6 6h0m-10 3h0m36 25h0"/><path d="M169 1463h0m42 8h0m-20 14h0m18 89h0m-38 11h0m18 1h0m8 4h0m19 3h0m-53 3h0m39 8h0m-18 1h0m6 1h0m7 0h0m-38 1h0m5 0h0m28 1h0m99 0h0m-122 3h0m-9 2h0m0 7h0m-3 4h0m25 0h0m19 3h0m-44 1h0m14 2h0m38 3h0m-51 1h0m47 0h0m-16 1h0m72 1h0m-74 1h0m-14 2h0m21 2h0m2 6h0m19 2h0m-21 6h0m-15 1h0m11 1h0m5 1h0m2 3h0m24 0h0m105 2h0m-153 1h0m23 0h0m4 2h0m20 0h0m-6 2h0m-24 1h0m12 5h0m180 3h0m-69 4h0m-155 1h0m27 0h0m159 2h0m-182 1h0m35 1h0m22 0h0m-62 1h0m50 0h0m-46 3h0m32 0h0m7 2h0m-40 1h0m2 0h0m4 0h0m33 1h0m72 0h0m-95 1h0m-14 1h0m39 3h0m3 3h0m-34 3h0m-7 1h0m1 1h0m1 1h0m183 0h0m-143 1h0m-19 2h0m10 0h0m14 0h0m-30 1h0m52 2h0m17 0h0m-55 1h0m10 0h0m31 0h0m-22 1h0m-29 1h0m5 0h0m-25 2h0m12 0h0m1 0h0m52 0h0m-57 1h0m47 1h0m-39 4h0m-19 1h0m8 0h0m-9 1h0m33 1h0m-35 1h0m9 1h0m-6 1h0m6 1h0m5 0h0m2 0h0m-15 2h0m5 0h0m10 2h0m2 3h0m-5 1h0m23 3h0m-12 4h0m-24 2h0m275 0h0m-232 3h0m-23 3h0m-10 2h0m17 2h0m183 0h0m-189 1h0m105 1h0m-107 3h0m-10 24h0"/></g>
<polygon points="157.3,1688.6 174.7,1685.6 192.1,1682.0 209.5,1677.8 226.9,1673.3 244.2,1668.7 261.6,1664.0 279.0,1659.2 296.4,1654.5 313.8,1649.7 331.2,1644.9 348.6,1640.1 366.0,1635.3 383.3,1630.5 400.7,1625.7 418.1,1620.9 435.5,1616.0 452.9,1611.2 470.3,1606.4 487.7,1601.6 505.1,1596.7 522.4,1591.9 539.8,1587.1 557.2,1582.3 574.6,1577.4 574.6,1645.4 557.2,1647.3 539.8,1649.2 522.4,1651.0 505.1,1652.9 487.7,1654.8 470.3,1656.7 452.9,1658.6 435.5,1660.5 418.1,1662.4 400.7,1664.3 383.3,1666.2 366.0,1668.1 348.6,1670.0 331.2,1671.9 313.8,1673.9 296.4,1675.8 279.0,1677.7 261.6,1679.7 244.2,1681.7 226.9,1683.8 209.5,1686.1 192.1,1688.6 174.7,1691.6 157.3,1695.4" fill="#fbe3d8"/>
<line x1="157.3" y1="1692.0" x2="574.6" y2="1611.4" stroke="#000" stroke-width="3.8"/>
</g>
<rect x="133.0" y="1333.1" width="540.4" height="490.4" fill="none" stroke="#333" stroke-width="2.2"/>
<path d="M124.0 1801.3H133.0M124.0 1652.4H133.0M124.0 1503.4H133.0M124.0 1354.5H133.0M156.0 1823.5V1832.5M320.6 1823.5V1832.5M485.0 1823.5V1832.5M649.2 1823.5V1832.5" stroke="#333" stroke-width="4.4" fill="none"/>
<text x="125.0" y="1816.5" font-size="39.5" fill="#4d4d4d" stroke="#4d4d4d" text-anchor="end">0</text>
<text x="125.0" y="1667.6" font-size="39.5" fill="#4d4d4d" stroke="#4d4d4d" text-anchor="end">1</text>
<text x="125.0" y="1518.6" font-size="39.5" fill="#4d4d4d" stroke="#4d4d4d" text-anchor="end">2</text>
<text x="125.0" y="1369.7" font-size="39.5" fill="#4d4d4d" stroke="#4d4d4d" text-anchor="end">3</text>
<text x="156.0" y="1866.0" font-size="39.5" fill="#4d4d4d" stroke="#4d4d4d" text-anchor="middle">0</text>
<text x="320.6" y="1866.0" font-size="39.5" fill="#4d4d4d" stroke="#4d4d4d" text-anchor="middle">1</text>
<text x="485.0" y="1866.0" font-size="39.5" fill="#4d4d4d" stroke="#4d4d4d" text-anchor="middle">2</text>
<text x="649.2" y="1866.0" font-size="39.5" fill="#4d4d4d" stroke="#4d4d4d" text-anchor="middle">3</text>
<text x="149.2" y="1376.7" font-size="46" fill="#1a1a1a" stroke="#1a1a1a">Pearson r = 0.16</text>
<text x="149.2" y="1413.0" font-size="46" fill="#1a1a1a" stroke="#1a1a1a">p &lt; 3.2e-5</text>
<text x="-2" y="1324" font-size="53" font-weight="bold" fill="#000">g</text>
<text x="136.1" y="1907" font-size="46" fill="#1a1a1a" stroke="#1a1a1a">I log<tspan font-size="27.5" dy="15">2</tspan><tspan dy="-15">(AD/Old) I [H3K27ac]</tspan></text>
<text transform="translate(76,1804) rotate(-90)" x="0" y="0" font-size="46" fill="#1a1a1a" stroke="#1a1a1a">I log<tspan font-size="27.5" dy="15">2</tspan><tspan dy="-15">(AD/Old) I [RNA]</tspan></text>
</g>
<g id="ph">
<clipPath id="ch"><rect x="848.4" y="1333.1" width="540.3" height="489.9"/></clipPath>
<g clip-path="url(#ch)">
<g clip-path="url(#gh)"><g fill="#707070" fill-opacity="0.12" filter="url(#bl4)"><path d="M879 1567l-7 4l0 225l6 4l16 0l27-37l16-58l21 0l-8-19l9-17l-19-5l-3-18l-14-18l-6-13l-11-39l-9-7z"/><path d="M880 1590l-8 8l0 182l14 3l19-14l7-13l7-25l1-27l-3-15l0-34l-7-24l-16-34l-6-6z"/><path d="M885 1622l-6 4l-7 23l0 118l9 4l9-2l10-9l8-18l3-16l0-25l-6-36z"/><path d="M880 1661l-8 7l0 88l6 4l8 0l9-7l7-16l2-35l-10-34l-7-7z"/><path d="M880 1676l-8 10l0 58l6 6l7 0l6-5l5-11l2-30l-8-23l-5-5z"/></g></g><g clip-path="url(#gh)"><g fill="#e8231f" fill-opacity="0.2" filter="url(#bl3)"><path d="M880 1594l-5 1l1 8l-5 13l2 6l-3 12l1 12l-1 10l-3 6l1 11l-2 14l0 59l2 6l0 12l4 5l-3 6l4 5l4 0l2-2l2-8l11 0l6-7l1-7l3-5l-1-7l5-9l0-9l-4-5l3-4l0-7l3-4l0-8l-2-8l-5-6l2-7l-2-10l10-6l-1-5l-11-2l-2-2l5-6l3 0l5-4l0-5l-2-2l-9 0l-4-12l0-7l-4-2l-11-12z"/><path d="M873 1772l-1 4l2 2l3-1l0-5zM878 1607l-4 9l0 11l2 3l4 1l-2 2l1 5l-5 4l-2 14l-4 9l0 83l3 17l7 2l13 0l1-5l4-3l3-9l0-8l5-9l0-6l-5-7l4-4l-1-7l3-3l1-5l-8-22l3-4l-2-9l7-6l0-2l-7-2l-6 1l-3-2l0-3l9-8l7-1l2-4l-4-2l-8 4l-3-3l0-13l-7-4l0-9l-4-4z"/><path d="M889 1632l-4 1l-3 7l-7 5l-2 5l1 4l-5 10l0 85l2 14l2 2l7 1l3-1l6-7l6-1l2-13l6-12l0-4l-6-8l4-4l-1-8l4-4l-2-10l-3-3l0-6l-6-8l1-3l4 0l-1-7l5-8l-11-1l-3-3l0-9l4-3zM880 1611l-4 6l0 9l8 1l0-14z"/><path d="M888 1635l-2 0l-4 9l-6 2l-1 9l-5 8l1 11l-2 12l-1 37l3 37l3 4l8 0l5-6l7-2l2-12l6-13l-6-11l4-6l-1-7l3-4l0-4l-4-6l0-8l-7-9l8-16l-9-1l-3-3l-1-11l4-4zM878 1618l0 7l4 1l2-3l-1-3z"/><path d="M877 1647l-1 10l-6 8l-1 78l3 18l8 3l7-7l7-3l3-20l3-3l-5-14l6-17l-5-8l1-8l-7-8l1-8l5-4l0-3l-7-1l-3-3l-2-8zM880 1620l-1 3l3 1l0-3z"/><path d="M875 1659l-4 5l1 10l-2 5l0 68l3 14l2 2l6 0l6-7l4 0l2-2l3-21l3-3l-4-8l0-9l5-14l-4-5l1-8l-6-7l-3-10l5-7l-8-3l-4 2zM877 1650l2 4l5 1l-2-5z"/><path d="M875 1660l-4 5l1 10l-3 45l2 18l-1 7l4 16l7 1l5-6l6-2l3-11l-1-8l3-5l-3-10l0-7l5-14l-4-4l1-10l-6-6l-3-9l2-8l-10 0z"/><path d="M875 1661l-3 3l1 9l-2 4l-1 58l4 25l7 1l5-6l5-1l3-9l-1-9l3-9l-3-12l5-16l-4-4l2-8l-6-7l-4-10l2-7l-9 0z"/><path d="M885 1662l-3 2l-8-2l-2 3l1 9l-3 30l1 43l3 11l3 3l4-1l4-5l6-2l2-7l0-13l2-3l-2-17l4-12l-4-5l2-10l-5-5l-5-11l2-6z"/><path d="M874 1663l-3 25l0 58l4 12l4 2l6-6l5-1l3-8l-1-12l2-8l-2-10l3-7l0-7l-4-5l3-10l-4-4l-6-13l2-5l-7 1z"/><path d="M874 1664l-3 29l0 52l4 12l5 1l5-5l3 0l4-7l0-33l3-9l-5-9l4-8l-5-5l-6-14l-6-4z"/></g></g><g fill="none" stroke="#e63a26" stroke-opacity="0.85" stroke-width="4.3" stroke-linecap="round"><path d="M888 1483h0m-1 3h0m49 60h0m-62 23h0m46 1h0m-26 7h0m40 4h0m-44 1h0m-13 8h0m3 0h0m-4 4h0m24 1h0m-17 2h0m-3 4h0m-1 8h0m10 1h0m-6 3h0m7 4h0m-9 1h0m-5 1h0m41 1h0m86 4h0m-90 3h0m54 7h0m-64 3h0m20 3h0m-31 3h0m30 0h0m-37 3h0m3 1h0m53 2h0m-61 2h0m21 0h0m24 0h0m-14 1h0m63 5h0m-71 2h0m106 0h0m-135 1h0m11 2h0m5 3h0m17 1h0m20 0h0m-22 4h0m-24 2h0m15 2h0m3 0h0m6 1h0m-26 4h0m15 5h0m127 2h0m-142 7h0m1 0h0m21 0h0m-6 2h0m-15 6h0m74 0h0m-80 1h0m77 0h0m-64 1h0m21 1h0m-25 2h0m4 2h0m-3 4h0m39 0h0m-40 1h0m-9 3h0m30 0h0m-18 1h0m-10 1h0m40 0h0m-36 2h0m2 0h0m217 0h0m-201 2h0m-6 1h0m101 0h0m-113 1h0m15 0h0m19 1h0m-30 3h0m17 0h0m79 1h0m-101 1h0m19 0h0m14 2h0m168 0h0m-194 3h0m6 4h0m69 0h0m-85 1h0m-2 1h0m29 4h0m52 1h0m-73 3h0m61 0h0m86 4h0m-141 1h0m-13 5h0m23 0h0m-5 1h0m31 1h0m-24 2h0m15 0h0m-34 1h0m11 2h0m-4 1h0m3 0h0m8 4h0m-14 5h0m15 2h0m-14 2h0m-11 1h0m-2 1h0m48 11h0m-36 3h0m12 3h0m73 1h0"/><path d="M903 1408h0m-23 35h0m31 53h0m6 30h0m7 4h0m14 4h0m-65 7h0m48 18h0m-43 8h0m0 4h0m27 0h0m-17 5h0m13 0h0m-25 12h0m175 5h0m-178 1h0m56 4h0m-50 2h0m9 3h0m113 3h0m-125 1h0m-3 2h0m24 7h0m-9 2h0m4 0h0m-11 4h0m2 0h0m-7 1h0m-3 1h0m19 1h0m4 5h0m10 0h0m-30 2h0m68 6h0m109 0h0m-63 3h0m-116 3h0m8 5h0m14 1h0m16 4h0m-1 2h0m-27 4h0m23 0h0m2 0h0m63 4h0m-19 1h0m-54 2h0m8 0h0m-23 2h0m102 0h0m-94 2h0m67 1h0m-58 3h0m140 2h0m-147 1h0m6 5h0m23 3h0m-41 3h0m-7 6h0m17 0h0m10 0h0m1 0h0m-17 2h0m-12 1h0m51 4h0m-51 1h0m89 1h0m-50 2h0m-31 1h0m1 2h0m49 1h0m-48 1h0m209 0h0m-134 1h0m-82 2h0m-3 1h0m26 0h0m22 3h0m-42 2h0m11 0h0m-8 4h0m9 6h0m6 0h0m6 1h0m0 2h0m-16 2h0m-14 1h0m37 4h0m-38 4h0m72 2h0m-49 3h0m65 2h0m-65 2h0m-16 3h0m-4 6h0m0 2h0m74 3h0m-77 4h0m9 3h0m136 2h0m-129 5h0m19 13h0"/><path d="M876 1460h0m7 1h0m-6 48h0m17 24h0m-11 12h0m31 3h0m-35 30h0m-2 4h0m-2 2h0m3 2h0m26 0h0m-7 3h0m8 0h0m15 6h0m-41 2h0m20 2h0m131 3h0m-129 3h0m-6 2h0m-20 5h0m-2 4h0m5 3h0m6 0h0m28 2h0m-29 1h0m1 0h0m-8 2h0m16 3h0m137 0h0m-132 5h0m-22 1h0m1 0h0m8 0h0m2 0h0m0 0h0m-7 1h0m12 2h0m116 0h0m-126 2h0m-7 2h0m7 3h0m0 0h0m56 0h0m-62 1h0m35 2h0m-9 2h0m119 8h0m-143 1h0m-4 5h0m8 1h0m25 2h0m-32 4h0m2 0h0m28 1h0m34 0h0m16 0h0m31 3h0m-108 2h0m80 1h0m-73 1h0m13 0h0m8 0h0m21 0h0m-47 1h0m25 1h0m36 1h0m-48 2h0m51 1h0m-63 1h0m22 2h0m80 2h0m-76 2h0m34 1h0m93 0h0m-140 1h0m231 1h0m-246 1h0m26 7h0m-30 1h0m78 1h0m0 3h0m29 0h0m-79 2h0m145 1h0m-171 1h0m9 0h0m-5 1h0m1 0h0m14 1h0m70 1h0m-91 2h0m-1 1h0m8 0h0m2 0h0m-8 1h0m2 0h0m1 3h0m37 0h0m-24 1h0m47 1h0m-62 1h0m4 1h0m21 0h0m-15 1h0m19 0h0m85 1h0m-103 2h0m-5 1h0m11 1h0m22 0h0m-22 1h0m45 1h0m-44 4h0m-12 2h0m59 2h0m-61 1h0m18 0h0m-14 1h0m16 0h0m-21 14h0m17 0h0m-15 1h0m4 4h0m-8 9h0m-4 1h0m25 2h0m-24 9h0m5 4h0m3 7h0m3 6h0m10 0h0m94 1h0"/><path d="M905 1397h0m-9 108h0m48 31h0m-43 27h0m70 24h0m-82 2h0m-5 2h0m4 5h0m-15 2h0m14 6h0m-7 3h0m11 0h0m8 6h0m1 2h0m85 0h0m-112 1h0m30 1h0m-28 1h0m22 2h0m90 1h0m-111 6h0m18 0h0m-19 4h0m16 1h0m-12 2h0m29 0h0m0 2h0m-33 2h0m30 1h0m-22 3h0m56 3h0m84 2h0m-106 2h0m-43 1h0m28 0h0m-10 5h0m27 1h0m16 0h0m85 0h0m-133 2h0m-3 1h0m7 0h0m15 1h0m-32 2h0m22 1h0m66 0h0m44 0h0m-45 2h0m-78 4h0m7 2h0m3 0h0m-8 2h0m10 1h0m26 4h0m-42 3h0m5 1h0m-3 1h0m58 0h0m-50 1h0m28 0h0m60 0h0m-89 1h0m-14 4h0m17 1h0m-1 1h0m2 2h0m117 0h0m-129 4h0m11 0h0m58 0h0m-70 1h0m124 0h0m-120 1h0m21 5h0m-4 1h0m1 3h0m17 0h0m-38 1h0m28 1h0m5 0h0m-35 2h0m26 0h0m0 0h0m74 2h0m-94 6h0m26 0h0m-37 1h0m123 0h0m19 3h0m6 0h0m-116 5h0m-20 1h0m-9 1h0m-2 3h0m-1 1h0m10 0h0m40 2h0m91 0h0m-134 1h0m18 0h0m-18 1h0m2 0h0m-2 2h0m19 0h0m-13 3h0m18 3h0m3 0h0m-29 3h0m4 0h0m0 0h0m12 2h0m-18 3h0m26 4h0m101 0h0m-115 1h0m5 0h0m-15 5h0m36 0h0m-18 1h0m32 0h0m-48 6h0m6 10h0m147 5h0m-108 7h0m-46 6h0m9 0h0"/></g>
<polygon points="872.6,1689.8 884.3,1687.8 895.9,1685.3 907.6,1682.3 919.2,1679.0 930.9,1675.6 942.6,1672.2 954.2,1668.6 965.9,1665.1 977.5,1661.5 989.2,1657.9 1000.8,1654.3 1012.5,1650.7 1024.2,1647.0 1035.8,1643.4 1047.5,1639.8 1059.1,1636.2 1070.8,1632.5 1082.5,1628.9 1094.1,1625.3 1105.8,1621.6 1117.4,1618.0 1129.1,1614.4 1140.7,1610.7 1152.4,1607.1 1152.4,1664.1 1140.7,1665.3 1129.1,1666.4 1117.4,1667.6 1105.8,1668.8 1094.1,1669.9 1082.5,1671.1 1070.8,1672.3 1059.1,1673.4 1047.5,1674.6 1035.8,1675.8 1024.2,1677.0 1012.5,1678.1 1000.8,1679.3 989.2,1680.5 977.5,1681.7 965.9,1682.9 954.2,1684.2 942.6,1685.4 930.9,1686.8 919.2,1688.2 907.6,1689.7 895.9,1691.5 884.3,1693.8 872.6,1696.6" fill="#fbe3d8"/>
<line x1="872.6" y1="1693.2" x2="1152.4" y2="1635.6" stroke="#000" stroke-width="3.8"/>
</g>
<rect x="848.4" y="1333.1" width="540.3" height="489.9" fill="none" stroke="#333" stroke-width="2.2"/>
<path d="M839.4 1801.3H848.4M839.4 1652.4H848.4M839.4 1503.6H848.4M839.4 1354.7H848.4M872.6 1823.0V1832.0M1036.7 1823.0V1832.0M1200.8 1823.0V1832.0M1365.3 1823.0V1832.0" stroke="#333" stroke-width="4.4" fill="none"/>
<text x="833.8" y="1816.2" font-size="39.5" fill="#4d4d4d" stroke="#4d4d4d" text-anchor="end">0</text>
<text x="833.8" y="1667.3" font-size="39.5" fill="#4d4d4d" stroke="#4d4d4d" text-anchor="end">1</text>
<text x="833.8" y="1518.5" font-size="39.5" fill="#4d4d4d" stroke="#4d4d4d" text-anchor="end">2</text>
<text x="833.8" y="1369.6" font-size="39.5" fill="#4d4d4d" stroke="#4d4d4d" text-anchor="end">3</text>
<text x="872.6" y="1865.5" font-size="39.5" fill="#4d4d4d" stroke="#4d4d4d" text-anchor="middle">0</text>
<text x="1036.7" y="1865.5" font-size="39.5" fill="#4d4d4d" stroke="#4d4d4d" text-anchor="middle">1</text>
<text x="1200.8" y="1865.5" font-size="39.5" fill="#4d4d4d" stroke="#4d4d4d" text-anchor="middle">2</text>
<text x="1365.3" y="1865.5" font-size="39.5" fill="#4d4d4d" stroke="#4d4d4d" text-anchor="middle">3</text>
<text x="858.9" y="1378.0" font-size="46" fill="#1a1a1a" stroke="#1a1a1a">Pearson r = 0.13</text>
<text x="858.9" y="1413.0" font-size="46" fill="#1a1a1a" stroke="#1a1a1a">p &lt; 5.1e-4</text>
<text x="716" y="1324" font-size="53" font-weight="bold" fill="#000">h</text>
<text x="862.3" y="1907" font-size="46" fill="#1a1a1a" stroke="#1a1a1a">I log<tspan font-size="27.5" dy="15">2</tspan><tspan dy="-15">(AD/Old) I [H3K9ac]</tspan></text>
<text transform="translate(784.9,1804) rotate(-90)" x="0" y="0" font-size="46" fill="#1a1a1a" stroke="#1a1a1a">I log<tspan font-size="27.5" dy="15">2</tspan><tspan dy="-15">(AD/Old) I [RNA]</tspan></text>
</g>
<g id="pi">
<clipPath id="ci"><rect x="1554.3" y="1334.4" width="540.3" height="489.9"/></clipPath>
<g clip-path="url(#ci)">
<g clip-path="url(#gi)"><g fill="#707070" fill-opacity="0.12" filter="url(#bl4)"><path d="M1589 1578l-4 3l-8 26l0 165l17 19l21 5l30-12l15-20l9-26l-1-23l10-33l0-14l-11-25l0-19l-6-14l-29-21l-21 6l-14-1z"/><path d="M1605 1613l-15 9l-11 22l-2 106l17 26l11 6l9 1l25-9l15-20l6-19l2-61l-3-11l-18-33l-19-15z"/><path d="M1609 1650l-10 7l-13 27l-4 47l3 15l6 11l9 9l18 5l15-5l10-10l9-25l0-21l-4-24l-11-22l-14-12z"/><path d="M1615 1678l-11 5l-10 13l-4 16l0 23l10 19l10 6l10 1l7-2l10-9l6-13l2-19l-3-16l-6-12l-11-10z"/><path d="M1614 1693l-12 8l-5 13l-1 15l5 14l8 7l9 2l7-2l8-8l5-22l-8-21l-7-5z"/></g></g><g clip-path="url(#gi)"><g fill="#e8231f" fill-opacity="0.2" filter="url(#bl3)"><path d="M1579 1668l-1 5l5 1l1-5zM1619 1642l-4 2l-3 6l-11 3l-8-1l-3 2l0 5l8 4l-2 3l2 8l-13 1l-1 9l3 4l6 3l0 8l-4 3l-4-1l0-11l-4 0l-5 6l0 4l8 4l-1 7l7 3l4 4l0 2l-7 5l1 7l-5 4l0 4l8 9l1 8l6 6l8 1l6 6l-2 4l1 5l5-1l0-5l2-2l11-4l5-5l8-4l-1-11l11-20l0-5l-4-5l0-16l-8-8l1-2l8-1l4-9l-1-5l-7-3l-4-4l1-3l6-2l0-5l-6-5l-9 2l-4 3l-5-1l-2-2l2-6zM1598 1663l2-2l3 1l-1 2zM1592 1637l-1 5l5 1l1-5zM1613 1624l-2 4l2 7l6 5l3-1l3-4l-1-4l-7-7z"/><path d="M1583 1694l-4 2l1 4l3-2zM1609 1653l-3 2l3 4l-3 4l-2 12l-4 3l-5 0l-3-2l-6 2l0 5l5 3l5 7l-1 7l-9 8l10 10l0 3l-4 5l0 4l-5 6l-1 4l7 7l0 7l2 3l6 4l6 0l4 6l6 2l5-3l7-1l4-5l6-3l0-11l4-10l5-5l2-7l-7-3l2-4l0-15l-6-6l-2-5l3-4l5 2l3-1l2-10l-6-2l-5-5l-8 2l-3-3l4-6l8 0l4-2l-1-4l-5-1l-8 5l-4 0l-7-3l-7 0l-2-2l1-3zM1618 1647l-1 6l3 0l1-3zM1616 1629l0 5l5 2l1-3z"/><path d="M1613 1660l-5 3l0 7l-4 9l-9 1l-5-3l-3 3l0 2l5 3l5 7l0 7l-6 7l2 7l4 4l0 5l-3 4l-1 6l-5 6l0 3l7 5l0 9l12 4l6 8l4 0l3-2l7 0l10-9l3-21l7-5l1-5l-8-3l4-10l-1-6l-4-4l-4-10l3-6l0-5l2-1l1 4l5 3l2-2l0-6l-5 1l-4-7l-4 0l-4 3l-8-6l4-3l0-2l-7-4z"/><path d="M1609 1672l-4 8l-10 2l-3-3l-3 0l-1 2l7 4l3 7l-1 10l-4 4l0 5l4 5l1 5l-3 5l0 5l-5 5l-1 5l8 4l-1 8l5-1l11 10l2 4l2 0l3-3l7 1l4-5l6-3l3-23l6-3l1-3l-7-4l3-7l0-9l-5-5l0-4l-4-5l3-5l-1-8l-2-1l-8 6l-2-2l0-3l4-4l-2-2l-4-1l-6 6zM1611 1662l-2 5l3 3l5 0l4-5l-4-4z"/><path d="M1622 1675l-5 5l-5 0l-3-5l0 4l-2 2l-5 0l-5 3l2 14l-5 9l0 4l5 9l-3 6l0 5l-6 7l1 4l6 1l2 6l3 1l5 7l6 3l1 5l2-1l1-4l9 3l4-6l3 0l3-3l1-18l6-7l-6-7l4-6l1-7l-10-15l3-10l-1-2l-4 0l-4 5l-2 0l-3-6l2-4zM1610 1664l1 4l5 1l3-3l-2-4z"/><path d="M1602 1682l-4 3l2 11l-2 8l-3 3l0 5l4 5l0 6l-3 5l1 4l-6 5l0 3l2 2l4 0l11 15l8 1l3-2l4 6l3 0l0-4l2-2l5 0l2-2l0-12l2-9l3-4l-3-5l0-4l4-6l0-6l-6-6l-5-9l3-5l0-4l-3 0l-3 4l-4 0l-3-7l-11 3zM1613 1663l-2 3l5 2l2-2l-1-3z"/><path d="M1605 1684l-3-1l-3 4l3 1zM1618 1682l-4 1l0 3l4 3l-2 5l-5-5l-4 0l-6 4l-2 11l-4 6l5 11l-3 6l0 6l-5 4l0 3l5 1l7 8l2 5l4 3l5 0l4-3l7 2l8-3l1-15l3-8l-2-10l4-5l0-7l-9-10l-3-7l-5-2zM1612 1665l1 2l3 0l1-2z"/><path d="M1624 1690l-4 0l-2 5l-4 0l-4-4l-6 1l-3 3l-1 8l-4 6l4 8l0 6l-2 3l0 8l-5 3l0 3l4 0l12 16l6 0l4-4l5 3l6-3l2 1l3-5l-1-10l3-8l-2-10l4-5l1-6z"/><path d="M1624 1691l-2 0l-5 6l-4-1l-4-4l-5 1l-3 3l-1 9l-3 4l4 12l-3 6l1 7l-4 2l-1 3l4 1l6 6l2 6l5 4l4-1l4-4l6 3l4-3l4 0l1-2l-2-10l4-8l-1-12l4-5l0-6z"/><path d="M1605 1693l-4 5l0 7l-3 4l0 4l3 4l0 6l-2 3l1 7l-1 3l-4 2l2 0l9 9l2 7l6 1l4-5l7 3l7-3l2-3l-5-8l6-6l-1-14l5-9l-15-17l-2 0l-4 5z"/><path d="M1605 1694l-3 2l-1 10l-3 4l3 6l-2 23l8 8l2 7l5 0l3-5l8 3l8-4l0-3l-5-4l0-2l7-8l-2-10l4-6l1-6l-15-14l-4 4l-7-1l-4-4z"/></g></g><g fill="none" stroke="#e63a26" stroke-opacity="0.85" stroke-width="4.3" stroke-linecap="round"><path d="M1604 1429h0m69 47h0m-60 7h0m17 2h0m-40 50h0m4 20h0m26 19h0m-30 5h0m4 3h0m38 3h0m-43 1h0m39 17h0m-48 1h0m35 8h0m-22 2h0m34 2h0m28 0h0m66 1h0m-70 2h0m2 1h0m37 0h0m-46 2h0m9 2h0m-30 3h0m-30 1h0m47 0h0m-34 1h0m-5 1h0m10 4h0m12 1h0m56 1h0m-63 1h0m-22 1h0m123 0h0m-83 1h0m-27 1h0m11 0h0m-37 1h0m116 2h0m-61 1h0m-27 3h0m18 0h0m-12 1h0m12 1h0m6 0h0m15 1h0m-16 2h0m-41 1h0m18 1h0m13 0h0m31 0h0m-59 1h0m19 0h0m1 0h0m23 5h0m12 5h0m2 1h0m-73 4h0m108 0h0m-97 3h0m44 0h0m-18 2h0m24 0h0m-52 2h0m16 0h0m-17 2h0m-8 1h0m54 1h0m-12 1h0m41 0h0m-24 1h0m-9 3h0m0 4h0m-9 1h0m4 2h0m-1 4h0m27 0h0m-57 2h0m13 1h0m34 0h0m14 1h0m-74 1h0m64 0h0m-42 2h0m20 1h0m-10 1h0m15 0h0m-31 3h0m54 0h0m-43 4h0m5 0h0m-30 2h0m66 1h0m-65 3h0m21 0h0m13 0h0m-30 1h0m3 0h0m32 0h0m-14 1h0m10 0h0m-12 1h0m23 0h0m-23 1h0m6 2h0m10 0h0m-27 2h0m4 0h0m2 0h0m80 0h0m-67 1h0m24 0h0m1 0h0m3 2h0m-51 1h0m28 0h0m-6 2h0m27 0h0m-10 1h0m24 0h0m-70 1h0m50 0h0m-21 1h0m13 1h0m19 0h0m-14 5h0m-38 1h0m31 1h0m16 2h0m10 0h0m-67 1h0m40 1h0m-21 2h0m-21 1h0m-2 2h0m49 0h0m-14 2h0m15 0h0m-37 3h0m8 2h0m39 1h0m-27 3h0m27 0h0m-45 1h0m23 1h0m17 2h0m-27 3h0m35 4h0m-27 1h0m30 1h0m-56 5h0m13 2h0m-5 1h0"/><path d="M1595 1472h0m87 26h0m-80 28h0m23 8h0m-35 1h0m39 6h0m-41 12h0m65 3h0m16 1h0m-44 2h0m24 13h0m-55 2h0m44 17h0m-47 16h0m18 3h0m-13 1h0m19 0h0m-17 1h0m57 2h0m-49 1h0m66 0h0m-90 4h0m20 2h0m5 0h0m14 2h0m133 2h0m-129 2h0m-24 2h0m55 0h0m-33 1h0m46 3h0m-38 1h0m5 0h0m-4 4h0m-34 3h0m-6 1h0m32 0h0m-31 1h0m8 4h0m-4 3h0m-12 3h0m20 0h0m-9 2h0m14 0h0m5 0h0m28 0h0m-63 2h0m44 1h0m-22 1h0m1 0h0m-4 1h0m8 0h0m11 1h0m20 0h0m-42 3h0m26 0h0m-18 2h0m17 1h0m47 0h0m-85 4h0m24 0h0m22 1h0m-37 1h0m75 2h0m-84 4h0m8 1h0m3 0h0m39 1h0m18 0h0m-59 2h0m19 1h0m11 0h0m-41 1h0m27 0h0m37 1h0m36 3h0m-87 5h0m-14 1h0m2 1h0m63 0h0m16 0h0m5 0h0m50 3h0m-102 1h0m21 0h0m70 2h0m-74 4h0m22 2h0m-45 3h0m8 2h0m-19 2h0m51 0h0m-14 2h0m-17 1h0m-25 5h0m36 0h0m-35 1h0m50 1h0m-49 1h0m29 0h0m22 0h0m-44 3h0m46 0h0m-21 1h0m-11 2h0m16 1h0m33 3h0m-72 1h0m7 4h0m-13 2h0m26 5h0m14 1h0m8 0h0m-13 1h0m-18 3h0m24 1h0m-22 1h0m26 2h0m-13 1h0m21 2h0m-40 2h0m1 1h0m-6 4h0m15 8h0m-8 11h0m26 4h0"/><path d="M1624 1529h0m33 5h0m-67 12h0m66 8h0m-7 12h0m-2 1h0m-30 2h0m60 5h0m-97 3h0m34 4h0m-36 9h0m52 4h0m-4 5h0m11 2h0m18 0h0m-35 2h0m-37 1h0m41 1h0m27 0h0m-8 4h0m-14 3h0m-35 1h0m19 0h0m108 3h0m-109 1h0m19 2h0m-17 4h0m30 0h0m-39 1h0m4 0h0m1 3h0m-10 2h0m12 2h0m-31 2h0m18 0h0m-19 2h0m28 0h0m-29 2h0m5 0h0m59 0h0m-25 5h0m-36 5h0m-2 1h0m5 0h0m20 0h0m-13 3h0m25 2h0m5 0h0m3 0h0m49 1h0m-54 1h0m15 0h0m14 1h0m0 0h0m-57 2h0m14 0h0m46 0h0m4 0h0m-9 2h0m12 0h0m-15 4h0m-31 1h0m-31 4h0m19 0h0m9 0h0m6 0h0m44 0h0m-64 3h0m44 0h0m-38 1h0m17 1h0m4 0h0m72 1h0m-83 9h0m-18 1h0m36 1h0m33 0h0m-9 1h0m-1 1h0m62 0h0m-123 2h0m6 0h0m-10 1h0m69 0h0m-15 1h0m-25 2h0m27 0h0m4 0h0m-53 2h0m32 2h0m-42 2h0m4 0h0m58 1h0m-55 1h0m60 0h0m-14 1h0m-42 1h0m18 0h0m25 0h0m-48 1h0m23 1h0m8 1h0m0 1h0m-37 1h0m110 0h0m-61 2h0m86 0h0m-134 1h0m53 1h0m-41 1h0m21 8h0m7 0h0m-4 1h0m-3 1h0m-29 1h0m45 0h0m-34 1h0m38 2h0m-52 1h0m49 1h0m-24 1h0m14 0h0m4 0h0m13 2h0m-28 2h0m35 1h0m-59 1h0m42 2h0m-47 2h0m-8 1h0m27 1h0m-8 2h0m20 1h0m30 1h0m-17 1h0m35 0h0m-62 1h0m18 0h0m-23 2h0m-1 1h0m-1 1h0m45 1h0m-20 3h0m32 3h0m-15 1h0m-12 3h0m-38 1h0m60 0h0m-65 2h0m18 0h0m22 2h0m-21 1h0m-3 1h0m-5 3h0m28 0h0m-15 1h0m7 4h0m19 5h0m-25 5h0"/><path d="M1635 1433h0m31 59h0m6 62h0m-45 7h0m-40 9h0m-3 14h0m-1 24h0m119 2h0m-116 7h0m48 4h0m-22 3h0m24 0h0m-40 1h0m3 0h0m90 3h0m-42 1h0m-59 3h0m18 1h0m48 2h0m-73 2h0m75 0h0m-66 1h0m9 1h0m-2 1h0m44 0h0m-8 3h0m14 0h0m-67 3h0m17 1h0m37 1h0m-27 2h0m91 1h0m-111 3h0m6 1h0m44 0h0m-58 3h0m19 0h0m28 0h0m2 0h0m-34 4h0m47 0h0m-10 3h0m-33 1h0m41 0h0m-55 1h0m29 0h0m13 2h0m28 0h0m8 0h0m76 0h0m-109 3h0m41 1h0m-6 1h0m-21 5h0m-15 1h0m35 1h0m-49 2h0m8 0h0m-3 1h0m1 0h0m29 0h0m-66 1h0m40 1h0m-36 1h0m-8 1h0m-1 1h0m24 0h0m52 0h0m-13 1h0m-40 2h0m12 1h0m27 0h0m-50 1h0m30 1h0m16 0h0m-16 1h0m12 5h0m-10 2h0m-28 2h0m-8 2h0m42 0h0m-30 2h0m8 1h0m24 2h0m16 3h0m-12 3h0m-47 1h0m31 0h0m27 1h0m56 0h0m-67 1h0m-26 1h0m-15 2h0m10 0h0m13 0h0m18 2h0m13 0h0m-31 2h0m7 0h0m-16 1h0m22 1h0m-15 1h0m43 1h0m-52 1h0m40 1h0m-62 1h0m28 3h0m-33 1h0m78 0h0m-16 1h0m-28 1h0m2 0h0m2 7h0m-11 3h0m38 2h0m-18 4h0m-1 2h0m22 4h0m-37 3h0m-22 3h0m34 4h0m75 0h0m-88 1h0m41 1h0m-32 1h0m-1 13h0m2 5h0m25 6h0m8 1h0"/></g>
<polygon points="1578.5,1682.3 1591.0,1683.7 1603.5,1684.9 1616.0,1685.6 1628.6,1685.5 1641.1,1684.8 1653.6,1683.7 1666.1,1682.4 1678.6,1681.0 1691.2,1679.6 1703.7,1678.1 1716.2,1676.7 1728.7,1675.2 1741.2,1673.7 1753.7,1672.2 1766.2,1670.7 1778.8,1669.2 1791.3,1667.7 1803.8,1666.2 1816.3,1664.7 1828.8,1663.2 1841.4,1661.7 1853.9,1660.2 1866.4,1658.7 1878.9,1657.2 1878.9,1723.6 1866.4,1722.0 1853.9,1720.3 1841.4,1718.6 1828.8,1716.9 1816.3,1715.3 1803.8,1713.6 1791.3,1711.9 1778.8,1710.3 1766.2,1708.6 1753.7,1706.9 1741.2,1705.3 1728.7,1703.6 1716.2,1702.0 1703.7,1700.3 1691.2,1698.7 1678.6,1697.1 1666.1,1695.6 1653.6,1694.1 1641.1,1692.9 1628.6,1691.9 1616.0,1691.7 1603.5,1692.2 1591.0,1693.3 1578.5,1694.5" fill="#fbe3d8"/>
<line x1="1578.5" y1="1688.4" x2="1878.9" y2="1690.4" stroke="#000" stroke-width="3.8"/>
</g>
<rect x="1554.3" y="1334.4" width="540.3" height="489.9" fill="none" stroke="#333" stroke-width="2.2"/>
<path d="M1545.3 1802.1H1554.3M1545.3 1653.3H1554.3M1545.3 1504.5H1554.3M1545.3 1355.7H1554.3M1577.3 1824.3V1833.3M1742.6 1824.3V1833.3M1906.7 1824.3V1833.3M2070.5 1824.3V1833.3" stroke="#333" stroke-width="4.4" fill="none"/>
<text x="1541.9" y="1816.0" font-size="39.5" fill="#4d4d4d" stroke="#4d4d4d" text-anchor="end">0</text>
<text x="1541.9" y="1667.2" font-size="39.5" fill="#4d4d4d" stroke="#4d4d4d" text-anchor="end">1</text>
<text x="1541.9" y="1518.4" font-size="39.5" fill="#4d4d4d" stroke="#4d4d4d" text-anchor="end">2</text>
<text x="1541.9" y="1369.6" font-size="39.5" fill="#4d4d4d" stroke="#4d4d4d" text-anchor="end">3</text>
<text x="1577.3" y="1866.8" font-size="39.5" fill="#4d4d4d" stroke="#4d4d4d" text-anchor="middle">0</text>
<text x="1742.6" y="1866.8" font-size="39.5" fill="#4d4d4d" stroke="#4d4d4d" text-anchor="middle">1</text>
<text x="1906.7" y="1866.8" font-size="39.5" fill="#4d4d4d" stroke="#4d4d4d" text-anchor="middle">2</text>
<text x="2070.5" y="1866.8" font-size="39.5" fill="#4d4d4d" stroke="#4d4d4d" text-anchor="middle">3</text>
<text x="1560.8" y="1378.0" font-size="46" fill="#1a1a1a" stroke="#1a1a1a">Pearson r = 0.00</text>
<text x="1560.8" y="1413.0" font-size="46" fill="#1a1a1a" stroke="#1a1a1a">p &lt; 9.1e-1</text>
<text x="1434" y="1324" font-size="53" font-weight="bold" fill="#000">i</text>
<text x="1562.2" y="1907" font-size="46" fill="#1a1a1a" stroke="#1a1a1a">I log<tspan font-size="27.5" dy="15">2</tspan><tspan dy="-15">(AD/Old) I [H3K122ac]</tspan></text>
<text transform="translate(1491,1804) rotate(-90)" x="0" y="0" font-size="46" fill="#1a1a1a" stroke="#1a1a1a">I log<tspan font-size="27.5" dy="15">2</tspan><tspan dy="-15">(AD/Old) I [RNA]</tspan></text>
</g>
<g id="pj">
<clipPath id="cj"><rect x="139.1" y="1984.7" width="532.3" height="493.9"/></clipPath>
<g clip-path="url(#cj)">
<g clip-path="url(#gj)"><g fill="#707070" fill-opacity="0.13" filter="url(#bl4)"><path d="M281 2192l-10 8l-3 9l4 26l-7 20l2 33l-4 12l0 15l9 33l-2 29l-11 20l6 22l-4 29l7 9l33 0l10-15l0-13l-8-25l1-33l-6-31l1-18l10-44l-9-26l-1-49l-6-9zM193 2190l-11 6l-7 9l-9 28l2 58l-6 159l2 7l71 0l3-17l-10-47l-1-145l3-29l-2-9l-8-12l-14-8zM497 2175l-44-13l-13 1l-14 6l-17 17l-11 29l-26 23l-1 13l5 20l-18 46l0 26l-11 26l0 10l12 27l-3 34l8 10l12 7l79 0l14-9l13-4l5-7l19-54l22-27l-1-24l11-31l5-49l-1-27l-5-11l-24-27z"/><path d="M198 2202l-15 9l-9 23l4 53l-3 20l-1 102l-5 40l3 8l55 0l2-22l-9-36l-3-139l4-35l-6-16l-9-6zM474 2184l-28 3l-15 6l-6 6l-10 22l-16 23l-4 26l-13 29l0 41l-10 35l14 26l-4 33l8 11l14 7l27 2l6-3l21-23l19-56l26-15l4-24l14-31l5-44l-3-33l-30-32z"/><path d="M195 2218l-10 14l7 59l-7 111l-9 44l4 11l38 0l4-18l-13-42l-4-71l-1-68l5-17l0-15l-5-7zM474 2199l-14-1l-18 7l-15 18l-12 24l-1 42l-6 24l13 26l8 6l30 1l19-6l7-8l21-43l6-32l-3-25l-15-21z"/><path d="M196 2417l-9 11l-3 18l6 10l16 1l7-8l1-10l-7-17l-6-5zM471 2210l-12 0l-14 7l-11 13l-7 16l0 17l11 39l11 8l30-14l15-17l6-15l1-21l-6-16l-12-12z"/><path d="M198 2437l-2 7l3 2l3-6zM461 2220l-17 11l-6 10l-2 12l5 14l12 14l16 3l17-13l6-15l0-13l-3-9l-9-10z"/></g></g><g clip-path="url(#gj)"><g fill="#e8231f" fill-opacity="0.2" filter="url(#bl3)"><path d="M278 2434l-1 5l5 1l1-5zM368 2430l-1 5l5 1l2-4l-2-2zM281 2415l0 9l3 3l4 0l3-3l0-4l-4-4zM462 2406l-4 3l0 4l6 2l4-3l0-4zM478 2399l-1 5l5 1l1-5zM284 2367l-1 5l5 1l1-5zM288 2272l-1 5l5 1l1-5zM388 2245l-1 5l5 1l1-5zM283 2244l-1 5l5 1l1-5zM200 2203l-9 6l-12 17l3 8l-2 10l2 24l4 5l-1 11l-3 5l0 7l-3 6l4 6l-7 8l0 4l5 3l3 5l0 20l-7 6l0 4l4 4l-3 7l1 18l2 3l0 23l-2 4l2 16l-5 10l0 7l6 11l13 3l21-2l9-13l-1-5l-6-9l-1-13l3-5l0-4l-8-7l3-6l0-6l-3-6l4-7l-1-11l3-4l0-4l-5-6l-1-7l2-11l-4-4l7-11l0-4l-6-6l4-22l-3-6l1-7l-6-12l0-3l5-8l0-9l3-4l0-15l3-3l0-7l-4-7l-6 0l-5-6zM288 2198l-4 0l-2 2l0 17l4 0l4-6l1-10zM421 2185l-1 5l5 1l1-5zM481 2183l-8 3l-7 9l-3 0l-6-4l-6 3l-8 0l-5 3l-7 1l-3 3l-3 7l0 4l3 4l-3 7l1 10l-2 2l-7 0l-8 6l-4 9l0 4l6 4l-2 8l-6 4l-1 8l-4-6l-4 0l-1 12l-6 2l-2 4l-9 8l0 5l3 3l8 2l14 11l0 11l-2 2l-3-2l1-6l-4-7l-9-2l-3 5l9 8l1 11l-3 8l-9 4l0 4l3 3l-3 4l2 7l-15 1l-3-6l-4 0l-1 5l4 1l3 6l6 4l8-1l3-5l-1-3l2-1l17 10l8 1l-2 5l1 7l-3 3l-3-7l-4-3l-6 0l-5 3l0 4l5 5l1 4l-2 7l7 6l-2 2l0 5l3 1l1 3l-4 2l-2-5l-4-1l-11 5l-2 3l6 8l6 1l8 5l1 3l-5 3l1 5l4 0l2-5l4-2l4-6l2 2l-1 4l2 9l4 0l3-4l8 4l11 1l4-3l-2-10l-4-6l6-9l16 0l-3-10l-5-3l4-7l-4-7l2-2l4 1l5-4l1-5l-7-7l8-4l4-8l5-5l-2-7l-7-4l5-6l10-1l8 2l0 10l5 0l3-2l13 1l4-3l-1-6l-4-3l1-7l-6-3l0-7l-9-8l6-3l14-13l5-1l3-7l6 1l3-3l0-4l-4-3l-5 3l-1 5l-5-2l0-15l4-6l-4-11l8-9l1-10l-3-8l4-12l5-4l0-4l-6-1l-6 3l-7 0l-5 4l-1-5l6-7l-1-5l-4-3l-5 2l-8 0l-2-2l2-11l-4-2l-5 5l-3-2l1-3l5-2l0-5zM414 2439l3 1l-2 3l-3-1zM398 2414l3-1l6 5l-3 2zM418 2388l1 4l-3 5l-3-3l0-3zM440 2385l2 6l-6 1l-2-2zM410 2373l1 6l-3 2l0-7zM414 2370l1-5l5 1l-3 5zM432 2360l1 3l-3 2l-2-3zM392 2359l5-4l4 0l4 2l0 5l-10 2zM417 2323l5 2l-2 4l-5-2zM399 2289l-1 7l-2 2l-3-1l-2-3l3-5zM412 2288l3 1l-2 5l-2-3z"/><path d="M432 2444l0 8l4 2l1-3l-2-6zM420 2443l-3 5l3 3l5 1l-1-7zM390 2426l-3 1l1 3zM284 2419l0 4l3 1l1-3zM392 2388l-3 4l6 5l1 4l-3 8l5 1l2-3l-3-4l2-3l0-9l-3-3zM433 2376l-5 0l-6 8l-1 12l-3 5l-3 0l-6-5l-5 6l2 8l6 6l0 5l-8 3l-6 7l-13 3l5 2l4 4l7 0l5-3l0-7l4-2l3 2l2 5l7 5l3 0l5-6l3 0l4-6l9 0l4-5l-7-5l6-8l-6-13l-4 0l-3 10l-5 0l-3-2l1-3l6-5l-4-6l5-7l0-4zM426 2413l7 6l-2 5l-6-4zM369 2374l2 3l7-1l-1-3zM424 2370l-4 3l3 2l2-1zM399 2366l-4 4l0 3l2 3l6 2l2-2l0-6l-3-4zM384 2365l2 4l6 1l0-5l-2-2zM506 2358l0-3l-4-2l-6 3zM384 2319l2 3l6 1l-4-5zM514 2303l-10 0l-2 5l1 2l6-4l4 0zM522 2295l-1 3l2 1l1-3zM510 2223l-3 2l0 4l7 10l4-6l0-4zM199 2206l-13 12l-4 7l0 5l2 3l-2 18l2 3l0 13l5 5l0 4l-2 4l1 4l-4 6l1 6l-3 5l4 7l-7 11l7 7l0 16l2 6l-7 7l5 3l-6 13l3 7l-1 8l2 3l-2 6l0 14l3 4l-3 4l2 4l-2 3l1 9l-5 11l0 6l3 8l4 3l23 1l7-2l3-7l4-4l0-5l-7-10l-1-12l3-8l-5-2l-3-4l4-9l0-5l-3-7l4-7l-1-11l3-6l-6-5l2-18l-4-4l0-4l5-6l2-6l-7-9l3-7l-1-6l2-3l0-5l-2-3l0-11l-4-7l-1-8l5-7l-1-9l2-1l3-8l-2-11l3-3l0-5l-3-5l-7 3l-2-7zM286 2201l-1 3l3 0zM474 2193l-3 0l-3 4l-14-2l-9 1l-7 4l-7 1l-3 10l4 3l0 5l-5 7l2 8l-3 3l-6 0l-9 5l-2 10l5 5l-1 10l-5 4l1 6l-3 4l1 6l-7 7l-1 9l-2 2l-4-1l-5-10l-3 0l-6 5l0 3l3 3l4 1l4-2l3 6l9 6l3 14l-6 7l-5 1l-4 11l-7 5l7 2l5-3l11-1l3 3l0 6l11 2l11-6l5-7l13 3l2 2l-9 7l-5 0l-2 4l8 9l-1 8l4 9l6 7l3 0l2-5l-7-5l-1-4l3-3l6-1l3-7l7-7l-3-4l-5-1l-3-3l4-7l0-5l2-2l5 5l21 0l5-3l2-11l-6-1l-8-8l0-3l13-4l4-5l0-3l-4-2l0-4l5-5l9-4l1-15l3-4l-4-14l9-8l0-9l-7-3l-4-4l-1-5l-7-11l0-5l6-5l0-4l-3-2l-4 3l-8 1zM438 2328l3-3l4 3l-2 2zM426 2323l-2 6l-5 4l-5-1l-5 2l-3-3l11-11zM410 2285l6 0l2 2l0 8l-3 3l-4-1l-5-9zM433 2209l4 0l-2 2z"/><path d="M404 2432l-3-1l-7 4l0 2l8 0zM422 2423l-3 2l-2 5l2 5l5 3l5-9zM429 2408l-1 3l6 6l0 8l7 2l5-1l0-4l-5-4l6-8l-2-5l-4-2l-6 7zM409 2398l-3 3l0 5l8 8l6-1l1-9l-5 0zM392 2390l0 3l5 0l-1-3zM431 2377l-8 9l1 14l6-2l-1-10l6-5zM399 2368l-2 5l1 2l5 1l1-4l-3-4zM462 2364l-1 3l4 1l1-2zM449 2359l-2 0l-4 6l-5 0l0 3l5 2l2 3l-2 7l2 4l7-4l4 0l3-5l-2-11zM455 2349l-2 1l1 5l3-2l0-3zM386 2296l-5 4l3 4l4-3zM510 2225l-2 2l6 7l1-4zM198 2209l-11 10l-4 9l2 5l0 12l-2 3l3 7l-1 11l6 6l-2 8l2 6l-5 4l1 6l-3 5l4 8l-6 7l5 8l2 9l0 16l-2 3l2 8l-7 11l4 7l-2 4l2 9l-3 6l0 10l5 4l-1 10l-4 5l1 8l-3 5l-2 10l2 7l4 4l23 1l8-3l1-7l4-4l-2-6l-5-6l0-6l-2-3l2-8l-7-10l5-11l-3-7l0-5l4-7l-2-9l3-3l0-4l-7-4l3-10l0-8l-4-7l5-6l2-8l-6-7l4-20l-3-5l1-9l-5-11l0-9l4-5l-2-8l4-3l3-10l-4-8l0-6l-6-1l-2-2l1-5zM433 2204l5 1l2-3l-6 0zM473 2196l-5 3l-17-2l-7 2l-1 2l4 0l3 4l-3 3l-5 0l-7 6l1 7l-7 6l1 8l-17 8l0 4l6 4l0 3l-2 2l1 8l-7 8l1 5l-3 3l0 3l9 1l3-3l3 0l2 3l-4 3l-3 10l-4 3l-3 0l-6-9l-4 2l-2 7l1 12l4 7l1 8l3 0l10-12l8 6l2 4l-10 11l-6 1l-4 3l-6-4l-7 4l-4 7l1 5l8-1l0-6l5-3l4 3l-1 7l2 2l0 5l3 2l6 0l7-4l1-4l8-6l5 0l2 3l4 1l5-5l7-1l5-4l5 8l21-3l0-2l-5 2l-2-1l0-10l-2 3l-6-1l1-3l6-1l-4-9l6-4l9 0l4-6l-3-2l-7 1l-1-3l6-1l8-10l3 0l5-4l0-11l4-8l-7-13l11-7l1-7l-1-2l-6-1l-4-4l-1-6l-5-6l-5-12l-9-5l-4-8zM438 2336l2 0l4 5l1 5l-3 2l-6-9zM435 2328l4-4l4 0l4 5l-4 3l-4 0zM412 2311l3-1l2 4l-3 1z"/><path d="M421 2428l-1 5l4 2l0-7zM430 2410l5 5l0 8l8 3l2-2l-6-8l6-5l-1-5l-3 0l-6 6zM409 2400l-2 5l6 6l5 0l1-4l-4-1zM430 2379l-2 4l4 1l1-3zM400 2370l-1 4l2 1l1-4zM449 2361l-3 1l0 9l2 5l-3 5l6-4l4 0l2-3l-3-8zM401 2341l-5 2l-2 3l1 4l3-1zM198 2212l-4 5l-6 3l-3 6l2 17l-2 4l0 5l2 2l-1 12l6 6l-1 9l6 9l-9 1l-2 12l5 6l-7 6l5 8l0 32l2 4l0 6l-6 7l3 7l-3 4l2 10l-3 5l0 8l4 2l2 4l-1 8l-5 6l1 7l-5 16l1 5l4 5l19 2l11-4l1-6l3-3l0-5l-6-8l0-6l-2-3l1-8l-6-9l4-14l-2-4l0-9l-3-3l6 0l1-2l-3-9l4-3l0-2l-7-4l0-5l3-6l0-8l-4-5l7-15l-6-7l3-22l-2-2l0-14l-5-12l1-9l3-2l-2-8l7-7l1-5l-3-4l-2-8l-5-1zM195 2361l1-3l3 2l-2 2zM474 2198l-6 3l-4-2l-3 1l-2 5l-7-1l-4 5l-5 1l-6 5l2 5l-7 6l-1 9l-4 4l-8 2l-4 3l0 2l6 5l-1 9l2 4l-9 8l0 9l5 1l2-5l10 6l-8 7l-1 7l-4 4l-7 0l-3-8l-5 2l-1 6l3 5l-1 6l4 14l6-5l0-5l-4-5l4-3l7 3l12 15l-8 6l0 9l-6-3l-4 0l-3 3l3 18l5 0l3-2l0-5l2-2l5 0l7-4l1-3l-3-4l2-6l-5-6l10-5l7 5l0 4l-6 3l6 11l11-2l6-4l5 9l10-2l0-5l-7-3l0-3l6-4l-4-7l7-5l7 1l5-2l0-4l-8 1l-3-2l0-3l4-3l4 0l8-9l3 0l5-4l-1-6l4-13l-7-13l11-7l2-4l-2-3l-4 0l-5-4l-1-8l-5-6l-3-8l-5-6l-8-4l-1-5z"/><path d="M437 2420l1 3l4 1l-3-4zM443 2408l-2 1l0 3l2-1zM409 2402l-1 2l3 2zM449 2365l-1 5l6 2l-1-4zM418 2349l-3 1l1 6l4-4zM413 2340l1 5l5-2l-1-3zM431 2330l-5 2l-1 2l3 5l-6 7l5 3l5-1l3-3l0-3l-4-6zM487 2318l4 0l2-2l-5 0zM406 2312l-1 3l2 9l2 0l3-3l0-4zM510 2251l1 2l3 0l-1-3zM197 2218l-6 1l-6 11l2 3l1 9l-2 10l3 3l-2 4l0 7l5 4l2 12l6 9l-3 2l-7 0l-3 10l5 4l4-2l4 0l1 2l-7 5l-6 0l-2 5l8 3l5 0l3-2l3 1l-8 7l-5-2l-2 2l2 7l-2 22l2 2l6-1l2 2l0 4l-10 7l0 11l-4 4l3 7l-4 7l0 7l6 4l-1 11l-5 6l0 9l-2 3l-2 13l1 4l4 4l21 1l8-4l0-5l3-4l0-4l-6-9l0-5l-2-3l1-7l-7-12l2-7l-3 0l-3-3l2-2l5 0l1-10l-5-7l2-2l6 1l0-3l-3-3l2-7l-6-6l5-14l-5-11l5-6l1-7l-4-3l-1-9l2-3l-2-7l2-4l-2-5l1-15l-5-10l0-11l2-2l-1-7l8-7l1-5l-5-11zM474 2199l-4 3l-8-1l0 3l-3 3l-6-1l-9 5l0 9l-10 7l-2 8l-5 5l-9 4l4 7l0 6l3 6l-3 4l-5 2l-2 4l14 7l2 5l-8 5l-1 8l-4 4l-9 0l-3-8l-4 3l1 6l6 5l8-1l16 17l9-3l15 13l-3 3l-7 0l0 6l3 1l8-2l8-9l2 0l2 13l9-2l0-2l-5 0l-2-2l-1-6l5-3l-3-8l8-7l-7-7l-5 0l-2-2l9-2l3 3l4 0l8-4l1-4l-3-3l2-2l4 4l9-3l0-8l5-10l0-3l-5-4l0-4l-3-4l2-3l-1-7l3-4l-3-4l1-9l-11-17l-10-6l-2-7zM499 2285l-6 5l-5-1l2-3l5-2z"/><path d="M431 2339l-6 5l1 3l7-1l1-3zM447 2341l5 1l7-3l-10-1zM209 2321l-5 1l-6 5l-7 0l3 6l-2 3l-1 18l2 2l6-1l3 5l-12 12l2 9l-4 3l2 9l-4 5l0 6l6 4l-1 12l-5 6l-4 27l3 5l8 2l19-2l5-13l-8-19l1-7l-7-11l0-5l-4-5l2-4l6-3l0-6l-5-5l0-3l3-3l5 1l-3-3l0-8l-4-5l0-5l5-8l0-3l-4-6l0-6l4-4zM408 2314l-1 4l2 5l2-6zM204 2312l-5-1l-4 3l-7-1l0 3l11 2l5-3zM410 2304l0 2l6-1zM404 2295l-1 5l3 2l1-5zM188 2302l2 3l11-2l3 3l2-2l-3-10l-11 0zM195 2220l-4 1l-5 7l3 15l-2 8l5 4l-4 4l-1 4l7 9l2 12l6 4l3-4l0-12l-5-8l0-18l2-5l8-6l0-3l-6-11zM475 2201l-3 0l-4 4l-4-3l-3 6l-8-1l-8 6l0 8l-10 7l-2 7l-6 7l-7 2l4 11l7 10l-6 1l-8 6l5 2l4 5l3 0l4 6l-10 7l1 6l-6 7l7 6l3 7l5 5l9-3l18 14l6-3l7 0l1-4l-2-5l7-5l-6-7l-7 0l-4-7l2-2l3 3l10-2l4 5l7-2l2-3l-4-6l1-4l-2-3l4-4l9-3l4 5l-7 3l-2 3l4 3l5 0l2-3l-3-5l4-3l3-7l-2-4l-10-3l4-5l1-5l-1-7l2-3l0-15l-11-17l-11-5l0-5zM428 2303l5 2l-2 4l-5-2zM437 2296l1 2l-4 3l-2-2zM482 2289l1 1l-5 4l-1-2z"/><path d="M204 2362l-12 8l-1 7l3 5l-5 2l3 9l-4 4l-1 6l5 3l1 6l-2 9l-5 6l1 6l-4 9l0 12l5 5l13 1l10-2l3-3l1-12l-6-15l0-9l-12-22l1-3l8-3l0-6l-5-5l1-5l4-4l0-7zM431 2341l-4 3l1 2l4-1zM207 2322l-9 7l-5-1l4 5l-4 4l-2 13l1 4l9 0l6-7l0-5l-4-6l0-5l5-7zM190 2304l12-3l0-5l-9-1l-3 5zM482 2293l-3 3l1 9l5 0l3-2l0-3l-4-7zM496 2291l2 4l4 0l-2-5zM197 2221l-6 2l-4 4l2 8l-1 5l2 3l-2 8l8 6l-7 2l-1 5l6 6l4 15l4 1l2-2l0-12l-5-7l0-20l2-4l8-6l0-3l-5-10zM475 2202l-6 4l-4 0l-3 3l-8-1l-7 5l0 7l-10 7l-9 17l-4-1l-3 2l12 20l-2 4l-5-2l-5 4l3 2l1 4l5 2l5 6l-2 3l-7 2l-2 4l1 2l8 0l3-2l3 2l0 3l-5 4l0 5l-2 2l-4 0l-1 4l6 8l9-3l9 7l3-1l1-6l4 0l3 4l0 2l-5 4l2 3l13-2l1-2l-2-7l6-3l-5-7l-6 2l-2-1l-5-8l3-5l3-2l3 6l4 0l3-5l0-6l3-3l18-8l8 3l3-6l-2-3l-6 0l-6-4l5-5l2-5l-1-16l2-9l-12-18l-12-2l-1-2l3-3zM452 2312l-2 2l-4-1l3-3zM486 2276l3 1l-2 5l-3-2z"/><path d="M191 2396l-3 3l0 3l5 3l1 7l-2 3l0 6l-5 5l-4 27l2 4l5 2l19-1l4-2l1-11l-6-19l0-7l-13-23zM204 2363l-12 9l0 5l4 3l0 2l-6 3l0 2l6 6l5 0l5-4l-1-5l-5-3l0-4l5-7zM206 2324l-12 14l-2 9l1 6l6 0l7-5l0-5l-5-12l5-4zM481 2296l-1 7l6 1l1-4zM201 2297l-7 0l-3 6l8-2zM191 2259l-2 1l0 5l5 3l3 13l3 4l2 0l2-12l-7-8l1-5zM202 2222l-11 2l-3 3l1 14l2 3l-2 6l5 4l3 0l1-8l3-7l7-4l-3-10zM475 2203l-12 7l-9-1l-5 5l-1 6l-10 7l-7 13l0 4l-2 2l-6 0l11 19l0 4l-7 1l-2 5l11 9l-2 6l-6 0l-3 3l4 2l8-2l3 3l0 4l-5 5l0 3l-3 3l-3 0l-1 3l6 7l9-3l6 6l4-1l-1-3l2-2l6 0l3 4l0 4l-4 3l1 2l11-2l-1-10l5-2l-4-5l-5 4l-3-1l-1-5l-5-5l5-9l4-3l2 8l4 1l2-10l9-7l0-7l2-3l4 0l3 3l-2 4l9-4l4 5l2-2l0-4l-7 0l-6-5l7-11l-1-17l2-8l-4-3l-1-5l-8-10l-9 1l-5-5l3-6zM451 2308l2 5l-3 3l-4 0l-2-3zM443 2271l2-1l1 2l-2 1z"/><path d="M192 2397l-3 4l6 4l0 7l-2 3l0 7l-6 5l1 5l-4 9l0 14l3 3l5 1l16-1l5-4l0-10l-5-16l0-7l-8-12l-4-11zM204 2365l-11 7l0 4l5 4l0 2l-7 5l7 6l7-4l0-3l-7-5l6-11zM201 2335l-6 3l-2 8l1 7l11-6l-1-4l-4 0l2-3zM464 2319l0 9l5 1l2-2l-4-8zM447 2318l0 2l4 3l0-4zM481 2299l1 4l4-1l-2-3zM193 2301l5-2l-4 0zM428 2292l3 2l2-1zM196 2268l3 15l2 1l2-11l-3-4zM190 2260l0 5l5 1l1-4zM201 2223l-3 2l-7 0l-3 3l3 14l-1 8l4 3l3-1l0-6l3-7l7-5l-3-9zM474 2205l-12 7l-7-2l-4 4l-1 5l-12 9l-6 11l0 5l-6 5l9 16l0 5l-6 2l-2 4l11 8l-2 7l7 8l-7 6l0 4l-7 4l6 7l6-3l0-3l8-7l5 2l-1 7l7 0l1-5l-5-5l0-4l11-12l3 1l-2 7l1 3l3 0l0-8l10-9l1-8l2-2l7 0l-1-4l7-8l0-12l-2-2l2-11l-3-2l-1-7l-8-9l-8 1l-7-5zM441 2270l5-1l2 4l-4 2z"/><path d="M197 2405l-1 7l-2 2l0 8l-7 6l1 6l-3 5l-1 14l4 5l13 1l9-2l3-4l0-5l-6-27zM192 2399l4 4l0-3zM192 2387l5 5l7-3l0-4l-4-2zM203 2366l-9 6l0 4l4 1l5-7zM197 2342l-4 7l2 3l6-5zM466 2322l-1 5l4 1l1-2zM456 2310l-1 5l4 0l0-5zM199 2271l2 4l1-2zM191 2261l-1 2l3 2l1-3zM202 2225l-11 1l-2 2l2 7l-1 5l2 3l-1 6l3 3l3-2l-1-4l3-7l7-5zM471 2209l-6 1l-3 4l-6-3l-4 7l-7 7l-6 3l-6 10l-2 9l-3 2l9 21l-7 3l-1 3l11 7l-3 8l9 8l-1 3l-8 4l0 6l-6 1l1 2l13-5l4-4l5 0l0-5l13-12l7 1l7-6l2-9l2-2l4 0l0-2l8-8l1-4l-3-9l2-11l-3-3l0-7l-8-8l-9-1l-8-5zM442 2268l7 3l-3 5l-6-3l-1-2z"/><path d="M198 2410l-4 6l1 6l-7 5l0 8l-3 5l0 15l4 3l16 0l5-2l3-5l-3-17l-3-6l0-6l-4-8zM194 2387l2 4l5 0l3-3l-3-4zM202 2368l-4 2l-3 5l2 1l4-4zM196 2345l-1 5l3-3zM191 2227l0 14l3 5l-1 4l2 1l0-5l4-9l6-4l-5-5zM470 2210l-4 0l-3 5l-6-3l-6 9l-12 8l-6 11l0 5l-4 5l8 17l9 1l4 4l-3 5l-3 0l-5-4l-8 1l4 6l4 0l5 3l-6 4l0 4l9 7l0 4l-8 3l0 5l4 0l9-6l4-11l5 0l6-5l9 0l4-4l2-9l11-8l4-6l-3-10l2-12l-3-3l0-8l-10-7l-6 0l-8-4l-1-3z"/></g></g><g fill="none" stroke="#e63a26" stroke-opacity="0.85" stroke-width="4.3" stroke-linecap="round"><path d="M209 2070h0m259 51h0m-54 23h0m69 6h0m-59 10h0m-243 2h0m257 0h0m-90 4h0m190 1h0m-363 1h0m25 1h0m246 0h0m40 2h0m54 0h0m-85 2h0m51 2h0m17 0h0m-93 4h0m38 1h0m33 2h0m-29 1h0m4 0h0m-57 2h0m42 1h0m28 0h0m-61 1h0m77 0h0m-220 2h0m158 1h0m-256 1h0m319 0h0m-36 2h0m-59 2h0m27 1h0m50 2h0m-107 1h0m39 1h0m14 0h0m52 1h0m-213 1h0m209 0h0m-274 1h0m199 0h0m-203 1h0m86 0h0m172 0h0m33 1h0m-294 1h0m8 0h0m288 0h0m-273 1h0m217 1h0m-239 1h0m298 1h0m-299 1h0m232 0h0m-236 1h0m200 0h0m-132 1h0m170 0h0m32 0h0m-211 1h0m231 0h0m24 0h0m-312 3h0m247 0h0m17 1h0m29 0h0m-298 1h0m11 0h0m2 0h0m262 0h0m-35 1h0m103 0h0m-320 1h0m250 0h0m-5 1h0m-6 1h0m17 0h0m24 0h0m33 1h0m-98 2h0m84 0h0m-320 2h0m103 0h0m113 0h0m47 0h0m6 0h0m-44 1h0m77 1h0m-202 1h0m-12 1h0m120 0h0m-217 1h0m102 0h0m200 0h0m-24 1h0m-15 1h0m-165 1h0m182 0h0m11 2h0m-284 2h0m194 0h0m21 0h0m1 0h0m38 0h0m21 0h0m85 1h0m-109 1h0m0 0h0m-177 1h0m106 0h0m33 1h0m113 0h0m-29 1h0m-12 1h0m0 0h0m-272 1h0m208 0h0m36 0h0m-249 1h0m106 0h0m6 0h0m-120 1h0m269 0h0m1 0h0m13 0h0m-63 1h0m44 0h0m68 0h0m49 0h0m-374 1h0m330 0h0m-12 1h0m-317 1h0m269 0h0m-19 1h0m-274 1h0m296 0h0m5 0h0m48 0h0m-241 1h0m161 0h0m6 0h0m48 0h0m-58 1h0m15 0h0m8 0h0m38 0h0m6 0h0m-328 1h0m218 0h0m35 1h0m37 0h0m5 0h0m-47 1h0m-247 1h0m230 0h0m98 0h0m-239 1h0m-77 1h0m207 0h0m48 0h0m-35 1h0m22 0h0m26 0h0m-191 1h0m137 1h0m19 0h0m-221 1h0m252 0h0m-62 1h0m48 0h0m-168 1h0m194 0h0m-59 1h0m51 0h0m70 0h0m-340 1h0m135 0h0m-127 1h0m80 0h0m182 0h0m77 1h0m-250 1h0m169 0h0m29 0h0m29 0h0m-52 3h0m-16 1h0m-256 1h0m112 0h0m93 0h0m75 0h0m-190 1h0m-83 2h0m217 0h0m16 1h0m-93 1h0m53 0h0m46 0h0m1 0h0m52 1h0m28 0h0m-105 2h0m21 0h0m31 0h0m-194 1h0m-87 1h0m15 0h0m192 0h0m15 0h0m52 0h0m-5 1h0m53 0h0m-302 1h0m204 0h0m-2 1h0m40 0h0m-154 1h0m-103 1h0m100 1h0m14 0h0m146 0h0m-238 1h0m179 0h0m55 0h0m46 0h0m1 0h0m-288 1h0m201 0h0m27 0h0m-231 1h0m211 0h0m-222 1h0m298 1h0m-297 2h0m248 0h0m55 0h0m-280 1h0m44 0h0m12 0h0m26 0h0m80 1h0m141 0h0m-307 1h0m231 0h0m87 0h0m-140 1h0m42 0h0m13 0h0m-176 1h0m153 0h0m102 0h0m-330 1h0m94 0h0m140 0h0m16 0h0m-246 1h0m201 0h0m57 0h0m19 0h0m26 0h0m-105 1h0m52 1h0m-179 1h0m140 0h0m18 0h0m-154 1h0m126 0h0m29 0h0m14 0h0m47 0h0m-275 1h0m149 1h0m28 0h0m7 0h0m61 0h0m47 0h0m-302 1h0m242 1h0m3 0h0m41 0h0m24 0h0m-230 1h0m183 0h0m-2 1h0m48 0h0m-302 1h0m169 0h0m105 0h0m10 0h0m-292 1h0m306 0h0m-323 1h0m100 0h0m153 0h0m-54 1h0m36 0h0m6 0h0m6 0h0m-101 1h0m108 0h0m100 0h0m-93 1h0m-6 1h0m48 0h0m-306 1h0m288 0h0m-35 1h0m-244 1h0m334 0h0m-113 1h0m11 0h0m-153 1h0m96 0h0m12 0h0m54 0h0m32 0h0m-273 1h0m180 0h0m17 0h0m14 0h0m-125 1h0m188 1h0m-273 1h0m143 0h0m24 1h0m118 0h0m-71 1h0m67 0h0m-175 1h0m186 0h0m-75 1h0m71 0h0m-300 1h0m249 0h0m20 0h0m-44 2h0m-195 1h0m241 0h0m61 0h0m-121 1h0m-120 1h0m136 1h0m17 0h0m12 0h0m32 0h0m13 0h0m-262 1h0m80 0h0m104 0h0m-65 1h0m146 1h0m54 0h0m-357 1h0m0 1h0m18 0h0m-12 1h0m305 0h0m39 0h0m-183 1h0m77 1h0m54 0h0m-298 1h0m248 0h0m76 1h0m27 0h0m-42 1h0m-93 2h0m-208 1h0m223 0h0m23 0h0m98 1h0m-238 2h0m165 0h0m64 0h0m-165 1h0m57 0h0m46 0h0m40 1h0m-214 1h0m154 0h0m25 0h0m-34 1h0m-56 1h0m34 0h0m-206 1h0m147 0h0m83 0h0m34 0h0m-44 1h0m-141 1h0m141 3h0m9 0h0m11 0h0m-16 1h0m39 0h0m6 0h0m-174 1h0m156 0h0m26 1h0m-312 1h0m26 0h0m81 1h0m156 0h0m63 1h0m-109 2h0m-30 2h0m14 0h0m44 0h0m-236 1h0m204 1h0m-96 1h0m121 0h0m15 0h0m45 0h0m-268 3h0m111 0h0m105 0h0m5 2h0m22 0h0m-169 1h0m113 0h0m72 1h0m79 2h0m-97 1h0m-255 2h0m261 0h0m-249 1h0m60 0h0m-58 1h0m50 0h0m50 0h0m113 0h0m26 0h0m-241 1h0m0 0h0m17 1h0m90 0h0m131 0h0m-253 1h0m216 0h0m9 0h0m-156 1h0m91 0h0m135 0h0m15 0h0m-294 2h0m191 0h0m27 0h0m16 0h0m-60 1h0m77 0h0m-256 2h0m267 0h0m-250 1h0m294 0h0m-307 2h0m250 1h0m-37 1h0m-17 1h0m-82 1h0m131 1h0m9 0h0m-157 1h0m204 0h0m-78 1h0m14 2h0m-140 1h0m-99 1h0m80 1h0m-67 1h0m214 0h0m-138 2h0m19 1h0m-117 2h0m2 0h0m98 0h0m126 0h0m80 0h0m-123 1h0m-191 1h0m23 0h0m178 0h0m12 0h0m0 0h0m6 0h0m11 0h0m36 2h0m-259 1h0m115 0h0m162 0h0m-25 1h0m-129 1h0m40 0h0m42 0h0m76 0h0m44 1h0m-315 1h0m5 0h0m58 0h0m190 0h0m-250 1h0m21 0h0m228 0h0m-229 1h0m64 0h0m54 1h0m77 0h0m-72 3h0m23 0h0m-187 1h0m233 0h0m-199 1h0m199 0h0m-233 2h0m250 0h0m-126 1h0m-95 1h0m85 0h0m139 0h0m18 0h0m-242 1h0m59 0h0m129 0h0m13 0h0m24 0h0m-240 1h0m22 0h0m50 0h0m180 0h0m-47 1h0m18 0h0m75 0h0m-239 1h0m108 0h0m61 0h0m-211 1h0m57 1h0m10 0h0m159 0h0"/><path d="M201 2076h0m238 34h0m33 13h0m29 10h0m-51 6h0m-3 15h0m-54 3h0m-202 4h0m257 8h0m10 0h0m-261 4h0m24 2h0m246 0h0m-29 2h0m85 7h0m-75 1h0m37 0h0m-56 3h0m69 0h0m-8 1h0m-15 1h0m-57 2h0m3 1h0m-210 1h0m84 0h0m164 2h0m7 3h0m3 1h0m-153 1h0m190 0h0m24 0h0m-76 1h0m-128 1h0m155 0h0m-183 1h0m155 0h0m-262 1h0m252 0h0m-252 1h0m89 0h0m-64 1h0m216 2h0m24 0h0m47 0h0m-28 1h0m9 0h0m-207 1h0m158 0h0m11 0h0m49 0h0m-210 1h0m-110 1h0m116 1h0m61 0h0m-144 1h0m221 0h0m49 0h0m21 0h0m-289 1h0m230 1h0m40 0h0m14 0h0m-51 1h0m91 1h0m-75 1h0m58 0h0m-128 1h0m-188 1h0m207 0h0m13 0h0m19 0h0m3 0h0m-250 1h0m1 0h0m273 0h0m-176 1h0m138 0h0m41 0h0m57 0h0m-146 1h0m105 0h0m-33 1h0m108 0h0m-356 1h0m206 0h0m61 0h0m45 0h0m-311 1h0m239 0h0m37 0h0m9 0h0m-305 1h0m14 0h0m211 0h0m5 0h0m82 0h0m-36 1h0m15 1h0m33 0h0m-308 1h0m230 0h0m27 0h0m-34 1h0m84 0h0m-327 1h0m189 0h0m104 0h0m7 0h0m35 0h0m-40 1h0m-49 1h0m-238 1h0m24 0h0m219 0h0m66 0h0m53 1h0m-107 1h0m-2 1h0m7 0h0m23 0h0m49 0h0m-335 1h0m207 0h0m108 1h0m-42 1h0m12 0h0m20 0h0m-311 1h0m281 0h0m-257 1h0m69 0h0m-64 1h0m75 0h0m9 0h0m101 0h0m-209 1h0m244 0h0m47 0h0m-93 1h0m94 0h0m37 0h0m-58 1h0m11 0h0m2 0h0m-212 1h0m14 0h0m146 0h0m11 0h0m26 0h0m42 0h0m-214 1h0m165 0h0m13 0h0m82 0h0m-356 1h0m225 1h0m27 0h0m24 0h0m-41 2h0m6 0h0m-19 1h0m75 0h0m-211 1h0m211 0h0m1 0h0m-18 1h0m-1 1h0m12 0h0m36 0h0m-108 1h0m11 0h0m-230 1h0m234 0h0m38 0h0m3 0h0m72 0h0m-8 1h0m-118 2h0m55 0h0m24 0h0m26 0h0m-235 1h0m81 0h0m54 0h0m79 0h0m13 0h0m-205 1h0m15 0h0m122 0h0m32 0h0m-177 2h0m108 0h0m57 0h0m44 0h0m-4 1h0m-66 1h0m10 0h0m44 0h0m-298 1h0m205 0h0m-233 1h0m365 0h0m-338 1h0m5 0h0m13 0h0m-4 1h0m194 1h0m101 0h0m-192 1h0m190 0h0m8 0h0m-327 1h0m216 0h0m106 0h0m17 0h0m-327 2h0m303 0h0m-201 1h0m161 0h0m43 0h0m-201 1h0m92 0h0m9 0h0m30 0h0m-165 1h0m135 0h0m39 0h0m41 0h0m-96 1h0m139 0h0m-204 1h0m122 0h0m64 0h0m13 1h0m-315 1h0m344 0h0m-31 1h0m-7 1h0m-74 1h0m39 0h0m13 0h0m-290 1h0m-8 1h0m102 0h0m39 0h0m-143 1h0m295 0h0m-192 1h0m245 0h0m-150 2h0m-100 1h0m94 0h0m21 0h0m72 0h0m26 0h0m-60 1h0m-6 1h0m96 0h0m2 0h0m-248 1h0m147 0h0m-40 1h0m151 0h0m-96 1h0m-241 2h0m2 0h0m223 0h0m25 0h0m64 0h0m-307 1h0m104 0h0m133 0h0m-45 1h0m71 0h0m27 0h0m-110 3h0m83 0h0m39 0h0m11 0h0m-102 1h0m124 0h0m-240 1h0m102 0h0m-206 1h0m183 0h0m104 1h0m13 0h0m3 1h0m-136 1h0m61 0h0m80 0h0m-297 2h0m141 0h0m41 0h0m-91 1h0m-79 1h0m216 0h0m17 0h0m-74 1h0m29 0h0m66 0h0m-284 1h0m229 0h0m28 1h0m-20 1h0m-244 1h0m27 0h0m120 0h0m71 0h0m48 0h0m10 0h0m22 0h0m-183 1h0m65 0h0m110 0h0m-196 1h0m95 0h0m94 0h0m55 0h0m-95 1h0m30 0h0m-40 1h0m-218 1h0m8 0h0m190 0h0m96 0h0m-116 1h0m8 0h0m-95 2h0m126 0h0m23 1h0m33 0h0m15 0h0m6 0h0m10 1h0m-149 1h0m61 0h0m101 0h0m-66 1h0m-251 1h0m6 0h0m247 0h0m60 1h0m-2 2h0m-309 4h0m5 0h0m194 0h0m50 0h0m4 0h0m-174 2h0m-74 1h0m300 0h0m-306 2h0m9 0h0m8 0h0m221 0h0m75 0h0m-320 1h0m191 0h0m132 0h0m-112 1h0m60 0h0m15 0h0m15 0h0m-298 1h0m200 0h0m91 0h0m-121 1h0m94 0h0m39 0h0m-298 1h0m191 0h0m93 0h0m-76 1h0m56 0h0m33 0h0m7 0h0m-158 1h0m37 0h0m5 1h0m3 0h0m68 0h0m-8 1h0m-258 1h0m53 0h0m169 0h0m132 0h0m-366 1h0m254 0h0m-237 1h0m15 0h0m76 0h0m115 0h0m77 0h0m26 0h0m3 0h0m-54 1h0m-256 1h0m88 0h0m207 0h0m36 0h0m-143 1h0m39 1h0m-222 1h0m94 0h0m92 0h0m34 0h0m-222 1h0m84 1h0m163 0h0m-47 1h0m100 1h0m14 0h0m10 0h0m-338 1h0m2 0h0m13 0h0m83 0h0m23 0h0m90 0h0m6 0h0m-40 1h0m52 0h0m15 0h0m-76 1h0m94 0h0m20 0h0m-17 1h0m33 0h0m21 0h0m-128 1h0m-105 1h0m102 0h0m54 0h0m-56 1h0m-182 1h0m158 0h0m13 0h0m47 0h0m20 0h0m32 0h0m34 0h0m-304 1h0m152 0h0m24 0h0m-173 1h0m21 0h0m168 0h0m-45 1h0m-148 2h0m0 0h0m102 0h0m103 0h0m47 0h0m-51 1h0m10 0h0m92 1h0m-118 1h0m3 1h0m85 0h0m-88 1h0m74 0h0m-12 1h0m44 0h0m1 0h0m6 0h0m-94 1h0m12 0h0m31 0h0m-265 1h0m11 0h0m88 0h0m4 0h0m120 0h0m107 0h0m-218 2h0m177 0h0m-254 1h0m12 0h0m159 0h0m39 0h0m26 0h0m26 0h0m-288 1h0m9 0h0m74 0h0m121 0h0m-124 1h0m30 0h0m-82 1h0m182 0h0m44 0h0m-153 1h0m119 0h0m7 0h0m86 0h0m-136 1h0m28 0h0m-27 1h0m74 0h0m23 0h0m-264 1h0m89 0h0m99 1h0m24 0h0m75 0h0m-213 1h0m15 0h0m198 0h0m-292 1h0m17 1h0m220 0h0m-10 2h0m26 0h0m4 0h0m-252 1h0m81 1h0m134 0h0m-22 2h0m8 0h0m-189 1h0m-13 1h0m213 0h0m12 0h0m20 0h0m-54 1h0m-9 1h0m-167 1h0m68 0h0m16 0h0m-67 1h0m118 0h0m35 0h0m68 0h0m46 0h0m-32 1h0m-172 1h0m143 0h0m-233 1h0m93 0h0m-91 1h0m209 0h0m22 0h0m60 0h0m-21 1h0m-50 1h0m47 0h0m-67 2h0m-136 1h0m138 0h0m50 0h0m-60 3h0m65 0h0m-155 1h0m137 0h0m-211 1h0m164 0h0m27 1h0m-230 1h0m251 0h0m-151 1h0m96 0h0m69 0h0m6 0h0m-171 1h0m138 0h0m-225 1h0m53 0h0m119 0h0m4 0h0m-171 1h0m75 0h0m145 0h0m-208 1h0m41 1h0m19 2h0m111 0h0m-166 1h0m88 1h0m-102 1h0m163 1h0m27 0h0m1 1h0m3 0h0m22 0h0m-165 1h0m-39 1h0m239 0h0m-49 2h0m5 0h0m15 1h0m-235 1h0m1 1h0m5 0h0m23 0h0m172 0h0m10 0h0m22 0h0m-225 1h0m5 1h0m227 0h0m49 0h0m-185 1h0m139 0h0m-68 3h0m21 0h0"/><path d="M354 2097h0m-144 21h0m341 0h0m-362 28h0m-18 4h0m230 8h0m19 2h0m31 6h0m-20 1h0m24 5h0m43 2h0m-41 1h0m23 0h0m-11 5h0m-175 1h0m128 0h0m1 0h0m54 2h0m-50 3h0m83 0h0m-34 1h0m-285 3h0m113 1h0m151 0h0m-272 2h0m90 0h0m162 0h0m10 0h0m-168 4h0m147 0h0m25 0h0m-35 1h0m4 0h0m45 0h0m23 0h0m-57 2h0m-38 2h0m9 0h0m117 0h0m-230 1h0m258 0h0m-59 1h0m-106 1h0m75 0h0m-4 1h0m58 0h0m-298 3h0m211 0h0m100 0h0m-325 1h0m238 0h0m29 0h0m-182 1h0m148 0h0m13 1h0m98 0h0m-234 1h0m173 0h0m15 0h0m-39 1h0m52 0h0m-292 1h0m154 0h0m41 0h0m2 0h0m34 0h0m31 0h0m-287 2h0m10 0h0m320 1h0m-242 2h0m163 2h0m81 0h0m-298 1h0m246 0h0m72 0h0m-336 1h0m322 0h0m-347 1h0m282 0h0m-168 1h0m191 0h0m29 0h0m-93 2h0m51 0h0m5 0h0m49 0h0m-322 2h0m195 0h0m51 0h0m56 0h0m13 0h0m-343 1h0m288 0h0m33 0h0m-29 1h0m-176 1h0m-20 1h0m148 0h0m27 0h0m74 0h0m-333 1h0m255 0h0m44 0h0m-38 1h0m14 0h0m28 0h0m-56 1h0m53 0h0m15 0h0m-49 1h0m21 0h0m-77 1h0m-12 1h0m63 1h0m43 0h0m29 1h0m-309 1h0m83 0h0m74 0h0m-180 1h0m19 0h0m227 1h0m-103 1h0m-136 1h0m223 0h0m14 0h0m36 2h0m1 0h0m2 1h0m-52 1h0m29 0h0m-60 1h0m92 0h0m11 0h0m-289 1h0m209 0h0m17 0h0m116 0h0m-172 2h0m42 0h0m47 0h0m-261 2h0m242 0h0m86 0h0m-31 1h0m-178 1h0m104 0h0m107 0h0m-150 1h0m108 0h0m-5 1h0m17 0h0m-300 1h0m12 0h0m241 0h0m-232 1h0m165 0h0m88 1h0m4 0h0m-57 1h0m21 0h0m32 0h0m16 1h0m-78 1h0m106 0h0m0 0h0m-70 1h0m28 0h0m39 0h0m-72 1h0m-174 2h0m114 0h0m94 0h0m-295 1h0m306 0h0m21 0h0m-319 1h0m94 0h0m119 0h0m129 0h0m-84 2h0m-259 2h0m13 0h0m125 0h0m94 0h0m20 1h0m26 0h0m-266 1h0m92 0h0m11 0h0m118 0h0m-216 1h0m70 0h0m86 0h0m72 1h0m99 0h0m-181 1h0m124 0h0m-82 1h0m16 0h0m68 0h0m-41 1h0m25 0h0m26 0h0m-299 1h0m233 0h0m28 0h0m10 0h0m13 0h0m13 0h0m7 0h0m-177 1h0m204 0h0m-310 1h0m238 0h0m29 0h0m-89 1h0m104 0h0m-37 1h0m-31 1h0m130 0h0m-362 2h0m233 0h0m95 0h0m-125 2h0m34 0h0m2 0h0m47 0h0m-94 1h0m-187 2h0m260 0h0m14 0h0m7 1h0m2 0h0m-298 1h0m228 0h0m10 0h0m47 0h0m-291 1h0m15 0h0m246 1h0m32 0h0m30 0h0m4 0h0m-209 1h0m131 1h0m44 0h0m-299 1h0m30 0h0m311 0h0m10 0h0m-323 1h0m280 0h0m-19 1h0m1 0h0m31 1h0m-300 1h0m272 0h0m8 0h0m12 0h0m-104 2h0m99 0h0m-91 1h0m26 0h0m57 0h0m21 0h0m15 3h0m-315 1h0m243 0h0m55 0h0m-315 1h0m22 0h0m198 0h0m28 0h0m9 0h0m37 0h0m-291 1h0m23 0h0m84 1h0m125 0h0m30 0h0m67 0h0m-325 1h0m26 0h0m197 0h0m83 0h0m5 0h0m-75 1h0m5 0h0m21 0h0m44 0h0m-294 1h0m87 0h0m85 0h0m0 1h0m25 0h0m83 0h0m9 0h0m4 0h0m9 0h0m18 0h0m-40 2h0m-23 1h0m46 0h0m-31 1h0m12 0h0m-292 1h0m210 0h0m77 0h0m16 0h0m-62 1h0m-250 1h0m207 0h0m23 0h0m108 0h0m-236 1h0m-72 1h0m270 0h0m5 0h0m-265 1h0m61 0h0m4 0h0m147 0h0m12 0h0m113 1h0m-147 1h0m82 0h0m-56 1h0m21 0h0m69 0h0m-320 1h0m55 0h0m164 0h0m15 0h0m46 0h0m40 0h0m-131 1h0m29 0h0m27 0h0m-125 1h0m47 0h0m-188 1h0m6 2h0m235 0h0m4 0h0m-134 1h0m105 2h0m41 0h0m-33 1h0m52 0h0m39 0h0m34 0h0m-344 2h0m77 0h0m136 0h0m-197 1h0m180 0h0m67 0h0m46 0h0m-213 1h0m184 0h0m29 1h0m-287 1h0m-8 1h0m251 0h0m10 0h0m-173 1h0m135 1h0m17 1h0m-10 1h0m38 1h0m15 0h0m1 0h0m-8 1h0m-62 1h0m-234 1h0m253 0h0m-24 2h0m20 0h0m-234 1h0m285 0h0m-199 1h0m98 0h0m9 0h0m-89 1h0m89 0h0m119 0h0m-321 1h0m2 0h0m18 0h0m-14 1h0m92 0h0m167 0h0m52 0h0m-126 1h0m20 1h0m31 0h0m19 0h0m-262 1h0m23 0h0m200 0h0m9 0h0m-236 1h0m28 0h0m255 0h0m-104 1h0m17 0h0m38 0h0m20 0h0m55 0h0m-294 1h0m0 1h0m98 0h0m66 0h0m26 0h0m55 0h0m18 0h0m-94 1h0m26 0h0m-203 1h0m201 0h0m56 0h0m-84 1h0m50 0h0m41 0h0m25 0h0m-184 1h0m90 0h0m38 0h0m40 0h0m-98 1h0m131 0h0m-206 1h0m127 0h0m49 0h0m-152 1h0m-120 5h0m84 1h0m91 1h0m37 0h0m19 1h0m25 0h0m31 0h0m-282 1h0m97 2h0m200 2h0m-10 1h0m-295 1h0m75 0h0m210 0h0m-60 1h0m62 0h0m22 0h0m-72 1h0m25 0h0m72 1h0m5 0h0m-330 1h0m2 0h0m-15 1h0m241 0h0m1 0h0m-8 1h0m18 0h0m-234 1h0m95 1h0m-118 1h0m284 0h0m-267 1h0m96 2h0m171 0h0m-294 1h0m19 0h0m229 0h0m33 0h0m-24 1h0m3 0h0m60 0h0m-68 1h0m-75 1h0m33 0h0m-205 2h0m34 0h0m181 0h0m-135 1h0m174 1h0m-251 1h0m17 0h0m99 1h0m116 0h0m21 1h0m-60 1h0m43 0h0m-45 1h0m50 0h0m-134 1h0m155 0h0m22 0h0m-251 1h0m151 1h0m21 0h0m92 0h0m-28 1h0m28 0h0m-301 1h0m184 0h0m24 1h0m23 0h0m-132 1h0m196 1h0m-263 1h0m276 1h0m-309 1h0m121 1h0m118 0h0m45 0h0m8 0h0m2 1h0m-283 1h0m183 0h0m-180 1h0m168 0h0m10 1h0m34 0h0m1 0h0m-150 1h0m187 0h0m-238 2h0m79 1h0m20 0h0m-99 1h0m259 0h0m-55 1h0m-200 1h0m6 0h0m82 0h0m146 0h0m60 0h0m-68 1h0m5 0h0m29 0h0m-276 1h0m198 0h0m46 1h0m-235 1h0m285 0h0m-206 2h0m-92 1h0m98 1h0m-63 1h0m201 0h0m-223 1h0m7 0h0m91 1h0m13 0h0m-127 1h0m91 0h0m1 0h0m19 0h0m93 0h0m67 0h0m-37 1h0m8 0h0m4 0h0m16 0h0"/><path d="M494 2135h0m-26 7h0m9 6h0m-48 2h0m15 10h0m-231 5h0m252 1h0m0 2h0m-259 4h0m199 3h0m26 1h0m5 2h0m7 1h0m28 1h0m-17 2h0m43 2h0m-47 2h0m-30 2h0m62 0h0m7 0h0m-203 3h0m123 2h0m95 0h0m-69 1h0m30 1h0m-88 1h0m84 1h0m2 0h0m-259 1h0m-37 1h0m317 0h0m11 0h0m-61 2h0m-240 1h0m90 0h0m229 1h0m-43 2h0m41 0h0m-137 1h0m69 0h0m40 0h0m-285 1h0m257 1h0m-269 1h0m35 0h0m244 0h0m-191 1h0m8 0h0m4 0h0m227 0h0m-130 1h0m44 1h0m-227 1h0m-12 1h0m14 0h0m76 0h0m180 0h0m-40 1h0m60 0h0m-282 1h0m231 0h0m27 1h0m17 0h0m3 1h0m2 0h0m10 0h0m-273 2h0m66 1h0m167 0h0m2 2h0m107 0h0m-343 1h0m230 0h0m66 1h0m-294 1h0m253 0h0m15 0h0m-108 1h0m51 0h0m28 0h0m-186 1h0m184 0h0m-261 1h0m255 0h0m67 0h0m-318 1h0m174 2h0m48 1h0m78 0h0m-75 1h0m26 0h0m17 0h0m48 0h0m-119 1h0m76 0h0m5 0h0m55 0h0m-93 1h0m-253 1h0m244 0h0m45 0h0m9 0h0m-63 1h0m36 0h0m2 0h0m48 0h0m37 0h0m-142 1h0m7 0h0m80 0h0m29 1h0m7 0h0m-310 1h0m253 0h0m4 0h0m49 0h0m37 0h0m25 0h0m-383 1h0m253 0h0m3 0h0m-74 1h0m134 0h0m-229 1h0m2 0h0m155 0h0m-42 1h0m87 0h0m-107 1h0m72 0h0m13 0h0m-261 1h0m223 0h0m72 0h0m-305 1h0m199 0h0m81 0h0m-284 1h0m106 0h0m175 0h0m-74 1h0m52 0h0m59 0h0m24 0h0m-323 1h0m60 0h0m94 0h0m19 0h0m17 0h0m39 0h0m-152 1h0m129 0h0m27 0h0m6 0h0m37 1h0m14 0h0m-86 1h0m11 0h0m28 0h0m9 0h0m32 0h0m-112 1h0m50 0h0m38 0h0m7 0h0m45 0h0m-245 1h0m121 0h0m110 0h0m-197 2h0m-100 1h0m274 0h0m-269 1h0m76 0h0m240 0h0m-133 1h0m118 0h0m-90 1h0m66 0h0m-21 1h0m-250 1h0m49 0h0m-62 2h0m3 0h0m257 0h0m2 0h0m-58 1h0m29 0h0m-254 1h0m257 0h0m15 0h0m18 0h0m11 0h0m-272 1h0m244 0h0m-32 1h0m40 0h0m35 0h0m-300 1h0m13 0h0m86 0h0m163 0h0m-53 1h0m0 1h0m-122 1h0m128 0h0m24 0h0m28 0h0m22 0h0m4 0h0m-283 1h0m73 0h0m189 0h0m-82 3h0m54 0h0m56 0h0m-312 1h0m23 0h0m206 0h0m-229 1h0m68 0h0m17 0h0m132 0h0m15 1h0m55 0h0m2 0h0m-17 1h0m8 0h0m-36 1h0m96 0h0m-333 1h0m197 0h0m125 0h0m79 2h0m-305 1h0m131 0h0m99 0h0m-310 4h0m-13 1h0m-1 1h0m222 0h0m62 0h0m-74 1h0m84 0h0m21 0h0m-306 1h0m86 0h0m189 1h0m-115 1h0m-162 1h0m61 0h0m28 0h0m126 0h0m54 0h0m-93 1h0m87 0h0m55 0h0m-27 1h0m-277 1h0m43 0h0m155 0h0m132 0h0m-275 1h0m222 0h0m31 0h0m-342 1h0m90 0h0m-69 1h0m191 0h0m13 1h0m25 0h0m43 0h0m-184 1h0m92 0h0m55 0h0m49 0h0m-76 1h0m92 0h0m-333 1h0m10 0h0m131 0h0m22 0h0m152 0h0m3 0h0m18 0h0m-310 1h0m13 0h0m239 0h0m7 1h0m-47 1h0m100 0h0m-156 1h0m137 0h0m16 0h0m-47 1h0m-168 1h0m185 0h0m-296 1h0m6 0h0m79 0h0m61 0h0m74 0h0m7 0h0m55 0h0m-269 1h0m84 0h0m-81 1h0m70 1h0m158 0h0m-219 2h0m198 0h0m31 0h0m-161 1h0m40 0h0m78 0h0m43 0h0m-62 1h0m144 1h0m-126 1h0m20 0h0m-11 1h0m102 1h0m-34 1h0m-264 1h0m202 0h0m21 0h0m9 0h0m-243 1h0m93 0h0m169 0h0m35 0h0m-98 1h0m93 0h0m16 0h0m-99 1h0m97 0h0m-220 1h0m125 1h0m95 0h0m-29 1h0m8 0h0m-288 1h0m291 0h0m18 0h0m-31 1h0m-29 1h0m-245 1h0m190 1h0m1 0h0m6 0h0m-105 1h0m72 0h0m-57 1h0m94 0h0m3 0h0m68 0h0m17 0h0m18 0h0m-40 1h0m-276 1h0m21 0h0m257 0h0m28 0h0m-315 1h0m288 0h0m4 0h0m-281 1h0m210 0h0m9 0h0m-111 1h0m65 0h0m-162 1h0m278 0h0m-309 1h0m99 0h0m-71 1h0m179 0h0m-162 1h0m74 0h0m98 0h0m-181 1h0m261 0h0m-179 1h0m145 0h0m78 0h0m16 0h0m-154 1h0m44 0h0m22 0h0m9 0h0m-20 1h0m26 0h0m50 0h0m-302 1h0m301 0h0m-291 1h0m165 1h0m21 1h0m-193 1h0m179 0h0m2 1h0m-189 1h0m211 1h0m-42 2h0m100 0h0m29 0h0m-132 2h0m-91 1h0m140 1h0m-217 1h0m90 0h0m140 0h0m11 0h0m-225 1h0m202 1h0m50 0h0m-177 2h0m137 0h0m44 0h0m-15 1h0m-266 2h0m35 0h0m275 0h0m-288 1h0m197 0h0m41 0h0m-35 1h0m17 0h0m30 0h0m18 0h0m-271 1h0m216 0h0m20 0h0m-41 1h0m93 0h0m-51 1h0m23 0h0m-34 1h0m-22 1h0m-72 2h0m-148 1h0m17 0h0m5 0h0m-27 1h0m17 0h0m169 1h0m34 1h0m-30 1h0m75 0h0m-50 1h0m52 0h0m-150 1h0m109 0h0m20 0h0m54 0h0m-29 1h0m23 0h0m-61 2h0m-143 1h0m125 0h0m77 0h0m-2 1h0m8 0h0m-198 1h0m58 0h0m65 0h0m58 0h0m-15 1h0m-162 1h0m122 0h0m-38 1h0m98 0h0m-263 1h0m209 0h0m-142 1h0m103 0h0m31 0h0m-108 1h0m-92 1h0m248 0h0m-53 1h0m-188 1h0m143 0h0m106 0h0m-244 1h0m169 0h0m-186 1h0m244 1h0m59 0h0m-103 1h0m53 0h0m-264 2h0m219 0h0m73 0h0m-66 1h0m31 0h0m15 0h0m-253 1h0m222 0h0m38 0h0m-283 1h0m24 0h0m68 0h0m138 0h0m47 0h0m-259 1h0m195 0h0m70 1h0m-277 1h0m260 0h0m-62 1h0m63 0h0m-91 1h0m50 0h0m-129 1h0m120 0h0m-109 2h0m114 0h0m49 0h0m-265 2h0m18 0h0m-6 1h0m111 2h0m65 0h0m136 0h0m-342 1h0m214 0h0m31 0h0m-202 1h0m94 0h0m73 0h0m21 0h0m33 0h0m9 0h0m-234 2h0m-9 1h0m196 0h0m105 0h0m-140 1h0m65 0h0m51 0h0m-203 1h0m3 0h0m15 2h0m132 0h0m49 0h0m-280 1h0m89 1h0m-83 1h0m233 0h0m-137 1h0m54 0h0m-152 1h0m6 0h0m211 0h0m-123 1h0m126 0h0m67 0h0m-42 1h0m-273 1h0m7 0h0m240 0h0m-32 1h0m8 1h0m-192 1h0m92 0h0m-95 1h0m79 0h0m202 0h0m-283 2h0m166 0h0m37 0h0m91 0h0m-293 1h0m15 0h0m76 0h0m87 0h0m13 2h0m-168 1h0m222 0h0m-241 1h0m60 0h0m133 0h0m9 1h0"/></g>
<line x1="156.5" y1="2374.6" x2="562.5" y2="2246.4" stroke="#000" stroke-width="3.8"/>
</g>
<rect x="139.1" y="1984.7" width="532.3" height="493.9" fill="none" stroke="#333" stroke-width="2.2"/>
<path d="M130.1 2457.9H139.1M130.1 2307.3H139.1M130.1 2156.7H139.1M130.1 2006.1H139.1M264.1 2478.6V2487.6M411.3 2478.6V2487.6M559.7 2478.6V2487.6" stroke="#333" stroke-width="4.4" fill="none"/>
<text x="127.6" y="2472.4" font-size="39.5" fill="#4d4d4d" stroke="#4d4d4d" text-anchor="end">0</text>
<text x="127.6" y="2321.8" font-size="39.5" fill="#4d4d4d" stroke="#4d4d4d" text-anchor="end">5</text>
<text x="127.6" y="2171.2" font-size="39.5" fill="#4d4d4d" stroke="#4d4d4d" text-anchor="end">10</text>
<text x="127.6" y="2020.6" font-size="39.5" fill="#4d4d4d" stroke="#4d4d4d" text-anchor="end">15</text>
<text x="264.1" y="2521.1" font-size="39.5" fill="#4d4d4d" stroke="#4d4d4d" text-anchor="middle">10</text>
<text x="411.3" y="2521.1" font-size="39.5" fill="#4d4d4d" stroke="#4d4d4d" text-anchor="middle">20</text>
<text x="559.7" y="2521.1" font-size="39.5" fill="#4d4d4d" stroke="#4d4d4d" text-anchor="middle">30</text>
<text x="152.0" y="2033.9" font-size="46" fill="#1a1a1a" stroke="#1a1a1a">Pearson r = 0.44</text>
<text x="152.0" y="2074.2" font-size="46" fill="#1a1a1a" stroke="#1a1a1a">p &lt; 2.2e-16</text>
<text x="14.5" y="1983" font-size="53" font-weight="bold" fill="#000">j</text>
<text x="165.5" y="2556" font-size="46" fill="#1a1a1a" stroke="#1a1a1a">log<tspan font-size="27.5" dy="15">2</tspan><tspan dy="-15">(Old) [H3K-total-ac]</tspan></text>
<text transform="translate(76,2374.6) rotate(-90)" x="0" y="0" font-size="46" fill="#1a1a1a" stroke="#1a1a1a">log<tspan font-size="27.5" dy="15">2</tspan><tspan dy="-15">(Old) [RNA]</tspan></text>
</g>
<g id="pk">
<clipPath id="ck"><rect x="849.2" y="1982.7" width="532.3" height="494.7"/></clipPath>
<g clip-path="url(#ck)">
<g clip-path="url(#gk)"><g fill="#707070" fill-opacity="0.13" filter="url(#bl4)"><path d="M988 2191l-12 5l-9 13l4 17l15 18l0 8l-7 16l1 41l-6 27l3 48l-10 36l0 14l3 10l10 11l38 0l4-11l-7-18l2-28l-9-45l1-28l13-18l-6-65l-7-36l-9-11zM911 2190l-11 5l-10 10l-8 20l-1 230l67 0l3-36l-8-45l-1-98l3-51l-9-22l-9-9zM1188 2153l-11-1l-20 19l-26 10l-20 27l-14 10l-9 13l-3 28l-9 33l-2 30l-6 21l2 23l-8 17l-3 17l-1 44l8 11l115 0l6-3l14-15l1-15l-4-21l5-12l14-20l19-14l6-8l10-85l-13-52l-8-22l-22-21z"/><path d="M909 2203l-12 8l-7 17l2 72l-3 40l3 45l-8 42l0 19l3 9l53 0l3-9l0-24l-9-44l-1-98l3-54l-10-19l-8-4zM1184 2182l-27 6l-20 11l-27 33l-7 16l-10 61l1 25l-6 74l3 28l5 7l10 4l38 1l15-6l8-8l3-8l0-29l4-11l27-26l31-51l2-46l-7-41l-9-17l-8-8z"/><path d="M911 2216l-8 6l-3 10l5 59l-4 46l6 40l-14 44l-2 24l5 10l35 0l5-11l0-17l-16-50l0-88l6-60l-5-10zM1182 2200l-18 0l-16 7l-12 12l-11 21l-5 25l-1 64l7 21l8 6l21 0l21-10l17-27l17-17l5-11l3-46l-4-17l-12-16z"/><path d="M913 2411l-7 5l-6 11l-2 15l7 12l16 1l6-7l2-15l-7-17zM1178 2211l-14 0l-11 5l-11 12l-6 15l1 33l8 19l11 10l20-2l12-7l11-14l7-16l1-24l-3-10l-12-14z"/><path d="M912 2431l-4 9l2 4l5 1l4-9l-3-5zM1174 2220l-10 1l-9 5l-9 14l-2 9l1 13l5 12l7 7l10 4l15-4l9-9l7-15l-2-21l-8-10z"/></g></g><g clip-path="url(#gk)"><g fill="#e8231f" fill-opacity="0.2" filter="url(#bl3)"><path d="M1002 2450l-3 3l0 4l6 3l3-3l0-4zM1077 2445l-1 5l5 1l1-5zM1090 2425l-4 3l0 5l2 2l4 0l2-2l0-5zM995 2423l-1 5l5 1l1-5zM977 2425l-1 7l4 4l6 2l3 6l4 0l1-5l-6-3l0-11l-2-2l-6 0zM1090 2413l-1 5l5 1l1-5zM1072 2407l-1 5l5 1l1-5zM1085 2402l-1 5l5 1l1-5zM993 2397l-3 3l0 4l2 2l4 0l3-3l0-4l-2-2zM991 2339l-1 5l5 1l1-5zM1204 2330l-1 5l5 1l1-5zM1219 2317l-1 5l5 1l1-5zM996 2294l-1 5l5 1l1-5zM1230 2260l-3 4l1 3l7 1l2-2l0-4l-2-2zM1096 2235l-2 2l0 5l2 2l4 0l2-2l0-5l-2-2zM911 2207l-3 1l-4 6l-6 3l-4 8l1 14l3 5l-2 6l1 16l-3 6l2 11l6 10l0 4l-3 4l0 5l-8 8l2 13l4 3l-3 4l-1 6l4 5l4 33l-2 4l1 5l-7 13l0 14l2 5l-3 4l-1 12l2 4l0 14l13 9l14 0l12-5l5-7l-3-12l3-11l-4-6l1-11l-2-4l2-7l-5-7l0-12l-3-9l6-8l-5-11l2-12l-1-12l3-8l-3-5l2-10l-4-6l3-5l0-4l-4-10l4-7l1-16l-3-5l3-4l-1-11l3-7l-1-6l-5-5l-2-6zM1130 2203l-1 5l5 1l1-5zM995 2202l-4-1l-9 3l-2 3l2 6l4 3l8-2l3-4l0-5zM1199 2197l-1 5l5 1l1-5zM1219 2197l-6 1l-9 12l-6 0l-6-6l0-15l-15 2l-3-3l-4 0l-3 3l-1 5l-8-2l-6 7l-5 1l-3 3l-2 7l-10 15l-7 0l-7 6l-7 0l1 9l-5 3l3 10l-4 4l-3 8l0 5l5 8l0 3l-7 6l1 9l4 6l-4 7l-7-1l-2 2l0 4l3 3l4 0l4-6l3 2l-2 4l1 11l4 11l5 5l0 4l-3 3l-6-2l-9 1l-9 5l0 4l7 3l2 8l5 4l-6 3l-3-5l-4 0l-1 5l6 3l-1 4l2 6l-3 2l-1 5l4 4l5 0l2-2l2-8l6 0l7 4l4 0l2-6l3-2l6 4l2 5l-6 4l-7-1l-2 2l-3 13l8 8l-3 4l-3-1l-5 2l-3-3l2-18l-5-4l-5 3l3 20l-8 14l0 5l2 2l6-1l8-12l7 4l-4 8l2 4l5 0l7-5l8 0l6 7l10-4l2-6l-9-11l1-8l8-5l3 7l13-3l-1-5l-11 0l2-3l4 0l2-2l-1-5l-9 0l0-2l4-3l-3-10l0-6l3-7l6-6l13-6l5-5l5 2l4-1l8-9l0-4l-10-15l0-4l4-4l0-4l-3-3l2-5l4-2l4 4l1 6l5 1l1-6l8-8l10-2l4-4l0-4l-9-6l-2-17l6-3l0-4l-7-4l1-12l7-6l4 0l1-5l-8-2l1-8l-5-10l-5-3l-4-6l2-5l7-3l2-3l-1-4zM1147 2384l3 2l-3 9l4 6l0 3l-4 6l-4 0l-3-3l3-6l-1-10l1-4zM1149 2364l3-1l2 2l-4 1zM1160 2360l3-3l8 1l1 4l-6 3l-4-1z"/><path d="M1003 2453l-1 3l2 1l1-3zM1148 2436l-3 0l-3 5l3 9l8-4l0-3zM1108 2430l-5 4l-3 9l1 2l8-9zM1089 2429l0 3l2 0l0-3zM981 2425l-3 5l2 3l4 1l2-7zM1154 2408l-10 11l-7 0l-10 3l-1 7l-2 2l-7 0l0 3l6-1l4 5l-2 4l-5 2l0 4l3 0l4-5l6 1l2-2l1-6l9-6l0-8l12-7zM1106 2408l-1 1l3 3l1-3zM1138 2404l-2-2l-7 4l-7-2l-3 11l2 2l12-2l3-3zM994 2400l-1 2l2 1l1-2zM1095 2395l-1 4l5 1l1-4zM1152 2391l-2 5l3 3l4 0l0-6zM1169 2368l-8-2l-6 4l-7 0l-1 3l4 3l0 6l5 3l7-10l6-5zM1097 2313l-1 2l2 1l1-2zM1231 2263l0 2l3 0l0-2zM1097 2238l0 3l2 0l0-3zM910 2210l-4 6l-6 2l-3 6l0 12l4 9l-2 6l1 16l-3 3l0 10l8 16l-4 6l0 7l-5 5l-1 11l5 0l2 3l-6 6l-1 5l5 5l-1 9l3 6l2 16l-1 9l2 4l-4 3l-6 11l0 12l3 6l-3 4l-2 11l2 5l0 12l10 8l10 1l10-2l9-7l0-5l-3-4l3-17l-3-5l1-10l-6-8l2-3l-1-20l-5-12l7-5l-5-12l3-13l-2-10l4-7l-4-6l2-11l-4-5l2-7l-2-14l4-5l0-10l-3-6l0-5l4-6l-1-10l3-6l-2-6l-5-4l-1-5zM1212 2208l-3 1l0 3l3-1zM993 2204l-10 4l4 6l7-3l1-5zM1214 2202l2 2l4 0l0-3l-2-1zM1189 2192l-8 1l-5 4l-2-5l-3-1l-1 4l2 4l-2 2l-4 0l-7-4l-7 13l-3-4l-2 1l-14 23l-2 1l-5-2l-6 7l-6 1l5 10l-1 4l-5 3l-8 14l1 5l5 7l0 7l-6 1l-1 6l5 7l0 29l5 11l4 4l0 5l-4 6l5 7l-6 4l-6-13l-8 0l-6 3l5 7l2 7l9 0l3 6l-1 2l-10 1l-4 3l-1 3l4 5l8-1l10 2l5-6l4-1l10 8l2-2l0-8l-2-4l4-5l1-9l7-6l7 2l4-7l5 2l5-1l3-3l0-8l5-4l3 0l1 4l-5 7l1 3l-2 2l0 7l4 2l7-10l2 1l1 5l3 1l6-10l-2-5l-10-9l4-7l-1-9l4-8l5-3l7 5l3 0l6-6l6-1l9-5l-9-7l-1-15l-4-5l3-4l1-21l4-4l-3-3l-5 0l-2-2l0-4l3-3l4 6l4-6l-5-10l-14-12l-11-2l-6-8zM1130 2351l10 7l1 3l-2 2l-11-9zM1117 2307l2 1l-1 4l-3-2zM1111 2287l6 3l0 6l-3 3l-5-2zM1122 2268l5 5l0 3l-5 3l-2-2z"/><path d="M1146 2438l-1 3l4 5l0-6zM981 2427l-1 3l3 1l1-4zM1141 2420l-13 4l2 17l3-1l4-8l7-3l0-5zM1135 2406l-1-1l-9 8l8 0zM1098 2384l0 3l4 3l12 0l2-2l-1-4l-4-3l-9 0zM1163 2368l-3 0l-4 6l2 3l4-2l2-4zM1097 2356l-1 3l7 10l4 0l2-2l0-4l-3-2l-1-5zM1121 2350l-5 5l5 8l-7 7l-1 4l6 1l2 2l0 4l3-1l11 8l-1-7l5-7l0-8l-11-9l-4-7zM1186 2344l2 7l5 5l2-2l-1-7zM910 2212l-3 5l-6 2l-3 7l0 8l4 5l-1 3l2 6l-3 15l4 6l-4 3l-2 8l9 16l-4 5l0 8l-3 3l-2 9l6 6l-6 6l-2 5l6 5l-2 9l3 6l4 29l-11 18l0 9l5 8l-4 3l-3 10l2 4l0 12l11 9l10 0l8-2l8-8l-3-5l0-9l3-6l-3-8l1-9l-9-12l4-4l0-16l-2-7l-4-5l2-4l5-2l0-4l-4-6l3-18l-3-7l4-5l0-3l-4-6l2-11l-3-3l-1-10l2-7l-2-5l5-5l0-9l-4-6l0-4l4-8l-1-7l3-6l0-6l-9-11l-6-4zM993 2206l-7 2l0 3l6 0zM1187 2195l-7 1l-8 8l-13-4l-2 3l0 5l-3 3l-11 4l-11 19l-7-3l-2 5l8 6l-1 4l-5-3l-4 1l0 10l-5 1l-2 5l-7 8l2 7l11 15l-1 7l-8 8l2 2l9-9l5 0l7 5l-7 1l-4 3l0 2l4 0l2 2l0 3l-4 5l-5-5l-8 0l-2 5l2 5l-1 7l7 10l4 1l2 6l14 0l5 11l8-3l4 2l5-7l4 3l5 0l2-3l0-8l17-9l0-12l5-9l-3-5l3-3l5 5l8-1l1 4l3 0l4-5l9-1l3-4l-5-4l-7 0l-3-3l8-5l-1-7l-4-7l4-8l0-21l-6-4l0-4l4-7l3 0l2 5l2-2l-4-3l0-5l-2-2l-6 0l0-4l-8-8l-10 0l-4-4zM1118 2264l8 4l5 6l-8 7l-4 0l-2-2l2-10l-3-3z"/><path d="M1140 2421l-10 3l-1 3l4 7l4-4l4 0l2-2l0-4zM1100 2384l2 5l11-2l-3-5l-7 0zM1134 2368l-1 6l-5 4l1 4l3 0l4-8zM1098 2358l8 9l1-3l-5-6zM1121 2352l-4 4l8 6l-8 6l-1 4l8 3l4-8l4-3l-6-9zM1119 2283l-1 2l3 2l1-2zM1109 2269l2 6l5 2l2-6l-2-2zM1123 2245l-2 2l0 4l4 1l3-2l0-3zM1127 2232l-2 1l0 3l4 0zM911 2214l-9 6l-3 9l1 6l4 2l-1 9l3 4l-5 8l0 5l4 5l0 3l-5 4l-1 6l6 11l6 3l-7 7l1 7l-5 7l0 4l4 4l1 4l-8 9l7 6l-3 9l3 5l1 13l3 6l0 12l-11 18l0 8l6 9l-7 6l-1 7l3 16l6 6l9 2l10-2l8-6l-2-5l0-11l3-7l-3-7l1-9l-9-10l0-4l4-4l0-15l-7-12l3-4l5-2l-1-5l-5-4l3-6l1-9l-2-12l4-4l-4-7l2-10l-3-5l-1-12l2-4l-2-7l6-7l-1-6l-4-5l6-31l-8-10zM1186 2197l-6 1l-7 7l-13-2l-3 8l-11 3l-11 17l0 6l-2 2l1 5l-2 3l1 6l-7 6l-6-2l-3 1l1 4l12 6l3 5l-1 3l-6 5l2 5l-5 4l-1 5l8 2l5 3l1 3l-5 5l0 7l-5 7l-3 0l-3-6l-6 0l-2 2l3 7l-2 7l5 2l10 13l13-2l4 11l3-2l7 0l4-6l3 0l3 5l3 0l1-12l18-8l1-3l-3-5l6-10l-3-6l3-5l3 0l5 5l7-3l14 1l4-3l-2-3l-9-1l-4-4l8-5l0-5l-5-12l4-3l2-15l-3-8l-9 2l-1-4l5-4l2-7l5-4l0-3l-3-1l-6 3l-1-4l2-4l-5-6l-7 0l-1 5l-6-7l-4-1l-2-2zM1160 2336l3 1l0 3l-2 3l-3 0l-1-2zM1170 2325l2-1l2 3l-2 1zM1115 2325l4-3l3 1l-3 4z"/><path d="M1141 2423l-7 1l-3 4l2 2l4-2l3 1l2-1zM1101 2386l3 2l6-4l-6-1zM1125 2366l-4 0l-3 5l5 3l3-4zM1121 2353l-2 4l5 2l1-4zM1115 2319l0 2l5-1l0-2zM1113 2271l0 4l3 0l1-3zM1124 2246l-2 1l1 4l3-1l0-3zM911 2216l-8 4l-3 13l5 3l-2 7l4 6l0 3l-5 7l0 4l3 3l1 5l-5 4l-1 6l5 10l9 2l-9 9l1 5l5 1l3 3l-9 0l-3 2l-1 6l5 8l-8 10l2 3l8 2l-4 3l-2 8l4 5l-1 7l4 10l1 10l-2 6l-5 4l-6 15l7 13l-8 8l2 20l7 7l12 1l7-2l5-5l-1-15l2-5l-1-19l-9-9l0-5l4-5l0-14l-7-12l1-3l7-5l-3-4l-6-3l6-6l-1-9l2-4l-3-7l4-4l0-4l-3-4l1-12l-4-11l3-8l-3-6l7-7l0-5l-5-7l3-22l4-7l-10-12zM1182 2200l-4 1l-4 5l-10-1l-7 8l-11 2l-2 2l-3 9l-5 5l1 9l-4 9l1 5l-10 8l2 3l4 1l4 6l0 3l-6 5l1 8l-5 5l13 7l-4 13l3 3l2 10l-4 2l-4-5l-6 1l-5 6l-4-1l-1 2l5 0l9 14l13-2l5 6l2 0l3-3l0-5l5-2l5-6l5 5l-4 7l5 7l1-9l-2-4l6-3l7 0l6-3l1-3l-3-2l-6 0l-6 3l-2-4l-6-4l2-3l7-1l4 4l7-1l6-6l-2-9l4-4l5 1l3 4l5-3l18 0l0-3l-9-1l-5-4l1-4l7-3l-1-7l-7-10l7-3l2-14l-3-7l-8 3l-3-2l1-4l6-6l0-5l-5-4l2-11l-6-4l-5 7l-7-8l-5-1l-2-3zM1134 2330l3 3l0 3l-5 3l-2-5zM1160 2308l5-3l4 6l-4 1zM1207 2287l1 4l-7 5l-2-2l1-5zM1137 2291l3-4l5 2l-4 3z"/><path d="M1138 2424l-1 2l3 1l0-3zM1121 2367l-2 3l5 2l0-4zM1120 2355l1 3l3-1l-1-2zM1184 2331l-5-2l-6 5l6 1zM1125 2325l-3 3l0 3l6 9l1-13zM917 2293l-11 10l2 4l6 1l2 3l-2 2l-9-1l-3 3l0 4l5 7l-1 4l-7 6l1 3l10-1l2 3l-8 6l-1 5l4 4l-1 10l6 14l2-3l4 3l-8 6l-1 5l-5 4l-2 9l-4 6l1 5l5 5l0 5l-8 7l2 17l8 9l3 1l14-2l4-3l0-15l2-6l-1-20l-9-9l0-6l4-4l-1-6l2-5l-8-15l1-3l6-4l0-3l-11-6l2-3l5 0l2-2l-1-5l-4-5l4-3l-1-7l4-5l-4-10l2-9zM913 2217l-9 3l-3 12l5 4l-2 8l5 6l-2 7l-4 2l0 4l3 3l1 5l-7 8l4 10l4 3l5-2l3 1l4-7l-4-7l8-6l0-6l-5-6l2-7l1-16l4-7l-9-10zM909 2281l1-3l3 2l-2 2zM1180 2202l-6 5l-9-1l-7 8l-12 2l-3 6l1 5l-7 4l1 10l-3 5l0 8l-7 7l0 3l5 2l2 8l-6 7l1 9l-3 3l3 0l8 7l-4 12l4 5l0 13l3 4l-5 7l6 1l4 4l3 0l0-7l3-3l3 1l4-5l3 0l5 4l3-2l-2-6l-6-4l0-3l6-4l-9-8l3-5l3-1l7 4l5 8l0 6l3 0l7-6l-2-7l6-6l4 0l4 4l4-3l6 2l5-1l0-2l-8-5l-6 1l-2-2l0-6l3-4l8-1l2 6l4-1l-2-9l-6-5l0-4l8-4l0-16l-4-2l-5 3l-1 5l-3-2l1-10l6-6l0-4l-6-5l4-9l-2-3l-4-1l-5 6l-7-7l-6-2zM1146 2287l0 3l-6 4l-7-3l9-6z"/><path d="M919 2376l-1 8l-2 2l-4 0l-9 12l0 6l4 4l-2 2l-6 0l1 5l5 5l0 5l-8 7l1 14l5 9l8 4l11-2l5-5l1-37l-9-7l-1-10l4-5l-1-6l2-3zM911 2355l-4 4l-1 5l3 8l5 3l2-1l0-10l5-5l-6-4zM916 2340l-3 0l0 4l-2 2l-6 1l-1 4l2 2l7-6l7 0zM1181 2331l-2-1l-4 3l4 1zM1124 2327l-1 3l3 4l2-5l-1-2zM917 2313l-12 0l-2 2l0 4l5 7l-2 5l-6 5l1 2l10-1l8-5l-1-5l4-7zM1204 2300l2 3l6 1l0-2l-6-3zM916 2295l-9 8l0 2l10 4l3-6l-1-6zM1207 2253l1 4l6 1l0-6l-4-1zM913 2218l-9 3l-2 9l5 6l-2 8l5 5l-2 5l2 6l-2 2l-4-1l4 10l-1 3l-6 4l3 10l3 3l10-2l2-4l-3-4l-6 3l-3-3l0-3l2-2l6 0l2-3l7-3l0-4l-6-7l2-6l0-11l-4-3l5-3l4-7l-8-9zM1179 2204l-5 4l-8-1l-7 8l-6 0l-7 3l-1 10l-7 3l1 11l-3 4l1 8l-7 6l0 3l2 0l3 5l0 9l-5 4l1 6l4 1l7-4l5 3l0 4l-8 5l-1 8l-3 5l4 8l1 12l4 3l-3 7l3 2l16-11l7 3l0-5l-7-4l4-9l-6-6l6-8l8 2l8 12l3 0l0-6l7-8l9 0l-3-5l3-14l5-2l2 3l6 1l-1-4l-5-3l0-5l7-3l1-5l-7-1l-6-7l1-9l6-7l0-4l-6-4l4-11l-5-2l-2 5l-4 1l-5-6l-9-5l0-7zM1150 2300l3 3l-2 3l-3-2z"/><path d="M911 2388l-1 4l-6 5l0 6l4 3l-2 5l-5 0l0 4l5 5l-1 6l-7 5l-1 5l2 4l0 8l4 6l5 4l8 0l7-2l3-3l1-38l-2-2l-4 0l-4-5l0-9l3-8l-4-3zM912 2356l-4 3l-1 6l3 6l4 2l0-6l4-8l-3-3zM909 2347l-2 0l-1 3l2 0zM918 2317l-7-3l-7 1l1 5l7 2l-4 4l-2 7l-5 4l2 1l7-2l7-4l0-5l3-5zM917 2296l-9 8l2 2l8 0zM902 2278l2 8l3 4l10-3l0-4l-5 3l-6-5l-1-5zM1208 2254l1 2l4 0l-1-4zM910 2219l-5 2l-2 9l5 8l-2 6l6 5l-3 5l3 6l-4 3l0 10l5 2l2-7l5 4l3-2l-1-6l-5-5l2-5l0-9l-4-6l9-8l0-2l-7-8zM1179 2206l-5 3l-8 0l-7 7l-12 2l-1 10l-7 4l1 9l-3 5l1 8l-5 5l2 4l1 14l-5 5l1 5l3 0l9-4l5 6l-2 4l-7 4l-4 12l5 11l0 8l5 5l-1 4l14-8l7 2l0-3l-7-3l3-10l-5-5l0-3l8-8l8 3l6 6l3 0l8-9l6 1l-1-5l2-4l0-10l8-4l2-8l6-2l-1-2l-5 0l-7-10l2-9l5-6l0-4l-6-4l0-4l4-4l0-3l-3-1l-4 6l-3 0l-5-6l-9-4zM1150 2293l5 11l-3 4l0 9l-4 3l-5-9l4-4l-1-7z"/><path d="M914 2389l-2 0l-1 3l-7 6l1 5l4 3l-1 4l-6 4l4 5l0 6l-9 9l3 15l4 6l5 3l13-2l4-5l0-35l-5 0l-5-6l0-11l3-6zM915 2357l-3 0l-4 4l0 4l4 6l5-11zM918 2321l-10 7l-1 7l6-1l3-3zM905 2315l0 3l3 2l5-2l-2-3zM916 2297l-6 8l7-2zM1146 2294l-5 4l-4 13l5 7l0 9l5 6l4 0l8-5l-1-7l2-7l-5-6l-2 2l1 6l-2 4l-3 2l-5-3l-3-7l4-5zM903 2278l3 11l4 0l1-2l-6-5l0-4zM908 2220l-2 1l-2 9l4 6l-1 8l9 4l-6 6l3 7l-4 3l1 9l3 0l-2-4l3-3l6 5l3-2l-1-4l-6-6l2-10l-4-7l1-5l8-6l0-3l-7-7zM1178 2208l-14 3l-5 6l-4-1l-8 4l0 7l-6 7l0 7l-3 5l2 7l-5 6l2 18l-5 5l0 3l3 1l6-4l6 1l6 10l0 4l4 8l6-7l4 0l5 2l6 6l6 0l3-3l0-6l6-1l3-4l0-7l-6-7l12 0l5-11l-7-10l2-12l5-6l-1-3l-6-4l0-5l4-3l-1-3l-5 7l-3-1l-6-7l-4 0l-5-4z"/><path d="M914 2391l-2 0l-7 7l0 4l5 4l0 2l-6 7l3 3l-1 8l-8 7l2 14l4 7l6 4l13-3l2-2l1-33l-1-3l-5 0l-4-5l0-19zM915 2358l-3 0l-4 5l2 3l2 0l3-4zM915 2325l-6 3l0 6l6-3zM906 2316l1 2l4 0l0-2zM1155 2311l1 7l-5 5l-8-2l0 5l5 6l3 0l6-4l-1-7l2-6zM1143 2300l-3 2l-2 7l1 2l5-5zM906 2285l0 3l2 1l1-3zM915 2261l-3 4l4 0l5 5l1-4zM917 2251l-6 4l2 3l4-4zM907 2221l-2 10l4 6l-1 7l5 1l0-6l9-8l0-3l-7-7zM1177 2209l-13 3l-4 5l-6 0l-6 4l-1 7l-8 17l0 5l2 2l0 3l-4 4l0 10l2 4l-5 11l7-4l7 1l3 2l3 8l0 6l2 2l11-2l7 3l5 5l5 0l2-2l0-4l-4-5l0-4l4-2l0 5l2 2l4 0l3-3l-1-8l-3-2l-2-5l6-1l5 2l4-3l1-8l-3-3l-3-10l2-8l5-8l-13-12l-2-4l-8-2l-4-4z"/><path d="M914 2394l-7 2l-2 3l6 8l-5 8l2 2l-2 10l-8 7l5 18l3 4l5 2l9-2l4-3l2-16l-1-18l-6-2l-4-5zM914 2359l-2 0l-3 4l3 1zM914 2327l-4 2l0 4l4-3zM1144 2323l6 8l6-3l0-3l-7 1zM1142 2302l-2 2l0 4l3-3zM1192 2287l-4 2l0 5l4 0l2-2zM913 2221l-4 0l-3 3l0 7l4 6l0 7l2-1l0-4l9-8l0-4zM1165 2212l-5 6l-7 0l-5 4l0 5l-9 20l4 8l-5 4l-1 8l3 5l0 6l12 4l3 7l0 7l2 2l11-2l14 9l3-1l1-4l-5-4l0-7l10-5l-3-8l7-2l3 3l3 0l3-4l0-5l-3-3l-2-12l6-15l-12-11l-3-5l-9-3l-4-4l0-4zM1163 2288l3-1l2 3l-2 1zM1143 2272l2-2l3 1l-1 2zM1198 2265l1 5l-3 3l-2-6z"/></g></g><g fill="none" stroke="#e63a26" stroke-opacity="0.85" stroke-width="4.3" stroke-linecap="round"><path d="M1005 2072h0m197 45h0m-296 19h0m198 9h0m28 3h0m37 8h0m-256 3h0m277 2h0m-47 5h0m28 0h0m28 0h0m6 0h0m-76 3h0m7 0h0m82 1h0m-126 3h0m111 2h0m-158 1h0m-69 3h0m258 0h0m32 0h0m-125 7h0m75 1h0m-18 1h0m-12 2h0m-19 1h0m58 0h0m-37 2h0m4 0h0m-39 1h0m17 2h0m66 0h0m-56 1h0m2 1h0m-188 1h0m198 0h0m-87 1h0m52 1h0m57 0h0m-85 1h0m5 0h0m-218 2h0m241 1h0m7 1h0m54 0h0m-307 1h0m6 1h0m8 0h0m-14 1h0m275 0h0m-280 1h0m166 0h0m-175 1h0m236 1h0m74 0h0m-187 1h0m108 0h0m-158 1h0m-48 1h0m61 0h0m166 0h0m8 0h0m-64 1h0m109 0h0m-21 1h0m-271 1h0m195 1h0m29 0h0m52 1h0m-38 1h0m61 0h0m-217 1h0m225 0h0m-324 1h0m117 0h0m133 1h0m73 0h0m-279 1h0m245 0h0m-255 2h0m290 0h0m-84 1h0m32 0h0m-26 2h0m21 0h0m33 0h0m-281 1h0m194 0h0m91 0h0m9 0h0m-170 1h0m127 0h0m22 0h0m28 0h0m18 0h0m-159 1h0m125 0h0m-191 1h0m-21 1h0m27 0h0m83 0h0m120 1h0m12 0h0m-333 1h0m204 0h0m96 0h0m-65 1h0m65 1h0m74 1h0m-57 1h0m-66 1h0m80 0h0m47 0h0m-346 1h0m32 0h0m173 0h0m50 0h0m-180 1h0m154 0h0m71 0h0m-79 1h0m9 0h0m9 0h0m55 0h0m16 1h0m-332 1h0m79 0h0m143 1h0m29 0h0m31 0h0m32 0h0m-84 1h0m43 0h0m14 0h0m-33 1h0m1 0h0m5 0h0m42 0h0m28 0h0m-120 1h0m57 0h0m-72 1h0m-200 1h0m225 0h0m20 0h0m-223 1h0m274 0h0m-179 1h0m84 0h0m-21 1h0m88 0h0m19 0h0m24 0h0m-300 1h0m253 0h0m-235 1h0m-19 1h0m92 0h0m114 0h0m92 0h0m-306 1h0m246 0h0m40 0h0m-278 1h0m201 0h0m47 0h0m48 0h0m-134 1h0m83 0h0m47 0h0m30 1h0m-230 1h0m165 0h0m10 0h0m-46 2h0m59 0h0m2 0h0m-30 1h0m5 0h0m13 0h0m13 0h0m-81 1h0m40 0h0m25 0h0m-276 1h0m6 0h0m14 0h0m264 0h0m-263 2h0m56 0h0m125 0h0m39 0h0m46 0h0m-269 1h0m262 0h0m35 0h0m-313 1h0m219 0h0m26 0h0m-47 1h0m84 0h0m80 0h0m-249 1h0m181 0h0m-10 1h0m40 0h0m3 0h0m-85 1h0m4 0h0m27 0h0m7 0h0m-7 1h0m-249 1h0m272 0h0m-128 1h0m62 0h0m-24 1h0m37 0h0m63 0h0m-37 1h0m59 0h0m-332 1h0m24 1h0m81 0h0m109 1h0m-5 1h0m23 0h0m21 0h0m70 1h0m-316 1h0m305 0h0m-302 1h0m6 0h0m160 0h0m29 0h0m51 0h0m-250 1h0m224 0h0m69 0h0m28 1h0m-123 1h0m62 0h0m-164 1h0m100 0h0m75 0h0m-244 1h0m65 0h0m3 0h0m85 0h0m147 1h0m-327 1h0m282 0h0m2 0h0m-182 1h0m103 0h0m66 0h0m47 0h0m-283 1h0m72 0h0m-20 1h0m112 0h0m35 0h0m75 0h0m-291 1h0m295 0h0m13 0h0m-148 1h0m39 0h0m107 0h0m-143 1h0m28 0h0m80 0h0m-298 1h0m97 0h0m-23 1h0m175 0h0m34 0h0m-247 1h0m51 0h0m1 0h0m116 0h0m68 0h0m40 0h0m-40 1h0m26 0h0m-105 1h0m41 0h0m-201 1h0m179 0h0m26 0h0m21 0h0m-40 1h0m36 0h0m30 0h0m44 0h0m3 0h0m-137 2h0m36 0h0m29 0h0m-36 1h0m39 0h0m-174 1h0m135 0h0m72 0h0m-96 1h0m38 0h0m40 0h0m29 0h0m44 0h0m-183 1h0m-57 1h0m-111 1h0m16 0h0m156 0h0m57 0h0m56 0h0m-53 2h0m82 0h0m4 0h0m-319 1h0m205 0h0m13 0h0m73 0h0m55 0h0m-329 1h0m237 0h0m27 0h0m-187 1h0m101 0h0m67 0h0m-160 1h0m118 0h0m15 0h0m41 0h0m-261 1h0m160 0h0m-152 1h0m203 0h0m43 0h0m-264 1h0m270 0h0m-250 1h0m209 0h0m-233 1h0m4 0h0m80 1h0m39 0h0m68 1h0m12 1h0m2 0h0m-199 1h0m183 1h0m78 0h0m-85 1h0m92 0h0m35 0h0m-119 1h0m96 0h0m-81 1h0m88 1h0m-281 1h0m210 0h0m67 0h0m-193 2h0m105 0h0m37 0h0m24 0h0m-237 1h0m74 0h0m-1 1h0m134 0h0m47 0h0m0 0h0m42 0h0m-77 1h0m89 0h0m-160 1h0m35 0h0m45 0h0m12 0h0m22 0h0m48 0h0m6 0h0m-209 1h0m82 0h0m-25 2h0m-172 1h0m255 0h0m-156 1h0m-95 1h0m52 0h0m192 0h0m3 0h0m15 0h0m-19 1h0m14 0h0m18 0h0m13 0h0m-289 1h0m190 0h0m15 0h0m26 0h0m15 0h0m-56 1h0m45 0h0m4 0h0m26 0h0m57 0h0m-11 1h0m-299 1h0m194 0h0m15 0h0m42 0h0m1 0h0m-83 1h0m72 0h0m10 0h0m-22 1h0m-23 1h0m-216 1h0m135 0h0m67 0h0m45 1h0m-240 1h0m227 0h0m-104 1h0m113 0h0m38 0h0m-219 1h0m180 0h0m-18 1h0m-44 1h0m-193 1h0m76 0h0m179 0h0m23 0h0m5 0h0m-262 1h0m47 0h0m187 1h0m3 0h0m-273 1h0m114 1h0m185 0h0m-289 1h0m217 1h0m19 0h0m-9 1h0m-232 1h0m272 0h0m-15 2h0m26 0h0m-253 1h0m74 1h0m96 0h0m125 1h0m-143 1h0m78 0h0m-52 1h0m92 0h0m-275 1h0m61 0h0m185 1h0m28 0h0m-61 1h0m-224 1h0m20 1h0m137 0h0m-166 1h0m336 1h0m-325 1h0m22 0h0m232 0h0m-55 2h0m33 1h0m-57 1h0m17 0h0m28 0h0m29 0h0m-15 1h0m-146 1h0m185 0h0m-47 2h0m16 0h0m23 1h0m-263 1h0m7 0h0m63 0h0m75 0h0m10 0h0m-93 1h0m152 0h0m-34 1h0m-169 1h0m164 0h0m-178 1h0m199 0h0m3 0h0m32 0h0m-208 1h0m200 1h0m-139 1h0m15 0h0m60 0h0m5 0h0m-173 1h0m91 0h0m-102 1h0m215 0h0m47 1h0m3 0h0m-164 1h0m88 2h0m67 0h0m18 0h0m-272 1h0m248 0h0m-209 1h0m63 0h0m122 0h0m-218 1h0m27 0h0m233 0h0m5 0h0m39 1h0m-73 1h0m-213 2h0m180 0h0m9 0h0m-185 1h0m212 0h0m32 0h0m-234 1h0m150 0h0m81 0h0m-105 1h0m133 1h0m-275 1h0m196 0h0m-142 1h0m88 0h0m-61 1h0m70 0h0m-167 1h0m187 0h0m-161 1h0m15 0h0m55 0h0m101 0h0m20 0h0m36 0h0m9 0h0m14 0h0m-38 2h0m-234 1h0m191 0h0m-106 1h0m172 1h0m23 0h0m2 0h0m-271 1h0m219 0h0m-218 1h0m-4 1h0m4 0h0m177 1h0m-107 1h0m177 0h0m-128 1h0m-118 1h0m85 0h0m115 0h0m1 0h0m-219 1h0m181 0h0m38 0h0m27 0h0m4 0h0m-1 1h0m-234 2h0m69 0h0m138 0h0m71 0h0m-280 1h0m198 0h0m11 0h0m68 0h0m-60 1h0m46 0h0m-276 1h0m27 0h0m5 0h0m108 0h0m67 0h0m101 0h0m-297 1h0m9 0h0m193 0h0m33 0h0m34 0h0m-197 1h0m191 0h0m-174 1h0m-93 1h0m108 0h0m122 0h0m-224 2h0m237 0h0m-236 1h0m9 0h0m173 0h0m25 0h0m-111 1h0m118 0h0"/><path d="M936 2112h0m219 2h0m-241 24h0m277 10h0m-14 15h0m10 1h0m89 0h0m-320 2h0m305 1h0m-80 1h0m1 0h0m16 7h0m5 2h0m-25 1h0m0 1h0m-5 1h0m-1 3h0m-30 2h0m-151 2h0m179 2h0m8 0h0m20 0h0m-40 2h0m41 0h0m-58 2h0m-226 1h0m294 1h0m-61 3h0m24 0h0m2 0h0m42 0h0m-79 1h0m6 0h0m66 0h0m-25 1h0m15 0h0m34 0h0m-86 1h0m9 0h0m-242 1h0m286 0h0m-302 1h0m31 0h0m50 0h0m209 0h0m-58 1h0m23 1h0m-15 1h0m-170 2h0m195 0h0m20 0h0m18 1h0m-214 1h0m225 0h0m-17 1h0m-232 1h0m8 2h0m-44 1h0m259 0h0m2 0h0m42 0h0m-27 1h0m-68 1h0m-215 1h0m47 0h0m258 0h0m-8 1h0m17 0h0m-317 1h0m246 0h0m25 1h0m-194 1h0m95 1h0m27 1h0m74 0h0m47 0h0m-82 2h0m-31 1h0m6 0h0m-235 1h0m16 0h0m250 0h0m14 0h0m4 0h0m-265 1h0m263 0h0m30 0h0m-97 1h0m32 0h0m47 0h0m-67 1h0m49 0h0m6 0h0m47 0h0m-303 1h0m240 0h0m-44 1h0m-135 1h0m112 0h0m25 0h0m66 0h0m-50 1h0m63 0h0m-259 1h0m230 0h0m-4 1h0m20 0h0m61 0h0m-343 2h0m255 0h0m7 0h0m-12 1h0m2 0h0m16 0h0m7 0h0m-240 1h0m184 0h0m-14 1h0m82 0h0m-177 1h0m151 1h0m49 0h0m-96 1h0m39 0h0m78 0h0m-329 1h0m263 0h0m1 0h0m-72 1h0m65 0h0m-249 1h0m7 0h0m219 0h0m12 0h0m16 0h0m-9 1h0m10 0h0m-4 1h0m3 0h0m23 0h0m-275 2h0m101 0h0m150 0h0m-267 1h0m228 0h0m133 0h0m-254 1h0m224 0h0m-234 1h0m185 0h0m16 0h0m-48 1h0m4 0h0m53 0h0m-271 1h0m53 0h0m110 0h0m139 0h0m-1 1h0m-299 1h0m239 0h0m-66 1h0m81 0h0m-259 1h0m215 0h0m6 0h0m24 0h0m-54 1h0m41 0h0m-30 1h0m44 0h0m60 0h0m-345 1h0m86 1h0m251 0h0m-316 1h0m185 0h0m112 0h0m-223 1h0m6 0h0m121 0h0m51 0h0m-157 1h0m172 0h0m53 0h0m22 0h0m-259 2h0m154 0h0m18 0h0m60 0h0m-218 1h0m149 1h0m5 0h0m-164 1h0m92 0h0m19 1h0m53 0h0m86 0h0m-341 1h0m299 0h0m38 0h0m-75 1h0m-65 1h0m20 0h0m46 0h0m6 0h0m-185 2h0m6 0h0m164 0h0m-251 1h0m13 0h0m200 0h0m63 0h0m-19 1h0m-148 1h0m162 0h0m-49 1h0m72 1h0m12 0h0m-297 2h0m57 0h0m176 0h0m-236 1h0m237 0h0m-161 1h0m6 0h0m218 1h0m-297 1h0m221 0h0m19 0h0m-51 1h0m43 2h0m-237 1h0m236 0h0m2 3h0m-260 1h0m345 0h0m-146 1h0m-190 1h0m212 1h0m7 0h0m15 0h0m8 0h0m1 0h0m-44 1h0m21 0h0m34 1h0m64 0h0m8 0h0m-305 2h0m249 0h0m-263 1h0m107 0h0m100 0h0m-223 1h0m272 0h0m-145 1h0m76 0h0m111 0h0m-299 1h0m229 0h0m-233 1h0m272 0h0m12 0h0m-88 1h0m14 0h0m144 0h0m-344 1h0m185 0h0m117 0h0m-315 1h0m-5 2h0m214 0h0m-197 2h0m179 0h0m37 0h0m-168 1h0m188 0h0m57 0h0m9 0h0m-77 1h0m-13 1h0m32 0h0m23 0h0m8 1h0m-294 1h0m121 0h0m144 1h0m-49 1h0m54 0h0m30 0h0m-104 2h0m23 0h0m55 0h0m-251 1h0m269 0h0m23 0h0m14 0h0m-75 1h0m-159 1h0m193 0h0m-160 1h0m-131 1h0m87 0h0m65 0h0m84 0h0m9 0h0m14 0h0m-7 1h0m-230 1h0m15 0h0m68 0h0m138 0h0m19 0h0m53 0h0m-299 1h0m275 0h0m-205 1h0m149 0h0m41 0h0m13 0h0m16 0h0m-162 1h0m49 0h0m60 0h0m33 0h0m21 0h0m-298 1h0m7 0h0m200 0h0m77 0h0m-73 1h0m-191 1h0m243 0h0m-262 2h0m246 0h0m47 0h0m-290 1h0m292 0h0m-293 1h0m6 0h0m188 0h0m3 0h0m-178 1h0m60 0h0m7 0h0m150 0h0m-222 1h0m180 0h0m-209 1h0m38 0h0m205 0h0m28 0h0m-252 1h0m5 0h0m268 0h0m-44 2h0m15 0h0m58 0h0m-41 2h0m30 0h0m-149 2h0m89 0h0m15 0h0m94 0h0m-342 1h0m177 0h0m7 0h0m52 0h0m-48 1h0m52 0h0m36 0h0m-266 1h0m6 0h0m198 0h0m36 0h0m57 0h0m-307 1h0m263 0h0m36 0h0m-274 1h0m60 0h0m121 0h0m39 1h0m28 0h0m-41 1h0m38 0h0m-192 1h0m176 1h0m-28 1h0m0 1h0m35 0h0m46 0h0m-154 1h0m50 0h0m72 0h0m-118 1h0m42 0h0m38 0h0m-135 1h0m6 2h0m80 0h0m40 0h0m-220 1h0m175 0h0m55 0h0m28 0h0m-271 1h0m87 0h0m178 0h0m-257 1h0m89 0h0m-12 1h0m112 0h0m-14 1h0m-169 1h0m2 0h0m-6 1h0m195 0h0m-199 1h0m89 0h0m57 0h0m30 0h0m41 0h0m26 0h0m14 0h0m-265 1h0m163 0h0m70 0h0m-229 1h0m34 2h0m194 0h0m-112 1h0m-127 1h0m259 0h0m9 0h0m-9 1h0m9 0h0m-94 1h0m16 0h0m33 2h0m14 0h0m94 0h0m-98 1h0m49 1h0m-182 1h0m124 0h0m-30 1h0m26 0h0m48 0h0m-234 1h0m77 0h0m126 0h0m-164 1h0m-44 1h0m200 0h0m7 0h0m-125 1h0m162 1h0m-267 1h0m3 0h0m92 0h0m18 0h0m120 0h0m46 0h0m49 0h0m-133 1h0m36 0h0m17 0h0m36 0h0m74 0h0m-363 1h0m24 0h0m150 0h0m59 1h0m47 0h0m8 0h0m4 0h0m-186 1h0m170 2h0m-80 1h0m17 0h0m-99 1h0m139 0h0m-28 1h0m82 0h0m-232 1h0m26 0h0m100 0h0m1 2h0m11 0h0m2 0h0m57 1h0m-89 2h0m46 0h0m-208 1h0m1 1h0m229 0h0m-231 1h0m4 0h0m173 0h0m-5 1h0m8 0h0m86 0h0m-210 1h0m205 0h0m-193 1h0m164 0h0m-226 1h0m138 0h0m131 0h0m24 0h0m-277 2h0m126 0h0m-61 1h0m88 0h0m58 0h0m-164 1h0m116 0h0m-200 2h0m23 0h0m6 0h0m82 0h0m176 0h0m14 0h0m-44 1h0m-48 1h0m73 0h0m-266 1h0m89 0h0m171 0h0m-262 1h0m183 0h0m-185 1h0m1 0h0m180 0h0m13 0h0m-188 1h0m8 1h0m196 0h0m12 0h0m-65 1h0m69 0h0m-43 1h0m-188 1h0m13 0h0m77 0h0m92 0h0m10 1h0m18 0h0m-194 1h0m-28 2h0m179 0h0m34 0h0m68 0h0m-260 1h0m-1 1h0m4 0h0m74 0h0m164 0h0m-54 1h0m32 0h0m19 0h0m17 0h0m-108 1h0m140 0h0m-296 1h0m16 0h0m58 0h0m8 0h0m-86 1h0m263 0h0m-251 2h0m105 0h0m93 0h0m-32 1h0m70 0h0m-160 1h0m-77 1h0m198 0h0m-29 1h0m-162 2h0m279 0h0m-72 2h0m-237 1h0"/><path d="M926 2056h0m255 41h0m-43 47h0m34 7h0m-58 7h0m97 1h0m-24 3h0m-7 5h0m-30 3h0m67 1h0m-41 4h0m-44 1h0m27 0h0m14 0h0m4 0h0m29 3h0m-51 1h0m81 0h0m-21 3h0m-100 1h0m41 1h0m-63 2h0m91 0h0m-272 2h0m236 0h0m-240 3h0m247 2h0m16 0h0m49 0h0m-63 1h0m13 0h0m51 0h0m-231 1h0m159 0h0m-226 1h0m64 2h0m227 0h0m6 1h0m-22 1h0m-218 3h0m5 0h0m7 0h0m82 0h0m75 0h0m53 0h0m-288 2h0m219 0h0m15 0h0m27 0h0m-167 1h0m164 0h0m-193 1h0m42 0h0m168 0h0m5 1h0m-280 1h0m-12 1h0m22 0h0m221 0h0m43 0h0m-44 1h0m-150 1h0m205 0h0m-220 1h0m123 0h0m19 0h0m-220 1h0m13 0h0m221 0h0m86 0h0m-312 2h0m262 1h0m58 0h0m-316 1h0m216 0h0m48 0h0m-276 1h0m16 1h0m-12 1h0m354 0h0m-261 1h0m182 0h0m34 1h0m15 0h0m3 0h0m-249 1h0m-74 1h0m207 0h0m81 0h0m-276 1h0m186 0h0m-111 1h0m126 0h0m27 0h0m7 1h0m6 0h0m13 0h0m-253 1h0m297 0h0m-247 1h0m-66 1h0m14 0h0m177 0h0m74 0h0m-179 1h0m12 0h0m120 0h0m130 0h0m-330 1h0m89 0h0m89 0h0m69 0h0m-169 1h0m151 1h0m67 0h0m-63 2h0m-242 1h0m205 0h0m-197 1h0m176 0h0m120 0h0m-79 1h0m26 0h0m-158 1h0m147 0h0m-235 1h0m263 0h0m7 0h0m-292 1h0m228 0h0m36 1h0m13 0h0m-258 1h0m170 0h0m76 0h0m86 0h0m-59 1h0m-23 1h0m21 0h0m-259 1h0m273 0h0m28 0h0m-64 1h0m15 0h0m-13 1h0m4 0h0m-151 1h0m166 0h0m-296 1h0m265 1h0m63 0h0m-326 1h0m233 1h0m92 0h0m-125 1h0m-177 1h0m253 0h0m29 0h0m-9 1h0m-86 1h0m53 0h0m58 0h0m-294 2h0m201 0h0m33 0h0m10 0h0m25 0h0m-196 1h0m-93 1h0m266 1h0m65 0h0m-18 2h0m-47 1h0m4 0h0m2 0h0m-264 1h0m246 0h0m75 0h0m-327 1h0m227 0h0m29 0h0m5 1h0m45 0h0m-202 2h0m13 0h0m173 0h0m2 0h0m-216 2h0m25 0h0m154 0h0m68 0h0m-2 1h0m-328 1h0m82 0h0m85 0h0m15 0h0m86 0h0m16 0h0m-275 1h0m112 0h0m144 0h0m-108 1h0m38 0h0m18 0h0m35 0h0m31 0h0m-254 1h0m194 0h0m28 0h0m-224 1h0m244 0h0m31 0h0m41 0h0m-20 1h0m-130 1h0m39 0h0m-228 1h0m90 0h0m123 0h0m52 0h0m68 0h0m-13 1h0m-307 1h0m7 0h0m87 0h0m-89 2h0m224 0h0m-232 1h0m11 0h0m118 0h0m92 0h0m-202 1h0m190 0h0m13 0h0m9 0h0m3 0h0m64 0h0m-296 1h0m245 0h0m29 0h0m-264 1h0m17 0h0m166 0h0m17 0h0m20 0h0m43 0h0m34 0h0m-131 1h0m39 0h0m105 0h0m-223 1h0m115 0h0m86 0h0m23 0h0m-326 1h0m11 0h0m-7 1h0m200 1h0m41 0h0m1 0h0m19 0h0m-163 1h0m151 1h0m-30 1h0m-210 1h0m70 0h0m227 0h0m22 0h0m-88 1h0m53 0h0m-185 1h0m74 0h0m60 0h0m-215 1h0m60 0h0m5 0h0m189 1h0m-57 1h0m46 0h0m58 0h0m-323 1h0m225 0h0m-200 1h0m153 1h0m-170 1h0m223 0h0m38 1h0m-287 1h0m282 0h0m-250 1h0m177 0h0m65 0h0m35 0h0m68 0h0m-368 1h0m19 0h0m185 0h0m91 0h0m68 0h0m-159 1h0m62 0h0m24 0h0m-300 1h0m204 0h0m-178 1h0m301 0h0m-188 1h0m93 0h0m37 0h0m44 0h0m45 0h0m-324 1h0m50 0h0m160 0h0m59 0h0m16 0h0m-231 1h0m222 0h0m-285 2h0m254 0h0m-63 1h0m81 0h0m-34 1h0m42 0h0m24 0h0m-308 2h0m10 0h0m167 0h0m13 0h0m113 0h0m12 0h0m-322 1h0m269 0h0m25 0h0m3 0h0m26 0h0m-331 1h0m226 0h0m-28 1h0m101 2h0m12 0h0m-64 1h0m-161 1h0m160 0h0m-235 1h0m146 0h0m116 0h0m-66 2h0m22 0h0m3 0h0m62 0h0m-41 2h0m-174 1h0m110 0h0m53 0h0m93 0h0m-245 2h0m187 0h0m-88 1h0m42 0h0m20 0h0m20 0h0m37 0h0m3 0h0m-281 1h0m219 0h0m41 0h0m-292 1h0m245 0h0m59 0h0m-122 1h0m34 0h0m72 0h0m-186 1h0m76 0h0m147 0h0m26 0h0m-149 1h0m-194 1h0m19 0h0m264 0h0m7 0h0m17 0h0m-232 1h0m138 0h0m10 0h0m61 0h0m36 0h0m7 0h0m-308 1h0m46 1h0m141 1h0m24 0h0m52 0h0m-245 1h0m109 0h0m153 0h0m46 0h0m-349 1h0m216 1h0m-202 1h0m266 0h0m-137 1h0m58 1h0m68 0h0m-167 1h0m92 0h0m104 0h0m-10 1h0m-290 1h0m330 1h0m-105 1h0m27 0h0m-238 5h0m260 0h0m-270 1h0m232 0h0m41 0h0m27 1h0m-194 2h0m9 0h0m85 0h0m45 0h0m-87 1h0m33 1h0m58 0h0m35 0h0m26 0h0m-289 1h0m180 0h0m36 0h0m56 0h0m-265 2h0m72 1h0m183 0h0m3 0h0m-306 1h0m109 0h0m-92 1h0m263 0h0m-18 1h0m-226 1h0m188 0h0m67 0h0m-265 1h0m65 0h0m35 0h0m192 1h0m2 1h0m-291 1h0m200 0h0m-187 2h0m190 0h0m-211 1h0m189 0h0m49 0h0m38 0h0m-247 1h0m46 0h0m63 0h0m66 0h0m-49 1h0m83 0h0m-38 1h0m-200 1h0m255 1h0m-173 1h0m200 0h0m-185 1h0m158 0h0m-247 1h0m19 0h0m83 0h0m127 4h0m-211 1h0m221 1h0m7 1h0m-78 2h0m52 0h0m39 0h0m25 0h0m-37 1h0m-262 2h0m2 0h0m87 0h0m90 0h0m-168 1h0m19 0h0m279 1h0m-316 1h0m272 0h0m-52 1h0m-8 1h0m38 0h0m-49 1h0m-112 1h0m24 0h0m-104 1h0m113 0h0m105 0h0m25 1h0m-220 1h0m214 0h0m-140 1h0m112 0h0m-213 1h0m65 0h0m159 0h0m43 0h0m-20 1h0m-227 1h0m-5 1h0m224 0h0m-31 1h0m38 0h0m-221 2h0m4 0h0m61 0h0m128 0h0m11 0h0m-58 1h0m-81 2h0m172 1h0m0 0h0m48 0h0m-300 2h0m218 0h0m-145 1h0m11 0h0m35 0h0m92 1h0m83 0h0m-208 1h0m169 0h0m-169 1h0m78 0h0m36 0h0m28 0h0m40 0h0m-198 2h0m34 1h0m143 0h0m12 0h0m-258 1h0m117 0h0m-122 1h0m106 1h0m58 0h0m29 0h0m-173 1h0m194 0h0m70 0h0m-172 1h0m91 0h0m27 0h0m-206 1h0m137 1h0m47 0h0m71 0h0m-103 1h0m77 0h0m15 0h0m-149 1h0m50 0h0m29 0h0m5 0h0m32 0h0m-221 1h0m2 1h0m156 0h0m8 0h0m-88 1h0m7 0h0m9 0h0m92 0h0m17 0h0m-33 1h0m96 0h0m-176 1h0m-77 1h0m96 0h0m147 0h0m-171 1h0"/><path d="M1011 2093h0m-88 29h0m7 11h0m225 9h0m28 4h0m3 2h0m-6 3h0m-9 1h0m33 7h0m-257 3h0m229 0h0m-85 3h0m95 3h0m-11 4h0m61 0h0m-123 1h0m-202 1h0m289 4h0m-300 1h0m289 0h0m-67 1h0m85 1h0m30 0h0m-127 4h0m83 0h0m-192 2h0m151 0h0m31 0h0m-8 2h0m8 0h0m-77 1h0m25 0h0m-2 1h0m64 0h0m7 0h0m49 0h0m-322 3h0m209 2h0m-149 1h0m172 1h0m37 0h0m60 3h0m-160 1h0m-39 1h0m-47 1h0m113 1h0m-123 1h0m142 0h0m50 0h0m1 0h0m33 0h0m-303 2h0m297 0h0m-314 1h0m219 1h0m86 0h0m34 1h0m-95 1h0m-137 1h0m138 0h0m14 0h0m-178 1h0m168 0h0m10 0h0m41 0h0m-298 1h0m69 0h0m26 0h0m148 0h0m-233 1h0m11 0h0m229 0h0m-170 1h0m232 0h0m-292 1h0m265 0h0m-61 1h0m79 0h0m-229 1h0m-59 1h0m174 1h0m33 1h0m1 0h0m14 2h0m-143 1h0m174 0h0m-60 1h0m57 0h0m-33 1h0m7 0h0m21 0h0m17 0h0m-45 1h0m22 0h0m-1 1h0m3 0h0m12 0h0m-20 1h0m41 0h0m-212 1h0m198 1h0m-58 1h0m29 0h0m24 0h0m-285 1h0m271 0h0m-248 1h0m64 0h0m-74 2h0m263 0h0m25 0h0m32 0h0m-42 1h0m16 0h0m-83 1h0m77 1h0m-5 1h0m8 0h0m-47 1h0m8 0h0m-157 1h0m100 0h0m11 0h0m31 0h0m-130 1h0m149 0h0m16 0h0m54 0h0m-125 1h0m81 1h0m-288 1h0m273 0h0m-261 1h0m197 0h0m87 0h0m-282 1h0m6 0h0m244 0h0m24 0h0m7 1h0m-266 1h0m211 0h0m47 0h0m-290 1h0m17 0h0m12 0h0m244 0h0m40 0h0m-98 1h0m72 1h0m11 0h0m48 0h0m-240 1h0m176 1h0m-182 1h0m97 0h0m22 0h0m60 1h0m-269 1h0m94 0h0m-96 1h0m231 0h0m-6 1h0m33 0h0m47 0h0m-40 1h0m26 0h0m-282 1h0m83 0h0m159 0h0m14 0h0m5 0h0m86 0h0m-343 2h0m263 0h0m2 0h0m37 0h0m68 0h0m-186 1h0m65 0h0m73 0h0m-128 1h0m27 0h0m-13 1h0m19 0h0m28 0h0m-93 1h0m61 0h0m17 0h0m-180 1h0m128 0h0m58 0h0m14 1h0m64 0h0m-261 1h0m193 1h0m-41 1h0m47 0h0m27 0h0m9 0h0m4 1h0m33 0h0m-142 1h0m67 0h0m-273 1h0m246 1h0m-234 1h0m185 0h0m144 0h0m-150 1h0m51 0h0m-36 1h0m40 0h0m71 0h0m-313 1h0m91 0h0m150 1h0m28 0h0m-43 1h0m-240 1h0m201 0h0m138 0h0m-49 1h0m-94 1h0m108 2h0m-202 1h0m239 0h0m-312 1h0m195 0h0m2 0h0m112 0h0m-56 1h0m1 0h0m-57 1h0m37 2h0m6 0h0m-18 1h0m5 0h0m46 0h0m-40 2h0m77 1h0m-145 1h0m103 0h0m57 0h0m-336 1h0m98 0h0m5 1h0m3 0h0m19 0h0m112 0h0m16 0h0m-50 1h0m5 0h0m-226 2h0m75 0h0m38 1h0m59 0h0m12 0h0m105 0h0m-278 1h0m242 0h0m75 0h0m-197 1h0m-106 1h0m212 0h0m-34 2h0m8 0h0m125 0h0m-113 2h0m50 0h0m64 0h0m-4 1h0m-127 1h0m49 0h0m83 0h0m-86 1h0m32 0h0m-8 1h0m46 0h0m-7 2h0m-193 1h0m127 1h0m-155 1h0m161 0h0m71 0h0m-32 1h0m4 0h0m5 0h0m4 0h0m-151 1h0m-150 1h0m-7 1h0m328 0h0m-109 1h0m78 0h0m27 2h0m3 0h0m30 1h0m-328 1h0m84 0h0m103 0h0m17 1h0m94 1h0m8 0h0m-303 1h0m71 0h0m14 0h0m107 3h0m-224 1h0m200 0h0m12 0h0m31 0h0m86 0h0m-1 1h0m-213 1h0m72 0h0m1 0h0m52 1h0m58 0h0m-99 1h0m19 0h0m83 0h0m-128 1h0m53 0h0m-195 1h0m316 0h0m-253 1h0m46 0h0m135 0h0m38 1h0m-61 1h0m-229 1h0m65 0h0m118 0h0m134 0h0m-110 1h0m9 0h0m24 0h0m14 0h0m-276 2h0m15 0h0m211 0h0m90 0h0m-210 1h0m117 0h0m-215 2h0m222 0h0m64 0h0m-112 1h0m122 1h0m-25 1h0m-90 1h0m-186 1h0m28 0h0m-24 1h0m98 0h0m-94 1h0m185 0h0m-79 1h0m124 1h0m17 0h0m53 0h0m-55 1h0m-60 1h0m87 0h0m-198 1h0m124 1h0m19 0h0m68 0h0m16 0h0m-213 1h0m117 1h0m-197 1h0m82 0h0m-81 1h0m70 0h0m-94 2h0m196 1h0m54 0h0m18 0h0m23 0h0m8 1h0m-69 1h0m-28 1h0m25 0h0m86 0h0m-29 1h0m7 1h0m-97 2h0m3 0h0m32 0h0m8 0h0m-221 1h0m23 0h0m229 0h0m-18 1h0m-75 1h0m77 0h0m24 0h0m-264 1h0m188 0h0m28 1h0m76 0h0m-295 1h0m21 0h0m67 0h0m185 1h0m-49 1h0m-213 1h0m188 0h0m37 0h0m-199 1h0m150 0h0m68 0h0m-47 1h0m46 0h0m-145 1h0m140 1h0m-223 1h0m85 0h0m72 0h0m90 0h0m-187 1h0m82 1h0m47 0h0m79 0h0m-94 1h0m21 0h0m19 0h0m22 1h0m-236 1h0m255 0h0m-181 1h0m125 1h0m-131 1h0m85 0h0m4 0h0m-166 1h0m81 0h0m88 0h0m37 0h0m-208 1h0m91 0h0m111 0h0m-207 2h0m176 0h0m24 0h0m-51 1h0m116 0h0m-172 1h0m132 0h0m12 0h0m-172 2h0m154 1h0m21 0h0m-237 1h0m185 0h0m-33 1h0m50 1h0m30 0h0m9 0h0m-42 1h0m50 0h0m-262 1h0m30 0h0m52 0h0m10 0h0m137 0h0m12 0h0m42 0h0m-269 1h0m77 2h0m0 1h0m182 0h0m22 0h0m43 1h0m-324 1h0m232 2h0m24 1h0m1 0h0m0 0h0m-95 1h0m45 0h0m70 0h0m-283 1h0m4 0h0m274 0h0m-265 2h0m97 0h0m84 1h0m-32 1h0m57 0h0m-206 1h0m224 0h0m32 0h0m-92 1h0m80 0h0m36 1h0m-193 1h0m133 0h0m-212 1h0m51 0h0m164 1h0m-44 1h0m73 0h0m-176 1h0m92 0h0m33 0h0m40 1h0m-191 2h0m101 2h0m16 0h0m1 1h0m-13 1h0m-86 1h0m139 0h0m19 0h0m-248 1h0m15 1h0m20 0h0m-26 1h0m160 0h0m-150 1h0m246 0h0m-263 1h0m26 0h0m3 0h0m42 0h0m28 0h0m54 0h0m-14 1h0m45 0h0m-151 1h0m67 0h0"/></g>
<line x1="871.4" y1="2371.8" x2="1268.5" y2="2246.4" stroke="#000" stroke-width="3.8"/>
</g>
<rect x="849.2" y="1982.7" width="532.3" height="494.7" fill="none" stroke="#333" stroke-width="2.2"/>
<path d="M840.2 2456.0H849.2M840.2 2305.6H849.2M840.2 2155.2H849.2M840.2 2004.8H849.2M974.2 2477.4V2486.4M1121.4 2477.4V2486.4M1268.5 2477.4V2486.4" stroke="#333" stroke-width="4.4" fill="none"/>
<text x="835.3" y="2471.5" font-size="39.5" fill="#4d4d4d" stroke="#4d4d4d" text-anchor="end">0</text>
<text x="835.3" y="2321.1" font-size="39.5" fill="#4d4d4d" stroke="#4d4d4d" text-anchor="end">5</text>
<text x="835.3" y="2170.7" font-size="39.5" fill="#4d4d4d" stroke="#4d4d4d" text-anchor="end">10</text>
<text x="835.3" y="2020.3" font-size="39.5" fill="#4d4d4d" stroke="#4d4d4d" text-anchor="end">15</text>
<text x="974.2" y="2519.9" font-size="39.5" fill="#4d4d4d" stroke="#4d4d4d" text-anchor="middle">10</text>
<text x="1121.4" y="2519.9" font-size="39.5" fill="#4d4d4d" stroke="#4d4d4d" text-anchor="middle">20</text>
<text x="1268.5" y="2519.9" font-size="39.5" fill="#4d4d4d" stroke="#4d4d4d" text-anchor="middle">30</text>
<text x="862.1" y="2027.8" font-size="46" fill="#1a1a1a" stroke="#1a1a1a">Pearson r = 0.44</text>
<text x="862.1" y="2068.1" font-size="46" fill="#1a1a1a" stroke="#1a1a1a">p &lt; 2.2e-16</text>
<text x="716" y="1983" font-size="53" font-weight="bold" fill="#000">k</text>
<text x="876.4" y="2556" font-size="46" fill="#1a1a1a" stroke="#1a1a1a">log<tspan font-size="27.5" dy="15">2</tspan><tspan dy="-15">(AD) [H3K-total-ac]</tspan></text>
<text transform="translate(784.9,2400.8) rotate(-90)" x="0" y="0" font-size="46" fill="#1a1a1a" stroke="#1a1a1a">log<tspan font-size="27.5" dy="15">2</tspan><tspan dy="-15">(AD) [RNA]</tspan></text>
</g>
<g id="pl">
<clipPath id="cl"><rect x="1551.1" y="1989.5" width="540.3" height="489.9"/></clipPath>
<g clip-path="url(#cl)">
<g clip-path="url(#gl)"><g fill="#707070" fill-opacity="0.17" filter="url(#bl4)"><path d="M1814 2350l-8 3l0 9l9-3zM1576 2272l0 179l6 3l33-3l40-21l35-8l38-33l19-2l10-8l2-10l-20-11l-11-29l-5-5l-19-8l-23-27l-23-15l-55-18l-12 2z"/><path d="M1599 2282l-15 7l-9 22l0 126l10 5l15-1l14-6l37-27l16-28l29-5l5-7l-4-18l-15-16l-8-16l-7-7l-10-4l-21 0l-28-22z"/><path d="M1603 2322l-13 2l-15 15l0 86l10 6l19-3l24-21l7-14l5-25l0-12l-4-8l-20-19z"/><path d="M1593 2342l-9 2l-9 8l0 62l14 8l7-1l15-10l9-14l2-9l-2-17l-6-14l-10-11z"/><path d="M1587 2354l-12 11l0 38l6 7l10 3l8-3l8-8l5-20l-9-22l-9-6z"/></g></g><g clip-path="url(#gl)"><g fill="#e8231f" fill-opacity="0.2" filter="url(#bl3)"><path d="M1657 2356l-1 5l5 1l1-5zM1696 2350l-13 0l-4 3l-1 5l4 4l10 0l4-8zM1627 2312l-10 4l-6-1l-6-5l-7 2l-7-1l-8 9l2 5l0 4l-2 2l-2-8l-6 0l-2 2l-1 4l4 5l-2 6l2 6l-6 8l-1 52l2 4l-1 16l4 5l14 0l3-2l6 0l9-5l5-6l17-6l6-9l-5-16l5-1l4 4l4 1l5-2l4-7l-1-5l-9 1l-4-4l3-6l9-1l1-5l-12-13l-2-9l-14-5l-4 0l-4 4l-5-3l2-3l7 0l10-10l2-9zM1626 2347l4 2l-3 7l-4-3zM1592 2333l4-3l4 4l-4 3zM1602 2319l5 1l0 8l-3 0l-4-4zM1578 2297l1 5l7 1l4 4l4 0l4-3l8 0l-1-5l-7 1l-13-6zM1594 2281l-1 5l5 1l1-5z"/><path d="M1683 2353l-2 5l6 1l0-5zM1624 2338l-5 0l-6 6l-7-6l-9 2l-7-2l-3-4l-10 4l0 4l3 5l-8 6l0 24l-2 7l1 23l2 3l-1 14l2 4l2 1l4-3l4 2l15-2l7-5l3-6l8-1l12-6l2-6l-5-4l1-6l-4-9l2-2l7 3l6-2l-6-10l2-4l7-5l1-7l-9-5l-5 9l1 7l-4 1l-6-5l2-7l-7-1l-1-5l7-1l7-6l4-1zM1627 2316l-3 0l-3 4l-6-3l-5 1l0 7l2 4l5 0l3-5l7-5zM1593 2313l-6 5l0 5l3 3l5-1l2-5l0-5zM1591 2301l2 3l1-2z"/><path d="M1637 2356l-4 0l-2 4l1 4l4 0l2-2l1-4zM1625 2341l-5-2l-3 6l4 1zM1580 2338l-1 4l3 3l0 3l-6 2l-4 7l-1 39l1 11l3 4l-2 11l2 4l6-3l6 4l4-3l6 1l5-2l3-3l0-3l-4-5l4-3l3 4l4 0l-1-5l3-4l2 0l4 5l8-3l1-3l-5-5l0-9l-3-7l2-3l10 3l1-3l-8-9l-7-2l-5-5l2-4l-5-4l0-10l-2-4l-22 0l-3-3zM1613 2318l-2 5l3 4l2 0l2-6zM1593 2315l-4 4l1 4l4-1l1-5z"/><path d="M1607 2341l-6 2l-5 0l-2-2l-10 2l-3-3l3 7l-3 3l-5 1l-3 4l-1 44l1 9l3 3l-2 5l0 5l2 3l7-2l4 3l3-2l9 0l4-2l1-3l-5-3l0-3l6-6l4 0l4-5l4 0l6 6l4-2l-5-7l1-7l-4-11l3-3l6-1l-3-4l-8-2l-7-6l0-18zM1613 2320l-1 3l3 2l1-4z"/><path d="M1621 2401l0 2l4 2l0-2zM1606 2342l-7 3l-8-3l-9 9l-5 0l-3 3l-2 41l1 11l4 5l-2 5l1 6l5-2l5 3l15-2l2-2l-6-5l5-7l6-3l3-5l10-1l1-7l-7-14l6-2l1-2l-3-1l-3 3l-3-2l-6-15l2-10z"/><path d="M1606 2344l-8 3l-4-3l-4 0l-7 7l-8 2l-3 36l2 18l5 5l-3 4l1 5l3-2l6 3l10-2l1-8l7-8l3-1l1-4l3-2l8 0l2-2l0-4l-4-8l-5-3l1-5l-8-19l0-4l2-2z"/><path d="M1605 2346l-7 4l-5 0l0-4l-2-1l-6 6l-8 1l-2 2l-2 43l1 9l6 5l-3 8l4-1l5 3l7-1l3-8l11-11l2-5l11-1l-4-11l-5-2l1-8l-10-22zM1587 2412l3-1l1 2l-2 1z"/><path d="M1587 2350l-4 3l-6 0l-2 2l-2 38l2 13l7 6l-2 4l6 4l5 0l3-2l0-5l12-12l1-6l11 0l1-3l-5-7l-3 1l-2-3l2-9l-10-21l-3-2l-5 1zM1585 2412l2-2l4 0l2 3l-5 2z"/><path d="M1583 2416l4 4l6-3l-6-2zM1612 2388l-2 4l2 2l4 0l1-2l-3-4zM1587 2351l-4 3l-7 0l-2 11l1 14l-2 5l1 15l3 9l6 3l5-2l6 2l4-2l7-8l0-7l3-3l0-7l3-8l-11-22l-3-2l-4 1z"/><path d="M1585 2416l2 3l2-1zM1577 2354l-2 8l0 18l-2 5l2 19l8 6l12 0l9-9l0-8l3-4l3-14l-5-6l0-5l-7-3l2-4l-2-4l-5 1l-6-2l-3 2z"/><path d="M1578 2354l-2 3l0 19l-2 6l2 23l6 4l14 0l8-9l-1-7l4-7l2-12l-5-3l-5 0l0-2l5-4l-6-1l-1-3l2-5l-2-2z"/></g></g><g fill="none" stroke="#e63a26" stroke-opacity="0.85" stroke-width="4.3" stroke-linecap="round"><path d="M1576 2120h0m76 18h0m76 44h0m-77 18h0m42 27h0m-70 8h0m67 4h0m-106 2h0m13 14h0m233 12h0m-234 2h0m26 5h0m-44 6h0m31 2h0m-26 6h0m11 1h0m114 0h0m-103 2h0m22 2h0m-29 1h0m37 0h0m-57 1h0m48 0h0m90 0h0m-75 2h0m-29 2h0m0 0h0m128 0h0m-158 4h0m27 0h0m31 0h0m-55 1h0m66 0h0m5 0h0m108 4h0m-186 2h0m27 0h0m79 0h0m-31 1h0m-67 1h0m36 0h0m14 1h0m56 1h0m131 0h0m-222 1h0m0 1h0m48 1h0m-15 1h0m25 0h0m-32 2h0m54 0h0m-88 1h0m71 0h0m8 0h0m-83 2h0m-13 1h0m83 0h0m-46 1h0m54 0h0m-58 1h0m190 2h0m-182 1h0m31 0h0m-66 2h0m54 1h0m47 2h0m8 0h0m155 0h0m-266 1h0m10 0h0m81 0h0m77 1h0m-136 1h0m-15 1h0m3 1h0m8 0h0m-17 1h0m78 0h0m42 0h0m-51 1h0m-71 1h0m218 0h0m-210 1h0m23 0h0m-42 1h0m74 0h0m68 0h0m-87 1h0m-9 1h0m-48 1h0m328 0h0m-308 1h0m18 0h0m30 0h0m96 1h0m-108 2h0m18 1h0m6 0h0m48 0h0m112 2h0m-81 1h0m-54 1h0m-30 2h0m9 0h0m38 1h0m-59 2h0m23 0h0m-70 1h0m12 0h0m-22 1h0m16 0h0m120 1h0m-138 2h0m0 0h0m27 1h0m250 0h0m-279 1h0m138 0h0m-90 1h0m-50 1h0m49 5h0m45 0h0m-76 2h0m200 0h0m-145 1h0m-49 1h0m138 0h0m-82 2h0m-63 2h0m93 0h0m-104 1h0m23 0h0m-29 1h0m127 0h0m-126 1h0m76 0h0m-46 1h0m29 0h0m7 0h0m94 0h0m-154 1h0m26 0h0m-20 1h0m5 1h0m108 0h0m-100 1h0m-6 2h0m8 3h0m-23 1h0m42 0h0m103 0h0m-116 1h0m74 0h0m-49 1h0m-4 1h0m31 1h0m-7 1h0m-71 4h0m33 0h0m-14 1h0m54 0h0m-40 2h0m-36 2h0m8 0h0m1 0h0m55 1h0m-47 4h0m2 0h0m10 1h0m66 0h0m81 2h0m-162 2h0m38 1h0m-54 3h0m126 0h0m-121 1h0m48 0h0m-40 1h0m12 2h0m2 1h0m10 1h0m-34 3h0m62 2h0m-59 2h0m159 11h0m-158 3h0"/><path d="M1669 2127h0m26 22h0m-94 32h0m50 32h0m-2 4h0m-30 24h0m11 2h0m-3 9h0m41 15h0m-83 2h0m18 5h0m44 2h0m30 0h0m-56 8h0m-22 1h0m231 12h0m-156 2h0m-72 1h0m106 2h0m-54 1h0m-57 2h0m86 1h0m46 5h0m-50 4h0m-73 1h0m3 0h0m-34 1h0m89 0h0m53 2h0m-63 1h0m-1 3h0m-51 1h0m-5 1h0m-18 1h0m65 0h0m-58 2h0m-3 1h0m-8 2h0m154 0h0m92 0h0m-202 1h0m39 0h0m21 1h0m-93 2h0m60 0h0m-1 1h0m38 0h0m-64 1h0m14 0h0m61 0h0m-34 1h0m-26 1h0m31 2h0m-2 1h0m114 1h0m-199 2h0m61 0h0m40 0h0m0 0h0m-81 1h0m33 1h0m169 1h0m-151 1h0m10 0h0m-77 1h0m69 0h0m-37 2h0m155 0h0m59 0h0m-224 2h0m30 0h0m4 0h0m51 0h0m124 0h0m-237 1h0m40 0h0m11 0h0m3 1h0m38 0h0m70 0h0m-117 1h0m32 0h0m-12 1h0m123 0h0m42 0h0m-40 1h0m-133 1h0m20 0h0m34 0h0m-91 1h0m38 0h0m131 1h0m-99 1h0m-61 2h0m45 0h0m-14 1h0m70 1h0m-83 1h0m7 0h0m170 0h0m-203 1h0m157 0h0m66 0h0m-244 1h0m13 0h0m12 1h0m115 0h0m-110 1h0m71 0h0m-77 1h0m-6 1h0m33 0h0m30 0h0m144 1h0m-158 2h0m1 0h0m61 0h0m-41 1h0m-85 2h0m37 0h0m182 1h0m-189 1h0m40 0h0m93 0h0m-83 1h0m35 1h0m-112 1h0m171 0h0m-164 1h0m-6 1h0m-4 2h0m26 0h0m76 0h0m28 0h0m-74 2h0m-15 2h0m12 1h0m26 0h0m-50 2h0m9 0h0m-5 1h0m-28 1h0m45 1h0m-50 1h0m69 1h0m166 0h0m-172 2h0m40 0h0m-38 3h0m-33 1h0m-32 1h0m1 0h0m28 2h0m6 0h0m80 1h0m53 0h0m-137 1h0m8 0h0m60 0h0m-33 1h0m-45 2h0m10 3h0m22 3h0m28 5h0m16 0h0m-37 4h0m33 0h0m-65 4h0m-11 3h0m-13 1h0m39 1h0m-44 8h0m10 0h0m31 0h0m35 2h0m-39 5h0"/><path d="M1679 2099h0m-93 55h0m46 9h0m-25 17h0m-20 6h0m21 25h0m-24 21h0m39 10h0m-16 8h0m-9 3h0m-17 11h0m51 5h0m-3 2h0m2 0h0m74 1h0m-49 3h0m-77 1h0m71 0h0m32 1h0m-89 4h0m4 1h0m15 0h0m-23 1h0m-6 1h0m18 1h0m22 5h0m-19 1h0m52 0h0m-80 4h0m101 0h0m-54 3h0m-37 1h0m13 1h0m5 1h0m-12 1h0m-8 2h0m10 1h0m71 1h0m-16 1h0m-68 2h0m193 0h0m-101 2h0m-82 1h0m13 2h0m30 0h0m-20 2h0m41 0h0m1 1h0m12 2h0m-82 2h0m-6 2h0m37 0h0m11 1h0m-1 2h0m-7 3h0m9 0h0m-35 2h0m-2 1h0m6 0h0m11 0h0m66 0h0m49 0h0m-123 1h0m1 1h0m61 0h0m32 0h0m48 0h0m-103 1h0m-58 5h0m37 1h0m12 0h0m-1 1h0m9 0h0m-9 1h0m-45 1h0m62 0h0m20 0h0m30 1h0m-112 2h0m141 0h0m-118 4h0m28 2h0m62 1h0m2 2h0m-120 1h0m36 0h0m-24 2h0m28 0h0m19 0h0m-25 1h0m48 0h0m8 0h0m-42 1h0m25 1h0m35 0h0m-110 2h0m115 0h0m-98 2h0m-10 1h0m16 0h0m45 0h0m33 2h0m69 0h0m-170 1h0m118 0h0m-23 1h0m-90 1h0m21 0h0m-6 2h0m37 0h0m15 0h0m1 0h0m72 0h0m53 1h0m-66 2h0m-31 1h0m-90 1h0m52 0h0m-23 2h0m1 0h0m65 0h0m-97 1h0m3 0h0m10 0h0m75 0h0m-80 1h0m17 0h0m-25 2h0m11 0h0m-4 1h0m-12 2h0m85 0h0m100 0h0m-106 1h0m53 0h0m-129 1h0m14 0h0m2 0h0m38 0h0m-54 1h0m24 2h0m12 0h0m185 2h0m-224 1h0m14 0h0m-7 1h0m10 0h0m100 0h0m4 0h0m67 0h0m-144 1h0m16 1h0m-51 2h0m-2 1h0m47 3h0m52 0h0m-59 1h0m39 0h0m-90 2h0m17 0h0m15 1h0m72 0h0m-34 1h0m-10 5h0m19 1h0m37 3h0m50 1h0m-63 1h0m-99 1h0m16 0h0m25 0h0m-44 1h0m15 3h0m7 0h0m20 2h0m93 1h0m-84 3h0m-24 1h0m-21 11h0"/><path d="M1604 2057h0m4 158h0m75 13h0m13 9h0m-102 14h0m83 3h0m40 1h0m-95 13h0m-14 1h0m40 7h0m8 1h0m-46 4h0m74 6h0m-84 1h0m62 3h0m-85 4h0m20 1h0m24 0h0m5 0h0m208 0h0m-183 2h0m27 1h0m200 2h0m-288 1h0m64 3h0m-48 1h0m131 0h0m-37 4h0m-101 1h0m13 0h0m11 0h0m65 0h0m128 0h0m-180 1h0m-39 1h0m24 0h0m27 1h0m21 0h0m-70 1h0m31 2h0m18 1h0m20 1h0m-57 1h0m15 2h0m46 0h0m-92 1h0m14 0h0m112 4h0m72 1h0m-63 1h0m9 0h0m-72 1h0m1 0h0m48 2h0m-17 1h0m-58 1h0m42 0h0m-42 2h0m20 0h0m-65 1h0m11 0h0m8 1h0m24 1h0m31 0h0m16 1h0m38 1h0m-121 1h0m190 1h0m-203 1h0m7 0h0m33 0h0m199 1h0m-141 1h0m-91 2h0m27 0h0m16 0h0m20 2h0m42 1h0m9 0h0m-54 3h0m37 0h0m-72 1h0m65 0h0m19 0h0m-74 3h0m-26 1h0m85 0h0m155 0h0m-249 2h0m146 0h0m80 1h0m-143 2h0m-53 1h0m33 0h0m-42 1h0m81 0h0m-58 1h0m51 0h0m27 0h0m-113 1h0m13 0h0m68 0h0m220 0h0m-286 1h0m32 0h0m39 0h0m33 1h0m222 0h0m-348 3h0m107 0h0m-91 1h0m23 0h0m77 0h0m-121 1h0m34 0h0m89 0h0m-117 2h0m49 0h0m-55 1h0m158 0h0m15 0h0m-169 2h0m122 0h0m-67 1h0m134 0h0m11 0h0m-197 1h0m-8 1h0m71 0h0m56 3h0m-122 2h0m46 0h0m1 0h0m-23 2h0m42 0h0m-39 1h0m-28 1h0m116 0h0m12 0h0m-134 1h0m167 1h0m-154 1h0m100 2h0m-106 1h0m56 0h0m-50 1h0m16 0h0m-29 1h0m80 1h0m-67 1h0m19 0h0m26 0h0m-29 2h0m-16 4h0m15 0h0m2 0h0m-22 1h0m18 1h0m44 0h0m-63 1h0m16 0h0m2 1h0m49 0h0m-58 2h0m-14 2h0m10 2h0m17 0h0m96 0h0m-122 1h0m5 0h0m26 0h0m11 2h0m-23 1h0m57 3h0m-50 10h0m-17 2h0m-9 4h0m22 5h0m12 2h0m21 9h0"/></g>
<polygon points="1575.3,2351.0 1596.8,2347.4 1618.2,2343.2 1639.7,2338.4 1661.2,2333.4 1682.7,2328.2 1704.1,2323.0 1725.6,2317.7 1747.1,2312.3 1768.5,2307.0 1790.0,2301.6 1811.5,2296.3 1832.9,2290.9 1854.4,2285.5 1875.9,2280.1 1897.4,2274.7 1918.8,2269.3 1940.3,2263.9 1961.8,2258.6 1983.2,2253.2 2004.7,2247.8 2026.2,2242.4 2047.7,2237.0 2069.1,2231.6 2090.6,2226.2 2090.6,2290.8 2069.1,2293.4 2047.7,2296.0 2026.2,2298.6 2004.7,2301.2 1983.2,2303.8 1961.8,2306.4 1940.3,2309.0 1918.8,2311.6 1897.4,2314.2 1875.9,2316.8 1854.4,2319.4 1832.9,2322.0 1811.5,2324.6 1790.0,2327.3 1768.5,2329.9 1747.1,2332.5 1725.6,2335.2 1704.1,2337.9 1682.7,2340.6 1661.2,2343.4 1639.7,2346.4 1618.2,2349.6 1596.8,2353.4 1575.3,2357.8" fill="#fbe3d8"/>
<line x1="1575.3" y1="2354.4" x2="2090.6" y2="2258.5" stroke="#000" stroke-width="3.8"/>
</g>
<rect x="1551.1" y="1989.5" width="540.3" height="489.9" fill="none" stroke="#333" stroke-width="2.2"/>
<path d="M1542.1 2457.3H1551.1M1542.1 2308.6H1551.1M1542.1 2159.8H1551.1M1542.1 2011.1H1551.1M1575.3 2479.4V2488.4M1739.8 2479.4V2488.4M1903.9 2479.4V2488.4M2067.2 2479.4V2488.4" stroke="#333" stroke-width="4.4" fill="none"/>
<text x="1540.1" y="2470.9" font-size="39.5" fill="#4d4d4d" stroke="#4d4d4d" text-anchor="end">0</text>
<text x="1540.1" y="2322.2" font-size="39.5" fill="#4d4d4d" stroke="#4d4d4d" text-anchor="end">1</text>
<text x="1540.1" y="2173.4" font-size="39.5" fill="#4d4d4d" stroke="#4d4d4d" text-anchor="end">2</text>
<text x="1540.1" y="2024.7" font-size="39.5" fill="#4d4d4d" stroke="#4d4d4d" text-anchor="end">3</text>
<text x="1575.3" y="2521.9" font-size="39.5" fill="#4d4d4d" stroke="#4d4d4d" text-anchor="middle">0</text>
<text x="1739.8" y="2521.9" font-size="39.5" fill="#4d4d4d" stroke="#4d4d4d" text-anchor="middle">1</text>
<text x="1903.9" y="2521.9" font-size="39.5" fill="#4d4d4d" stroke="#4d4d4d" text-anchor="middle">2</text>
<text x="2067.2" y="2521.9" font-size="39.5" fill="#4d4d4d" stroke="#4d4d4d" text-anchor="middle">3</text>
<text x="1558.0" y="2032.7" font-size="46" fill="#1a1a1a" stroke="#1a1a1a">Pearson r = 0.18</text>
<text x="1558.0" y="2068.1" font-size="46" fill="#1a1a1a" stroke="#1a1a1a">p &lt; 6.5e-7</text>
<text x="1434" y="1983.5" font-size="53" font-weight="bold" fill="#000">l</text>
<text x="1516.6" y="2556" font-size="46" fill="#1a1a1a" stroke="#1a1a1a">I log<tspan font-size="27.5" dy="15">2</tspan><tspan dy="-15">(AD/Old) I [H3K-total-ac]</tspan></text>
<text transform="translate(1490,2459.2) rotate(-90)" x="0" y="0" font-size="46" fill="#1a1a1a" stroke="#1a1a1a">I log<tspan font-size="27.5" dy="15">2</tspan><tspan dy="-15">(AD/Old) I [RNA]</tspan></text>
</g>
<defs><clipPath id="ga"><rect x="169" y="97" width="379" height="422"/></clipPath><clipPath id="gb"><rect x="856" y="100" width="404" height="434"/></clipPath><clipPath id="gc"><rect x="1583" y="101" width="365" height="425"/></clipPath><clipPath id="gd"><rect x="165" y="713" width="379" height="465"/></clipPath><clipPath id="ge"><rect x="870" y="763" width="429" height="421"/></clipPath><clipPath id="gf"><rect x="1598" y="803" width="436" height="361"/></clipPath><clipPath id="gg"><rect x="155" y="1420" width="304" height="382"/></clipPath><clipPath id="gh"><rect x="872" y="1396" width="254" height="406"/></clipPath><clipPath id="gi"><rect x="1577" y="1428" width="178" height="374"/></clipPath><clipPath id="gj"><rect x="158" y="2069" width="439" height="389"/></clipPath><clipPath id="gk"><rect x="881" y="2055" width="408" height="402"/></clipPath><clipPath id="gl"><rect x="1574" y="2056" width="358" height="401"/></clipPath></defs>
</svg></body></html>
